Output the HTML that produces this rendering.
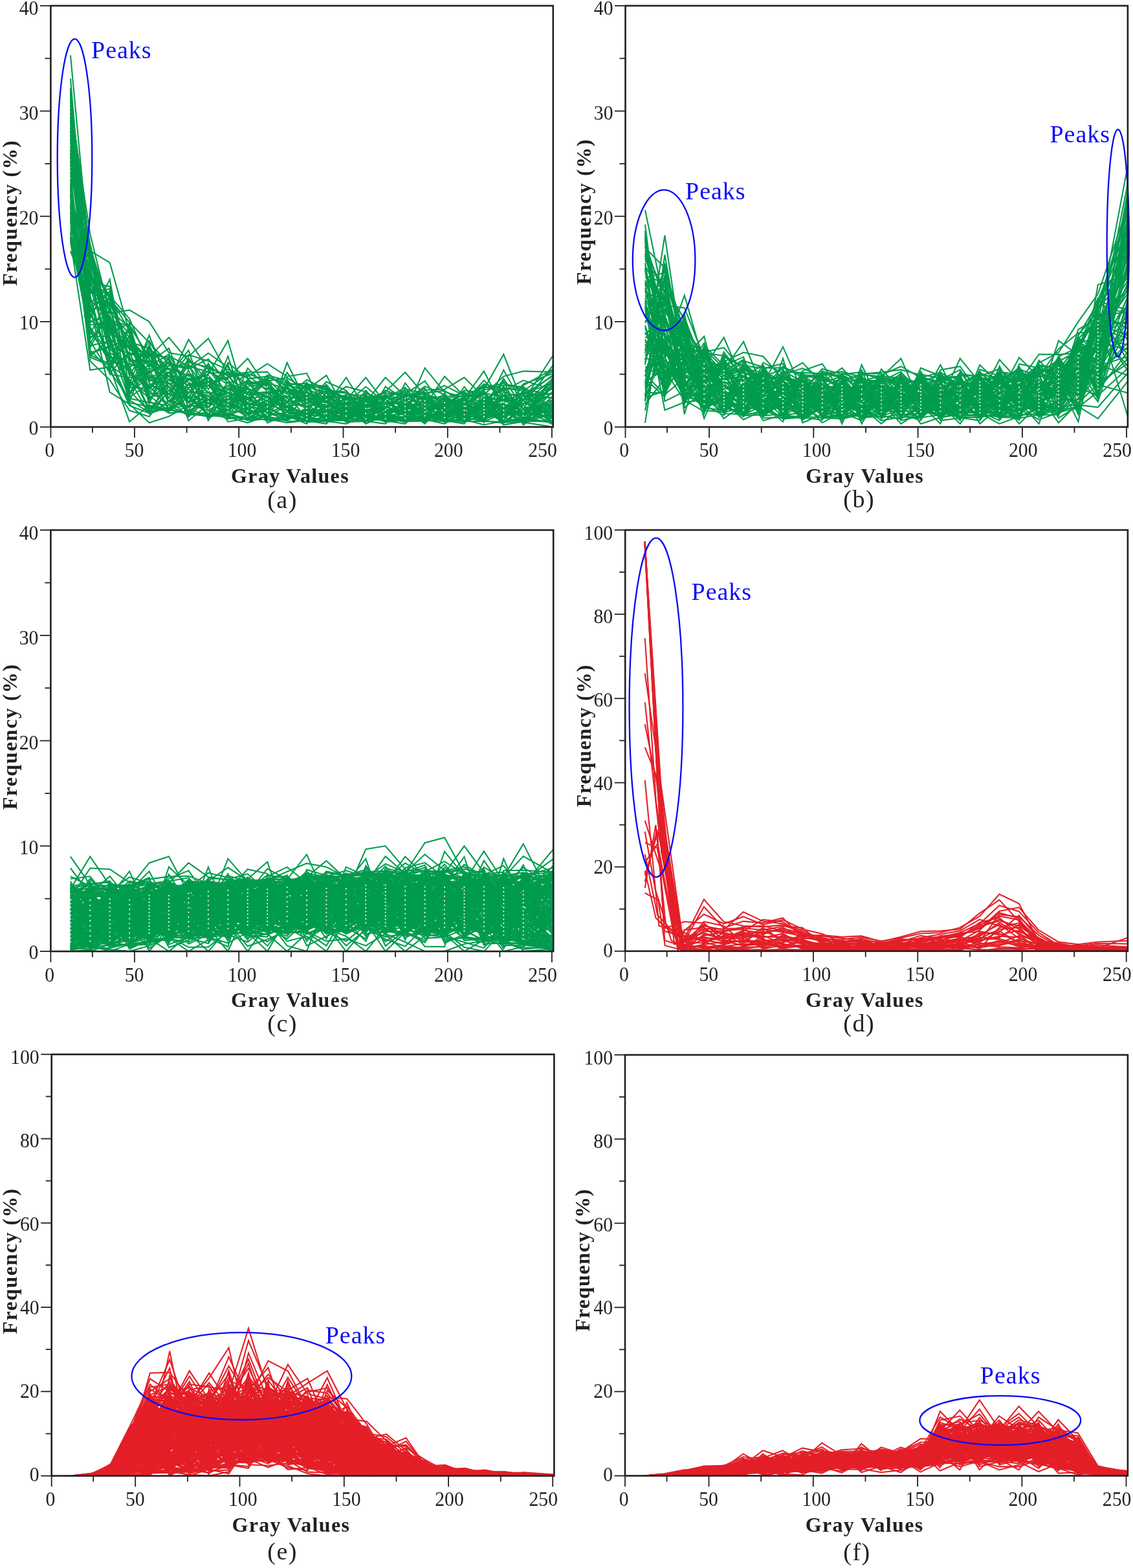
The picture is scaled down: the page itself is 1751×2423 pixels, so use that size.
<!DOCTYPE html><html><head><meta charset="utf-8"><title>Gray value histograms</title><style>
html,body{margin:0;padding:0;background:#fff;overflow:hidden;width:1751px;height:2423px;}svg{display:block;}
.tk{font-family:'Liberation Serif', 'Times New Roman', serif;font-size:31px;fill:#231f20;}
.ttl{font-family:'Liberation Serif', 'Times New Roman', serif;font-size:32px;font-weight:bold;fill:#231f20;}
.lab{font-family:'Liberation Serif', 'Times New Roman', serif;font-size:38px;fill:#231f20;}
.pk{font-family:'Liberation Serif', 'Times New Roman', serif;font-size:38px;fill:#0a0af5;}
</style></head><body>
<svg width="1751" height="2423" viewBox="0 0 1751 2423">
<rect width="1751" height="2423" fill="#fff"/>
<defs>
<clipPath id="clipa"><rect x="78.4" y="8.9" width="776.4" height="650.9"/></clipPath>
<clipPath id="clipb"><rect x="966.5" y="8.9" width="776.4" height="650.9"/></clipPath>
<clipPath id="clipc"><rect x="78.4" y="819.1" width="776.8" height="651"/></clipPath>
<clipPath id="clipd"><rect x="966.2" y="819" width="776.7" height="650.8"/></clipPath>
<clipPath id="clipe"><rect x="79.7" y="1629.3" width="776.7" height="651.3"/></clipPath>
<clipPath id="clipf"><rect x="966" y="1630.1" width="776.9" height="650.4"/></clipPath>
</defs>
<g clip-path="url(#clipa)" fill="none" stroke="#009c4e" stroke-width="2.1" stroke-linejoin="miter" stroke-miterlimit="4">
<polyline points="108.9,185.6 139.3,523.4 169.7,489.6 200.1,620.5 230.6,542.7 261,611.3 291.4,555.6 321.9,589 352.3,601.5 382.7,588.5 413.2,596.5 443.6,626.7 474,625.2 504.4,628.2 534.9,609.5 565.3,611.3 595.7,631.3 626.2,611.3 656.6,616.6 687,643.5 717.5,624.3 747.9,635.8 778.3,571.7 808.7,625.8 854.8,564.2"/>
<polyline points="108.9,315.9 139.3,530.5 169.7,479.6 200.1,506 230.6,602.6 261,558.5 291.4,624 321.9,622 352.3,550.6 382.7,641.6 413.2,621.6 443.6,617.3 474,607.6 504.4,620.5 534.9,648.4 565.3,628.3 595.7,614.3 626.2,618.8 656.6,599.8 687,649 717.5,618.7 747.9,593.5 778.3,601.2 808.7,599.8 854.8,644.7"/>
<polyline points="108.9,151.7 139.3,387.6 169.7,405.9 200.1,513.5 230.6,617.6 261,577.7 291.4,620.9 321.9,576.5 352.3,575.8 382.7,636.7 413.2,602.7 443.6,641.7 474,647.7 504.4,607.7 534.9,612.3 565.3,633.3 595.7,637.7 626.2,635.7 656.6,637.2 687,650.6 717.5,619.6 747.9,641.4 778.3,588.7 808.7,650.4 854.8,590.6"/>
<polyline points="108.9,277 139.3,527 169.7,576.4 200.1,543.4 230.6,619.8 261,638.3 291.4,635 321.9,617.5 352.3,628.2 382.7,620.9 413.2,587 443.6,635.2 474,599.5 504.4,632.1 534.9,649.1 565.3,632.3 595.7,644.1 626.2,645.9 656.6,646.7 687,617.6 717.5,636.5 747.9,634 778.3,649.4 808.7,610.1 854.8,580.9"/>
<polyline points="108.9,254.1 139.3,450.1 169.7,469.6 200.1,530.9 230.6,576.9 261,554.6 291.4,630.3 321.9,596.1 352.3,622.8 382.7,639.1 413.2,634.7 443.6,575.6 474,618.4 504.4,612.8 534.9,650.9 565.3,620.3 595.7,635.5 626.2,637.2 656.6,651.2 687,635.7 717.5,643.5 747.9,621 778.3,598.2 808.7,639.4 854.8,619.5"/>
<polyline points="108.9,365.8 139.3,505.6 169.7,549.6 200.1,588.4 230.6,615.5 261,593.1 291.4,589.9 321.9,619 352.3,644.4 382.7,653.3 413.2,642.2 443.6,637.4 474,650.3 504.4,654.9 534.9,624.3 565.3,640.5 595.7,649.8 626.2,647.4 656.6,649 687,651.2 717.5,647.4 747.9,616.1 778.3,602.7 808.7,656.5 854.8,627.1"/>
<polyline points="108.9,248.4 139.3,494.9 169.7,512.1 200.1,538.4 230.6,566.2 261,547.4 291.4,601.8 321.9,616 352.3,629.6 382.7,591.6 413.2,590.2 443.6,621.8 474,648.7 504.4,610.3 534.9,632.3 565.3,635.5 595.7,627.3 626.2,610.2 656.6,613.4 687,614.7 717.5,625.2 747.9,610.1 778.3,581.6 808.7,573.6 854.8,574.7"/>
<polyline points="108.9,344.4 139.3,434 169.7,542.1 200.1,528.4 230.6,538.4 261,570 291.4,579.9 321.9,594.3 352.3,582.6 382.7,577.4 413.2,588.6 443.6,583.9 474,602.2 504.4,580.1 534.9,636.3 565.3,621.3 595.7,583.3 626.2,612.3 656.6,609.1 687,595.9 717.5,611.3 747.9,597.7 778.3,604.2 808.7,587.8 854.8,602.1"/>
<polyline points="108.9,362.3 139.3,430.8 169.7,547.1 200.1,590.9 230.6,609.1 261,606.6 291.4,577.9 321.9,606.8 352.3,610 382.7,607.3 413.2,605.9 443.6,603.8 474,627.8 504.4,619.2 534.9,639.8 565.3,637 595.7,618.3 626.2,640.4 656.6,645.9 687,642.7 717.5,616.8 747.9,636.8 778.3,651.4 808.7,649.4 854.8,621.4"/>
<polyline points="108.9,214.2 139.3,498.4 169.7,487.1 200.1,575.9 230.6,596.2 261,630.2 291.4,627.2 321.9,626.5 352.3,620.1 382.7,635.5 413.2,636.8 443.6,644.9 474,639.7 504.4,634 534.9,622.3 565.3,644.8 595.7,646.3 626.2,650.6 656.6,640.4 687,648.2 717.5,635.7 747.9,647.9 778.3,637.4 808.7,635.4 854.8,653.6"/>
<polyline points="108.9,388 139.3,462.9 169.7,494.6 200.1,503.8 230.6,551.2 261,521.5 291.4,557.9 321.9,569.4 352.3,579.2 382.7,575.2 413.2,574.7 443.6,606.8 474,606.2 504.4,616.7 534.9,597.5 565.3,605.4 595.7,634.8 626.2,627.3 656.6,620.9 687,628.6 717.5,613.1 747.9,611.3 778.3,652.5 808.7,628.3 854.8,636.6"/>
<polyline points="108.9,141.1 139.3,421.2 169.7,482.1 200.1,516 230.6,568.4 261,585.4 291.4,606.8 321.9,583.6 352.3,626.8 382.7,612.1 413.2,579.8 443.6,588.3 474,626.6 504.4,594.2 534.9,633.3 565.3,634.8 595.7,632.3 626.2,642 656.6,614.5 687,618.6 717.5,605.4 747.9,627.1 778.3,648.4 808.7,621 854.8,635.3"/>
<polyline points="108.9,370.5 139.3,392.3 169.7,522.1 200.1,555.9 230.6,559.8 261,538.2 291.4,616.2 321.9,638.5 352.3,617.4 382.7,586.9 413.2,601.2 443.6,605.3 474,603.5 504.4,640.5 534.9,625.3 565.3,622.3 595.7,613.3 626.2,630.5 656.6,633.3 687,615.7 717.5,629.8 747.9,640.5 778.3,625.1 808.7,646.4 854.8,629.8"/>
<polyline points="108.9,231.3 139.3,440.4 169.7,472.1 200.1,610.9 230.6,535.6 261,617.6 291.4,644 321.9,614.5 352.3,606.6 382.7,644 413.2,616.9 443.6,627.7 474,642.7 504.4,641.4 534.9,631.3 565.3,648.4 595.7,645.5 626.2,623 656.6,639.6 687,619.6 717.5,651.2 747.9,651.1 778.3,651.9 808.7,647.4 854.8,640.7"/>
<polyline points="108.9,330.1 139.3,424.4 169.7,509.6 200.1,595.9 230.6,562 261,579.7 291.4,541.4 321.9,631 352.3,591.2 382.7,634.3 413.2,647.9 443.6,590.3 474,615.7 504.4,618 534.9,640.5 565.3,626.3 595.7,639.8 626.2,624.1 656.6,650.3 687,612.7 717.5,645.1 747.9,630.3 778.3,631.4 808.7,616.1 854.8,598.3"/>
<polyline points="108.9,135.9 139.3,456.5 169.7,569.6 200.1,501.9 230.6,553.4 261,620.7 291.4,583.9 321.9,599.7 352.3,574.1 382.7,593.2 413.2,593.3 443.6,623.3 474,595.3 504.4,601.3 534.9,616.3 565.3,614.3 595.7,611.3 626.2,606 656.6,634.1 687,607.9 717.5,642.7 747.9,645.1 778.3,622.1 808.7,612.5 854.8,648.8"/>
<polyline points="108.9,301.6 139.3,551.9 169.7,564.6 200.1,585.9 230.6,639.5 261,628.6 291.4,603.6 321.9,632.5 352.3,624.1 382.7,645.2 413.2,641.1 443.6,638.5 474,590.9 504.4,649.8 534.9,646.3 565.3,647.7 595.7,629.3 626.2,636.5 656.6,610.2 687,616.6 717.5,620.5 747.9,653.1 778.3,605.7 808.7,614.9 854.8,579"/>
<polyline points="108.9,376.8 139.3,411.5 169.7,578.6 200.1,583.4 230.6,574.8 261,560.4 291.4,591.9 321.9,645.7 352.3,633.6 382.7,601.1 413.2,612.2 443.6,636.3 474,644.7 504.4,631.2 534.9,642.7 565.3,603.3 595.7,636.3 626.2,633.3 656.6,654.9 687,622.6 717.5,645.9 747.9,650.3 778.3,608.6 808.7,629.4 854.8,588.7"/>
<polyline points="108.9,225.6 139.3,473.5 169.7,606.1 200.1,624.6 230.6,653.3 261,643.5 291.4,625.6 321.9,634 352.3,635 382.7,637.9 413.2,633.6 443.6,609.8 474,646.7 504.4,650.9 534.9,654.9 565.3,642 595.7,651.2 626.2,649.8 656.6,648.2 687,654.9 717.5,637.2 747.9,637.7 778.3,644.4 808.7,605.2 854.8,632.5"/>
<polyline points="108.9,174.2 139.3,509.1 169.7,559.6 200.1,626.7 230.6,638.4 261,587.4 291.4,605.2 321.9,611.5 352.3,643.9 382.7,648.3 413.2,643.2 443.6,650.7 474,650.6 504.4,643.3 534.9,642 565.3,613.3 595.7,650.9 626.2,646.7 656.6,636.5 687,646.7 717.5,638 747.9,628.3 778.3,614.6 808.7,648.4 854.8,652.9"/>
<polyline points="108.9,358.7 139.3,502 169.7,499.6 200.1,613.4 230.6,594.1 261,609.7 291.4,561.9 321.9,635.5 352.3,647.3 382.7,642.8 413.2,649.8 443.6,648.9 474,629.8 504.4,650.3 534.9,649.8 565.3,636.3 595.7,649.1 626.2,638 656.6,647.4 687,645.9 717.5,627 747.9,605.2 778.3,652.2 808.7,644.4 854.8,654"/>
<polyline points="108.9,259.8 139.3,405.1 169.7,517.1 200.1,523.4 230.6,555.5 261,619.2 291.4,628.8 321.9,610 352.3,598.1 382.7,627 413.2,613.7 443.6,632 474,643.7 504.4,650.6 534.9,644.1 565.3,639.8 595.7,652.3 626.2,649 656.6,642 687,640.4 717.5,621.5 747.9,647 778.3,635.4 808.7,653.9 854.8,611.8"/>
<polyline points="108.9,340.8 139.3,459.7 169.7,574.1 200.1,615.9 230.6,621.9 261,627 291.4,641.3 321.9,637 352.3,636.3 382.7,608.9 413.2,645.4 443.6,625.6 474,640.7 504.4,644.2 534.9,650.3 565.3,646.3 595.7,630.3 626.2,616.6 656.6,638.8 687,625.6 717.5,642 747.9,646 778.3,628.1 808.7,652.8 854.8,639.3"/>
<polyline points="108.9,323 139.3,395.5 169.7,544.6 200.1,565.9 230.6,632.6 261,598.7 291.4,611.5 321.9,620.5 352.3,596.3 382.7,624.6 413.2,626.1 443.6,599.3 474,611.7 504.4,605.1 534.9,607.4 565.3,617.3 595.7,634.1 626.2,628.4 656.6,626.2 687,633.3 717.5,634.9 747.9,604 778.3,641.4 808.7,602.8 854.8,654.4"/>
<polyline points="108.9,121.3 139.3,477 169.7,449.9 200.1,553.4 230.6,587.6 261,591.2 291.4,622.5 321.9,603.3 352.3,643.1 382.7,628.2 413.2,632.5 443.6,586.1 474,632.8 504.4,646 534.9,629.3 565.3,627.3 595.7,621.3 626.2,639.6 656.6,629.5 687,644.3 717.5,634.1 747.9,622.2 778.3,629.4 808.7,641.4 854.8,594.4"/>
<polyline points="108.9,308.7 139.3,385.4 169.7,497.1 200.1,550.9 230.6,613.3 261,608.2 291.4,563.9 321.9,608.5 352.3,625.5 382.7,590.1 413.2,628.3 443.6,645.9 474,638.7 504.4,636.8 534.9,620.3 565.3,629.3 595.7,609.5 626.2,634.9 656.6,652.3 687,611.7 717.5,633.3 747.9,629.3 778.3,647.4 808.7,619.8 854.8,549.1"/>
<polyline points="108.9,371.8 139.3,571.9 169.7,567.1 200.1,651.7 230.6,626.2 261,636 291.4,613.1 321.9,641.5 352.3,644.9 382.7,597.9 413.2,653.3 443.6,640.6 474,651.2 504.4,648.8 534.9,638.4 565.3,650.3 595.7,637 626.2,651.2 656.6,650.6 687,647.4 717.5,652.3 747.9,619.8 778.3,645.4 808.7,652.5 854.8,659.8"/>
<polyline points="108.9,351.6 139.3,414.7 169.7,532.1 200.1,593.4 230.6,518 261,597 291.4,631.9 321.9,642.8 352.3,641.8 382.7,569.1 413.2,598 443.6,628.8 474,652.3 504.4,651.2 534.9,630.3 565.3,651.2 595.7,647 626.2,634.1 656.6,642.7 687,634.9 717.5,638.8 747.9,633.1 778.3,596.7 808.7,645.4 854.8,596.4"/>
<polyline points="108.9,305.2 139.3,418 169.7,504.6 200.1,608.4 230.6,572.7 261,616 291.4,633.5 321.9,587.2 352.3,645.4 382.7,616.8 413.2,610.6 443.6,633.1 474,645.7 504.4,627 534.9,583.3 565.3,631.3 595.7,617.3 626.2,641.2 656.6,634.9 687,613.7 717.5,607.4 747.9,638.6 778.3,640.4 808.7,637.4 854.8,606"/>
<polyline points="108.9,348 139.3,401.9 169.7,459.6 200.1,511 230.6,604.8 261,623.9 291.4,599.8 321.9,581.9 352.3,618.7 382.7,605.8 413.2,591.8 443.6,600.8 474,623.9 504.4,647.9 534.9,644.8 565.3,652.3 595.7,615.3 626.2,603.6 656.6,619.8 687,610.7 717.5,650.3 747.9,642.3 778.3,623.6 808.7,636.4 854.8,623.1"/>
<polyline points="108.9,191.3 139.3,398.7 169.7,529.6 200.1,618.4 230.6,637.3 261,622.3 291.4,573.9 321.9,623.5 352.3,616 382.7,596.4 413.2,594.9 443.6,647 474,635.7 504.4,624.4 534.9,635.5 565.3,638.4 595.7,647.7 626.2,650.9 656.6,632.5 687,639.6 717.5,641.2 747.9,632.1 778.3,652.8 808.7,651.9 854.8,604.1"/>
<polyline points="108.9,271.3 139.3,389.8 169.7,507.1 200.1,535.9 230.6,589.8 261,568.1 291.4,650 321.9,625 352.3,611.8 382.7,622.2 413.2,627.2 443.6,649.5 474,631.8 504.4,595.6 534.9,637.7 565.3,643.4 595.7,644.8 626.2,652.3 656.6,622 687,652.3 717.5,649 747.9,623.4 778.3,646.4 808.7,618.6 854.8,654.8"/>
<polyline points="108.9,197 139.3,541.3 169.7,571.9 200.1,518.5 230.6,611.2 261,635.4 291.4,593.9 321.9,592.6 352.3,639.1 382.7,647.5 413.2,648.3 443.6,642.7 474,654.9 504.4,603.8 534.9,605.4 565.3,644.1 595.7,641.3 626.2,648.2 656.6,643.5 687,650.3 717.5,639.6 747.9,649.8 778.3,653.9 808.7,632.4 854.8,638"/>
<polyline points="108.9,282.7 139.3,550.3 169.7,524.6 200.1,603.4 230.6,636.2 261,605 291.4,638.2 321.9,643.8 352.3,630.9 382.7,625.8 413.2,644.3 443.6,649.2 474,636.7 504.4,642.3 534.9,611.3 565.3,639.1 595.7,650.3 626.2,654.9 656.6,628.4 687,645.1 717.5,631.7 747.9,643.3 778.3,607.1 808.7,643.4 854.8,586.7"/>
<polyline points="108.9,219.9 139.3,377 169.7,502.1 200.1,548.4 230.6,547 261,583.5 291.4,548.2 321.9,558.1 352.3,571.1 382.7,583.8 413.2,631.5 443.6,620.3 474,593.8 504.4,597.1 534.9,647 565.3,615.3 595.7,607.4 626.2,609.1 656.6,588.7 687,631.6 717.5,626.1 747.9,601.6 778.3,547.5 808.7,624.6 854.8,600.2"/>
<polyline points="108.9,319.4 139.3,537.7 169.7,477.1 200.1,570.9 230.6,634.7 261,633.3 291.4,639.1 321.9,605.1 352.3,651.7 382.7,646.4 413.2,640 443.6,624.5 474,617.1 504.4,634.9 534.9,651.2 565.3,650.9 595.7,654.9 626.2,625.2 656.6,612.3 687,634.1 717.5,630.7 747.9,617.4 778.3,626.6 808.7,634.4 854.8,647.5"/>
<polyline points="108.9,294.5 139.3,469.9 169.7,557.1 200.1,568.4 230.6,540.5 261,556.5 291.4,587.9 321.9,580.1 352.3,613.3 382.7,647.1 413.2,624 443.6,611.3 474,621.2 504.4,625.7 534.9,621.3 565.3,649.8 595.7,643.4 626.2,619.8 656.6,596.9 687,609.7 717.5,649.8 747.9,634.9 778.3,639.4 808.7,633.4 854.8,617.6"/>
<polyline points="108.9,168.5 139.3,383.2 169.7,474.6 200.1,580.9 230.6,526.4 261,581.6 291.4,614.6 321.9,564.7 352.3,586.1 382.7,633.1 413.2,646.5 443.6,560.5 474,622.5 504.4,590.1 534.9,603.3 565.3,637.7 595.7,626.3 626.2,642.7 656.6,624.1 687,624.6 717.5,609.5 747.9,599.8 778.3,592.2 808.7,601.6 854.8,609.8"/>
<polyline points="108.9,326.6 139.3,544.8 169.7,537.1 200.1,545.9 230.6,549.1 261,552.3 291.4,619.3 321.9,628 352.3,603.2 382.7,599.5 413.2,615.3 443.6,629.9 474,610.3 504.4,652.3 534.9,628.3 565.3,654.9 595.7,640.5 626.2,645.1 656.6,635.7 687,650.9 717.5,646.7 747.9,618.6 778.3,636.4 808.7,593.5 854.8,576.9"/>
<polyline points="108.9,265.5 139.3,548.7 169.7,562.1 200.1,508.5 230.6,591.9 261,612.9 291.4,553.1 321.9,601.5 352.3,564 382.7,630.6 413.2,647.1 443.6,648.1 474,633.7 504.4,609 534.9,634.8 565.3,642.7 595.7,628.3 626.2,601.1 656.6,608 687,603.7 717.5,623.3 747.9,648.8 778.3,611.6 808.7,608.9 854.8,646.1"/>
<polyline points="108.9,369.1 139.3,437.2 169.7,442.4 200.1,558.4 230.6,557.7 261,571.9 291.4,559.9 321.9,567.6 352.3,580.9 382.7,610.5 413.2,607.5 443.6,631 474,637.7 504.4,630.3 534.9,623.3 565.3,597.5 595.7,622.3 626.2,620.9 656.6,645.1 687,637.2 717.5,632.5 747.9,624.6 778.3,617.6 808.7,623.4 854.8,584.8"/>
<polyline points="108.9,333.7 139.3,453.3 169.7,446.2 200.1,560.9 230.6,579.1 261,595.1 291.4,597.9 321.9,572.9 352.3,594.6 382.7,604.2 413.2,620 443.6,639.5 474,634.7 504.4,600 534.9,619.3 565.3,641.3 595.7,633.3 626.2,629.5 656.6,625.2 687,649.8 717.5,654.9 747.9,614.9 778.3,616.1 808.7,627.1 854.8,651.5"/>
<polyline points="108.9,157.1 139.3,512.7 169.7,554.6 200.1,622.6 230.6,628.3 261,631.7 291.4,639.9 321.9,613 352.3,621.4 382.7,615.2 413.2,637.9 443.6,648.6 474,604.9 504.4,637.7 534.9,645.5 565.3,634.1 595.7,624.3 626.2,622 656.6,644.3 687,638.8 717.5,650.6 747.9,644.2 778.3,632.4 808.7,652.2 854.8,628.5"/>
<polyline points="108.9,312.3 139.3,446.9 169.7,464.6 200.1,533.4 230.6,585.5 261,566.2 291.4,640.6 321.9,642.3 352.3,589.5 382.7,619.7 413.2,622.9 443.6,602.3 474,608.9 504.4,639.6 534.9,614.3 565.3,645.5 595.7,650.6 626.2,591.9 656.6,631.6 687,620.6 717.5,628.9 747.9,651.5 778.3,638.4 808.7,642.4 854.8,625.8"/>
<polyline points="108.9,242.7 139.3,466.3 169.7,453.7 200.1,578.4 230.6,598.3 261,564.2 291.4,569.9 321.9,554.8 352.3,592.9 382.7,579.6 413.2,604.3 443.6,614.3 474,586.8 504.4,602.5 534.9,650.6 565.3,612.3 595.7,616.3 626.2,598.7 656.6,638 687,626.6 717.5,603.3 747.9,607.6 778.3,613.1 808.7,631.4 854.8,656.3"/>
<polyline points="108.9,287.3 139.3,558.1 169.7,587.1 200.1,634.3 230.6,643.8 261,603.5 291.4,617.8 321.9,585.4 352.3,637.7 382.7,649.8 413.2,647.5 443.6,653.3 474,649.7 504.4,635.8 534.9,637 565.3,647 595.7,648.4 626.2,643.5 656.6,650.9 687,636.5 717.5,640.4 747.9,625.8 778.3,656.5 808.7,651.4 854.8,650.2"/>
<polyline points="108.9,85.4 139.3,408.3 169.7,462.1 200.1,498 230.6,529.5 261,562.3 291.4,567.9 321.9,545.7 352.3,567.5 382.7,602.6 413.2,639 443.6,594.8 474,592.4 504.4,611.5 534.9,639.1 565.3,625.3 595.7,620.3 626.2,608 656.6,615.5 687,623.6 717.5,622.4 747.9,587.8 778.3,619.1 808.7,622.2 854.8,642"/>
<polyline points="108.9,367.8 139.3,519.8 169.7,519.6 200.1,605.9 230.6,583.4 261,614.5 291.4,585.9 321.9,578.3 352.3,526.4 382.7,631.9 413.2,618.4 443.6,618.8 474,630.8 504.4,614.1 534.9,613.3 565.3,616.3 595.7,625.3 626.2,613.4 656.6,605.7 687,641.2 717.5,648.2 747.9,656.5 778.3,650.4 808.7,611.3 854.8,633.9"/>
<polyline points="108.9,298 139.3,547 169.7,534.6 200.1,525.9 230.6,581.2 261,600.3 291.4,636.6 321.9,643.3 352.3,632.3 382.7,594.8 413.2,585.3 443.6,615.8 474,628.8 504.4,647 534.9,641.3 565.3,609.5 595.7,642.7 626.2,644.3 656.6,617.7 687,632.5 717.5,615.9 747.9,573.6 778.3,633.4 808.7,640.4 854.8,582.9"/>
<polyline points="108.9,162.8 139.3,362 169.7,484.6 200.1,479.2 230.6,497.1 261,545 291.4,550.7 321.9,523.1 352.3,577.5 382.7,581.8 413.2,562.2 443.6,581.7 474,576.8 504.4,638.6 534.9,627.3 565.3,607.4 595.7,619.3 626.2,626.2 656.6,602.7 687,601.7 717.5,583.3 747.9,613.7 778.3,620.6 808.7,606.4 854.8,615.6"/>
<polyline points="108.9,355.1 139.3,427.6 169.7,492.1 200.1,520.9 230.6,624 261,549.9 291.4,565.9 321.9,574.7 352.3,587.8 382.7,618.3 413.2,583.5 443.6,591.8 474,596.7 504.4,598.6 534.9,615.3 565.3,619.3 595.7,612.3 626.2,615.5 656.6,623 687,630.6 717.5,628 747.9,595.6 778.3,610.1 808.7,638.4 854.8,643.4"/>
<polyline points="108.9,237 139.3,484.2 169.7,552.1 200.1,573.4 230.6,630.5 261,634.2 291.4,571.9 321.9,650 352.3,599.8 382.7,640.4 413.2,625 443.6,634.2 474,641.7 504.4,633.1 534.9,652.3 565.3,650.6 595.7,638.4 626.2,650.3 656.6,649.8 687,638 717.5,644.3 747.9,612.5 778.3,630.4 808.7,607.6 854.8,592.5"/>
<polyline points="108.9,208.5 139.3,516.3 169.7,457.1 200.1,492.5 230.6,564.1 261,589.3 291.4,524.7 321.9,571.2 352.3,608.3 382.7,613.6 413.2,635.8 443.6,593.3 474,614.4 504.4,623.1 534.9,643.4 565.3,623.3 595.7,639.1 626.2,631.6 656.6,618.8 687,627.6 717.5,650.9 747.9,606.4 778.3,643.4 808.7,617.4 854.8,613.7"/>
<polyline points="108.9,179.9 139.3,480.6 169.7,467.1 200.1,540.9 230.6,544.8 261,625.4 291.4,581.9 321.9,629.5 352.3,560.4 382.7,585.4 413.2,581.6 443.6,596.3 474,600.8 504.4,615.4 534.9,647.7 565.3,630.3 595.7,603.3 626.2,614.5 656.6,627.3 687,581.7 717.5,612.2 747.9,608.9 778.3,634.4 808.7,595.6 854.8,570.3"/>
<polyline points="108.9,337.3 139.3,534.1 169.7,527.1 200.1,598.4 230.6,600.5 261,573.9 291.4,609.9 321.9,640 352.3,640.4 382.7,647.9 413.2,629.3 443.6,612.8 474,598.1 504.4,606.4 534.9,634.1 565.3,618.3 595.7,605.4 626.2,575.2 656.6,611.3 687,642 717.5,597.5 747.9,639.6 778.3,642.4 808.7,613.7 854.8,607.9"/>
<polyline points="108.9,146.4 139.3,491.3 169.7,431.8 200.1,600.9 230.6,532.6 261,601.9 291.4,575.9 321.9,597.9 352.3,604.9 382.7,629.4 413.2,609 443.6,597.8 474,619.8 504.4,629.3 534.9,617.3 565.3,624.3 595.7,642 626.2,638.8 656.6,568.7 687,605.8 717.5,614 747.9,602.8 778.3,595.2 808.7,597.7 854.8,631.2"/>
<polyline points="108.9,290.9 139.3,443.7 169.7,539.6 200.1,563.4 230.6,570.5 261,634.8 291.4,608.3 321.9,561.4 352.3,614.6 382.7,623.4 413.2,630.4 443.6,643.8 474,650.9 504.4,645.1 534.9,618.3 565.3,583.3 595.7,623.3 626.2,632.5 656.6,630.5 687,629.6 717.5,615 747.9,631.2 778.3,585.1 808.7,630.4 854.8,624.4"/>
<polyline points="108.9,202.7 139.3,487.7 169.7,514.6 200.1,499.9 230.6,606.9 261,575.8 291.4,595.9 321.9,590.8 352.3,584.3 382.7,554 413.2,599.6 443.6,608.3 474,613 504.4,621.8 534.9,626.3 565.3,649.1 595.7,597.5 626.2,617.7 656.6,641.2 687,621.6 717.5,617.8 747.9,650.7 778.3,599.7 808.7,604 854.8,572.5"/>
</g>
<g clip-path="url(#clipb)" fill="none" stroke="#009c4e" stroke-width="2.1" stroke-linejoin="miter" stroke-miterlimit="4">
<polyline points="997,398.6 1027.4,483.2 1057.8,514.2 1088.2,592.8 1118.7,575.4 1149.1,571.7 1179.5,584.5 1210,582.3 1240.4,593.6 1270.8,621.9 1301.2,622.1 1331.7,625.8 1362.1,634.2 1392.5,626.8 1423,581.8 1453.4,617.5 1483.8,636.9 1514.3,563.8 1544.7,594 1575.1,585 1605.6,590.1 1636,598.6 1666.4,582.3 1696.8,549.9 1742.9,347.3"/>
<polyline points="997,545.7 1027.4,432.3 1057.8,526 1088.2,604 1118.7,621.1 1149.1,648.4 1179.5,634 1210,572.6 1240.4,590.5 1270.8,645.7 1301.2,647.3 1331.7,640.7 1362.1,638.8 1392.5,608.6 1423,623 1453.4,638.8 1483.8,632.3 1514.3,587.4 1544.7,584.7 1575.1,635.6 1605.6,597.2 1636,573.2 1666.4,635.4 1696.8,465.8 1742.9,478.9"/>
<polyline points="997,468.1 1027.4,566.5 1057.8,592.8 1088.2,633.4 1118.7,612.8 1149.1,595.2 1179.5,615.5 1210,644.1 1240.4,577 1270.8,632.7 1301.2,576.9 1331.7,586.9 1362.1,589 1392.5,574.3 1423,622.1 1453.4,592.1 1483.8,618.4 1514.3,596.6 1544.7,628 1575.1,643 1605.6,608.8 1636,602.3 1666.4,608.6 1696.8,518.2 1742.9,453.7"/>
<polyline points="997,653.3 1027.4,460.6 1057.8,622.5 1088.2,580.3 1118.7,555.5 1149.1,637.5 1179.5,617.5 1210,619.3 1240.4,643.9 1270.8,645.2 1301.2,626.8 1331.7,584.9 1362.1,604.5 1392.5,627.7 1423,631.4 1453.4,583.9 1483.8,595.2 1514.3,629.7 1544.7,572.4 1575.1,626.3 1605.6,634.8 1636,563.8 1666.4,631.6 1696.8,487.3 1742.9,482.5"/>
<polyline points="997,437.2 1027.4,597.4 1057.8,500.5 1088.2,632.6 1118.7,579.3 1149.1,573 1179.5,631.9 1210,624.2 1240.4,634.6 1270.8,613.1 1301.2,636 1331.7,614.7 1362.1,584.9 1392.5,588 1423,591.1 1453.4,577.9 1483.8,601.4 1514.3,654.9 1544.7,629 1575.1,579.6 1605.6,633.7 1636,619.6 1666.4,552.1 1696.8,503.8 1742.9,572.8"/>
<polyline points="997,487.4 1027.4,417.5 1057.8,512.3 1088.2,605.3 1118.7,558.7 1149.1,544.5 1179.5,550.8 1210,586.7 1240.4,636.6 1270.8,597.7 1301.2,584.9 1331.7,620.3 1362.1,579.3 1392.5,566.2 1423,583.9 1453.4,575.1 1483.8,596.2 1514.3,597.7 1544.7,603.3 1575.1,566.7 1605.6,620.7 1636,571.9 1666.4,531.7 1696.8,489.4 1742.9,450.1"/>
<polyline points="997,406.3 1027.4,587.1 1057.8,510.3 1088.2,546.9 1118.7,581.9 1149.1,614.7 1179.5,643.5 1210,621.3 1240.4,574.9 1270.8,643.9 1301.2,645 1331.7,604.5 1362.1,615.6 1392.5,580.3 1423,617.5 1453.4,599.3 1483.8,586.9 1514.3,611.1 1544.7,621.8 1575.1,618.1 1605.6,596 1636,608.5 1666.4,521.9 1696.8,543.3 1742.9,396.8"/>
<polyline points="997,625 1027.4,584.6 1057.8,508.4 1088.2,620.6 1118.7,596 1149.1,609.3 1179.5,607.2 1210,635.9 1240.4,582.2 1270.8,603.9 1301.2,646.1 1331.7,624.9 1362.1,598.3 1392.5,642.5 1423,632.3 1453.4,627.7 1483.8,628.6 1514.3,579.3 1544.7,642.4 1575.1,583.9 1605.6,636.9 1636,599.8 1666.4,564 1696.8,554.4 1742.9,355.6"/>
<polyline points="997,429.5 1027.4,421.2 1057.8,601.6 1088.2,591.4 1118.7,561.3 1149.1,612.6 1179.5,595.8 1210,591 1240.4,592.5 1270.8,593.6 1301.2,633.2 1331.7,597.2 1362.1,645 1392.5,575.8 1423,604.5 1453.4,600.3 1483.8,591.1 1514.3,646.1 1544.7,610.5 1575.1,619.1 1605.6,638 1636,549.5 1666.4,605.5 1696.8,501.7 1742.9,518.5"/>
<polyline points="997,483.6 1027.4,480.4 1057.8,506.4 1088.2,549.7 1118.7,587 1149.1,580.4 1179.5,618.5 1210,596.4 1240.4,639.5 1270.8,601.8 1301.2,624 1331.7,637.9 1362.1,570.3 1392.5,602.4 1423,600.3 1453.4,601.4 1483.8,643.4 1514.3,574 1544.7,609.4 1575.1,552.4 1605.6,583 1636,574.5 1666.4,540.2 1696.8,485.2 1742.9,507.7"/>
<polyline points="997,394.7 1027.4,491.7 1057.8,563 1088.2,544.2 1118.7,537.2 1149.1,574.2 1179.5,592.4 1210,637.9 1240.4,599.7 1270.8,575.3 1301.2,606.5 1331.7,606.5 1362.1,579.9 1392.5,611.7 1423,628.6 1453.4,578.9 1483.8,644.5 1514.3,619 1544.7,573.6 1575.1,587.2 1605.6,575.9 1636,587.9 1666.4,575.9 1696.8,483.2 1742.9,326.7"/>
<polyline points="997,563.8 1027.4,363.6 1057.8,570 1088.2,597 1118.7,631.7 1149.1,569.3 1179.5,582.2 1210,570.4 1240.4,625.8 1270.8,576.3 1301.2,583.9 1331.7,624 1362.1,613.7 1392.5,616.6 1423,578.2 1453.4,584.9 1483.8,592.1 1514.3,594.6 1544.7,600.2 1575.1,620.2 1605.6,642.9 1636,624.5 1666.4,543.6 1696.8,528.5 1742.9,540.2"/>
<polyline points="997,549.3 1027.4,514.4 1057.8,582.3 1088.2,590 1118.7,614 1149.1,635.3 1179.5,610.3 1210,587.7 1240.4,616 1270.8,641.5 1301.2,635.1 1331.7,644 1362.1,639.7 1392.5,601.4 1423,607.5 1453.4,636.9 1483.8,645.5 1514.3,649.8 1544.7,606.3 1575.1,592.6 1605.6,565.3 1636,629.5 1666.4,560.6 1696.8,596.4 1742.9,308.3"/>
<polyline points="997,346.8 1027.4,592.3 1057.8,561.2 1088.2,608.1 1118.7,636.4 1149.1,559.5 1179.5,590.2 1210,623.2 1240.4,619 1270.8,583.3 1301.2,601.4 1331.7,611.7 1362.1,591.1 1392.5,607.5 1423,608.6 1453.4,628.6 1483.8,626.8 1514.3,612.1 1544.7,619.7 1575.1,628.4 1605.6,605.5 1636,552.6 1666.4,611.7 1696.8,547.7 1742.9,460.9"/>
<polyline points="997,599.8 1027.4,508.7 1057.8,527.9 1088.2,542.8 1118.7,630.5 1149.1,638.5 1179.5,597 1210,601.8 1240.4,613.1 1270.8,614.1 1301.2,614.7 1331.7,629.5 1362.1,654.9 1392.5,628.6 1423,585.9 1453.4,589 1483.8,634.2 1514.3,638.5 1544.7,654.9 1575.1,643.6 1605.6,629.4 1636,638.4 1666.4,599.3 1696.8,611.1 1742.9,569.2"/>
<polyline points="997,578.2 1027.4,609.7 1057.8,584.1 1088.2,572 1118.7,597.3 1149.1,601.4 1179.5,650 1210,640.8 1240.4,638.5 1270.8,609 1301.2,644.5 1331.7,636.9 1362.1,636.9 1392.5,593.1 1423,599.3 1453.4,616.6 1483.8,640.7 1514.3,608 1544.7,631.1 1575.1,649.1 1605.6,579.5 1636,635.7 1666.4,590 1696.8,495.5 1742.9,417.4"/>
<polyline points="997,491.3 1027.4,435.1 1057.8,555.3 1088.2,609.5 1118.7,551.7 1149.1,565.5 1179.5,568.6 1210,568.2 1240.4,579.1 1270.8,581.2 1301.2,600.3 1331.7,598.3 1362.1,583.9 1392.5,621.2 1423,606.5 1453.4,605.5 1483.8,620.3 1514.3,604.9 1544.7,633.1 1575.1,593.7 1605.6,588.9 1636,594.6 1666.4,565.7 1696.8,616.4 1742.9,301.6"/>
<polyline points="997,581.8 1027.4,454.9 1057.8,594.6 1088.2,587.3 1118.7,625.8 1149.1,581.6 1179.5,564.1 1210,616.4 1240.4,609 1270.8,639.5 1301.2,637.9 1331.7,649.8 1362.1,609.6 1392.5,641.6 1423,605.5 1453.4,582.8 1483.8,581.8 1514.3,644 1544.7,595 1575.1,609.9 1605.6,631.5 1636,620.8 1666.4,530 1696.8,563.2 1742.9,580.2"/>
<polyline points="997,379.3 1027.4,569.1 1057.8,529.9 1088.2,551.1 1118.7,594.7 1149.1,621.2 1179.5,577.7 1210,627.1 1240.4,617 1270.8,622.9 1301.2,581.1 1331.7,618.4 1362.1,616.6 1392.5,589 1423,639.7 1453.4,621.2 1483.8,649.8 1514.3,583.3 1544.7,616.6 1575.1,602.3 1605.6,560.8 1636,544.8 1666.4,497.1 1696.8,454.4 1742.9,318.5"/>
<polyline points="997,361.6 1027.4,543.4 1057.8,596.3 1088.2,548.3 1118.7,599.7 1149.1,607.2 1179.5,572 1210,609.4 1240.4,601.8 1270.8,619.9 1301.2,588 1331.7,589 1362.1,580.5 1392.5,584.9 1423,616.6 1453.4,604.5 1483.8,580.3 1514.3,581.2 1544.7,570 1575.1,603.4 1605.6,627.2 1636,642.4 1666.4,562.3 1696.8,532.6 1742.9,446.2"/>
<polyline points="997,516.9 1027.4,486.1 1057.8,580.5 1088.2,529.9 1118.7,617.5 1149.1,605 1179.5,637.1 1210,622.2 1240.4,622.9 1270.8,626.8 1301.2,609.6 1331.7,602.4 1362.1,629.5 1392.5,582.8 1423,647.3 1453.4,619.3 1483.8,554 1514.3,591.5 1544.7,588.8 1575.1,569.1 1605.6,602 1636,578.6 1666.4,570.8 1696.8,589.8 1742.9,315.1"/>
<polyline points="997,616.5 1027.4,527.9 1057.8,566.5 1088.2,537.8 1118.7,632.9 1149.1,596.4 1179.5,612.4 1210,606.1 1240.4,586.3 1270.8,611.1 1301.2,643.4 1331.7,583.9 1362.1,597.2 1392.5,636 1423,578.9 1453.4,647.3 1483.8,614.7 1514.3,586.3 1544.7,590.9 1575.1,617.1 1605.6,573.5 1636,570.5 1666.4,640.8 1696.8,538.9 1742.9,493.3"/>
<polyline points="997,364.4 1027.4,548.5 1057.8,549.4 1088.2,573.4 1118.7,574.1 1149.1,555.5 1179.5,611.3 1210,584.5 1240.4,596.6 1270.8,633.6 1301.2,589 1331.7,628.6 1362.1,599.3 1392.5,577.3 1423,643.4 1453.4,579.8 1483.8,593.1 1514.3,576.6 1544.7,587.8 1575.1,604.5 1605.6,617.5 1636,610.9 1666.4,538.5 1696.8,460.6 1742.9,525.8"/>
<polyline points="997,375.4 1027.4,466.3 1057.8,557.3 1088.2,574.8 1118.7,637.4 1149.1,628.8 1179.5,620.6 1210,600.7 1240.4,594.6 1270.8,638.5 1301.2,628.6 1331.7,643.4 1362.1,623 1392.5,596.2 1423,584.9 1453.4,635.1 1483.8,585.9 1514.3,610 1544.7,604.3 1575.1,572.8 1605.6,600.8 1636,614.6 1666.4,577.6 1696.8,534.7 1742.9,392.6"/>
<polyline points="997,414 1027.4,620 1057.8,605.1 1088.2,629 1118.7,600.9 1149.1,586.6 1179.5,581.1 1210,628.1 1240.4,629.7 1270.8,600.8 1301.2,597.2 1331.7,617.5 1362.1,593.1 1392.5,578.8 1423,640.7 1453.4,629.5 1483.8,578.8 1514.3,645.5 1544.7,601.2 1575.1,575.3 1605.6,593.7 1636,590.6 1666.4,651.7 1696.8,509.9 1742.9,376.2"/>
<polyline points="997,372.6 1027.4,540.8 1057.8,456.4 1088.2,562.2 1118.7,585.7 1149.1,575.4 1179.5,625.8 1210,647.3 1240.4,644.8 1270.8,605.9 1301.2,611.7 1331.7,595.2 1362.1,625.8 1392.5,635.1 1423,634.2 1453.4,624 1483.8,641.6 1514.3,640.5 1544.7,579.6 1575.1,590.4 1605.6,547.5 1636,547.9 1666.4,545.3 1696.8,516.1 1742.9,283.4"/>
<polyline points="997,534.9 1027.4,553.7 1057.8,491 1088.2,569.2 1118.7,618.7 1149.1,579.1 1179.5,606 1210,604 1240.4,580.2 1270.8,599.7 1301.2,634.2 1331.7,576.9 1362.1,577.5 1392.5,603.4 1423,612.7 1453.4,585.9 1483.8,604.5 1514.3,580.2 1544.7,632.1 1575.1,644.2 1605.6,630.4 1636,627 1666.4,528.3 1696.8,545.5 1742.9,305"/>
<polyline points="997,513.3 1027.4,574.3 1057.8,551.4 1088.2,519.9 1118.7,635.3 1149.1,591.5 1179.5,645.7 1210,645.1 1240.4,645.2 1270.8,648.9 1301.2,595.2 1331.7,607.5 1362.1,631.4 1392.5,624 1423,609.6 1453.4,622.1 1483.8,629.5 1514.3,602.8 1544.7,613.6 1575.1,633.6 1605.6,618.5 1636,639.9 1666.4,616.3 1696.8,440.1 1742.9,425.6"/>
<polyline points="997,596.2 1027.4,488.9 1057.8,564.8 1088.2,576.1 1118.7,635.9 1149.1,561.6 1179.5,613.4 1210,599.6 1240.4,589.4 1270.8,637.6 1301.2,591.1 1331.7,636 1362.1,578.7 1392.5,645.5 1423,595.2 1453.4,606.5 1483.8,598.3 1514.3,614.1 1544.7,555.7 1575.1,589.3 1605.6,578.3 1636,562.5 1666.4,586.9 1696.8,530.5 1742.9,471.7"/>
<polyline points="997,607 1027.4,606.9 1057.8,484.1 1088.2,639.5 1118.7,547.8 1149.1,584.1 1179.5,603.8 1210,581.2 1240.4,600.8 1270.8,628.8 1301.2,632.3 1331.7,592.1 1362.1,635.1 1392.5,629.5 1423,576.9 1453.4,646.1 1483.8,610.6 1514.3,627.8 1544.7,617.7 1575.1,605.6 1605.6,606.6 1636,554.2 1666.4,614.7 1696.8,572.1 1742.9,504.1"/>
<polyline points="997,460.4 1027.4,530.5 1057.8,585.8 1088.2,626.2 1118.7,641.7 1149.1,590.3 1179.5,641.6 1210,617.3 1240.4,648.9 1270.8,629.7 1301.2,602.4 1331.7,646.1 1362.1,608.6 1392.5,599.3 1423,620.3 1453.4,631.4 1483.8,615.6 1514.3,633.6 1544.7,639.3 1575.1,580.7 1605.6,643.5 1636,630.7 1666.4,558.9 1696.8,603.1 1742.9,543.8"/>
<polyline points="997,538.5 1027.4,545.9 1057.8,575.3 1088.2,577.5 1118.7,557.4 1149.1,582.8 1179.5,629.9 1210,620.3 1240.4,641.5 1270.8,630.7 1301.2,625.8 1331.7,647.3 1362.1,637.9 1392.5,623 1423,589 1453.4,643.4 1483.8,630.5 1514.3,619.9 1544.7,637.2 1575.1,642.4 1605.6,586.6 1636,646 1666.4,627.1 1696.8,522.3 1742.9,533"/>
<polyline points="997,356.4 1027.4,582 1057.8,547.5 1088.2,627.6 1118.7,583.2 1149.1,557.5 1179.5,567.5 1210,613.4 1240.4,631.7 1270.8,586.3 1301.2,627.7 1331.7,571.7 1362.1,643.4 1392.5,632.3 1423,630.5 1453.4,603.4 1483.8,616.6 1514.3,626.8 1544.7,646.1 1575.1,591.5 1605.6,607.7 1636,557.1 1666.4,591.6 1696.8,524.4 1742.9,489.7"/>
<polyline points="997,502.5 1027.4,608.3 1057.8,553.4 1088.2,619.2 1118.7,616.3 1149.1,641.9 1179.5,641.1 1210,614.4 1240.4,640.5 1270.8,616 1301.2,616.6 1331.7,613.7 1362.1,606.5 1392.5,595.2 1423,601.4 1453.4,602.4 1483.8,637.9 1514.3,637.6 1544.7,583.7 1575.1,629.4 1605.6,592.5 1636,607.2 1666.4,509.2 1696.8,491.4 1742.9,643.5"/>
<polyline points="997,585.4 1027.4,613.1 1057.8,516.2 1088.2,615.1 1118.7,637.9 1149.1,577.9 1179.5,642.4 1210,639.8 1240.4,646.8 1270.8,627.8 1301.2,642.5 1331.7,616.6 1362.1,602.4 1392.5,600.3 1423,624 1453.4,626.8 1483.8,644 1514.3,578.4 1544.7,630 1575.1,586.1 1605.6,580.6 1636,582.6 1666.4,597.7 1696.8,567.6 1742.9,496.9"/>
<polyline points="997,417.9 1027.4,505.9 1057.8,573.5 1088.2,570.6 1118.7,570.3 1149.1,610.4 1179.5,633 1210,630.1 1240.4,591.5 1270.8,612.1 1301.2,629.5 1331.7,603.4 1362.1,640.7 1392.5,592.1 1423,627.7 1453.4,576.9 1483.8,624.9 1514.3,615.1 1544.7,614.6 1575.1,608.8 1605.6,572.3 1636,601.1 1666.4,547 1696.8,612.8 1742.9,464.5"/>
<polyline points="997,367.1 1027.4,600 1057.8,488.7 1088.2,588.7 1118.7,553.6 1149.1,608.3 1179.5,576.6 1210,636.9 1240.4,623.9 1270.8,594.6 1301.2,621.2 1331.7,578.9 1362.1,581.8 1392.5,630.5 1423,614.7 1453.4,594.2 1483.8,619.3 1514.3,631.7 1544.7,574.9 1575.1,578.5 1605.6,584.2 1636,609.7 1666.4,574.2 1696.8,499.6 1742.9,256.2"/>
<polyline points="997,433.3 1027.4,520.1 1057.8,610.3 1088.2,610.9 1118.7,629.4 1149.1,625.6 1179.5,560.1 1210,576.9 1240.4,598.7 1270.8,620.9 1301.2,578.9 1331.7,608.6 1362.1,626.8 1392.5,610.6 1423,610.6 1453.4,591.1 1483.8,642.5 1514.3,642.5 1544.7,565.7 1575.1,623.3 1605.6,587.7 1636,615.9 1666.4,617.8 1696.8,556.6 1742.9,380.3"/>
<polyline points="997,610.6 1027.4,477.6 1057.8,535.7 1088.2,565 1118.7,624.6 1149.1,644 1179.5,609.3 1210,618.3 1240.4,637.6 1270.8,591.5 1301.2,581.8 1331.7,590 1362.1,611.7 1392.5,598.3 1423,615.6 1453.4,620.3 1483.8,582.8 1514.3,639.5 1544.7,644.5 1575.1,646.2 1605.6,640.9 1636,559.8 1666.4,593.1 1696.8,578.7 1742.9,529.4"/>
<polyline points="997,425.6 1027.4,437.9 1057.8,608.6 1088.2,594.2 1118.7,562.6 1149.1,600.1 1179.5,622.7 1210,580.2 1240.4,595.6 1270.8,596.6 1301.2,617.5 1331.7,631.4 1362.1,586.9 1392.5,620.3 1423,597.2 1453.4,609.6 1483.8,612.7 1514.3,589.4 1544.7,578.5 1575.1,634.6 1605.6,603.1 1636,551 1666.4,536.8 1696.8,607.5 1742.9,384.4"/>
<polyline points="997,402.5 1027.4,443.6 1057.8,493.4 1088.2,612.3 1118.7,603.3 1149.1,631 1179.5,630.9 1210,626.1 1240.4,644.4 1270.8,618 1301.2,580.4 1331.7,654.9 1362.1,601.4 1392.5,640.7 1423,638.8 1453.4,593.1 1483.8,647.3 1514.3,605.9 1544.7,612.5 1575.1,636.6 1605.6,611 1636,653.3 1666.4,622.5 1696.8,594.2 1742.9,607.2"/>
<polyline points="997,527.7 1027.4,558.8 1057.8,589.3 1088.2,631.2 1118.7,544 1149.1,585.3 1179.5,578.8 1210,610.4 1240.4,614.1 1270.8,610 1301.2,620.3 1331.7,580.8 1362.1,647.3 1392.5,594.2 1423,636.9 1453.4,581.8 1483.8,584.9 1514.3,625.8 1544.7,605.3 1575.1,637.7 1605.6,622.9 1636,632 1666.4,550.4 1696.8,587.6 1742.9,511.3"/>
<polyline points="997,506.1 1027.4,579.4 1057.8,531.8 1088.2,595.6 1118.7,605.7 1149.1,626.6 1179.5,621.6 1210,598.5 1240.4,581.2 1270.8,584.3 1301.2,590 1331.7,577.9 1362.1,575.3 1392.5,571.4 1423,579.6 1453.4,632.3 1483.8,627.7 1514.3,598.7 1544.7,589.9 1575.1,570.4 1605.6,581.8 1636,539.2 1666.4,514.5 1696.8,512 1742.9,565.5"/>
<polyline points="997,410.2 1027.4,469.1 1057.8,522.1 1088.2,563.6 1118.7,584.4 1149.1,570.5 1179.5,575.4 1210,605 1240.4,620.9 1270.8,587.4 1301.2,594.2 1331.7,609.6 1362.1,596.2 1392.5,644 1423,646.1 1453.4,588 1483.8,602.4 1514.3,630.7 1544.7,622.8 1575.1,576.4 1605.6,635.8 1636,622.1 1666.4,524.9 1696.8,614.6 1742.9,343.2"/>
<polyline points="997,495.1 1027.4,511.6 1057.8,504.4 1088.2,634.1 1118.7,636.9 1149.1,594 1179.5,573.2 1210,589.9 1240.4,632.7 1270.8,588.4 1301.2,612.7 1331.7,621.2 1362.1,622.1 1392.5,654.9 1423,635.1 1453.4,595.2 1483.8,621.2 1514.3,643.4 1544.7,577.3 1575.1,600.2 1605.6,567.6 1636,636.9 1666.4,630.5 1696.8,541.1 1742.9,421.5"/>
<polyline points="997,542.1 1027.4,428.6 1057.8,606.8 1088.2,567.8 1118.7,521.5 1149.1,592.7 1179.5,587.9 1210,592.1 1240.4,635.6 1270.8,590.5 1301.2,568.7 1331.7,601.4 1362.1,624 1392.5,636.9 1423,568.7 1453.4,580.8 1483.8,597.2 1514.3,577.5 1544.7,585.7 1575.1,625.3 1605.6,556.8 1636,589.3 1666.4,600.8 1696.8,507.9 1742.9,522.2"/>
<polyline points="997,520.5 1027.4,535.6 1057.8,598.1 1088.2,559.5 1118.7,627 1149.1,622.3 1179.5,586.8 1210,632 1240.4,610 1270.8,589.4 1301.2,613.7 1331.7,633.2 1362.1,645.5 1392.5,639.7 1423,649.8 1453.4,596.2 1483.8,613.7 1514.3,606.9 1544.7,611.5 1575.1,611.9 1605.6,623.9 1636,604.8 1666.4,629.4 1696.8,605.3 1742.9,468.1"/>
<polyline points="997,556.6 1027.4,446.4 1057.8,630.1 1088.2,602.6 1118.7,646.8 1149.1,624.5 1179.5,583.4 1210,635 1240.4,602.8 1270.8,608 1301.2,641.6 1331.7,579.8 1362.1,644.5 1392.5,614.7 1423,636 1453.4,641.6 1483.8,635.1 1514.3,571 1544.7,580.6 1575.1,630.5 1605.6,591.3 1636,603.5 1666.4,520.4 1696.8,580.9 1742.9,363.8"/>
<polyline points="997,452.7 1027.4,463.4 1057.8,545.5 1088.2,566.4 1118.7,602.1 1149.1,627.7 1179.5,569.7 1210,561.7 1240.4,619.9 1270.8,579.2 1301.2,579.6 1331.7,593.1 1362.1,585.9 1392.5,597.2 1423,592.1 1453.4,637.9 1483.8,609.6 1514.3,634.6 1544.7,586.8 1575.1,571.6 1605.6,609.9 1636,612.2 1666.4,535.1 1696.8,583.1 1742.9,409.1"/>
<polyline points="997,441.1 1027.4,449.3 1057.8,537.7 1088.2,606.7 1118.7,589.6 1149.1,602.6 1179.5,628.8 1210,608.3 1240.4,627.8 1270.8,602.8 1301.2,618.4 1331.7,588 1362.1,605.5 1392.5,606.5 1423,645 1453.4,571.7 1483.8,566.2 1514.3,609 1544.7,593 1575.1,588.3 1605.6,563.1 1636,597.3 1666.4,518.9 1696.8,467.5 1742.9,388.5"/>
<polyline points="997,448.8 1027.4,551.1 1057.8,617.3 1088.2,560.9 1118.7,563.8 1149.1,620.2 1179.5,589 1210,638.9 1240.4,621.9 1270.8,653.3 1301.2,636.9 1331.7,627.7 1362.1,649.8 1392.5,644.5 1423,574.4 1453.4,624.9 1483.8,654.9 1514.3,613.1 1544.7,624.9 1575.1,613 1605.6,616.4 1636,634.4 1666.4,628.2 1696.8,646.8 1742.9,589.2"/>
<polyline points="997,444.9 1027.4,517.2 1057.8,613.8 1088.2,553.9 1118.7,622.2 1149.1,613.7 1179.5,627.8 1210,579.1 1240.4,569.1 1270.8,582.2 1301.2,654.9 1331.7,591.1 1362.1,628.6 1392.5,612.7 1423,654.9 1453.4,645 1483.8,622.1 1514.3,628.8 1544.7,576.1 1575.1,627.4 1605.6,612 1636,596 1666.4,624 1696.8,574.3 1742.9,536.6"/>
<polyline points="997,618.4 1027.4,533.1 1057.8,603.3 1088.2,584.5 1118.7,610.4 1149.1,640.8 1179.5,636.1 1210,588.8 1240.4,633.6 1270.8,617 1301.2,593.1 1331.7,615.6 1362.1,581.1 1392.5,643.4 1423,581.1 1453.4,610.6 1483.8,611.7 1514.3,647.3 1544.7,615.6 1575.1,654.9 1605.6,625 1636,633.2 1666.4,580.8 1696.8,620.7 1742.9,475.3"/>
<polyline points="997,479.7 1027.4,538.2 1057.8,618.4 1088.2,635.9 1118.7,588.3 1149.1,616.9 1179.5,616.5 1210,607.2 1240.4,612.1 1270.8,643.4 1301.2,603.4 1331.7,605.5 1362.1,624.9 1392.5,619.3 1423,580.4 1453.4,630.5 1483.8,645 1514.3,645 1544.7,626.9 1575.1,639.7 1605.6,614.2 1636,623.3 1666.4,583.8 1696.8,585.4 1742.9,413.2"/>
<polyline points="997,421.8 1027.4,474.8 1057.8,539.7 1088.2,624.8 1118.7,560 1149.1,633.1 1179.5,623.7 1210,629.1 1240.4,606.9 1270.8,624.8 1301.2,599.3 1331.7,645.5 1362.1,630.5 1392.5,633.2 1423,596.2 1453.4,649.8 1483.8,646.1 1514.3,622.9 1544.7,643.4 1575.1,641.8 1605.6,639.1 1636,617.1 1666.4,619.4 1696.8,497.6 1742.9,547.4"/>
<polyline points="997,464.2 1027.4,589.7 1057.8,502.5 1088.2,556.7 1118.7,609.2 1149.1,597.7 1179.5,639.1 1210,554 1240.4,653.3 1270.8,640.5 1301.2,592.1 1331.7,612.7 1362.1,582.8 1392.5,554 1423,624.9 1453.4,654.9 1483.8,574.3 1514.3,616 1544.7,635.2 1575.1,601.2 1605.6,585.4 1636,561.1 1666.4,572.5 1696.8,592 1742.9,561.8"/>
<polyline points="997,383.1 1027.4,413.8 1057.8,640.3 1088.2,534.2 1118.7,565.1 1149.1,551.6 1179.5,642 1210,593.1 1240.4,603.9 1270.8,570 1301.2,578.2 1331.7,575.1 1362.1,588 1392.5,590 1423,602.4 1453.4,642.5 1483.8,625.8 1514.3,617 1544.7,640.3 1575.1,598 1605.6,626.1 1636,586.6 1666.4,526.6 1696.8,526.4 1742.9,339.1"/>
<polyline points="997,552.9 1027.4,564 1057.8,591.1 1088.2,581.7 1118.7,592.2 1149.1,587.8 1179.5,638.1 1210,602.9 1240.4,642.5 1270.8,604.9 1301.2,624.9 1331.7,634.2 1362.1,612.7 1392.5,638.8 1423,644 1453.4,613.7 1483.8,575.8 1514.3,593.6 1544.7,618.7 1575.1,638.7 1605.6,594.8 1636,613.4 1666.4,567.4 1696.8,598.6 1742.9,554.6"/>
<polyline points="997,560.2 1027.4,457.8 1057.8,587.6 1088.2,540.3 1118.7,608 1149.1,606.1 1179.5,570.9 1210,611.5 1240.4,578.1 1270.8,642.5 1301.2,585.9 1331.7,622.1 1362.1,621.2 1392.5,634.2 1423,588 1453.4,611.7 1483.8,599.3 1514.3,584.3 1544.7,607.4 1575.1,615 1605.6,599.6 1636,579.9 1666.4,613.2 1696.8,464 1742.9,351.4"/>
<polyline points="997,390.9 1027.4,522.8 1057.8,524 1088.2,601.2 1118.7,590.9 1149.1,636.4 1179.5,566.3 1210,641.8 1240.4,615.1 1270.8,595.6 1301.2,631.4 1331.7,585.9 1362.1,641.6 1392.5,617.5 1423,641.6 1453.4,615.6 1483.8,606.5 1514.3,600.8 1544.7,647.3 1575.1,562.4 1605.6,568.8 1636,585.2 1666.4,632.7 1696.8,474.9 1742.9,429.7"/>
<polyline points="997,589 1027.4,571.7 1057.8,619.4 1088.2,599.8 1118.7,606.8 1149.1,639.5 1179.5,591.3 1210,643.6 1240.4,643.4 1270.8,631.7 1301.2,630.5 1331.7,594.2 1362.1,642.5 1392.5,647.3 1423,625.8 1453.4,607.5 1483.8,605.5 1514.3,624.8 1544.7,620.8 1575.1,640.8 1605.6,615.3 1636,566.5 1666.4,596.2 1696.8,477 1742.9,400.9"/>
<polyline points="997,620.4 1027.4,393.7 1057.8,568.3 1088.2,578.9 1118.7,628.2 1149.1,639 1179.5,574.3 1210,595.3 1240.4,618 1270.8,573.4 1301.2,582.8 1331.7,599.3 1362.1,619.3 1392.5,625.8 1423,582.8 1453.4,590 1483.8,594.2 1514.3,623.9 1544.7,598.1 1575.1,632.5 1605.6,570 1636,583.9 1666.4,555.5 1696.8,609.3 1742.9,311.7"/>
<polyline points="997,369.8 1027.4,503.1 1057.8,599.8 1088.2,545.6 1118.7,549.7 1149.1,566.8 1179.5,602.6 1210,583.4 1240.4,588.4 1270.8,625.8 1301.2,586.9 1331.7,638.8 1362.1,594.2 1392.5,613.7 1423,626.8 1453.4,644 1483.8,577.3 1514.3,582.2 1544.7,596 1575.1,595.8 1605.6,619.6 1636,526.4 1666.4,548.7 1696.8,569.9 1742.9,335"/>
<polyline points="997,531.3 1027.4,602.6 1057.8,520.1 1088.2,630.4 1118.7,634.1 1149.1,619.1 1179.5,604.9 1210,612.5 1240.4,628.8 1270.8,646.8 1301.2,640.7 1331.7,600.3 1362.1,590 1392.5,586.9 1423,618.4 1453.4,618.4 1483.8,600.3 1514.3,585.3 1544.7,638.3 1575.1,622.2 1605.6,577.1 1636,555.8 1666.4,585.4 1696.8,471.1 1742.9,359.7"/>
<polyline points="997,524.1 1027.4,594.9 1057.8,571.8 1088.2,555.3 1118.7,567.7 1149.1,598.9 1179.5,599.2 1210,642.7 1240.4,624.8 1270.8,615.1 1301.2,610.6 1331.7,644.5 1362.1,595.2 1392.5,624.9 1423,611.7 1453.4,636 1483.8,617.5 1514.3,621.9 1544.7,582.7 1575.1,624.3 1605.6,621.8 1636,606 1666.4,610.1 1696.8,565.4 1742.9,551"/>
<polyline points="997,603.4 1027.4,556.2 1057.8,578.8 1088.2,539.1 1118.7,569 1149.1,618 1179.5,635 1210,643.2 1240.4,645.7 1270.8,619 1301.2,623 1331.7,635.1 1362.1,600.3 1392.5,631.4 1423,645.5 1453.4,640.7 1483.8,607.5 1514.3,601.8 1544.7,636.2 1575.1,594.8 1605.6,598.4 1636,618.4 1666.4,533.4 1696.8,558.8 1742.9,514.9"/>
<polyline points="997,612.7 1027.4,406.7 1057.8,559.2 1088.2,631.9 1118.7,611.6 1149.1,603.9 1179.5,640.2 1210,625.2 1240.4,630.7 1270.8,635.6 1301.2,638.8 1331.7,610.6 1362.1,610.6 1392.5,646.1 1423,586.9 1453.4,633.2 1483.8,583.9 1514.3,632.7 1544.7,645.5 1575.1,574.1 1605.6,613.1 1636,581.2 1666.4,588.5 1696.8,536.7 1742.9,438"/>
<polyline points="997,574.6 1027.4,494.6 1057.8,577 1088.2,623.4 1118.7,623.4 1149.1,563.6 1179.5,594.7 1210,642.3 1240.4,584.3 1270.8,644.8 1301.2,598.3 1331.7,623 1362.1,632.3 1392.5,637.9 1423,603.4 1453.4,612.7 1483.8,588 1514.3,644.5 1544.7,641.4 1575.1,644.8 1605.6,571.2 1636,575.9 1666.4,553.8 1696.8,600.9 1742.9,330.8"/>
<polyline points="997,498.9 1027.4,440.8 1057.8,620.5 1088.2,558.1 1118.7,598.6 1149.1,611.5 1179.5,608.2 1210,578 1240.4,560.5 1270.8,592.5 1301.2,619.3 1331.7,581.8 1362.1,646.1 1392.5,605.5 1423,644.5 1453.4,608.6 1483.8,636 1514.3,635.6 1544.7,608.4 1575.1,596.9 1605.6,642.2 1636,593.3 1666.4,603.9 1696.8,472.9 1742.9,322.6"/>
<polyline points="997,472 1027.4,605.5 1057.8,533.8 1088.2,616.5 1118.7,593.5 1149.1,615.8 1179.5,640.7 1210,585.6 1240.4,597.7 1270.8,578.2 1301.2,649.8 1331.7,563.8 1362.1,627.7 1392.5,622.1 1423,621.2 1453.4,645.5 1483.8,639.7 1514.3,599.7 1544.7,597.1 1575.1,610.9 1605.6,604.3 1636,639.2 1666.4,607 1696.8,552.1 1742.9,295.2"/>
<polyline points="997,634.4 1027.4,497.4 1057.8,543.6 1088.2,646.8 1118.7,576.7 1149.1,623.4 1179.5,593.6 1210,536.1 1240.4,604.9 1270.8,644.4 1301.2,639.7 1331.7,596.2 1362.1,633.2 1392.5,585.9 1423,637.9 1453.4,625.8 1483.8,603.4 1514.3,603.9 1544.7,581.6 1575.1,606.7 1605.6,641.5 1636,640.6 1666.4,557.2 1696.8,514.1 1742.9,442.1"/>
<polyline points="997,387 1027.4,452.1 1057.8,541.6 1088.2,541.5 1118.7,578 1149.1,568 1179.5,598.1 1210,574.8 1240.4,575.9 1270.8,577.2 1301.2,574.4 1331.7,582.8 1362.1,614.7 1392.5,615.6 1423,619.3 1453.4,563.8 1483.8,623 1514.3,575.7 1544.7,599.1 1575.1,599.1 1605.6,564.2 1636,569.2 1666.4,602.4 1696.8,561 1742.9,405"/>
<polyline points="997,592.6 1027.4,424.9 1057.8,518.1 1088.2,583.1 1118.7,572.9 1149.1,634.2 1179.5,580 1210,631 1240.4,585.3 1270.8,636.6 1301.2,645.5 1331.7,639.7 1362.1,620.3 1392.5,591.1 1423,613.7 1453.4,639.7 1483.8,631.4 1514.3,620.9 1544.7,645 1575.1,621.2 1605.6,654.9 1636,577.2 1666.4,620.9 1696.8,520.2 1742.9,367.9"/>
<polyline points="997,571 1027.4,576.8 1057.8,498.2 1088.2,598.4 1118.7,615.1 1149.1,629.9 1179.5,600.4 1210,633 1240.4,572.8 1270.8,562.2 1301.2,607.5 1331.7,630.5 1362.1,636 1392.5,604.5 1423,629.5 1453.4,644.5 1483.8,638.8 1514.3,590.5 1544.7,634.2 1575.1,577.5 1605.6,632.6 1636,565.2 1666.4,579.2 1696.8,576.5 1742.9,457.3"/>
<polyline points="997,456.5 1027.4,500.2 1057.8,625.1 1088.2,536.6 1118.7,604.5 1149.1,640.4 1179.5,626.8 1210,651.7 1240.4,587.4 1270.8,606.9 1301.2,608.6 1331.7,645 1362.1,644 1392.5,618.4 1423,598.3 1453.4,614.7 1483.8,633.2 1514.3,588.4 1544.7,644 1575.1,631.5 1605.6,648.4 1636,637.7 1666.4,523.4 1696.8,493.5 1742.9,500.5"/>
<polyline points="997,509.7 1027.4,525.3 1057.8,615.6 1088.2,585.9 1118.7,639.2 1149.1,639.9 1179.5,614.4 1210,634 1240.4,626.8 1270.8,623.9 1301.2,605.5 1331.7,632.3 1362.1,617.5 1392.5,649.8 1423,642.5 1453.4,597.2 1483.8,608.6 1514.3,592.5 1544.7,625.9 1575.1,616 1605.6,566.5 1636,567.8 1666.4,569.1 1696.8,479.1 1742.9,558.2"/>
<polyline points="997,614.6 1027.4,604.1 1057.8,495.8 1088.2,613.7 1118.7,580.6 1149.1,589 1179.5,619.6 1210,615.4 1240.4,608 1270.8,585.3 1301.2,644 1331.7,642.5 1362.1,607.5 1392.5,645 1423,590 1453.4,598.3 1483.8,589 1514.3,636.6 1544.7,649.8 1575.1,607.7 1605.6,640.2 1636,625.8 1666.4,517.4 1696.8,481.1 1742.9,372"/>
<polyline points="997,324.6 1027.4,471.9 1057.8,475.7 1088.2,552.5 1118.7,571.6 1149.1,528 1179.5,601.5 1210,566 1240.4,583.3 1270.8,580.2 1301.2,604.5 1331.7,619.3 1362.1,603.4 1392.5,581.8 1423,594.2 1453.4,623 1483.8,590 1514.3,595.6 1544.7,591.9 1575.1,581.8 1605.6,574.7 1636,558.5 1666.4,541.9 1696.8,469.3 1742.9,486.1"/>
<polyline points="997,567.4 1027.4,561.4 1057.8,612.1 1088.2,622 1118.7,619.9 1149.1,632 1179.5,624.7 1210,594.2 1240.4,605.9 1270.8,634.6 1301.2,615.6 1331.7,626.8 1362.1,592.1 1392.5,583.9 1423,593.1 1453.4,586.9 1483.8,571.4 1514.3,618 1544.7,602.2 1575.1,614 1605.6,628.3 1636,591.9 1666.4,594.7 1696.8,505.8 1742.9,433.8"/>
<polyline points="997,475.8 1027.4,633.8 1057.8,621.5 1088.2,617.9 1118.7,566.4 1149.1,576.7 1179.5,585.6 1210,597.5 1240.4,611.1 1270.8,598.7 1301.2,596.2 1331.7,641.6 1362.1,618.4 1392.5,609.6 1423,633.2 1453.4,634.2 1483.8,624 1514.3,641.5 1544.7,623.9 1575.1,582.9 1605.6,645.1 1636,628.2 1666.4,625.6 1696.8,629.3 1742.9,576.5"/>
</g>
<g clip-path="url(#clipc)" fill="none" stroke="#009c4e" stroke-width="2.1" stroke-linejoin="miter" stroke-miterlimit="4">
<polyline points="108.9,1408.3 139.3,1377.5 169.7,1371.1 200.1,1395.1 230.6,1369.6 261,1392.7 291.4,1365.8 321.9,1381.4 352.3,1392.7 382.7,1363 413.2,1373.9 443.6,1409.4 474,1381.4 504.4,1363.7 534.9,1351.3 565.3,1372.9 595.7,1344.7 626.2,1351.1 656.6,1428 687,1348.8 717.5,1429.8 747.9,1442.7 778.3,1386.3 808.7,1370.8 855.2,1396.3"/>
<polyline points="108.9,1390.9 139.3,1411 169.7,1421.5 200.1,1401.5 230.6,1431 261,1339.7 291.4,1368.2 321.9,1364.7 352.3,1423.3 382.7,1421.4 413.2,1398.3 443.6,1361.6 474,1385 504.4,1400.6 534.9,1387.7 565.3,1416.5 595.7,1369 626.2,1430.9 656.6,1392.7 687,1371.7 717.5,1385.5 747.9,1374.1 778.3,1456.4 808.7,1464.4 855.2,1465.3"/>
<polyline points="108.9,1427.4 139.3,1462.7 169.7,1398 200.1,1444.7 230.6,1447.1 261,1419.7 291.4,1383.7 321.9,1372.7 352.3,1434.2 382.7,1373.2 413.2,1379.9 443.6,1380 474,1390.9 504.4,1372 534.9,1419 565.3,1431.3 595.7,1406.7 626.2,1409.3 656.6,1355.4 687,1379.5 717.5,1380 747.9,1407.5 778.3,1390 808.7,1445.8 855.2,1452.7"/>
<polyline points="108.9,1463.3 139.3,1458.1 169.7,1419.5 200.1,1463.7 230.6,1454.6 261,1451.7 291.4,1407.8 321.9,1423.3 352.3,1425.6 382.7,1462.2 413.2,1451.5 443.6,1438.5 474,1432.8 504.4,1428 534.9,1461.4 565.3,1436.9 595.7,1410.7 626.2,1414.9 656.6,1375.9 687,1434.4 717.5,1379.3 747.9,1402.6 778.3,1449 808.7,1414.6 855.2,1431.6"/>
<polyline points="108.9,1420.2 139.3,1370.3 169.7,1452.3 200.1,1408.6 230.6,1392.5 261,1375.4 291.4,1363.2 321.9,1419.3 352.3,1384.3 382.7,1423.6 413.2,1385.8 443.6,1414.9 474,1408.3 504.4,1422 534.9,1382.3 565.3,1347.4 595.7,1345.9 626.2,1412.8 656.6,1364.7 687,1365.2 717.5,1412.8 747.9,1405.9 778.3,1365.2 808.7,1374 855.2,1354.2"/>
<polyline points="108.9,1367.7 139.3,1391.6 169.7,1395.4 200.1,1386.7 230.6,1414.8 261,1373.5 291.4,1422.6 321.9,1366.5 352.3,1383.1 382.7,1360.3 413.2,1364.4 443.6,1379.4 474,1355.2 504.4,1330.1 534.9,1358.5 565.3,1384.8 595.7,1367.8 626.2,1347.2 656.6,1359.7 687,1426.2 717.5,1439.8 747.9,1415.7 778.3,1364.6 808.7,1364.9 855.2,1387.5"/>
<polyline points="108.9,1428.1 139.3,1429.6 169.7,1459.3 200.1,1429.9 230.6,1446.5 261,1433.4 291.4,1434.6 321.9,1417 352.3,1378.4 382.7,1361.1 413.2,1425.2 443.6,1375.3 474,1364.7 504.4,1436.9 534.9,1437.7 565.3,1401.7 595.7,1394.7 626.2,1402.4 656.6,1431.6 687,1429.9 717.5,1423.6 747.9,1441.1 778.3,1403.8 808.7,1430.6 855.2,1427"/>
<polyline points="108.9,1417.3 139.3,1433.1 169.7,1412.8 200.1,1428.6 230.6,1449.6 261,1431.7 291.4,1436.3 321.9,1417.6 352.3,1403.4 382.7,1385.1 413.2,1419.8 443.6,1393.1 474,1359.9 504.4,1369 534.9,1371 565.3,1400.4 595.7,1374 626.2,1367.8 656.6,1402.1 687,1404.6 717.5,1438.2 747.9,1452.8 778.3,1363.4 808.7,1377.8 855.2,1356.6"/>
<polyline points="108.9,1466.4 139.3,1456 169.7,1453.6 200.1,1436.4 230.6,1450.7 261,1416.8 291.4,1416.9 321.9,1410.7 352.3,1364.7 382.7,1393.4 413.2,1380.5 443.6,1364.6 474,1379.6 504.4,1376.8 534.9,1414.7 565.3,1378.9 595.7,1437.7 626.2,1441.4 656.6,1424.4 687,1441.1 717.5,1405.1 747.9,1440.3 778.3,1375.2 808.7,1425.3 855.2,1352.7"/>
<polyline points="108.9,1440.3 139.3,1409.7 169.7,1401.2 200.1,1409.9 230.6,1411.1 261,1413.4 291.4,1392.4 321.9,1371.5 352.3,1414.2 382.7,1448.9 413.2,1442.9 443.6,1470.1 474,1442.4 504.4,1430.4 534.9,1470.1 565.3,1433.9 595.7,1451.5 626.2,1462.2 656.6,1432.3 687,1446.8 717.5,1455.9 747.9,1464.9 778.3,1430.7 808.7,1454.8 855.2,1468"/>
<polyline points="108.9,1341.5 139.3,1381.6 169.7,1382.5 200.1,1367.2 230.6,1378.3 261,1372.3 291.4,1375 321.9,1397.6 352.3,1430.2 382.7,1385.7 413.2,1394.8 443.6,1384.8 474,1430.5 504.4,1423.8 534.9,1375.1 565.3,1387.8 595.7,1373.4 626.2,1413.5 656.6,1412.8 687,1375.3 717.5,1391.7 747.9,1350.3 778.3,1395.6 808.7,1437.8 855.2,1398.6"/>
<polyline points="108.9,1375 139.3,1425.4 169.7,1440.2 200.1,1418.3 230.6,1442.8 261,1426.5 291.4,1434 321.9,1363.5 352.3,1401.6 382.7,1369 413.2,1369.8 443.6,1357.8 474,1362.3 504.4,1378.6 534.9,1402.9 565.3,1438.5 595.7,1382.1 626.2,1369 656.6,1376.5 687,1438.1 717.5,1420.5 747.9,1363 778.3,1429 808.7,1405.6 855.2,1424.3"/>
<polyline points="108.9,1452.6 139.3,1470.1 169.7,1459.1 200.1,1460.6 230.6,1459.5 261,1432.8 291.4,1432.9 321.9,1385.8 352.3,1444.2 382.7,1455.8 413.2,1429 443.6,1364 474,1373.6 504.4,1410.7 534.9,1440.1 565.3,1433.3 595.7,1442.2 626.2,1429.5 656.6,1390.1 687,1437.4 717.5,1437.4 747.9,1453.7 778.3,1435.9 808.7,1448.5 855.2,1466.2"/>
<polyline points="108.9,1454 139.3,1435.8 169.7,1451.6 200.1,1375.7 230.6,1408 261,1377.2 291.4,1364.1 321.9,1380.2 352.3,1435.9 382.7,1380.9 413.2,1430.7 443.6,1408.9 474,1405.4 504.4,1416.1 534.9,1433.9 565.3,1360.4 595.7,1381.4 626.2,1389.5 656.6,1370.9 687,1399.4 717.5,1414.4 747.9,1364.2 778.3,1390.7 808.7,1366.2 855.2,1397.1"/>
<polyline points="108.9,1434.6 139.3,1465.7 169.7,1444.2 200.1,1411.8 230.6,1396.2 261,1391.5 291.4,1428.9 321.9,1393.8 352.3,1400.4 382.7,1388.1 413.2,1388.8 443.6,1441.6 474,1400.3 504.4,1400 534.9,1397.3 565.3,1409.4 595.7,1410.1 626.2,1399.6 656.6,1344.7 687,1374.7 717.5,1439 747.9,1420.6 778.3,1434.2 808.7,1409.2 855.2,1451.8"/>
<polyline points="108.9,1466 139.3,1466.5 169.7,1436.9 200.1,1409.3 230.6,1450.2 261,1470.1 291.4,1446 321.9,1433.5 352.3,1398.6 382.7,1392.8 413.2,1385.2 443.6,1390.2 474,1367.7 504.4,1403.6 534.9,1432.7 565.3,1394.6 595.7,1408.7 626.2,1406.6 656.6,1348.5 687,1435.9 717.5,1435.1 747.9,1441.9 778.3,1431.6 808.7,1453.9 855.2,1470.1"/>
<polyline points="108.9,1385.4 139.3,1373.5 169.7,1393.5 200.1,1398.3 230.6,1411.7 261,1437.9 291.4,1408.3 321.9,1429 352.3,1361.2 382.7,1420.3 413.2,1382.9 443.6,1417 474,1397.4 504.4,1405.4 534.9,1378.7 565.3,1401 595.7,1370.9 626.2,1350.1 656.6,1417.9 687,1361.6 717.5,1408.2 747.9,1381 778.3,1454.7 808.7,1360.4 855.2,1466.3"/>
<polyline points="108.9,1455.4 139.3,1409 169.7,1460.8 200.1,1371.9 230.6,1455 261,1450.7 291.4,1455.9 321.9,1439.2 352.3,1427.3 382.7,1394.6 413.2,1362 443.6,1436.2 474,1387.9 504.4,1373.2 534.9,1403.5 565.3,1446.8 595.7,1417.4 626.2,1420.5 656.6,1428.7 687,1421.8 717.5,1417.4 747.9,1380.3 778.3,1361.5 808.7,1444 855.2,1465.6"/>
<polyline points="108.9,1361.7 139.3,1423.3 169.7,1399.9 200.1,1376.4 230.6,1409.9 261,1388.4 291.4,1358.8 321.9,1384.5 352.3,1374.2 382.7,1409.4 413.2,1368 443.6,1378.8 474,1359.4 504.4,1382.7 534.9,1352.6 565.3,1348.5 595.7,1350.5 626.2,1370.9 656.6,1401.3 687,1371.1 717.5,1366.9 747.9,1369.8 778.3,1393.8 808.7,1361.7 855.2,1355.8"/>
<polyline points="108.9,1413.9 139.3,1401 169.7,1413.5 200.1,1414.4 230.6,1417.9 261,1428.2 291.4,1423.2 321.9,1414.1 352.3,1443.6 382.7,1383.9 413.2,1392.4 443.6,1384.2 474,1438.5 504.4,1413.7 534.9,1429.6 565.3,1412 595.7,1455.1 626.2,1434.4 656.6,1445.5 687,1443.6 717.5,1470.1 747.9,1452.4 778.3,1459.5 808.7,1415.5 855.2,1380.4"/>
<polyline points="108.9,1465.4 139.3,1406.3 169.7,1391.5 200.1,1453.1 230.6,1387.6 261,1367.9 291.4,1369.4 321.9,1380.8 352.3,1363.1 382.7,1372 413.2,1357.8 443.6,1353.6 474,1382.6 504.4,1395.8 534.9,1404.8 565.3,1402.9 595.7,1419.4 626.2,1351.7 656.6,1352.9 687,1387.8 717.5,1384.9 747.9,1374.8 778.3,1370.8 808.7,1349.1 855.2,1390.7"/>
<polyline points="108.9,1377.7 139.3,1411.7 169.7,1370.8 200.1,1402.2 230.6,1434.1 261,1384.7 291.4,1419.2 321.9,1375.8 352.3,1368.8 382.7,1415.4 413.2,1400.1 443.6,1366.3 474,1386.7 504.4,1361.9 534.9,1431.4 565.3,1402.3 595.7,1369.7 626.2,1388.3 656.6,1415.7 687,1418.8 717.5,1348.5 747.9,1405.1 778.3,1443.8 808.7,1459.7 855.2,1428.9"/>
<polyline points="108.9,1466.3 139.3,1441.4 169.7,1461.3 200.1,1458.8 230.6,1457.4 261,1448 291.4,1448.8 321.9,1420.4 352.3,1440.5 382.7,1392.2 413.2,1375.1 443.6,1433.4 474,1413.4 504.4,1417.3 534.9,1442.4 565.3,1424.9 595.7,1470.1 626.2,1440 656.6,1453.2 687,1403.9 717.5,1426.7 747.9,1435.4 778.3,1404.7 808.7,1404.7 855.2,1410.5"/>
<polyline points="108.9,1470.1 139.3,1468.1 169.7,1449.6 200.1,1443.5 230.6,1417.3 261,1433.9 291.4,1442 321.9,1470.1 352.3,1435.3 382.7,1394 413.2,1372.1 443.6,1352.2 474,1419.7 504.4,1411.9 534.9,1397.9 565.3,1428.1 595.7,1416.8 626.2,1432.3 656.6,1435.1 687,1422.5 717.5,1416.7 747.9,1438.6 778.3,1399.5 808.7,1388.8 855.2,1397.9"/>
<polyline points="108.9,1431.7 139.3,1451.1 169.7,1439.5 200.1,1398.9 230.6,1412.4 261,1362.2 291.4,1378.1 321.9,1376.5 352.3,1367.6 382.7,1402.8 413.2,1375.7 443.6,1422.5 474,1409.4 504.4,1414.9 534.9,1339.9 565.3,1353.9 595.7,1388.9 626.2,1365.9 656.6,1356 687,1372.9 717.5,1367.6 747.9,1410.8 778.3,1402.9 808.7,1355.2 855.2,1377.2"/>
<polyline points="108.9,1451.1 139.3,1462.9 169.7,1433.5 200.1,1446 230.6,1442.1 261,1440.8 291.4,1424.3 321.9,1449.3 352.3,1463 382.7,1364.8 413.2,1358.2 443.6,1390.7 474,1423.1 504.4,1425.6 534.9,1441.6 565.3,1421 595.7,1430.8 626.2,1405.2 656.6,1418.6 687,1369.9 717.5,1421.3 747.9,1447.6 778.3,1456.1 808.7,1466.9 855.2,1461.9"/>
<polyline points="108.9,1382.6 139.3,1438.6 169.7,1404.4 200.1,1367.8 230.6,1376.4 261,1382.8 291.4,1391.7 321.9,1387 352.3,1368.2 382.7,1418.7 413.2,1379.3 443.6,1426.3 474,1404.3 504.4,1413.1 534.9,1424 565.3,1454.4 595.7,1387.6 626.2,1417.7 656.6,1406.4 687,1415.1 717.5,1446 747.9,1396.1 778.3,1409 808.7,1431.5 855.2,1351.1"/>
<polyline points="108.9,1443.9 139.3,1372.2 169.7,1372.3 200.1,1416.4 230.6,1390 261,1357.9 291.4,1345.3 321.9,1388.3 352.3,1379 382.7,1367.8 413.2,1400.7 443.6,1357 474,1365.9 504.4,1360.7 534.9,1361.5 565.3,1370.5 595.7,1390.7 626.2,1375.9 656.6,1350.4 687,1347.3 717.5,1342.9 747.9,1349.2 778.3,1421.2 808.7,1408.3 855.2,1399.4"/>
<polyline points="108.9,1404.1 139.3,1455.3 169.7,1448.9 200.1,1438.9 230.6,1388.2 261,1395.2 291.4,1370.7 321.9,1395.1 352.3,1418.2 382.7,1370.8 413.2,1363.8 443.6,1377.7 474,1366.5 504.4,1362.5 534.9,1371.6 565.3,1407.5 595.7,1427.5 626.2,1370.3 656.6,1374 687,1388.4 717.5,1365.1 747.9,1377.9 778.3,1360.3 808.7,1417.2 855.2,1440.8"/>
<polyline points="108.9,1370.9 139.3,1452.5 169.7,1432.9 200.1,1420.9 230.6,1395.6 261,1459.4 291.4,1447.7 321.9,1392 352.3,1427.9 382.7,1470.1 413.2,1428 443.6,1398.5 474,1384.4 504.4,1366.7 534.9,1418.4 565.3,1434.6 595.7,1437 626.2,1377.7 656.6,1386.4 687,1436.6 717.5,1407.5 747.9,1450 778.3,1420.3 808.7,1384.3 855.2,1466.9"/>
<polyline points="108.9,1457.6 139.3,1464.8 169.7,1467.3 200.1,1470.1 230.6,1461.5 261,1446.4 291.4,1449.4 321.9,1458 352.3,1415.9 382.7,1406.1 413.2,1423 443.6,1429.6 474,1427.1 504.4,1440.1 534.9,1439.3 565.3,1425.5 595.7,1433.5 626.2,1415.6 656.6,1404.9 687,1408.4 717.5,1434.4 747.9,1425.5 778.3,1461.2 808.7,1460.3 855.2,1466.1"/>
<polyline points="108.9,1381.9 139.3,1389.6 169.7,1450.3 200.1,1400.2 230.6,1404.9 261,1420.2 291.4,1362.4 321.9,1378.3 352.3,1360.2 382.7,1377.3 413.2,1387.6 443.6,1400.1 474,1385.5 504.4,1383.3 534.9,1436.2 565.3,1415.8 595.7,1341.6 626.2,1349.3 656.6,1407.8 687,1441.7 717.5,1395.9 747.9,1384.7 778.3,1416.8 808.7,1369.5 855.2,1400.2"/>
<polyline points="108.9,1429.5 139.3,1444.9 169.7,1415.4 200.1,1402.8 230.6,1422.3 261,1430.5 291.4,1430.6 321.9,1425 352.3,1365.3 382.7,1395.8 413.2,1374.5 443.6,1401.2 474,1406 504.4,1442.4 534.9,1430.2 565.3,1395.9 595.7,1461.8 626.2,1437.8 656.6,1416.4 687,1383 717.5,1415.9 747.9,1394 778.3,1389.4 808.7,1401.2 855.2,1353.4"/>
<polyline points="108.9,1456.9 139.3,1388.3 169.7,1406.4 200.1,1413.8 230.6,1447.7 261,1385.3 291.4,1361.9 321.9,1438.1 352.3,1439.3 382.7,1435 413.2,1391.8 443.6,1437.7 474,1406.6 504.4,1450.6 534.9,1381.1 565.3,1356.3 595.7,1372.1 626.2,1396.8 656.6,1413.6 687,1425.5 717.5,1390.5 747.9,1355.5 778.3,1352.6 808.7,1438.7 855.2,1429.8"/>
<polyline points="108.9,1403.4 139.3,1426.8 169.7,1459.6 200.1,1370.7 230.6,1424.8 261,1394.6 291.4,1361.1 321.9,1365.9 352.3,1408.5 382.7,1382.1 413.2,1415.4 443.6,1371.1 474,1353.7 504.4,1398.2 534.9,1353.7 565.3,1367 595.7,1385.2 626.2,1356.6 656.6,1351 687,1361 717.5,1378.7 747.9,1427.2 778.3,1450.7 808.7,1450.3 855.2,1385.2"/>
<polyline points="108.9,1446.8 139.3,1463.3 169.7,1460.5 200.1,1444.1 230.6,1401.2 261,1435.1 291.4,1439.2 321.9,1430.7 352.3,1399.8 382.7,1438.5 413.2,1415.9 443.6,1397.3 474,1461.4 504.4,1446.8 534.9,1433.3 565.3,1450.6 595.7,1399.3 626.2,1444.2 656.6,1404.2 687,1365.8 717.5,1398.2 747.9,1428.8 778.3,1449.8 808.7,1452.1 855.2,1409.6"/>
<polyline points="108.9,1368.4 139.3,1387.6 169.7,1381.2 200.1,1375.1 230.6,1431.6 261,1369.2 291.4,1383.1 321.9,1390.1 352.3,1416.5 382.7,1412.7 413.2,1363.2 443.6,1377.1 474,1376 504.4,1411.3 534.9,1387.1 565.3,1389 595.7,1377.7 626.2,1364.1 656.6,1397 687,1353.9 717.5,1388.6 747.9,1387.2 778.3,1429.9 808.7,1389.5 855.2,1344"/>
<polyline points="108.9,1323.6 139.3,1367.1 169.7,1361.5 200.1,1405.4 230.6,1371.4 261,1371 291.4,1381.8 321.9,1405.6 352.3,1413.6 382.7,1402.3 413.2,1407.8 443.6,1391.9 474,1371.3 504.4,1421.4 534.9,1375.7 565.3,1353.3 595.7,1438.5 626.2,1444.9 656.6,1357.2 687,1378.9 717.5,1402.8 747.9,1421.4 778.3,1372.7 808.7,1353.2 855.2,1426.1"/>
<polyline points="108.9,1395.8 139.3,1424.7 169.7,1376.7 200.1,1440.9 230.6,1394.4 261,1389.6 291.4,1419.8 321.9,1339.9 352.3,1418.8 382.7,1428.5 413.2,1411 443.6,1385.4 474,1355.7 504.4,1356 534.9,1352.9 565.3,1369.9 595.7,1348.2 626.2,1368.4 656.6,1420 687,1382.5 717.5,1362.6 747.9,1315.5 778.3,1362.1 808.7,1388.2 855.2,1348.5"/>
<polyline points="108.9,1424.5 139.3,1419.2 169.7,1405.7 200.1,1442.2 230.6,1440.9 261,1425.4 291.4,1443.1 321.9,1439.8 352.3,1371.2 382.7,1362.3 413.2,1413.8 443.6,1369.3 474,1426.5 504.4,1433.3 534.9,1409.1 565.3,1432 595.7,1447.8 626.2,1442.8 656.6,1382.7 687,1420.3 717.5,1440.5 747.9,1392.8 778.3,1355.3 808.7,1373.3 855.2,1414.2"/>
<polyline points="108.9,1388.8 139.3,1361.7 169.7,1457 200.1,1438.3 230.6,1400.6 261,1407 291.4,1426 321.9,1448.7 352.3,1395 382.7,1436.1 413.2,1431.2 443.6,1407.8 474,1392.7 504.4,1436.2 534.9,1436.9 565.3,1412.6 595.7,1403.4 626.2,1439.3 656.6,1407.1 687,1440.4 717.5,1463.7 747.9,1470.1 778.3,1437.7 808.7,1459.5 855.2,1450.9"/>
<polyline points="108.9,1465.7 139.3,1456.7 169.7,1438.9 200.1,1437.6 230.6,1409.3 261,1429.4 291.4,1395.5 321.9,1433 352.3,1404.5 382.7,1427.9 413.2,1402.3 443.6,1413.2 474,1377.8 504.4,1352.6 534.9,1365.6 565.3,1375.3 595.7,1434.9 626.2,1394.1 656.6,1430.8 687,1444.2 717.5,1427.4 747.9,1399.3 778.3,1415.1 808.7,1470.1 855.2,1466.4"/>
<polyline points="108.9,1465.8 139.3,1444.2 169.7,1410.2 200.1,1388.6 230.6,1377.6 261,1418 291.4,1428.3 321.9,1426.7 352.3,1407.9 382.7,1417.6 413.2,1382.3 443.6,1419.2 474,1414 504.4,1398.8 534.9,1369.8 565.3,1382.5 595.7,1426.8 626.2,1430.2 656.6,1440.8 687,1413.6 717.5,1453.1 747.9,1451 778.3,1448.1 808.7,1443.1 855.2,1448.1"/>
<polyline points="108.9,1436 139.3,1384.2 169.7,1409 200.1,1466.5 230.6,1452 261,1438.5 291.4,1432.3 321.9,1434.7 352.3,1434.8 382.7,1424.1 413.2,1367.4 443.6,1434 474,1450.6 504.4,1432.7 534.9,1440.8 565.3,1398.4 595.7,1424.8 626.2,1426 656.6,1430.1 687,1400.2 717.5,1352.7 747.9,1362.4 778.3,1377 808.7,1403 855.2,1442.6"/>
<polyline points="108.9,1438.2 139.3,1435.1 169.7,1403.2 200.1,1434.4 230.6,1419.8 261,1436.8 291.4,1426.6 321.9,1407.9 352.3,1412.5 382.7,1371.4 413.2,1359.8 443.6,1402.9 474,1402.6 504.4,1367.2 534.9,1419.7 565.3,1418.4 595.7,1366.6 626.2,1379.6 656.6,1380.8 687,1442.3 717.5,1377.5 747.9,1379.1 778.3,1446.4 808.7,1428 855.2,1468.9"/>
<polyline points="108.9,1390.2 139.3,1431 169.7,1424.1 200.1,1457.5 230.6,1434.7 261,1444.2 291.4,1446.6 321.9,1443.3 352.3,1394.4 382.7,1367.2 413.2,1361.4 443.6,1381.8 474,1420.8 504.4,1419.1 534.9,1383.5 565.3,1391.4 595.7,1362.2 626.2,1408 656.6,1423.6 687,1398.7 717.5,1373.1 747.9,1391.5 778.3,1375.8 808.7,1433.3 855.2,1389.9"/>
<polyline points="108.9,1435.3 139.3,1451.8 169.7,1370.4 200.1,1368.1 230.6,1358.6 261,1354.5 291.4,1353.8 321.9,1365.3 352.3,1406.8 382.7,1406.7 413.2,1366.2 443.6,1394.3 474,1370.7 504.4,1354 534.9,1360.9 565.3,1383 595.7,1401.4 626.2,1352.3 656.6,1359.1 687,1358.6 717.5,1404.4 747.9,1386.6 778.3,1381.4 808.7,1382.4 855.2,1389.1"/>
<polyline points="108.9,1367.1 139.3,1386.9 169.7,1371.5 200.1,1418.9 230.6,1388.8 261,1416.2 291.4,1458.7 321.9,1443.9 352.3,1381.9 382.7,1413.2 413.2,1373.3 443.6,1397.9 474,1422.5 504.4,1441.6 534.9,1388.8 565.3,1393.9 595.7,1380.8 626.2,1416.3 656.6,1441.5 687,1414.3 717.5,1446.6 747.9,1417.3 778.3,1422 808.7,1356.6 855.2,1439.9"/>
<polyline points="108.9,1371.6 139.3,1367.7 169.7,1384.4 200.1,1403.5 230.6,1421 261,1395.9 291.4,1411.2 321.9,1430.1 352.3,1411.9 382.7,1379.1 413.2,1390.6 443.6,1359.1 474,1320.4 504.4,1389.3 534.9,1372.2 565.3,1430.7 595.7,1396 626.2,1366.6 656.6,1367.8 687,1403.1 717.5,1386.2 747.9,1370.4 778.3,1406.4 808.7,1395.9 855.2,1378.8"/>
<polyline points="108.9,1391.6 139.3,1407 169.7,1442.9 200.1,1451.2 230.6,1432.8 261,1418.5 291.4,1391.1 321.9,1421 352.3,1430.8 382.7,1376.1 413.2,1377.5 443.6,1375.9 474,1383.2 504.4,1388.1 534.9,1411.6 565.3,1399.7 595.7,1383.3 626.2,1428.8 656.6,1403.5 687,1357.4 717.5,1378.1 747.9,1401.8 778.3,1367.1 808.7,1419.9 855.2,1346.9"/>
<polyline points="108.9,1459.7 139.3,1457.4 169.7,1397.3 200.1,1412.5 230.6,1452.9 261,1449.1 291.4,1470.1 321.9,1452.1 352.3,1420.5 382.7,1418.1 413.2,1426.9 443.6,1426.9 474,1439.3 504.4,1454.4 534.9,1450.6 565.3,1461.4 595.7,1442.9 626.2,1455.8 656.6,1470.1 687,1470.1 717.5,1458.7 747.9,1454.2 778.3,1391.9 808.7,1459.2 855.2,1465.5"/>
<polyline points="108.9,1419.5 139.3,1375.5 169.7,1430.2 200.1,1433.8 230.6,1427.9 261,1421.9 291.4,1402.3 321.9,1382.7 352.3,1410.2 382.7,1424.7 413.2,1418.7 443.6,1396.1 474,1412.8 504.4,1361.3 534.9,1422.1 565.3,1364 595.7,1370.3 626.2,1408.7 656.6,1394.9 687,1374.1 717.5,1396.7 747.9,1385.9 778.3,1414.2 808.7,1355.9 855.2,1416"/>
<polyline points="108.9,1394.4 139.3,1374.2 169.7,1371.9 200.1,1388 230.6,1393.1 261,1405.8 291.4,1371.3 321.9,1377.1 352.3,1376.6 382.7,1442.8 413.2,1428.5 443.6,1410.5 474,1424.8 504.4,1440.8 534.9,1438.5 565.3,1359.8 595.7,1398 626.2,1410.7 656.6,1438 687,1354.5 717.5,1361.4 747.9,1433.7 778.3,1388.2 808.7,1412.8 855.2,1352.2"/>
<polyline points="108.9,1433.8 139.3,1453.9 169.7,1368.9 200.1,1445.4 230.6,1363.9 261,1399 291.4,1421.5 321.9,1408.4 352.3,1403.9 382.7,1355.4 413.2,1384 443.6,1383 474,1368.9 504.4,1391.1 534.9,1399.8 565.3,1347.9 595.7,1364.1 626.2,1384.5 656.6,1444.8 687,1447.4 717.5,1383.7 747.9,1377.2 778.3,1351.8 808.7,1354.5 855.2,1403.4"/>
<polyline points="108.9,1428.8 139.3,1417.8 169.7,1448.3 200.1,1384.8 230.6,1452.4 261,1398.3 291.4,1404.8 321.9,1406.1 352.3,1454.1 382.7,1391 413.2,1408.9 443.6,1394.9 474,1358.2 504.4,1372.6 534.9,1406.6 565.3,1373.5 595.7,1379.6 626.2,1382.1 656.6,1422.2 687,1394.2 717.5,1444.9 747.9,1423.9 778.3,1428.1 808.7,1376.6 855.2,1407.8"/>
<polyline points="108.9,1404.8 139.3,1408.4 169.7,1407.7 200.1,1397 230.6,1383.2 261,1427.1 291.4,1440.3 321.9,1415.8 352.3,1390.9 382.7,1384.5 413.2,1433.4 443.6,1450.6 474,1422 504.4,1386.9 534.9,1362 565.3,1396.5 595.7,1393.3 626.2,1352.9 656.6,1385.2 687,1377.1 717.5,1450.5 747.9,1449.1 778.3,1416 808.7,1378.5 855.2,1427.9"/>
<polyline points="108.9,1418.7 139.3,1393.6 169.7,1429.5 200.1,1407.3 230.6,1396.9 261,1381.6 291.4,1393.6 321.9,1362 352.3,1431.3 382.7,1407.2 413.2,1395.4 443.6,1366.9 474,1368.3 504.4,1359.5 534.9,1427.1 565.3,1381.9 595.7,1422.1 626.2,1419.8 656.6,1375.2 687,1384.2 717.5,1406.7 747.9,1379.7 778.3,1451.6 808.7,1456.5 855.2,1454.6"/>
<polyline points="108.9,1366.5 139.3,1388.9 169.7,1379.9 200.1,1369.4 230.6,1401.8 261,1449.6 291.4,1415.2 321.9,1418.1 352.3,1365.9 382.7,1391.6 413.2,1391.2 443.6,1425.8 474,1421.4 504.4,1382.1 534.9,1384.7 565.3,1384.2 595.7,1346.5 626.2,1363.4 656.6,1391.4 687,1410.6 717.5,1424.4 747.9,1446.8 778.3,1407.3 808.7,1367.5 855.2,1360.5"/>
<polyline points="108.9,1384 139.3,1433.8 169.7,1414.1 200.1,1422.8 230.6,1425.4 261,1443.6 291.4,1420.9 321.9,1401.3 352.3,1443 382.7,1439.3 413.2,1416.5 443.6,1386.6 474,1388.5 504.4,1353.3 534.9,1395.5 565.3,1380.1 595.7,1408.1 626.2,1421.2 656.6,1361 687,1397.9 717.5,1387.4 747.9,1422.3 778.3,1409.9 808.7,1386.9 855.2,1379.6"/>
<polyline points="108.9,1461.2 139.3,1453.2 169.7,1374.8 200.1,1411.2 230.6,1435.3 261,1390.3 291.4,1370 321.9,1374 352.3,1444.9 382.7,1430.7 413.2,1403.4 443.6,1416 474,1353.2 504.4,1395.2 534.9,1359.7 565.3,1415.2 595.7,1379 626.2,1345.2 656.6,1345.3 687,1430.7 717.5,1360.1 747.9,1430.4 778.3,1427.3 808.7,1413.7 855.2,1453.7"/>
<polyline points="108.9,1433.1 139.3,1463.8 169.7,1426.2 200.1,1399.6 230.6,1416.1 261,1427.7 291.4,1409.5 321.9,1437.5 352.3,1414.8 382.7,1420.8 413.2,1393.6 443.6,1371.7 474,1431.7 504.4,1406.5 534.9,1399.2 565.3,1420.4 595.7,1400.7 626.2,1355.4 656.6,1358.5 687,1380.1 717.5,1352.1 747.9,1368.6 778.3,1425.5 808.7,1391.4 855.2,1421.5"/>
<polyline points="108.9,1442.5 139.3,1410.4 169.7,1408.3 200.1,1385.4 230.6,1372.7 261,1410 291.4,1364.5 321.9,1373.4 352.3,1373 382.7,1403.4 413.2,1412.7 443.6,1399.6 474,1357.6 504.4,1355.7 534.9,1385.3 565.3,1365.8 595.7,1351.1 626.2,1354.8 656.6,1344 687,1351.1 717.5,1364.5 747.9,1395.2 778.3,1447.2 808.7,1436 855.2,1405"/>
<polyline points="108.9,1397.2 139.3,1437.2 169.7,1389 200.1,1417 230.6,1453.3 261,1422.5 291.4,1400.4 321.9,1403.8 352.3,1405.7 382.7,1440 413.2,1424.7 443.6,1432.3 474,1379 504.4,1401.2 534.9,1377.5 565.3,1350.6 595.7,1443.7 626.2,1395.5 656.6,1383.3 687,1421 717.5,1373.8 747.9,1397.7 778.3,1455 808.7,1436.9 855.2,1449.1"/>
<polyline points="108.9,1464.8 139.3,1443.5 169.7,1450.9 200.1,1440.2 230.6,1393.8 261,1448.6 291.4,1450 321.9,1448.1 352.3,1457.3 382.7,1440.7 413.2,1470.1 443.6,1418.7 474,1443.2 504.4,1434.6 534.9,1425.2 565.3,1422.3 595.7,1357.9 626.2,1425.3 656.6,1438.7 687,1445.5 717.5,1381.8 747.9,1412.4 778.3,1456.8 808.7,1458 855.2,1463.7"/>
<polyline points="108.9,1379.1 139.3,1428.2 169.7,1422.8 200.1,1419.6 230.6,1418.6 261,1400.8 291.4,1390.5 321.9,1368.4 352.3,1363.6 382.7,1363.6 413.2,1438.5 443.6,1406.7 474,1425.4 504.4,1408.3 534.9,1404.2 565.3,1340.9 595.7,1367.2 626.2,1372.8 656.6,1362.2 687,1384.8 717.5,1381.2 747.9,1448.5 778.3,1380.1 808.7,1366.9 855.2,1411.4"/>
<polyline points="108.9,1449.7 139.3,1450.4 169.7,1370 200.1,1381.5 230.6,1370.8 261,1456.8 291.4,1422 321.9,1383.3 352.3,1441.1 382.7,1432.3 413.2,1461.8 443.6,1425.2 474,1434 504.4,1428.6 534.9,1365 565.3,1327.1 595.7,1414.8 626.2,1403.8 656.6,1369.7 687,1395.7 717.5,1399.8 747.9,1390.9 778.3,1417.7 808.7,1447.6 855.2,1466"/>
<polyline points="108.9,1376.3 139.3,1427.5 169.7,1442.2 200.1,1383.5 230.6,1386.9 261,1411.7 291.4,1439.7 321.9,1374.6 352.3,1405.1 382.7,1389.8 413.2,1359.4 443.6,1376.5 474,1361.1 504.4,1408.9 534.9,1370.4 565.3,1419.1 595.7,1389.5 626.2,1374.6 656.6,1373.4 687,1376.5 717.5,1358.3 747.9,1414.1 778.3,1418.6 808.7,1396.6 855.2,1392.3"/>
<polyline points="108.9,1411.8 139.3,1447.7 169.7,1435.5 200.1,1413.1 230.6,1374.5 261,1412.8 291.4,1366.9 321.9,1391.4 352.3,1422.8 382.7,1444.9 413.2,1447.8 443.6,1387.8 474,1402 504.4,1403 534.9,1353.5 565.3,1369.4 595.7,1338.3 626.2,1382.7 656.6,1395.6 687,1389 717.5,1389.9 747.9,1403.4 778.3,1376.4 808.7,1435.1 855.2,1458.2"/>
<polyline points="108.9,1456.2 139.3,1382.9 169.7,1387.7 200.1,1361.7 230.6,1368.1 261,1366.8 291.4,1378.7 321.9,1369.6 352.3,1389.7 382.7,1381.5 413.2,1372.7 443.6,1357.5 474,1371.9 504.4,1414.3 534.9,1357.3 565.3,1390.2 595.7,1361 626.2,1390.1 656.6,1429.4 687,1378.3 717.5,1392.4 747.9,1378.5 778.3,1364 808.7,1383.7 855.2,1364.5"/>
<polyline points="108.9,1369.6 139.3,1397.6 169.7,1430.8 200.1,1450.6 230.6,1380.7 261,1366.2 291.4,1371.9 321.9,1348.8 352.3,1356.1 382.7,1368.4 413.2,1357.5 443.6,1359.3 474,1357.1 504.4,1356.5 534.9,1354.5 565.3,1366.4 595.7,1409.4 626.2,1362.8 656.6,1352.3 687,1411.3 717.5,1419.8 747.9,1361.7 778.3,1394.4 808.7,1411 855.2,1395.5"/>
<polyline points="108.9,1451.8 139.3,1415.7 169.7,1461.5 200.1,1447.3 230.6,1430.4 261,1442.5 291.4,1441.4 321.9,1447.5 352.3,1438.8 382.7,1444.2 413.2,1432.9 443.6,1443.2 474,1415.1 504.4,1443.2 534.9,1415.3 565.3,1421.7 595.7,1423.5 626.2,1401 656.6,1389.5 687,1457.3 717.5,1443.6 747.9,1389 778.3,1423.8 808.7,1429.7 855.2,1465.7"/>
<polyline points="108.9,1372.2 139.3,1445.6 169.7,1388.3 200.1,1368.8 230.6,1420.4 261,1368.6 291.4,1396.7 321.9,1398.2 352.3,1382.5 382.7,1437.8 413.2,1370.9 443.6,1410 474,1393.9 504.4,1353.7 534.9,1411 565.3,1397.8 595.7,1355.4 626.2,1443.5 656.6,1443.5 687,1392 717.5,1428.2 747.9,1353.8 778.3,1371.4 808.7,1395.3 855.2,1435.3"/>
<polyline points="108.9,1445.4 139.3,1439.3 169.7,1458.3 200.1,1453.8 230.6,1419.2 261,1441.4 291.4,1427.2 321.9,1399.4 352.3,1395.6 382.7,1396.4 413.2,1362.6 443.6,1405 474,1418 504.4,1363.1 534.9,1378.1 565.3,1372.3 595.7,1441.4 626.2,1423.2 656.6,1422.9 687,1367.6 717.5,1376.9 747.9,1411.6 778.3,1408.2 808.7,1440.5 855.2,1464.7"/>
<polyline points="108.9,1375.6 139.3,1437.9 169.7,1416.8 200.1,1439.6 230.6,1381.4 261,1439.6 291.4,1410.1 321.9,1377.7 352.3,1429.6 382.7,1412.1 413.2,1360.5 443.6,1347 474,1334.1 504.4,1339.7 534.9,1355.5 565.3,1346.9 595.7,1356.6 626.2,1347.5 656.6,1336.8 687,1396.4 717.5,1380.6 747.9,1382.2 778.3,1396.9 808.7,1394 855.2,1374.8"/>
<polyline points="108.9,1365.8 139.3,1403 169.7,1417.4 200.1,1370.4 230.6,1355.9 261,1444.8 291.4,1415.8 321.9,1379 352.3,1428.5 382.7,1380.3 413.2,1342.5 443.6,1358.8 474,1403.1 504.4,1394.6 534.9,1366.2 565.3,1368.8 595.7,1384.5 626.2,1411.4 656.6,1394.1 687,1412.1 717.5,1349.1 747.9,1389.7 778.3,1380.7 808.7,1458.6 855.2,1420.6"/>
<polyline points="108.9,1374.3 139.3,1395 169.7,1423.5 200.1,1380.2 230.6,1445.2 261,1363.9 291.4,1435.7 321.9,1390.7 352.3,1393.3 382.7,1386.9 413.2,1365 443.6,1374.1 474,1346.7 504.4,1370.8 534.9,1369.2 565.3,1365.2 595.7,1323.4 626.2,1349.7 656.6,1345.9 687,1349.6 717.5,1307.3 747.9,1348.7 778.3,1367.7 808.7,1340.7 855.2,1368.5"/>
<polyline points="108.9,1378.4 139.3,1384.9 169.7,1443.6 200.1,1456.2 230.6,1437.2 261,1425.9 291.4,1377.5 321.9,1370.9 352.3,1417.6 382.7,1382.7 413.2,1423.6 443.6,1373.5 474,1404.9 504.4,1360.1 534.9,1409.7 565.3,1392.6 595.7,1404.7 626.2,1442.1 656.6,1383.9 687,1364.6 717.5,1442.1 747.9,1361.1 778.3,1360.9 808.7,1422.6 855.2,1459.2"/>
<polyline points="108.9,1468.9 139.3,1459.5 169.7,1447.6 200.1,1421.5 230.6,1400 261,1445.3 291.4,1450.5 321.9,1414.7 352.3,1425.1 382.7,1433.4 413.2,1421.4 443.6,1428 474,1437.7 504.4,1424.4 534.9,1443.2 565.3,1428.7 595.7,1382.7 626.2,1387 656.6,1446.9 687,1423.2 717.5,1399 747.9,1423.1 778.3,1457.9 808.7,1457.2 855.2,1402.6"/>
<polyline points="108.9,1372.9 139.3,1380.9 169.7,1353.9 200.1,1391.9 230.6,1426.6 261,1419.1 291.4,1445.4 321.9,1409 352.3,1437.6 382.7,1432.9 413.2,1402.8 443.6,1383.6 474,1358.8 504.4,1355.4 534.9,1353.1 565.3,1350 595.7,1374.6 626.2,1407.3 656.6,1379.6 687,1340 717.5,1368.2 747.9,1382.8 778.3,1357.2 808.7,1402.1 855.2,1355"/>
<polyline points="108.9,1411.1 139.3,1378.9 169.7,1379.3 200.1,1441.5 230.6,1427.2 261,1441.9 291.4,1438.6 321.9,1411.8 352.3,1379.6 382.7,1388.6 413.2,1431.8 443.6,1411.6 474,1383.8 504.4,1407.7 534.9,1360.3 565.3,1379.5 595.7,1412.1 626.2,1436.4 656.6,1384.5 687,1389.6 717.5,1351.5 747.9,1367.3 778.3,1377.6 808.7,1365.6 855.2,1384.4"/>
<polyline points="108.9,1412.5 139.3,1403.7 169.7,1383.2 200.1,1406.7 230.6,1365.7 261,1361 291.4,1416.3 321.9,1406.7 352.3,1377.2 382.7,1398.8 413.2,1432.3 443.6,1440.1 474,1441.6 504.4,1380.9 534.9,1394.2 565.3,1375.9 595.7,1354.8 626.2,1380.8 656.6,1361.6 687,1366.4 717.5,1368.8 747.9,1373.5 778.3,1419.4 808.7,1444.9 855.2,1374"/>
<polyline points="108.9,1426.7 139.3,1392.9 169.7,1455.6 200.1,1435.1 230.6,1378.9 261,1397.1 291.4,1388 321.9,1413.6 352.3,1410.8 382.7,1375.5 413.2,1352.4 443.6,1356.8 474,1373 504.4,1407.1 534.9,1384.1 565.3,1426.2 595.7,1378.3 626.2,1341 656.6,1333.1 687,1355.7 717.5,1382.4 747.9,1387.8 778.3,1366.5 808.7,1375.3 855.2,1378"/>
<polyline points="108.9,1413.2 139.3,1374.9 169.7,1396.1 200.1,1430.6 230.6,1439 261,1363.3 291.4,1413.5 321.9,1400 352.3,1432.5 382.7,1417 413.2,1414.3 443.6,1382.4 474,1420.3 504.4,1388.7 534.9,1353.9 565.3,1352.7 595.7,1424.1 626.2,1418.4 656.6,1442.1 687,1419.5 717.5,1372.5 747.9,1413.2 778.3,1369 808.7,1352.5 855.2,1383.6"/>
<polyline points="108.9,1370.3 139.3,1390.3 169.7,1441.6 200.1,1423.5 230.6,1370.2 261,1394 291.4,1389.3 321.9,1426.1 352.3,1402.2 382.7,1405.6 413.2,1396.5 443.6,1406.1 474,1412.3 504.4,1433.9 534.9,1425.9 565.3,1351.6 595.7,1353.5 626.2,1417 656.6,1393.4 687,1350.3 717.5,1391.1 747.9,1458.6 778.3,1457.2 808.7,1362.4 855.2,1372.4"/>
<polyline points="108.9,1468 139.3,1462.4 169.7,1426.8 200.1,1456.5 230.6,1406.2 261,1464.1 291.4,1453.1 321.9,1422.1 352.3,1437 382.7,1405 413.2,1434.5 443.6,1446.8 474,1411.1 504.4,1429.8 534.9,1434.6 565.3,1417.1 595.7,1395.3 626.2,1403.1 656.6,1392 687,1391.4 717.5,1411.3 747.9,1449.6 778.3,1374.5 808.7,1377.2 855.2,1347.4"/>
<polyline points="108.9,1406.9 139.3,1382.2 169.7,1401.9 200.1,1389.3 230.6,1373.3 261,1364.5 291.4,1333.4 321.9,1355.2 352.3,1359.7 382.7,1360 413.2,1366.8 443.6,1368.1 474,1401.4 504.4,1365.5 534.9,1405.4 565.3,1422.9 595.7,1407.4 626.2,1369.7 656.6,1347.2 687,1331.1 717.5,1350.3 747.9,1345.9 778.3,1402.1 808.7,1372 855.2,1351.6"/>
<polyline points="108.9,1448.2 139.3,1448.3 169.7,1428.2 200.1,1422.2 230.6,1403.7 261,1428.8 291.4,1405.4 321.9,1363.9 352.3,1397.4 382.7,1376.7 413.2,1405 443.6,1365.7 474,1380.8 504.4,1406 534.9,1366.8 565.3,1355.7 595.7,1376.5 626.2,1350.8 656.6,1340.5 687,1390.8 717.5,1413.6 747.9,1408.3 778.3,1440.3 808.7,1458.3 855.2,1393.1"/>
<polyline points="108.9,1386.8 139.3,1395.6 169.7,1418.1 200.1,1393.1 230.6,1397.5 261,1421.4 291.4,1362.8 321.9,1363.2 352.3,1369.4 382.7,1366 413.2,1403.9 443.6,1424.7 474,1418.5 504.4,1417.9 534.9,1398.6 565.3,1408.1 595.7,1394 626.2,1438.5 656.6,1439.4 687,1375.9 717.5,1383.1 747.9,1460.8 778.3,1442 808.7,1379.1 855.2,1425.2"/>
<polyline points="108.9,1399.3 139.3,1358 169.7,1390.3 200.1,1395.7 230.6,1410.5 261,1351.2 291.4,1398.6 321.9,1413 352.3,1396.8 382.7,1365.4 413.2,1401.8 443.6,1418.1 474,1343.9 504.4,1353 534.9,1364.4 565.3,1441.6 595.7,1402.7 626.2,1423.9 656.6,1390.7 687,1406.1 717.5,1415.1 747.9,1372.3 778.3,1356 808.7,1323.1 855.2,1349.5"/>
<polyline points="108.9,1380.5 139.3,1366.5 169.7,1437.5 200.1,1448.6 230.6,1429.1 261,1411.1 291.4,1379.3 321.9,1361.3 352.3,1340.6 382.7,1360.5 413.2,1414.9 443.6,1378.2 474,1382 504.4,1377.4 534.9,1426.5 565.3,1395.2 595.7,1396.7 626.2,1393.4 656.6,1421.5 687,1372.3 717.5,1357 747.9,1444.4 778.3,1378.3 808.7,1361.1 855.2,1327.1"/>
<polyline points="108.9,1439.6 139.3,1442.1 169.7,1407 200.1,1454.4 230.6,1398.7 261,1376 291.4,1430 321.9,1434.1 352.3,1470.1 382.7,1401.7 413.2,1426.3 443.6,1442.4 474,1436.9 504.4,1374.4 534.9,1396.7 565.3,1378.3 595.7,1412.7 626.2,1386.4 656.6,1368.4 687,1451 717.5,1449.4 747.9,1359.3 778.3,1391.3 808.7,1381.1 855.2,1385.9"/>
<polyline points="108.9,1446.1 139.3,1464 169.7,1465.1 200.1,1457.2 230.6,1444.6 261,1440.2 291.4,1425.5 321.9,1431.2 352.3,1446.8 382.7,1426.3 413.2,1422.5 443.6,1454.4 474,1446.8 504.4,1470.1 534.9,1420.9 565.3,1410.7 595.7,1428.2 626.2,1421.9 656.6,1449.9 687,1448.1 717.5,1435.9 747.9,1437 778.3,1384.5 808.7,1427.1 855.2,1401.8"/>
<polyline points="108.9,1387.5 139.3,1404.3 169.7,1446.2 200.1,1373.1 230.6,1365.3 261,1409.4 291.4,1386.2 321.9,1361.6 352.3,1366.5 382.7,1378.5 413.2,1356.7 443.6,1391.3 474,1414.6 504.4,1379.8 534.9,1393 565.3,1358 595.7,1420.1 626.2,1358.5 656.6,1349.8 687,1353.3 717.5,1363.8 747.9,1434.5 778.3,1388.8 808.7,1423.5 855.2,1362.9"/>
<polyline points="108.9,1400 139.3,1405 169.7,1414.8 200.1,1377.7 230.6,1398.1 261,1385.9 291.4,1437.4 321.9,1436.4 352.3,1442.3 382.7,1403.9 413.2,1365.6 443.6,1408.3 474,1387.3 504.4,1368.4 534.9,1390.6 565.3,1363.4 595.7,1375.9 626.2,1427.4 656.6,1366.6 687,1390.2 717.5,1363.2 747.9,1356.2 778.3,1353 808.7,1348.4 855.2,1358.2"/>
<polyline points="108.9,1436.7 139.3,1379.6 169.7,1428.8 200.1,1432.5 230.6,1465.3 261,1445.9 291.4,1443.7 321.9,1395.7 352.3,1376 382.7,1343.2 413.2,1350.1 443.6,1387.2 474,1394.5 504.4,1431.6 534.9,1389.4 565.3,1385.4 595.7,1436.2 626.2,1433 656.6,1388.3 687,1381.9 717.5,1422.1 747.9,1439.4 778.3,1345.3 808.7,1344.7 855.2,1347.9"/>
<polyline points="108.9,1466.9 139.3,1461.5 169.7,1438.2 200.1,1404.1 230.6,1435.9 261,1392.1 291.4,1442.6 321.9,1422.7 352.3,1445.5 382.7,1429 413.2,1406.7 443.6,1428.5 474,1393.3 504.4,1435.4 534.9,1446.8 565.3,1470.1 595.7,1432.8 626.2,1424.6 656.6,1462.6 687,1463 717.5,1347.9 747.9,1376.6 778.3,1405.5 808.7,1455.7 855.2,1444.5"/>
<polyline points="108.9,1416.6 139.3,1431.7 169.7,1396.7 200.1,1451.8 230.6,1423.5 261,1390.9 291.4,1444.9 321.9,1432.4 352.3,1421.6 382.7,1422.5 413.2,1417.6 443.6,1411 474,1403.7 504.4,1375.6 534.9,1393.6 565.3,1432.6 595.7,1418.8 626.2,1374 656.6,1427.2 687,1362.2 717.5,1405.9 747.9,1419.8 778.3,1466.1 808.7,1418.1 855.2,1404.2"/>
<polyline points="108.9,1420.9 139.3,1405.7 169.7,1420.1 200.1,1394.4 230.6,1406.8 261,1423.7 291.4,1440.9 321.9,1446.9 352.3,1446.2 382.7,1436.7 413.2,1444.4 443.6,1431.8 474,1415.7 504.4,1437.7 534.9,1407.3 565.3,1404.9 595.7,1440.7 626.2,1414.2 656.6,1387 687,1383.6 717.5,1409.8 747.9,1451.9 778.3,1454 808.7,1434.2 855.2,1465.8"/>
<polyline points="108.9,1447.5 139.3,1440 169.7,1410.9 200.1,1417.7 230.6,1403.1 261,1387.8 291.4,1427.7 321.9,1396.9 352.3,1413.1 382.7,1397 413.2,1397.1 443.6,1419.8 474,1389.7 504.4,1404.2 534.9,1417.8 565.3,1376.5 595.7,1357.2 626.2,1391.4 656.6,1434.4 687,1405.4 717.5,1431.3 747.9,1376 778.3,1424.6 808.7,1379.8 855.2,1337.8"/>
<polyline points="108.9,1381.2 139.3,1394.3 169.7,1400.6 200.1,1374.4 230.6,1415.5 261,1380.3 291.4,1431.2 321.9,1418.7 352.3,1390.3 382.7,1374.4 413.2,1439.2 443.6,1421.4 474,1396.3 504.4,1364.3 534.9,1400.4 565.3,1414.6 595.7,1347 626.2,1394.8 656.6,1387.6 687,1367 717.5,1324 747.9,1419 778.3,1387.6 808.7,1383 855.2,1370.9"/>
<polyline points="108.9,1462.6 139.3,1365.8 169.7,1369.6 200.1,1370.1 230.6,1361.3 261,1381 291.4,1385.5 321.9,1362.9 352.3,1375.4 382.7,1415.9 413.2,1399.5 443.6,1367.5 474,1367.1 504.4,1381.5 534.9,1368.6 565.3,1388.4 595.7,1349.3 626.2,1349 656.6,1365.3 687,1359.8 717.5,1384.3 747.9,1349.8 778.3,1370.2 808.7,1349.8 855.2,1366.1"/>
<polyline points="108.9,1465.9 139.3,1392.3 169.7,1460.3 200.1,1446.7 230.6,1448.3 261,1403.9 291.4,1399.8 321.9,1367.8 352.3,1415.4 382.7,1452.4 413.2,1383.4 443.6,1372.9 474,1374.2 504.4,1379.2 534.9,1401.7 565.3,1386 595.7,1439.9 626.2,1379 656.6,1369 687,1351.8 717.5,1357.6 747.9,1393.4 778.3,1454.3 808.7,1397.2 855.2,1363.7"/>
<polyline points="108.9,1450.4 139.3,1398.3 169.7,1394.1 200.1,1390.6 230.6,1383.8 261,1405.2 291.4,1438 321.9,1445.1 352.3,1360.7 382.7,1370.2 413.2,1381.7 443.6,1362.8 474,1362.9 504.4,1402.4 534.9,1401.1 565.3,1440.1 595.7,1364.7 626.2,1323.6 656.6,1353.5 687,1368.2 717.5,1425.9 747.9,1445.2 778.3,1453.3 808.7,1386.2 855.2,1417.9"/>
<polyline points="108.9,1431 139.3,1399.6 169.7,1434.2 200.1,1442.8 230.6,1422.9 261,1387.2 291.4,1414 321.9,1416.4 352.3,1399.2 382.7,1434.5 413.2,1376.9 443.6,1363.4 474,1395.1 504.4,1375 534.9,1372.8 565.3,1435.4 595.7,1391.4 626.2,1385.8 656.6,1371.5 687,1431.4 717.5,1386.8 747.9,1450.5 778.3,1411.6 808.7,1449.4 855.2,1416.9"/>
<polyline points="108.9,1423.1 139.3,1454.6 169.7,1460 200.1,1433.1 230.6,1451.2 261,1450.2 291.4,1429.5 321.9,1425.5 352.3,1438.2 382.7,1411 413.2,1420.9 443.6,1461.4 474,1470.1 504.4,1392.3 534.9,1391.2 565.3,1403.6 595.7,1402 626.2,1354.1 656.6,1400.6 687,1412.8 717.5,1429 747.9,1359.9 778.3,1398.6 808.7,1385.6 855.2,1446.3"/>
<polyline points="108.9,1441 139.3,1402.3 169.7,1412.2 200.1,1378.3 230.6,1369 261,1389 291.4,1414.6 321.9,1438.7 352.3,1385.5 382.7,1386.3 413.2,1435.6 443.6,1432.9 474,1428.2 504.4,1396.4 534.9,1422.8 565.3,1392 595.7,1414.1 626.2,1437.1 656.6,1411.4 687,1356.8 717.5,1354.5 747.9,1350.8 778.3,1463 808.7,1432.4 855.2,1418.8"/>
<polyline points="108.9,1379.8 139.3,1371.6 169.7,1385.7 200.1,1346.4 230.6,1413.6 261,1372.9 291.4,1393 321.9,1410.1 352.3,1361.7 382.7,1356.9 413.2,1369.2 443.6,1372.3 474,1360.5 504.4,1420.2 534.9,1392.4 565.3,1380.7 595.7,1361.6 626.2,1367.2 656.6,1363.4 687,1346.5 717.5,1356.4 747.9,1400.1 778.3,1353.7 808.7,1400.3 855.2,1382"/>
<polyline points="108.9,1402 139.3,1397 169.7,1386.4 200.1,1379 230.6,1426 261,1435.6 291.4,1389.9 321.9,1394.5 352.3,1364.1 382.7,1359.8 413.2,1389.4 443.6,1389.6 474,1440.1 504.4,1389.9 534.9,1376.3 565.3,1442.4 595.7,1363.4 626.2,1405.9 656.6,1367.2 687,1397.2 717.5,1432.8 747.9,1353.3 778.3,1379.5 808.7,1372.7 855.2,1370.1"/>
<polyline points="108.9,1422.3 139.3,1420.6 169.7,1374.1 200.1,1382.8 230.6,1382.6 261,1402.7 291.4,1372.5 321.9,1386.4 352.3,1353.2 382.7,1362.1 413.2,1358.6 443.6,1422 474,1407.1 504.4,1383.9 534.9,1354.3 565.3,1362.8 595.7,1356 626.2,1375.2 656.6,1377.7 687,1358 717.5,1355.8 747.9,1365.5 778.3,1378.9 808.7,1441.4 855.2,1408.7"/>
<polyline points="108.9,1460.5 139.3,1436.5 169.7,1463.9 200.1,1458.5 230.6,1443.4 261,1439.1 291.4,1404.1 321.9,1446.3 352.3,1441.7 382.7,1431.2 413.2,1360.9 443.6,1357.3 474,1372.4 504.4,1415.5 534.9,1363.8 565.3,1426.8 595.7,1421.5 626.2,1435.7 656.6,1372.8 687,1385.4 717.5,1445.4 747.9,1432.1 778.3,1401.2 808.7,1381.7 855.2,1433.5"/>
<polyline points="108.9,1453.3 139.3,1430.3 169.7,1422.1 200.1,1379.6 230.6,1382 261,1376.6 291.4,1406.6 321.9,1419.8 352.3,1371.8 382.7,1425.8 413.2,1427.4 443.6,1403.9 474,1411.7 504.4,1357.1 534.9,1407.9 565.3,1374.1 595.7,1406 626.2,1419.1 656.6,1442.8 687,1386.6 717.5,1436.7 747.9,1418.2 778.3,1436.8 808.7,1359.8 855.2,1401"/>
<polyline points="108.9,1393 139.3,1416.4 169.7,1378 200.1,1457.8 230.6,1449 261,1454.2 291.4,1384.9 321.9,1401.9 352.3,1386.1 382.7,1433.9 413.2,1436.2 443.6,1439.3 474,1440.8 504.4,1461.4 534.9,1410.4 565.3,1419.7 595.7,1434.2 626.2,1428.1 656.6,1382.1 687,1446.2 717.5,1425.1 747.9,1446 778.3,1435.1 808.7,1453 855.2,1465.4"/>
<polyline points="108.9,1466.1 139.3,1385.6 169.7,1378.6 200.1,1426 230.6,1432.2 261,1401.4 291.4,1361.5 321.9,1423.8 352.3,1411.4 382.7,1398.2 413.2,1401.2 443.6,1400.7 474,1354.7 504.4,1352.3 534.9,1356.1 565.3,1367.6 595.7,1365.3 626.2,1401.7 656.6,1399.9 687,1427 717.5,1450 747.9,1366.7 778.3,1362.7 808.7,1364.3 855.2,1412.3"/>
<polyline points="108.9,1410.4 139.3,1380.2 169.7,1366 200.1,1371.2 230.6,1333.4 261,1323.6 291.4,1380.6 321.9,1412.4 352.3,1380.7 382.7,1435.6 413.2,1405.6 443.6,1403.4 474,1354.2 504.4,1380.3 534.9,1374.6 565.3,1356.8 595.7,1334.9 626.2,1348.3 656.6,1320.3 687,1345 717.5,1339.4 747.9,1358 778.3,1353.3 808.7,1357.2 855.2,1350.6"/>
<polyline points="108.9,1365.2 139.3,1418.5 169.7,1383.8 200.1,1415.1 230.6,1390.7 261,1369.8 291.4,1376.9 321.9,1358.9 352.3,1436.5 382.7,1377.9 413.2,1404.5 443.6,1404.5 474,1378.4 504.4,1346.5 534.9,1352.4 565.3,1361.6 595.7,1387 626.2,1361.6 656.6,1357.9 687,1360.4 717.5,1369.4 747.9,1428 778.3,1365.9 808.7,1350.5 855.2,1349"/>
<polyline points="108.9,1383.3 139.3,1421.9 169.7,1445.6 200.1,1369.7 230.6,1385.7 261,1437.4 291.4,1368.8 321.9,1361 352.3,1383.7 382.7,1375 413.2,1381.1 443.6,1362.2 474,1352.2 504.4,1358.9 534.9,1354.1 565.3,1349 595.7,1359.1 626.2,1361 656.6,1349.1 687,1352.6 717.5,1395.1 747.9,1329.8 778.3,1373.3 808.7,1428.9 855.2,1388.3"/>
<polyline points="108.9,1454.7 139.3,1462 169.7,1456.3 200.1,1380.9 230.6,1429.7 261,1402.1 291.4,1424.9 321.9,1444.5 352.3,1362.2 382.7,1362.6 413.2,1371.5 443.6,1399 474,1356.6 504.4,1409.5 534.9,1352.7 565.3,1344 595.7,1372.8 626.2,1348.6 656.6,1302.5 687,1294.3 717.5,1349.7 747.9,1352.8 778.3,1400.3 808.7,1374.6 855.2,1438"/>
<polyline points="108.9,1425.9 139.3,1447 169.7,1399.3 200.1,1424.1 230.6,1439.7 261,1383.4 291.4,1387.4 321.9,1435.8 352.3,1447.4 382.7,1427.4 413.2,1395.9 443.6,1431.2 474,1433.4 504.4,1401.8 534.9,1424.6 565.3,1386.6 595.7,1415.4 626.2,1380.2 656.6,1412.1 687,1409.1 717.5,1374.4 747.9,1437.8 778.3,1369.6 808.7,1390.7 855.2,1373.2"/>
<polyline points="108.9,1402.7 139.3,1396.3 169.7,1385.1 200.1,1428 230.6,1395 261,1424.2 291.4,1418 321.9,1404.4 352.3,1429.1 382.7,1411.6 413.2,1437.7 443.6,1430.7 474,1352.7 504.4,1371.4 534.9,1373.4 565.3,1358.6 595.7,1371.5 626.2,1383.3 656.6,1397.7 687,1393.5 717.5,1433.6 747.9,1436.2 778.3,1393.1 808.7,1387.5 855.2,1465.9"/>
<polyline points="108.9,1384.7 139.3,1390.9 169.7,1436.2 200.1,1455.9 230.6,1405.5 261,1377.9 291.4,1423.7 321.9,1442.1 352.3,1409.6 382.7,1425.2 413.2,1412.1 443.6,1415.4 474,1423.7 504.4,1387.5 534.9,1396.1 565.3,1413.3 595.7,1380.2 626.2,1390.7 656.6,1399.2 687,1417.3 717.5,1419 747.9,1443.5 778.3,1422.9 808.7,1419 855.2,1405.9"/>
<polyline points="108.9,1437.4 139.3,1432.4 169.7,1420.8 200.1,1449.3 230.6,1413 261,1382.2 291.4,1401.7 321.9,1402.5 352.3,1374.8 382.7,1395.2 413.2,1437 443.6,1430.1 474,1410 504.4,1358.3 534.9,1379.9 565.3,1357.4 595.7,1416.1 626.2,1383.9 656.6,1372.1 687,1401.7 717.5,1362 747.9,1372.9 778.3,1457.5 808.7,1375.9 855.2,1382.8"/>
<polyline points="108.9,1415.9 139.3,1412.4 169.7,1416.1 200.1,1408 230.6,1441.5 261,1415.1 291.4,1448.3 321.9,1440.4 352.3,1372.4 382.7,1442.1 413.2,1397.7 443.6,1368.7 474,1424.3 504.4,1432.2 534.9,1380.5 565.3,1387.2 595.7,1432.2 626.2,1398.2 656.6,1444.2 687,1427.7 717.5,1388 747.9,1392.1 778.3,1441.1 808.7,1420.8 855.2,1457.3"/>
<polyline points="108.9,1395.1 139.3,1421.3 169.7,1457.6 200.1,1391.2 230.6,1377 261,1393.4 291.4,1411.8 321.9,1372.1 352.3,1433 382.7,1389.2 413.2,1417 443.6,1424.1 474,1391.5 504.4,1364.9 534.9,1356.7 565.3,1393.3 595.7,1351.7 626.2,1387.6 656.6,1379 687,1428.4 717.5,1393 747.9,1369.2 778.3,1452.4 808.7,1384.9 855.2,1419.7"/>
<polyline points="108.9,1421.6 139.3,1462.6 169.7,1455 200.1,1424.7 230.6,1455.4 261,1447.5 291.4,1463.7 321.9,1463.4 352.3,1439.9 382.7,1373.8 413.2,1413.2 443.6,1360.4 474,1429.4 504.4,1393.4 534.9,1435.4 565.3,1417.8 595.7,1400 626.2,1365.3 656.6,1408.5 687,1454.1 717.5,1448.3 747.9,1451.4 778.3,1383.8 808.7,1368.8 855.2,1443.6"/>
<polyline points="108.9,1407.6 139.3,1463.5 169.7,1405.1 200.1,1420.2 230.6,1444 261,1443.1 291.4,1373.8 321.9,1455 352.3,1426.2 382.7,1423 413.2,1435 443.6,1412.1 474,1416.3 504.4,1425 534.9,1432.1 565.3,1436.2 595.7,1413.4 626.2,1364.7 656.6,1433 687,1377.7 717.5,1447.1 747.9,1453.3 778.3,1438.5 808.7,1442.3 855.2,1366.9"/>
<polyline points="108.9,1459 139.3,1462.2 169.7,1375.4 200.1,1429.3 230.6,1437.8 261,1429.9 291.4,1381.2 321.9,1440.9 352.3,1448.1 382.7,1421.9 413.2,1430.1 443.6,1436.9 474,1392.1 504.4,1426.8 534.9,1412.8 565.3,1423.6 595.7,1430.2 626.2,1372.1 656.6,1410 687,1415.8 717.5,1444.3 747.9,1394.6 778.3,1439.4 808.7,1397.8 855.2,1436.2"/>
<polyline points="108.9,1467.4 139.3,1413.7 169.7,1440.9 200.1,1427.3 230.6,1451.6 261,1431.1 291.4,1397.9 321.9,1387.6 352.3,1423.9 382.7,1441.4 413.2,1443.7 443.6,1429.1 474,1417.4 504.4,1439.3 534.9,1454.4 565.3,1429.4 595.7,1435.5 626.2,1440.7 656.6,1456.5 687,1406.9 717.5,1401.3 747.9,1432.9 778.3,1442.9 808.7,1439.6 855.2,1460.1"/>
<polyline points="108.9,1438.9 139.3,1463.6 169.7,1390.9 200.1,1456.9 230.6,1440.3 261,1423.1 291.4,1420.3 321.9,1427.8 352.3,1367.1 382.7,1364.2 413.2,1442.2 443.6,1401.8 474,1416.8 504.4,1391.7 534.9,1382.9 565.3,1371.1 595.7,1383.9 626.2,1452.4 656.6,1378.3 687,1407.6 717.5,1400.5 747.9,1351.8 778.3,1337.6 808.7,1380.4 855.2,1376.4"/>
<polyline points="108.9,1358 139.3,1354.3 169.7,1392.2 200.1,1387.3 230.6,1408.6 261,1406.4 291.4,1366.3 321.9,1429.5 352.3,1362.6 382.7,1390.4 413.2,1357.1 443.6,1370.5 474,1349.6 504.4,1354.7 534.9,1363.2 565.3,1377.7 595.7,1386.4 626.2,1385.2 656.6,1362.8 687,1364 717.5,1359.5 747.9,1398.5 778.3,1355.6 808.7,1393.3 855.2,1367.7"/>
<polyline points="108.9,1423.8 139.3,1370.9 169.7,1431.5 200.1,1373.8 230.6,1428.5 261,1414.5 291.4,1376.2 321.9,1379.6 352.3,1380.2 382.7,1369.6 413.2,1387 443.6,1427.4 474,1428.8 504.4,1427.4 534.9,1402.3 565.3,1389.6 595.7,1428.8 626.2,1404.5 656.6,1347.8 687,1355.1 717.5,1347.3 747.9,1357.4 778.3,1433.3 808.7,1394.6 855.2,1365.3"/>
<polyline points="108.9,1430.3 139.3,1419.9 169.7,1461 200.1,1384.1 230.6,1366.7 261,1374.8 291.4,1367.6 321.9,1367.2 352.3,1451 382.7,1414.8 413.2,1394.2 443.6,1393.7 474,1363.5 504.4,1419.6 534.9,1388.2 565.3,1427.5 595.7,1397.3 626.2,1359.7 656.6,1414.3 687,1370.5 717.5,1393.6 747.9,1388.4 778.3,1395 808.7,1363 855.2,1441.7"/>
<polyline points="108.9,1354.3 139.3,1369.6 169.7,1369.2 200.1,1392.5 230.6,1373.9 261,1434.5 291.4,1375.6 321.9,1385.2 352.3,1384.9 382.7,1410.5 413.2,1354.6 443.6,1339.9 474,1364.1 504.4,1354.3 534.9,1345.3 565.3,1355.1 595.7,1348.8 626.2,1359.1 656.6,1409.2 687,1424.7 717.5,1402.1 747.9,1416.5 778.3,1426.4 808.7,1406.5 855.2,1434.4"/>
<polyline points="108.9,1432.4 139.3,1422.6 169.7,1411.5 200.1,1406 230.6,1368.5 261,1400.2 291.4,1418.6 321.9,1403.1 352.3,1373.6 382.7,1360.8 413.2,1376.3 443.6,1423.6 474,1380.2 504.4,1418.5 534.9,1385.9 565.3,1349.5 595.7,1390.1 626.2,1377.1 656.6,1365.9 687,1335.6 717.5,1370.7 747.9,1343 778.3,1413.4 808.7,1368.2 855.2,1312.2"/>
<polyline points="108.9,1397.9 139.3,1415.1 169.7,1368.5 200.1,1369.1 230.6,1391.9 261,1436.2 291.4,1412.3 321.9,1398.8 352.3,1419.3 382.7,1408.8 413.2,1390 443.6,1388.4 474,1398.6 504.4,1392.9 534.9,1413.5 565.3,1377.1 595.7,1360.3 626.2,1350.4 656.6,1437.3 687,1443 717.5,1353.9 747.9,1384.1 778.3,1392.5 808.7,1399.4 855.2,1413.3"/>
<polyline points="108.9,1406.2 139.3,1369 169.7,1377.4 200.1,1355.3 230.6,1364.8 261,1378.5 291.4,1401 321.9,1362.6 352.3,1370 382.7,1366.6 413.2,1378.7 443.6,1374.7 474,1370.1 504.4,1390.5 534.9,1350.2 565.3,1351.1 595.7,1349.9 626.2,1371.5 656.6,1364.1 687,1359.2 717.5,1442.8 747.9,1426.3 778.3,1326.9 808.7,1398.5 855.2,1391.5"/>
<polyline points="108.9,1398.6 139.3,1401.7 169.7,1402.5 200.1,1449.9 230.6,1389.4 261,1408.3 291.4,1435.2 321.9,1405 352.3,1326.9 382.7,1361.6 413.2,1359 443.6,1380.6 474,1390.3 504.4,1431 534.9,1416.6 565.3,1408.8 595.7,1420.8 626.2,1357.9 656.6,1402.8 687,1315.8 717.5,1353.3 747.9,1385.3 778.3,1354.5 808.7,1370.1 855.2,1375.6"/>
<polyline points="108.9,1415.2 139.3,1376.2 169.7,1458.8 200.1,1437 230.6,1384.5 261,1408.8 291.4,1436.9 321.9,1400.7 352.3,1407.4 382.7,1400 413.2,1386.4 443.6,1412.7 474,1419.1 504.4,1397 534.9,1412.2 565.3,1424.2 595.7,1398.7 626.2,1360.3 656.6,1396.3 687,1387.2 717.5,1375.6 747.9,1360.5 778.3,1383.2 808.7,1358.5 855.2,1359"/>
<polyline points="108.9,1369 139.3,1365.2 169.7,1363.8 200.1,1377 230.6,1346.5 261,1404.5 291.4,1388.6 321.9,1396.3 352.3,1426.8 382.7,1413.8 413.2,1388.2 443.6,1405.6 474,1410.6 504.4,1397.6 534.9,1428.3 565.3,1397.1 595.7,1388.3 626.2,1426.7 656.6,1385.8 687,1344.2 717.5,1365.7 747.9,1429.6 778.3,1410.8 808.7,1424.4 855.2,1461"/>
<polyline points="108.9,1466.2 139.3,1449 169.7,1452.9 200.1,1400.9 230.6,1433.5 261,1412.2 291.4,1396.1 321.9,1428.4 352.3,1424.5 382.7,1407.7 413.2,1425.8 443.6,1395.5 474,1399.7 504.4,1366.1 534.9,1368 565.3,1437.7 595.7,1404 626.2,1410 656.6,1419.3 687,1433.7 717.5,1350.9 747.9,1358.6 778.3,1396.2 808.7,1460 855.2,1456.4"/>
<polyline points="108.9,1461.9 139.3,1426.1 169.7,1434.9 200.1,1452.5 230.6,1424.1 261,1414 291.4,1447.1 321.9,1445.7 352.3,1433.6 382.7,1429.6 413.2,1407.2 443.6,1396.7 474,1407.7 504.4,1355 534.9,1376.9 565.3,1430 595.7,1392.6 626.2,1422.5 656.6,1354.8 687,1368.8 717.5,1358.9 747.9,1367.9 778.3,1373.9 808.7,1403.8 855.2,1423.4"/>
<polyline points="108.9,1465.5 139.3,1442.8 169.7,1462.7 200.1,1415.7 230.6,1414.2 261,1451.2 291.4,1374.4 321.9,1383.9 352.3,1409.1 382.7,1397.6 413.2,1368.6 443.6,1423.1 474,1432.2 504.4,1412.5 534.9,1386.5 565.3,1361 595.7,1425.5 626.2,1433.7 656.6,1380.2 687,1386 717.5,1370 747.9,1404.2 778.3,1455.4 808.7,1446.7 855.2,1393.9"/>
<polyline points="108.9,1389.5 139.3,1383.6 169.7,1373.5 200.1,1397.7 230.6,1470.1 261,1432.2 291.4,1365.3 321.9,1392.6 352.3,1393.8 382.7,1409.9 413.2,1441.4 443.6,1361 474,1400.9 504.4,1357.7 534.9,1367.4 565.3,1404.2 595.7,1429.5 626.2,1445.6 656.6,1440.1 687,1381.3 717.5,1422.8 747.9,1354.3 778.3,1444.6 808.7,1351.1 855.2,1369.3"/>
<polyline points="108.9,1444.6 139.3,1460.2 169.7,1403.8 200.1,1365.4 230.6,1438.4 261,1447 291.4,1433.4 321.9,1424.4 352.3,1387.9 382.7,1437.2 413.2,1421.9 443.6,1434.6 474,1430 504.4,1376.2 534.9,1394.8 565.3,1352.2 595.7,1352.9 626.2,1431.6 656.6,1374.6 687,1424 717.5,1389.3 747.9,1352.3 778.3,1352.2 808.7,1390.1 855.2,1432.5"/>
<polyline points="108.9,1409.7 139.3,1399 169.7,1432.2 200.1,1404.8 230.6,1404.3 261,1365 291.4,1410.6 321.9,1375.2 352.3,1386.7 382.7,1419.8 413.2,1418.1 443.6,1389 474,1396.9 504.4,1410.1 534.9,1421.5 565.3,1439.3 595.7,1405.4 626.2,1376.5 656.6,1433.7 687,1438.9 717.5,1432.1 747.9,1383.5 778.3,1386.9 808.7,1410.1 855.2,1450"/>
<polyline points="108.9,1443.2 139.3,1400.3 169.7,1394.8 200.1,1396.4 230.6,1379.5 261,1397.7 291.4,1397.3 321.9,1369 352.3,1422.2 382.7,1408.3 413.2,1398.9 443.6,1381.2 474,1375.4 504.4,1399.4 534.9,1408.5 565.3,1368.2 595.7,1359.7 626.2,1373.4 656.6,1370.3 687,1363.4 717.5,1371.3 747.9,1366.1 778.3,1349.7 808.7,1392 855.2,1467.4"/>
<polyline points="108.9,1400.7 139.3,1417.1 169.7,1381.9 200.1,1393.8 230.6,1399.3 261,1403.3 291.4,1363.6 321.9,1362.3 352.3,1370.6 382.7,1372.6 413.2,1429.6 443.6,1358.1 474,1365.3 504.4,1348.5 534.9,1353.3 565.3,1390.8 595.7,1362.8 626.2,1356 656.6,1405.7 687,1432.2 717.5,1376.2 747.9,1340 778.3,1357.8 808.7,1363.7 855.2,1350"/>
<polyline points="108.9,1373.6 139.3,1323.6 169.7,1368.1 200.1,1367.5 230.6,1367.1 261,1379.1 291.4,1402.9 321.9,1437 352.3,1388.5 382.7,1361.3 413.2,1360.1 443.6,1365.1 474,1398 504.4,1394 534.9,1379.3 565.3,1371.7 595.7,1347.6 626.2,1397.5 656.6,1415 687,1418 717.5,1410.5 747.9,1351.3 778.3,1347.5 808.7,1392.7 855.2,1455.5"/>
<polyline points="108.9,1401.3 139.3,1424 169.7,1398.6 200.1,1372.5 230.6,1366.2 261,1379.7 291.4,1417.5 321.9,1370.3 352.3,1391.5 382.7,1430.1 413.2,1419.2 443.6,1358.3 474,1369.5 504.4,1369.6 534.9,1349.1 565.3,1383.6 595.7,1411.4 626.2,1392 656.6,1346.6 687,1345.7 717.5,1346.1 747.9,1390.3 778.3,1397.7 808.7,1421.7 855.2,1406.8"/>
<polyline points="108.9,1405.5 139.3,1449.7 169.7,1376.1 200.1,1435.7 230.6,1436.6 261,1424.8 291.4,1408.9 321.9,1427.3 352.3,1377.8 382.7,1387.5 413.2,1406.1 443.6,1413.8 474,1434.6 504.4,1420.8 534.9,1427.7 565.3,1405.5 595.7,1365.9 626.2,1400.3 656.6,1425.8 687,1429.2 717.5,1355.2 747.9,1401 778.3,1385.1 808.7,1416.4 855.2,1357.4"/>
<polyline points="108.9,1418 139.3,1407.7 169.7,1424.8 200.1,1410.6 230.6,1375.1 261,1362.7 291.4,1444.3 321.9,1442.7 352.3,1396.2 382.7,1445.6 413.2,1434 443.6,1386 474,1454.4 504.4,1422.6 534.9,1420.3 565.3,1406.8 595.7,1426.1 626.2,1448.9 656.6,1435.9 687,1439.6 717.5,1375 747.9,1410 778.3,1358.4 808.7,1426.2 855.2,1439"/>
<polyline points="108.9,1441.8 139.3,1463.1 169.7,1446.9 200.1,1455.6 230.6,1372 261,1384.1 291.4,1394.2 321.9,1421.5 352.3,1431.9 382.7,1431.8 413.2,1440.7 443.6,1407.2 474,1395.7 504.4,1404.8 534.9,1423.4 565.3,1410 595.7,1368.4 626.2,1435 656.6,1426.5 687,1435.1 717.5,1394.4 747.9,1414.9 778.3,1368.3 808.7,1351.8 855.2,1362.1"/>
<polyline points="108.9,1464.1 139.3,1458.8 169.7,1444.9 200.1,1448 230.6,1407.4 261,1386.5 291.4,1373.1 321.9,1364.2 352.3,1381.3 382.7,1414.3 413.2,1420.3 443.6,1355.1 474,1426 504.4,1386.3 534.9,1357.9 565.3,1364.6 595.7,1352.3 626.2,1362.2 656.6,1398.5 687,1392.7 717.5,1448.8 747.9,1456.3 778.3,1445.5 808.7,1457.5 855.2,1447.2"/>
<polyline points="108.9,1393.7 139.3,1460.9 169.7,1470.1 200.1,1459.1 230.6,1454.1 261,1396.5 291.4,1403.5 321.9,1382.1 352.3,1359.2 382.7,1443.5 413.2,1455.1 443.6,1435.4 474,1435.4 504.4,1373.8 534.9,1429 565.3,1362.2 595.7,1431.5 626.2,1412.1 656.6,1360.3 687,1402.4 717.5,1366.3 747.9,1363.6 778.3,1372.1 808.7,1411.9 855.2,1386.7"/>
<polyline points="108.9,1386.1 139.3,1414.4 169.7,1418.8 200.1,1431.8 230.6,1367.6 261,1399.6 291.4,1364.9 321.9,1393.2 352.3,1350.4 382.7,1416.5 413.2,1411.6 443.6,1356.5 474,1399.1 504.4,1385.7 534.9,1354.9 565.3,1374.7 595.7,1354.1 626.2,1381.4 656.6,1410.7 687,1369.4 717.5,1335.9 747.9,1354.9 778.3,1382 808.7,1407.4 855.2,1371.7"/>
<polyline points="108.9,1396.5 139.3,1413 169.7,1380.6 200.1,1426.7 230.6,1421.7 261,1367.3 291.4,1382.4 321.9,1431.8 352.3,1417.1 382.7,1399.4 413.2,1409.9 443.6,1392.5 474,1377.2 504.4,1426.2 534.9,1362.6 565.3,1359.2 595.7,1392 626.2,1398.9 656.6,1436.6 687,1416.5 717.5,1418.2 747.9,1406.7 778.3,1455.7 808.7,1458.9 855.2,1462.8"/>
<polyline points="108.9,1465.6 139.3,1440.7 169.7,1425.5 200.1,1455.1 230.6,1445.9 261,1410.5 291.4,1399.2 321.9,1415.3 352.3,1387.3 382.7,1404.5 413.2,1410.5 443.6,1416.5 474,1436.2 504.4,1416.7 534.9,1415.9 565.3,1406.2 595.7,1418.1 626.2,1388.9 656.6,1381.4 687,1348 717.5,1412.1 747.9,1364.8 778.3,1382.6 808.7,1359.1 855.2,1359.7"/>
<polyline points="108.9,1465.3 139.3,1386.2 169.7,1427.5 200.1,1389.9 230.6,1391.3 261,1370.4 291.4,1386.8 321.9,1407.3 352.3,1421.1 382.7,1400.6 413.2,1393 443.6,1414.3 474,1386.1 504.4,1423.2 534.9,1374 565.3,1381.3 595.7,1377.1 626.2,1347.9 656.6,1425.1 687,1409.8 717.5,1371.9 747.9,1409.2 778.3,1356.5 808.7,1451.2 855.2,1430.7"/>
<polyline points="108.9,1458.3 139.3,1372.9 169.7,1372.8 200.1,1368.5 230.6,1386.3 261,1407.6 291.4,1412.9 321.9,1360.7 352.3,1402.8 382.7,1401.1 413.2,1384.6 443.6,1358.6 474,1376.6 504.4,1385.1 534.9,1430.8 565.3,1337.8 595.7,1375.2 626.2,1392.7 656.6,1377.1 687,1432.9 717.5,1409 747.9,1371.7 778.3,1354.9 808.7,1304.1 855.2,1394.7"/>
<polyline points="108.9,1449 139.3,1378.2 169.7,1459.8 200.1,1431.2 230.6,1385.1 261,1374.1 291.4,1406 321.9,1441.5 352.3,1398 382.7,1358.4 413.2,1331.8 443.6,1420.9 474,1431.1 504.4,1367.8 534.9,1391.8 565.3,1443.2 595.7,1439.2 626.2,1378.3 656.6,1356.6 687,1373.5 717.5,1360.7 747.9,1371 778.3,1432.5 808.7,1457.8 855.2,1445.4"/>
<polyline points="108.9,1377 139.3,1368.4 169.7,1392.8 200.1,1425.4 230.6,1380.1 261,1371.7 291.4,1384.3 321.9,1435.2 352.3,1389.1 382.7,1379.7 413.2,1370.3 443.6,1420.3 474,1427.7 504.4,1350.4 534.9,1406 565.3,1399.1 595.7,1358.5 626.2,1333.7 656.6,1351.7 687,1362.8 717.5,1403.6 747.9,1396.9 778.3,1359 808.7,1371.4 855.2,1361.3"/>
<polyline points="108.9,1409 139.3,1434.5 169.7,1409.6 200.1,1386 230.6,1375.8 261,1420.8 291.4,1380 321.9,1411.3 352.3,1392.1 382.7,1426.9 413.2,1439.9 443.6,1402.3 474,1389.1 504.4,1384.5 534.9,1390 565.3,1440.8 595.7,1385.8 626.2,1396.1 656.6,1420.8 687,1400.9 717.5,1441.3 747.9,1424.7 778.3,1385.7 808.7,1336.8 855.2,1437.1"/>
<polyline points="108.9,1414.5 139.3,1376.9 169.7,1387 200.1,1458.1 230.6,1416.7 261,1361.6 291.4,1356.3 321.9,1389.5 352.3,1406.2 382.7,1361.8 413.2,1408.3 443.6,1440.8 474,1408.8 504.4,1429.2 534.9,1414.1 565.3,1411.3 595.7,1422.8 626.2,1357.2 656.6,1417.2 687,1444.9 717.5,1430.5 747.9,1381.6 778.3,1412.5 808.7,1461.6 855.2,1415.1"/>
<polyline points="108.9,1425.2 139.3,1446.3 169.7,1454.3 200.1,1462.1 230.6,1453.7 261,1415.7 291.4,1407.2 321.9,1409.6 352.3,1401 382.7,1383.3 413.2,1424.1 443.6,1369.9 474,1374.8 504.4,1370.2 534.9,1417.2 565.3,1413.9 595.7,1444.4 626.2,1470.1 656.6,1446.2 687,1380.7 717.5,1447.7 747.9,1431.3 778.3,1470.1 808.7,1463 855.2,1422.4"/>
<polyline points="108.9,1392.3 139.3,1428.9 169.7,1389.6 200.1,1382.2 230.6,1402.4 261,1417.4 291.4,1431.7 321.9,1388.9 352.3,1419.9 382.7,1419.2 413.2,1409.4 443.6,1417.6 474,1356.1 504.4,1438.5 534.9,1381.7 565.3,1312.2 595.7,1307.3 626.2,1343.1 656.6,1388.9 687,1395 717.5,1397.5 747.9,1356.8 778.3,1359.6 808.7,1353.9 855.2,1340.9"/>
<polyline points="108.9,1388.1 139.3,1341.5 169.7,1343.2 200.1,1363.6 230.6,1364.3 261,1365.6 291.4,1394.8 321.9,1357.1 352.3,1358.7 382.7,1350.3 413.2,1378.1 443.6,1359.8 474,1361.7 504.4,1378 534.9,1359.1 565.3,1354.5 595.7,1345.3 626.2,1353.5 656.6,1354.1 687,1356.3 717.5,1346.7 747.9,1375.4 778.3,1354.1 808.7,1357.9 855.2,1381.2"/>
</g>
<g clip-path="url(#clipd)" fill="none" stroke="#e41f28" stroke-width="2.1" stroke-linejoin="miter" stroke-miterlimit="4">
<polyline points="996.7,841.1 1017.5,1236.3 1053.2,1467.2 1087.9,1437.3 1118.4,1442.8 1148.8,1459.8 1179.2,1457.4 1209.7,1463.8 1240.1,1462.6 1270.5,1466.5 1301,1467.4 1331.4,1466.4 1361.8,1468.5 1392.2,1469.8 1422.7,1467.2 1453.1,1468.9 1483.5,1464.5 1514,1441.2 1544.4,1442.7 1574.8,1455.4 1605.2,1468.1 1635.7,1469.4 1666.1,1468.7 1696.5,1468.9 1742.9,1469.6"/>
<polyline points="996.7,836.1 1019.7,1273.3 1053.4,1469.6 1087.9,1443.8 1118.4,1450.1 1148.8,1450.3 1179.2,1433.8 1209.7,1454.3 1240.1,1458.1 1270.5,1457.3 1301,1459.2 1331.4,1459 1361.8,1467 1392.2,1463.5 1422.7,1460 1453.1,1457.1 1483.5,1453.1 1514,1451.8 1544.4,1450.9 1574.8,1459.1 1605.2,1464.2 1635.7,1464.2 1666.1,1466.8 1696.5,1464.9 1742.9,1449"/>
<polyline points="996.7,840.3 1022.2,1315.7 1055.1,1463.8 1087.9,1430.8 1118.4,1436.9 1148.8,1409.3 1179.2,1423.6 1209.7,1427.5 1240.1,1438.1 1270.5,1451.7 1301,1451.6 1331.4,1448.5 1361.8,1454.2 1392.2,1449.4 1422.7,1442.5 1453.1,1441.2 1483.5,1433.4 1514,1416 1544.4,1381.9 1574.8,1396.3 1605.2,1454.5 1635.7,1462.4 1666.1,1463 1696.5,1463.9 1742.9,1465.6"/>
<polyline points="996.7,839.6 1022.8,1297.9 1056.6,1454.8 1087.9,1448.1 1118.4,1454.1 1148.8,1461.1 1179.2,1458.8 1209.7,1453 1240.1,1453.5 1270.5,1462 1301,1461.3 1331.4,1456.7 1361.8,1461.7 1392.2,1455.9 1422.7,1464.6 1453.1,1465.7 1483.5,1461.4 1514,1445.1 1544.4,1428.4 1574.8,1449.8 1605.2,1460 1635.7,1468.5 1666.1,1468.3 1696.5,1467.6 1742.9,1469.1"/>
<polyline points="996.7,836.5 1023.7,1318 1046.9,1463.3 1057.5,1452.2 1087.9,1441.6 1118.4,1451.6 1148.8,1437.3 1179.2,1442.2 1209.7,1435.1 1240.1,1441.6 1270.5,1449 1301,1455.6 1331.4,1450.7 1361.8,1457.8 1392.2,1452.9 1422.7,1451.7 1453.1,1455.2 1483.5,1456.2 1514,1449 1544.4,1448.9 1574.8,1428.5 1605.2,1449 1635.7,1464.6 1666.1,1465.2 1696.5,1468.1 1742.9,1466.2"/>
<polyline points="996.7,842.9 1019.9,1256.7 1054.5,1457 1087.9,1428.6 1118.4,1444.3 1148.8,1443.8 1179.2,1447.3 1209.7,1448.4 1240.1,1452.4 1270.5,1460 1301,1463.9 1331.4,1462 1361.8,1460.2 1392.2,1454.4 1422.7,1449.9 1453.1,1452.2 1483.5,1462.4 1514,1464.5 1544.4,1459.2 1574.8,1451.7 1605.2,1469.8 1635.7,1469.8 1666.1,1468.5 1696.5,1468.7 1742.9,1467.4"/>
<polyline points="996.7,839.8 1022.1,1223.9 1047.6,1469.4 1057.5,1437.3 1087.9,1432.9 1118.4,1456.6 1148.8,1440.5 1179.2,1451.8 1209.7,1459.8 1240.1,1463.8 1270.5,1468.5 1301,1467.8 1331.4,1463.5 1361.8,1460.7 1392.2,1461.2 1422.7,1458.2 1453.1,1464.2 1483.5,1458.3 1514,1453.2 1544.4,1446.8 1574.8,1448 1605.2,1465.4 1635.7,1465.9 1666.1,1468.1 1696.5,1467 1742.9,1469.4"/>
<polyline points="996.7,843.4 1023.7,1281.5 1047.8,1467.7 1057.5,1455.7 1087.9,1457.1 1118.4,1445.7 1148.8,1442.1 1179.2,1440.6 1209.7,1437 1240.1,1448.1 1270.5,1454.5 1301,1454.9 1331.4,1455.9 1361.8,1465.7 1392.2,1465.4 1422.7,1455.4 1453.1,1449.3 1483.5,1447.7 1514,1429.5 1544.4,1415.6 1574.8,1421.5 1605.2,1452.7 1635.7,1459 1666.1,1463.6 1696.5,1465.9 1742.9,1464.6"/>
<polyline points="996.7,843.5 1023.6,1287.2 1055.2,1454.5 1087.9,1435.1 1118.4,1435.5 1148.8,1434 1179.2,1437.2 1209.7,1431.3 1240.1,1433.4 1270.5,1459.1 1301,1453.5 1331.4,1455.2 1361.8,1459.7 1392.2,1463 1422.7,1463.3 1453.1,1458.1 1483.5,1452 1514,1456 1544.4,1438.6 1574.8,1457.2 1605.2,1461.8 1635.7,1466.5 1666.1,1469.8 1696.5,1469.6 1742.9,1468.5"/>
<polyline points="996.7,838 1024,1296.7 1048.6,1465.9 1057.5,1462.2 1087.9,1463.8 1118.4,1460.3 1148.8,1451.6 1179.2,1464.5 1209.7,1457.1 1240.1,1443.8 1270.5,1452.7 1301,1458.5 1331.4,1459.7 1361.8,1456.8 1392.2,1455.2 1422.7,1445.7 1453.1,1450.3 1483.5,1442.2 1514,1439.2 1544.4,1444.7 1574.8,1437.8 1605.2,1455.4 1635.7,1465 1666.1,1464.3 1696.5,1463 1742.9,1467.2"/>
<polyline points="996.7,837.7 1024.1,1302.5 1053,1465.2 1087.9,1445.9 1118.4,1439.9 1148.8,1432.4 1179.2,1430.5 1209.7,1438.9 1240.1,1442.7 1270.5,1455.4 1301,1465.4 1331.4,1463.9 1361.8,1465.2 1392.2,1464.9 1422.7,1468.5 1453.1,1468.1 1483.5,1468.7 1514,1457.4 1544.4,1461.2 1574.8,1453.5 1605.2,1459.1 1635.7,1462 1666.1,1460.5 1696.5,1463.3 1742.9,1463.9"/>
<polyline points="996.7,839.4 1020.1,1242.2 1048.7,1465.1 1057.5,1459 1087.9,1465.2 1118.4,1462.8 1148.8,1458.4 1179.2,1460.3 1209.7,1446.5 1240.1,1451.4 1270.5,1464.6 1301,1462.5 1331.4,1462.5 1361.8,1464.8 1392.2,1459.7 1422.7,1456.4 1453.1,1460.4 1483.5,1460.4 1514,1463.1 1544.4,1453 1574.8,1462.7 1605.2,1463 1635.7,1467.8 1666.1,1466.2 1696.5,1464.3 1742.9,1467.5"/>
<polyline points="996.7,838 1019.2,1229 1056.3,1469.6 1087.9,1458.4 1118.4,1441.3 1148.8,1447 1179.2,1465.9 1209.7,1461.1 1240.1,1455.8 1270.5,1460.7 1301,1462 1331.4,1461.2 1361.8,1459.2 1392.2,1464.4 1422.7,1460.7 1453.1,1453.2 1483.5,1445.5 1514,1431.4 1544.4,1423.3 1574.8,1430.8 1605.2,1451.7 1635.7,1461.1 1666.1,1462.6 1696.5,1462.6 1742.9,1466.5"/>
<polyline points="996.7,849.4 1022.5,1317.3 1048.3,1455.7 1057.5,1467.6 1087.9,1469.8 1118.4,1466.5 1148.8,1469.8 1179.2,1469.8 1209.7,1469.8 1240.1,1468.9 1270.5,1469.1 1301,1468.5 1331.4,1468.5 1361.8,1467.8 1392.2,1456.7 1422.7,1459.1 1453.1,1456.1 1483.5,1449.8 1514,1460.3 1544.4,1463.3 1574.8,1464.6 1605.2,1460.6 1635.7,1466.8 1666.1,1466.5 1696.5,1467.2 1742.9,1468.2"/>
<polyline points="996.7,839 1023.9,1263.4 1056.5,1461.6 1087.9,1462.5 1118.4,1465.3 1148.8,1466.5 1179.2,1461.7 1209.7,1455.7 1240.1,1447 1270.5,1447 1301,1449.6 1331.4,1454.4 1361.8,1463.1 1392.2,1462.5 1422.7,1465.2 1453.1,1464.9 1483.5,1463.5 1514,1468.5 1544.4,1466.8 1574.8,1465.9 1605.2,1466 1635.7,1467.4 1666.1,1467.4 1696.5,1467.4 1742.9,1468"/>
<polyline points="996.7,986.3 1014,1240 1047.4,1467 1057.5,1461.1 1087.9,1468.7 1118.4,1467.6 1148.8,1467.6 1179.2,1467.2 1209.7,1468.7 1240.1,1467.2 1270.5,1467.2 1301,1466.9 1331.4,1469.1 1361.8,1469.1 1392.2,1465.9 1422.7,1469.1 1453.1,1469.8 1483.5,1469.8 1514,1469.8 1544.4,1465 1574.8,1467.2 1605.2,1464.8 1635.7,1468.1 1666.1,1467.8 1696.5,1466.5 1742.9,1469"/>
<polyline points="996.7,1040.3 1020.8,1207.6 1054.2,1444.6 1087.9,1454.3 1118.4,1447.2 1148.8,1448.6 1179.2,1443.9 1209.7,1433.2 1240.1,1450.3 1270.5,1450.8 1301,1459.9 1331.4,1457.4 1361.8,1464.4 1392.2,1458.2 1422.7,1461.3 1453.1,1461.9 1483.5,1448.8 1514,1425.5 1544.4,1418.2 1574.8,1444.3 1605.2,1467.2 1635.7,1467.2 1666.1,1469.1 1696.5,1468.5 1742.9,1464.3"/>
<polyline points="996.7,1085.2 1018.5,1285.5 1054.2,1441.1 1087.9,1412.7 1118.4,1427.5 1148.8,1416.4 1179.2,1428.8 1209.7,1421.4 1240.1,1435.7 1270.5,1443.1 1301,1456.4 1331.4,1453.6 1361.8,1455.9 1392.2,1463.9 1422.7,1462 1453.1,1461.1 1483.5,1450.9 1514,1447 1544.4,1425.8 1574.8,1442.5 1605.2,1458.2 1635.7,1465.5 1666.1,1467 1696.5,1467.8 1742.9,1467.7"/>
<polyline points="996.7,1119 1019.3,1230.3 1052.6,1456.4 1087.9,1439.4 1118.4,1438.4 1148.8,1435.6 1179.2,1453.2 1209.7,1451.6 1240.1,1466.1 1270.5,1465.9 1301,1464.9 1331.4,1466.9 1361.8,1467.4 1392.2,1467.4 1422.7,1469.8 1453.1,1466.4 1483.5,1459.3 1514,1450.4 1544.4,1436 1574.8,1433.1 1605.2,1461.2 1635.7,1467 1666.1,1467.6 1696.5,1466.8 1742.9,1467.8"/>
<polyline points="996.7,1154.8 1013.8,1197.4 1042.1,1459.2 1057.5,1450.8 1087.9,1389.8 1118.4,1424.2 1148.8,1430.8 1179.2,1432.2 1209.7,1429.4 1240.1,1440.5 1270.5,1456.4 1301,1463.5 1331.4,1460.5 1361.8,1457.3 1392.2,1451.1 1422.7,1453.6 1453.1,1458.8 1483.5,1466.5 1514,1454.6 1544.4,1413.1 1574.8,1416.8 1605.2,1445.1 1635.7,1461.6 1666.1,1461.6 1696.5,1457.9 1742.9,1458.5"/>
<polyline points="996.7,1205.6 1018.5,1430.7 1035.3,1435.8 1057.5,1454.6 1087.9,1401.2 1118.4,1434 1148.8,1423.6 1179.2,1426.2 1209.7,1418.4 1240.1,1449.2 1270.5,1449.9 1301,1454.2 1331.4,1452.9 1361.8,1461.2 1392.2,1466.4 1422.7,1462.6 1453.1,1454.2 1483.5,1443.3 1514,1435.3 1544.4,1408 1574.8,1402.3 1605.2,1437.3 1635.7,1455.5 1666.1,1459.4 1696.5,1455.5 1742.9,1453.7"/>
<polyline points="996.7,1268.1 1020.7,1342.3 1027.2,1453.1 1057.5,1463.3 1087.9,1461.1 1118.4,1468.7 1148.8,1462.5 1179.2,1450.4 1209.7,1467.6 1240.1,1469.8 1270.5,1469.8 1301,1469.8 1331.4,1469.8 1361.8,1469.8 1392.2,1469.1 1422.7,1466.5 1453.1,1467.2 1483.5,1467.6 1514,1458.8 1544.4,1455 1574.8,1460.9 1605.2,1466.6 1635.7,1468.3 1666.1,1469.6 1696.5,1469.4 1742.9,1468.3"/>
<polyline points="996.7,1285 1012.6,1374.3 1037.5,1453.2 1057.5,1464.4 1087.9,1451.6 1118.4,1459.1 1148.8,1438.9 1179.2,1421 1209.7,1424.5 1240.1,1444.9 1270.5,1453.6 1301,1457.8 1331.4,1465.9 1361.8,1466.5 1392.2,1467.8 1422.7,1465.9 1453.1,1446.4 1483.5,1444.4 1514,1433.4 1544.4,1420.7 1574.8,1435.5 1605.2,1462.4 1635.7,1466.1 1666.1,1465.6 1696.5,1465.6 1742.9,1466.9"/>
<polyline points="996.7,1301.9 1015.7,1310.2 1039.6,1434.3 1057.5,1441.3 1087.9,1455.7 1118.4,1464.1 1148.8,1463.8 1179.2,1463.1 1209.7,1444.6 1240.1,1454.7 1270.5,1461.3 1301,1465.9 1331.4,1467.8 1361.8,1466.1 1392.2,1466.9 1422.7,1467.8 1453.1,1462.6 1483.5,1457.3 1514,1443.1 1544.4,1440.6 1574.8,1414.5 1605.2,1450.8 1635.7,1463.3 1666.1,1464.9 1696.5,1465.2 1742.9,1465.2"/>
<polyline points="996.7,1320.1 1016.2,1413.9 1036.6,1435.8 1057.5,1448.1 1087.9,1453 1118.4,1457.8 1148.8,1453 1179.2,1454.6 1209.7,1462.5 1240.1,1460.4 1270.5,1465.2 1301,1466.4 1331.4,1467.4 1361.8,1463.5 1392.2,1460.5 1422.7,1463.9 1453.1,1463.4 1483.5,1465.5 1514,1467.2 1544.4,1468.5 1574.8,1468.5 1605.2,1468.9 1635.7,1468.9 1666.1,1468.9 1696.5,1469.1 1742.9,1468.8"/>
<polyline points="996.7,1333.1 1016.4,1303.8 1046.1,1459.7 1057.5,1466.5 1087.9,1466.5 1118.4,1469.8 1148.8,1468.7 1179.2,1468.5 1209.7,1466.5 1240.1,1468.1 1270.5,1467.8 1301,1469.1 1331.4,1464.9 1361.8,1462.2 1392.2,1468.5 1422.7,1457.3 1453.1,1459.6 1483.5,1455.2 1514,1465.9 1544.4,1433.5 1574.8,1426.1 1605.2,1457.3 1635.7,1466.3 1666.1,1469.4 1696.5,1469.8 1742.9,1469.8"/>
<polyline points="996.7,1346.1 1013.7,1418.9 1039.2,1442.7 1057.5,1465.5 1087.9,1459.8 1118.4,1455.3 1148.8,1454.3 1179.2,1438.9 1209.7,1450.3 1240.1,1456.9 1270.5,1462.6 1301,1460.6 1331.4,1463 1361.8,1458.2 1392.2,1453.6 1422.7,1450.8 1453.1,1447.3 1483.5,1446.6 1514,1461.7 1544.4,1457.1 1574.8,1446.2 1605.2,1453.6 1635.7,1457.2 1666.1,1463.3 1696.5,1460.3 1742.9,1463.6"/>
<polyline points="996.7,1362.4 1015.4,1282 1027,1439.1 1057.5,1446.8 1087.9,1450.3 1118.4,1448.6 1148.8,1445.4 1179.2,1449 1209.7,1442.7 1240.1,1459.2 1270.5,1463.9 1301,1457.1 1331.4,1458.2 1361.8,1458.7 1392.2,1457.4 1422.7,1454.5 1453.1,1448.3 1483.5,1441.2 1514,1427.5 1544.4,1399.3 1574.8,1408.4 1605.2,1441.2 1635.7,1460.7 1666.1,1464.6 1696.5,1464.6 1742.9,1464.9"/>
<polyline points="996.7,1372.2 1013.4,1274.9 1029.4,1433.8 1057.5,1424.2 1087.9,1426.4 1118.4,1452.8 1148.8,1455.7 1179.2,1456 1209.7,1465.2 1240.1,1461.5 1270.5,1463.3 1301,1463 1331.4,1464.4 1361.8,1462.6 1392.2,1462 1422.7,1452.7 1453.1,1451.3 1483.5,1454.2 1514,1437.3 1544.4,1410.5 1574.8,1419.1 1605.2,1463.6 1635.7,1467.6 1666.1,1467.2 1696.5,1466.2 1742.9,1463.3"/>
<polyline points="996.7,1380 1017.1,1390.6 1027.8,1461.2 1057.5,1468.7 1087.9,1467.6 1118.4,1461.6 1148.8,1465.2 1179.2,1445.6 1209.7,1458.4 1240.1,1464.9 1270.5,1458.2 1301,1464.4 1331.4,1465.4 1361.8,1463.9 1392.2,1459 1422.7,1449 1453.1,1443.8 1483.5,1438.6 1514,1420.8 1544.4,1430.9 1574.8,1440.1 1605.2,1449.9 1635.7,1463.7 1666.1,1465.9 1696.5,1468.3 1742.9,1468.7"/>
<polyline points="996.7,1352.7 1016.8,1285 1053.7,1466.7 1087.9,1424.2 1118.4,1430.8 1148.8,1457.1 1179.2,1435.5 1209.7,1440.8 1240.1,1445.9 1270.5,1445.1 1301,1447.7 1331.4,1446.4 1361.8,1455 1392.2,1447.7 1422.7,1439.2 1453.1,1438.6 1483.5,1436 1514,1411.2 1544.4,1390.6 1574.8,1423.8 1605.2,1456.4 1635.7,1462.9 1666.1,1463.9 1696.5,1463.6 1742.9,1465.9"/>
</g>
<g clip-path="url(#clipe)" fill="none" stroke="#e41f28" stroke-width="2.1" stroke-linejoin="miter" stroke-miterlimit="4">
<polyline points="110.2,2280.6 140.6,2279.7 171,2268.2 201.4,2266 231.9,2246.2 262.3,2274.7 292.7,2189.6 323.2,2155.3 353.6,2201.4 384,2167.5 414.5,2168.5 444.9,2212.3 475.3,2252 505.7,2240.2 536.2,2250.4 566.6,2257.5 597,2258.1 627.5,2262.4 657.9,2279.2 688.3,2277.7 718.8,2277.2 749.2,2276.4 779.6,2280 810,2278.5 856.4,2280.3"/>
<polyline points="110.2,2280.6 140.6,2280.5 171,2271.5 201.4,2226.4 231.9,2215.1 262.3,2218.1 292.7,2256.7 323.2,2195.8 353.6,2183.6 384,2199.3 414.5,2160.7 444.9,2186.3 475.3,2235.4 505.7,2148.8 536.2,2175.7 566.6,2243.2 597,2265 627.5,2244.5 657.9,2259.8 688.3,2272.9 718.8,2275.7 749.2,2277.5 779.6,2277.9 810,2276.9 856.4,2279"/>
<polyline points="110.2,2280.6 140.6,2279.9 171,2268.3 201.4,2211.9 231.9,2157.7 262.3,2161.4 292.7,2192.4 323.2,2234.6 353.6,2193.6 384,2161.4 414.5,2191.4 444.9,2156 475.3,2223.4 505.7,2212.2 536.2,2268.7 566.6,2273.8 597,2271.6 627.5,2247.3 657.9,2258.2 688.3,2278.9 718.8,2279.6 749.2,2276.9 779.6,2276 810,2277.4 856.4,2280.4"/>
<polyline points="110.2,2280.6 140.6,2278.9 171,2265.9 201.4,2217.8 231.9,2265.8 262.3,2167.9 292.7,2179 323.2,2169.6 353.6,2096.8 384,2163.6 414.5,2168 444.9,2149.6 475.3,2160.6 505.7,2162.9 536.2,2198.1 566.6,2206.7 597,2253.4 627.5,2261.1 657.9,2269.1 688.3,2272.7 718.8,2275.8 749.2,2280.2 779.6,2277.4 810,2277 856.4,2279.9"/>
<polyline points="110.2,2280.6 140.6,2280.2 171,2275.6 201.4,2237.5 231.9,2214.5 262.3,2273.8 292.7,2270.8 323.2,2270.7 353.6,2254.5 384,2246.1 414.5,2244.5 444.9,2217 475.3,2245.7 505.7,2260.7 536.2,2264.9 566.6,2258.1 597,2271.2 627.5,2279.1 657.9,2279.1 688.3,2280.1 718.8,2280.3 749.2,2275.2 779.6,2278.9 810,2280.6 856.4,2280.6"/>
<polyline points="110.2,2280.6 140.6,2279.9 171,2278.9 201.4,2259.6 231.9,2178.9 262.3,2163.1 292.7,2215.9 323.2,2170.7 353.6,2203.7 384,2174.2 414.5,2175.8 444.9,2141.1 475.3,2180.1 505.7,2255.4 536.2,2257.1 566.6,2266.7 597,2266 627.5,2266.4 657.9,2266.7 688.3,2267.8 718.8,2278.1 749.2,2279 779.6,2278.1 810,2280 856.4,2280.5"/>
<polyline points="110.2,2280.6 140.6,2279.3 171,2279.1 201.4,2277 231.9,2278.2 262.3,2219.5 292.7,2169 323.2,2188 353.6,2226.5 384,2187 414.5,2212.3 444.9,2231.1 475.3,2194.1 505.7,2176.9 536.2,2215.5 566.6,2248.8 597,2233.5 627.5,2265.4 657.9,2278.9 688.3,2278.5 718.8,2275 749.2,2279.2 779.6,2277.9 810,2280.6 856.4,2280.5"/>
<polyline points="110.2,2280.6 140.6,2280.3 171,2279.9 201.4,2277.7 231.9,2235.5 262.3,2233.3 292.7,2250.7 323.2,2241 353.6,2262.9 384,2221.7 414.5,2132.8 444.9,2174.3 475.3,2177.2 505.7,2217 536.2,2266.3 566.6,2221.1 597,2244.5 627.5,2256.7 657.9,2275.3 688.3,2269.2 718.8,2280 749.2,2276.2 779.6,2275.8 810,2275.7 856.4,2280.4"/>
<polyline points="110.2,2280.6 140.6,2279.6 171,2272.6 201.4,2245.3 231.9,2274.6 262.3,2125.7 292.7,2205.2 323.2,2184.1 353.6,2259.8 384,2253.2 414.5,2230.8 444.9,2234.2 475.3,2194.6 505.7,2245.5 536.2,2214.1 566.6,2214 597,2253.6 627.5,2277.5 657.9,2279.5 688.3,2275.9 718.8,2276.1 749.2,2276.6 779.6,2279.5 810,2279.2 856.4,2280.4"/>
<polyline points="110.2,2280.6 140.6,2280.6 171,2278.4 201.4,2253.6 231.9,2231 262.3,2250.6 292.7,2262.7 323.2,2194.6 353.6,2205.9 384,2238 414.5,2220.2 444.9,2189.4 475.3,2250.3 505.7,2271.5 536.2,2253.7 566.6,2271.5 597,2264.4 627.5,2275.7 657.9,2277 688.3,2277.9 718.8,2278.1 749.2,2277.9 779.6,2278.4 810,2280.1 856.4,2279.8"/>
<polyline points="110.2,2280.6 140.6,2279.6 171,2273 201.4,2216.3 231.9,2160.5 262.3,2224.3 292.7,2221.2 323.2,2235.3 353.6,2265 384,2255.3 414.5,2202.8 444.9,2210.3 475.3,2249.7 505.7,2254.8 536.2,2242.1 566.6,2235.8 597,2265.8 627.5,2263.6 657.9,2271.7 688.3,2277.7 718.8,2279.3 749.2,2279.6 779.6,2278.6 810,2280 856.4,2280.6"/>
<polyline points="110.2,2280.6 140.6,2279.1 171,2269.3 201.4,2247.5 231.9,2221.6 262.3,2194.1 292.7,2196.3 323.2,2251.7 353.6,2162.4 384,2197.1 414.5,2213.4 444.9,2178 475.3,2236 505.7,2250.2 536.2,2220.4 566.6,2222.1 597,2237 627.5,2268.8 657.9,2276.9 688.3,2277.4 718.8,2274.7 749.2,2277.1 779.6,2279.6 810,2280.4 856.4,2280.6"/>
<polyline points="110.2,2280.6 140.6,2280.4 171,2277.2 201.4,2260.3 231.9,2239.9 262.3,2277 292.7,2270.1 323.2,2166.2 353.6,2175.2 384,2210.3 414.5,2186.2 444.9,2165 475.3,2237.1 505.7,2274.1 536.2,2275.6 566.6,2272.8 597,2261.5 627.5,2260.3 657.9,2278.6 688.3,2277.8 718.8,2277.1 749.2,2277.8 779.6,2280.2 810,2280.6 856.4,2280.6"/>
<polyline points="110.2,2280.6 140.6,2279.8 171,2277.4 201.4,2246.2 231.9,2256.3 262.3,2162 292.7,2180.2 323.2,2209.7 353.6,2214.6 384,2159.7 414.5,2192.4 444.9,2257.4 475.3,2240.6 505.7,2189.5 536.2,2275.1 566.6,2276.3 597,2230.8 627.5,2272.5 657.9,2279.5 688.3,2280.3 718.8,2280.3 749.2,2280.3 779.6,2277.5 810,2276.1 856.4,2280.2"/>
<polyline points="110.2,2280.6 140.6,2280.3 171,2278 201.4,2218.6 231.9,2185 262.3,2146.1 292.7,2171.2 323.2,2151.2 353.6,2210.4 384,2134.6 414.5,2182.5 444.9,2128.6 475.3,2176.2 505.7,2184.2 536.2,2233 566.6,2253 597,2272 627.5,2276.1 657.9,2277.4 688.3,2272 718.8,2274 749.2,2277 779.6,2277 810,2278.1 856.4,2279.5"/>
<polyline points="110.2,2280.6 140.6,2280.2 171,2279.1 201.4,2263.5 231.9,2192.8 262.3,2232.6 292.7,2200.8 323.2,2247.3 353.6,2217 384,2182.6 414.5,2203.9 444.9,2205.6 475.3,2179.1 505.7,2185.6 536.2,2239.7 566.6,2245.9 597,2264.3 627.5,2273.3 657.9,2268.3 688.3,2279.4 718.8,2278 749.2,2279.2 779.6,2279.5 810,2279.5 856.4,2280"/>
<polyline points="110.2,2280.6 140.6,2279.8 171,2264.6 201.4,2256.8 231.9,2227.9 262.3,2178.6 292.7,2157.3 323.2,2170.1 353.6,2189.2 384,2160.3 414.5,2211.2 444.9,2218.6 475.3,2215.4 505.7,2231.9 536.2,2179.9 566.6,2237.2 597,2256.8 627.5,2255.9 657.9,2274.5 688.3,2276.9 718.8,2279.2 749.2,2279.1 779.6,2278.4 810,2280.4 856.4,2280.1"/>
<polyline points="110.2,2280.6 140.6,2279.1 171,2265.7 201.4,2216.7 231.9,2210.1 262.3,2192.3 292.7,2248 323.2,2254.2 353.6,2175.8 384,2185.3 414.5,2166.4 444.9,2254.5 475.3,2175.7 505.7,2199.6 536.2,2243.1 566.6,2272.2 597,2263.9 627.5,2272.4 657.9,2267.7 688.3,2280.4 718.8,2278.6 749.2,2279.8 779.6,2277.7 810,2279.2 856.4,2280.2"/>
<polyline points="110.2,2280.6 140.6,2280.5 171,2279 201.4,2256.1 231.9,2219.7 262.3,2147.5 292.7,2153.8 323.2,2174.6 353.6,2233 384,2126.5 414.5,2170.6 444.9,2221.7 475.3,2188.8 505.7,2218.5 536.2,2212.3 566.6,2248.5 597,2251.3 627.5,2274.6 657.9,2279.2 688.3,2277.4 718.8,2276.8 749.2,2280.3 779.6,2279.6 810,2279.3 856.4,2279.3"/>
<polyline points="110.2,2280.6 140.6,2279.3 171,2275.1 201.4,2245.6 231.9,2196.7 262.3,2254 292.7,2254 323.2,2253 353.6,2243.8 384,2165.8 414.5,2172.1 444.9,2258.2 475.3,2263.1 505.7,2205 536.2,2215.9 566.6,2227.1 597,2274.5 627.5,2265 657.9,2276.6 688.3,2275.4 718.8,2279.7 749.2,2278.9 779.6,2276.8 810,2279.3 856.4,2280.6"/>
<polyline points="110.2,2280.6 140.6,2280.5 171,2273 201.4,2272.1 231.9,2276.5 262.3,2275.7 292.7,2214.6 323.2,2251.1 353.6,2221.2 384,2121.5 414.5,2233.9 444.9,2222.7 475.3,2190.2 505.7,2192.9 536.2,2185.4 566.6,2220.4 597,2268.1 627.5,2269.7 657.9,2277.4 688.3,2276.9 718.8,2280.3 749.2,2279.3 779.6,2279.6 810,2278.7 856.4,2280.6"/>
<polyline points="110.2,2280.6 140.6,2280.1 171,2264.1 201.4,2221.2 231.9,2193.4 262.3,2272.9 292.7,2208 323.2,2153.7 353.6,2177.5 384,2165.3 414.5,2173.2 444.9,2191 475.3,2270.4 505.7,2223.1 536.2,2222.6 566.6,2234.2 597,2244.3 627.5,2266 657.9,2274.2 688.3,2273.6 718.8,2274.8 749.2,2274.8 779.6,2278.5 810,2279.7 856.4,2280.1"/>
<polyline points="110.2,2280.6 140.6,2278.2 171,2271.8 201.4,2272.4 231.9,2260.1 262.3,2234 292.7,2218.6 323.2,2188.5 353.6,2213.4 384,2179.2 414.5,2217.6 444.9,2151.7 475.3,2158.3 505.7,2214.6 536.2,2208.3 566.6,2211.2 597,2233.1 627.5,2256.9 657.9,2266.5 688.3,2275.5 718.8,2279 749.2,2278.7 779.6,2278.6 810,2278.2 856.4,2279.9"/>
<polyline points="110.2,2280.6 140.6,2279.7 171,2273.1 201.4,2274.7 231.9,2242.4 262.3,2274.3 292.7,2278.8 323.2,2280.6 353.6,2274.4 384,2204.3 414.5,2210.2 444.9,2233.7 475.3,2214.8 505.7,2270.1 536.2,2269.2 566.6,2269.9 597,2278.3 627.5,2276.4 657.9,2280 688.3,2279.2 718.8,2280.4 749.2,2280.3 779.6,2280.3 810,2279 856.4,2280.4"/>
<polyline points="110.2,2280.6 140.6,2280.2 171,2264.7 201.4,2230.8 231.9,2171.1 262.3,2188.1 292.7,2150.3 323.2,2181.3 353.6,2253.3 384,2194.8 414.5,2155.7 444.9,2153.8 475.3,2174.8 505.7,2227.8 536.2,2261 566.6,2242.2 597,2276 627.5,2259.9 657.9,2266.9 688.3,2269.8 718.8,2276.6 749.2,2279.9 779.6,2279.3 810,2278 856.4,2280.4"/>
<polyline points="110.2,2280.6 140.6,2280.6 171,2279.2 201.4,2268.3 231.9,2225.4 262.3,2198.2 292.7,2245.3 323.2,2261.2 353.6,2250.9 384,2206.5 414.5,2197.6 444.9,2170.7 475.3,2261.2 505.7,2261.3 536.2,2274.5 566.6,2276.9 597,2249.2 627.5,2263.4 657.9,2269.4 688.3,2277.6 718.8,2280.4 749.2,2279.5 779.6,2277 810,2278.2 856.4,2280.6"/>
<polyline points="110.2,2280.6 140.6,2279.3 171,2276.6 201.4,2242 231.9,2184.4 262.3,2234.7 292.7,2263.4 323.2,2269.3 353.6,2245.5 384,2253.5 414.5,2236.6 444.9,2160.3 475.3,2144.7 505.7,2220.8 536.2,2271.1 566.6,2235.2 597,2246.1 627.5,2275 657.9,2277.2 688.3,2276.1 718.8,2279.2 749.2,2279.5 779.6,2276.8 810,2279.2 856.4,2280.5"/>
<polyline points="110.2,2280.6 140.6,2280.4 171,2273.6 201.4,2213.4 231.9,2244.3 262.3,2258.9 292.7,2175.7 323.2,2227.1 353.6,2166.3 384,2158.6 414.5,2154.6 444.9,2197.2 475.3,2217.7 505.7,2261.9 536.2,2201.2 566.6,2232.8 597,2238.6 627.5,2267.8 657.9,2273.6 688.3,2273 718.8,2272.6 749.2,2272.9 779.6,2276.4 810,2279.7 856.4,2280.5"/>
<polyline points="110.2,2280.6 140.6,2279.5 171,2277 201.4,2259.3 231.9,2260.8 262.3,2183.4 292.7,2211.9 323.2,2249.2 353.6,2139 384,2185.9 414.5,2177.9 444.9,2183.7 475.3,2226.2 505.7,2180.3 536.2,2226.6 566.6,2276.9 597,2278.5 627.5,2278.2 657.9,2278.4 688.3,2279.1 718.8,2280.6 749.2,2276.3 779.6,2278.5 810,2278.7 856.4,2280.5"/>
<polyline points="110.2,2280.6 140.6,2280.5 171,2265.1 201.4,2211.3 231.9,2263.3 262.3,2260.3 292.7,2173.5 323.2,2223.3 353.6,2163 384,2176.4 414.5,2158 444.9,2252.9 475.3,2210 505.7,2231.4 536.2,2264.4 566.6,2275 597,2275.7 627.5,2272.8 657.9,2275.1 688.3,2277.6 718.8,2278.3 749.2,2276.2 779.6,2280 810,2280.5 856.4,2280.6"/>
<polyline points="110.2,2280.6 140.6,2279.5 171,2264.8 201.4,2240.5 231.9,2197.3 262.3,2178 292.7,2134.8 323.2,2204.7 353.6,2170.8 384,2183.1 414.5,2248.2 444.9,2248.3 475.3,2221.7 505.7,2271.9 536.2,2241.7 566.6,2213.1 597,2239.3 627.5,2254.7 657.9,2269 688.3,2273.2 718.8,2278.6 749.2,2279.4 779.6,2279.8 810,2280.2 856.4,2279.6"/>
<polyline points="110.2,2280.6 140.6,2278.1 171,2271.2 201.4,2237.9 231.9,2240.5 262.3,2200 292.7,2202.5 323.2,2271.4 353.6,2185.8 384,2259.1 414.5,2238.2 444.9,2247.7 475.3,2265 505.7,2274.9 536.2,2275.5 566.6,2252.4 597,2264.6 627.5,2278.8 657.9,2279.6 688.3,2280 718.8,2280.2 749.2,2280.5 779.6,2279.9 810,2279.4 856.4,2280.3"/>
<polyline points="110.2,2280.6 140.6,2277.8 171,2273.8 201.4,2268.9 231.9,2241.2 262.3,2267.9 292.7,2211.4 323.2,2231.5 353.6,2212.8 384,2177 414.5,2208.6 444.9,2210.8 475.3,2184.9 505.7,2256 536.2,2245 566.6,2236.8 597,2257 627.5,2268.6 657.9,2272.7 688.3,2265.1 718.8,2277.9 749.2,2278.8 779.6,2278.2 810,2280.6 856.4,2279.5"/>
<polyline points="110.2,2280.6 140.6,2279.8 171,2269.7 201.4,2249.7 231.9,2274.9 262.3,2274.4 292.7,2226.6 323.2,2205.8 353.6,2242.6 384,2183.7 414.5,2247.7 444.9,2257.7 475.3,2266 505.7,2254.3 536.2,2265.3 566.6,2239.5 597,2268.5 627.5,2271.7 657.9,2272.5 688.3,2279.1 718.8,2278.2 749.2,2280.3 779.6,2280.2 810,2280.6 856.4,2280.6"/>
<polyline points="110.2,2280.6 140.6,2280.6 171,2271.7 201.4,2250.4 231.9,2229.8 262.3,2087.8 292.7,2240 323.2,2267.8 353.6,2137.5 384,2230.4 414.5,2209.7 444.9,2229.5 475.3,2191.7 505.7,2183.2 536.2,2207.4 566.6,2270.6 597,2247.7 627.5,2254.3 657.9,2269.2 688.3,2269.7 718.8,2276.4 749.2,2275.3 779.6,2278.9 810,2278 856.4,2280.1"/>
<polyline points="110.2,2280.6 140.6,2279.7 171,2275.3 201.4,2255.2 231.9,2253.8 262.3,2239.5 292.7,2212.5 323.2,2189.1 353.6,2244.9 384,2249.4 414.5,2252.4 444.9,2208.7 475.3,2212 505.7,2260.1 536.2,2222.2 566.6,2261.6 597,2272.2 627.5,2269.5 657.9,2275.6 688.3,2272.8 718.8,2279.2 749.2,2278.9 779.6,2276.6 810,2277.4 856.4,2280.3"/>
<polyline points="110.2,2280.6 140.6,2280.1 171,2276 201.4,2238.6 231.9,2195 262.3,2262.3 292.7,2227.3 323.2,2208.6 353.6,2222.9 384,2225.5 414.5,2259.1 444.9,2250.9 475.3,2192.2 505.7,2199.2 536.2,2275.4 566.6,2277.1 597,2277.2 627.5,2253.1 657.9,2271 688.3,2280.1 718.8,2280.3 749.2,2280.1 779.6,2277.9 810,2279.7 856.4,2280.4"/>
<polyline points="110.2,2280.6 140.6,2280.3 171,2279.4 201.4,2280.6 231.9,2275.4 262.3,2273.3 292.7,2271.8 323.2,2268.4 353.6,2261.8 384,2251.6 414.5,2254 444.9,2251.9 475.3,2269.2 505.7,2271.7 536.2,2270.2 566.6,2276.7 597,2278.2 627.5,2277.7 657.9,2279.4 688.3,2279.3 718.8,2280.1 749.2,2280 779.6,2279.9 810,2280.3 856.4,2280.6"/>
<polyline points="110.2,2280.6 140.6,2279 171,2272.2 201.4,2241.6 231.9,2181.1 262.3,2228.5 292.7,2207.5 323.2,2205.2 353.6,2149.6 384,2248.8 414.5,2229.2 444.9,2248.8 475.3,2183.9 505.7,2178.4 536.2,2189.7 566.6,2241.2 597,2268.7 627.5,2260.5 657.9,2276.7 688.3,2273.1 718.8,2274.1 749.2,2275.1 779.6,2277.7 810,2278.1 856.4,2280.3"/>
<polyline points="110.2,2280.6 140.6,2280.6 171,2270.9 201.4,2261.9 231.9,2220.3 262.3,2267.2 292.7,2273.2 323.2,2265 353.6,2247.3 384,2155 414.5,2128.9 444.9,2150.6 475.3,2182.5 505.7,2172 536.2,2259.5 566.6,2233.5 597,2254.9 627.5,2271.1 657.9,2279.7 688.3,2275.8 718.8,2280 749.2,2280.2 779.6,2277.2 810,2279.1 856.4,2280.6"/>
<polyline points="110.2,2280.6 140.6,2280.1 171,2268.5 201.4,2242.7 231.9,2276 262.3,2269.9 292.7,2204.1 323.2,2243.5 353.6,2200.3 384,2169.7 414.5,2231.8 444.9,2166.5 475.3,2159.8 505.7,2198.7 536.2,2254.2 566.6,2229.5 597,2265.6 627.5,2278.7 657.9,2278.4 688.3,2279.8 718.8,2278.7 749.2,2278.6 779.6,2278.7 810,2280.3 856.4,2280.5"/>
<polyline points="110.2,2280.6 140.6,2279.4 171,2268.4 201.4,2229.4 231.9,2222.8 262.3,2212.6 292.7,2166.8 323.2,2246 353.6,2230.1 384,2234.7 414.5,2251.4 444.9,2221.2 475.3,2244 505.7,2204 536.2,2230.6 566.6,2224.4 597,2262.7 627.5,2268.4 657.9,2268.2 688.3,2274.6 718.8,2276.7 749.2,2280.2 779.6,2279.1 810,2278.7 856.4,2279.8"/>
<polyline points="110.2,2280.6 140.6,2280 171,2265.8 201.4,2239 231.9,2267.7 262.3,2211.3 292.7,2258 323.2,2196.3 353.6,2236 384,2255.5 414.5,2255.5 444.9,2229 475.3,2163 505.7,2190.9 536.2,2192.1 566.6,2196.6 597,2226.2 627.5,2250.2 657.9,2271.5 688.3,2278.9 718.8,2280.3 749.2,2279.3 779.6,2280.2 810,2279.3 856.4,2280.6"/>
<polyline points="110.2,2280.6 140.6,2278.8 171,2275 201.4,2261.6 231.9,2196.1 262.3,2193.5 292.7,2210.8 323.2,2167.9 353.6,2197.5 384,2191.5 414.5,2224.4 444.9,2166 475.3,2183.5 505.7,2239 536.2,2233.4 566.6,2259.4 597,2261.9 627.5,2268 657.9,2279 688.3,2280 718.8,2277 749.2,2279.7 779.6,2280.3 810,2280.2 856.4,2280.5"/>
<polyline points="110.2,2280.6 140.6,2280.4 171,2276.2 201.4,2270.5 231.9,2183.9 262.3,2270.6 292.7,2168.4 323.2,2229 353.6,2206.4 384,2132.6 414.5,2185.1 444.9,2185.3 475.3,2178.6 505.7,2252.5 536.2,2255.2 566.6,2245.2 597,2264.8 627.5,2266.2 657.9,2267.9 688.3,2276.1 718.8,2277.8 749.2,2277.7 779.6,2280.3 810,2278.1 856.4,2279.8"/>
<polyline points="110.2,2280.6 140.6,2280 171,2267 201.4,2232.3 231.9,2232.3 262.3,2274.6 292.7,2238 323.2,2184.6 353.6,2258 384,2198.7 414.5,2211.8 444.9,2247.2 475.3,2262.3 505.7,2242.5 536.2,2239.2 566.6,2240.2 597,2244 627.5,2272.2 657.9,2276.8 688.3,2277.8 718.8,2273.2 749.2,2278 779.6,2280.4 810,2280.2 856.4,2279.9"/>
<polyline points="110.2,2280.6 140.6,2279.5 171,2268.5 201.4,2252.3 231.9,2200 262.3,2169.7 292.7,2241.3 323.2,2270.3 353.6,2261 384,2168.1 414.5,2244 444.9,2253.5 475.3,2209.1 505.7,2219.6 536.2,2203.4 566.6,2251.4 597,2269.1 627.5,2275.4 657.9,2275.2 688.3,2270.4 718.8,2271.2 749.2,2274.3 779.6,2277.6 810,2279.4 856.4,2280.3"/>
<polyline points="110.2,2280.6 140.6,2280.6 171,2278.2 201.4,2239.4 231.9,2270.2 262.3,2249.2 292.7,2256 323.2,2254.9 353.6,2242 384,2238.5 414.5,2237.6 444.9,2235.8 475.3,2189.7 505.7,2224.9 536.2,2219 566.6,2241.8 597,2254.7 627.5,2269.3 657.9,2269.8 688.3,2273.7 718.8,2277.6 749.2,2276.5 779.6,2277.3 810,2278.3 856.4,2279.8"/>
<polyline points="110.2,2280.6 140.6,2279.9 171,2265.2 201.4,2251.3 231.9,2274.7 262.3,2154.6 292.7,2151.1 323.2,2199.7 353.6,2133.8 384,2144.8 414.5,2241.3 444.9,2137.3 475.3,2188.3 505.7,2191.9 536.2,2172.8 566.6,2213.6 597,2239.1 627.5,2249.1 657.9,2263.9 688.3,2267.2 718.8,2274.2 749.2,2277.2 779.6,2278.8 810,2275.4 856.4,2278.6"/>
<polyline points="110.2,2280.6 140.6,2280.3 171,2266.1 201.4,2210.3 231.9,2205.1 262.3,2182.2 292.7,2138.9 323.2,2143.5 353.6,2148.1 384,2230.9 414.5,2196.1 444.9,2222.2 475.3,2249.1 505.7,2233.1 536.2,2217.3 566.6,2253.3 597,2267.2 627.5,2255.5 657.9,2270.4 688.3,2278.9 718.8,2279.7 749.2,2280.3 779.6,2278.2 810,2279.6 856.4,2279.6"/>
<polyline points="110.2,2280.6 140.6,2279 171,2265.6 201.4,2257.7 231.9,2236.1 262.3,2272 292.7,2269.4 323.2,2253.6 353.6,2208.7 384,2130.5 414.5,2236.1 444.9,2133.6 475.3,2209.6 505.7,2253.7 536.2,2274.2 566.6,2236.5 597,2263.3 627.5,2280.6 657.9,2279.5 688.3,2280 718.8,2280.3 749.2,2280.1 779.6,2278.3 810,2279.3 856.4,2280.4"/>
<polyline points="110.2,2280.6 140.6,2278 171,2265.4 201.4,2210.1 231.9,2248.7 262.3,2177.4 292.7,2181.8 323.2,2161.8 353.6,2158.7 384,2157.5 414.5,2253.7 444.9,2216.5 475.3,2166.1 505.7,2204.5 536.2,2246.5 566.6,2215.3 597,2241.9 627.5,2253.5 657.9,2260.7 688.3,2273.9 718.8,2273.8 749.2,2277.6 779.6,2278 810,2279.5 856.4,2280.4"/>
<polyline points="110.2,2280.6 140.6,2279.6 171,2276.4 201.4,2265.1 231.9,2248.1 262.3,2273 292.7,2271.3 323.2,2275.8 353.6,2263.4 384,2266 414.5,2206.5 444.9,2231.6 475.3,2230.8 505.7,2196.7 536.2,2247 566.6,2274.4 597,2279.2 627.5,2267.4 657.9,2276.3 688.3,2271.5 718.8,2278.5 749.2,2279.4 779.6,2280.3 810,2279.9 856.4,2280"/>
<polyline points="110.2,2280.6 140.6,2279.7 171,2267.8 201.4,2219.7 231.9,2188.3 262.3,2174.4 292.7,2198 323.2,2191.3 353.6,2167.4 384,2247.2 414.5,2185.7 444.9,2154.9 475.3,2166.8 505.7,2200.6 536.2,2228.9 566.6,2277 597,2270.2 627.5,2252.7 657.9,2275.2 688.3,2279.4 718.8,2278.9 749.2,2279.3 779.6,2276.4 810,2279.8 856.4,2280"/>
<polyline points="110.2,2280.6 140.6,2280.6 171,2267.4 201.4,2245.9 231.9,2199.5 262.3,2164.9 292.7,2190.2 323.2,2190.2 353.6,2228.9 384,2197.6 414.5,2196.6 444.9,2225.9 475.3,2214.2 505.7,2183.7 536.2,2211.9 566.6,2239.2 597,2257.5 627.5,2264.2 657.9,2275 688.3,2280 718.8,2279.6 749.2,2277.1 779.6,2276.7 810,2278.1 856.4,2280.5"/>
<polyline points="110.2,2280.6 140.6,2280 171,2273.5 201.4,2231.2 231.9,2170.5 262.3,2101 292.7,2191.3 323.2,2220.7 353.6,2262.4 384,2223.9 414.5,2204.9 444.9,2206.6 475.3,2217.1 505.7,2267.8 536.2,2248.4 566.6,2271.2 597,2266.2 627.5,2261.8 657.9,2267.6 688.3,2276.5 718.8,2276.6 749.2,2276.5 779.6,2279.5 810,2278.6 856.4,2280.4"/>
<polyline points="110.2,2280.6 140.6,2279.4 171,2274 201.4,2238.3 231.9,2179.4 262.3,2185.2 292.7,2220.6 323.2,2272.5 353.6,2252.1 384,2216.3 414.5,2235.5 444.9,2244.6 475.3,2205.2 505.7,2257.8 536.2,2188.5 566.6,2224.1 597,2243.8 627.5,2264.8 657.9,2278.7 688.3,2272.2 718.8,2273.4 749.2,2277.2 779.6,2275.3 810,2278.8 856.4,2279.8"/>
<polyline points="110.2,2280.6 140.6,2278.8 171,2267.5 201.4,2212 231.9,2211.8 262.3,2176.8 292.7,2126.6 323.2,2173.5 353.6,2187.5 384,2166.9 414.5,2161.7 444.9,2238.4 475.3,2238.8 505.7,2224.3 536.2,2209.2 566.6,2246.2 597,2231.8 627.5,2258.5 657.9,2264.9 688.3,2279.5 718.8,2278.6 749.2,2279.3 779.6,2279 810,2280.2 856.4,2280.4"/>
<polyline points="110.2,2280.6 140.6,2278.3 171,2274.6 201.4,2221.5 231.9,2192.2 262.3,2172.1 292.7,2189.1 323.2,2164.5 353.6,2169.1 384,2107.2 414.5,2199.2 444.9,2223.8 475.3,2170.9 505.7,2170.8 536.2,2184.2 566.6,2217.9 597,2235.3 627.5,2252.9 657.9,2269.6 688.3,2275.2 718.8,2277.2 749.2,2278.1 779.6,2279.3 810,2280.4 856.4,2280.3"/>
<polyline points="110.2,2280.6 140.6,2278.4 171,2270.8 201.4,2236.4 231.9,2206.2 262.3,2195.3 292.7,2236.6 323.2,2180.7 353.6,2173 384,2195.9 414.5,2159.1 444.9,2203.5 475.3,2225.1 505.7,2264.2 536.2,2275.2 566.6,2238.2 597,2269.3 627.5,2278.9 657.9,2268.1 688.3,2280 718.8,2279.5 749.2,2279.6 779.6,2280 810,2280.1 856.4,2280.5"/>
<polyline points="110.2,2280.6 140.6,2279.1 171,2273.2 201.4,2210.9 231.9,2245.6 262.3,2277.7 292.7,2195.2 323.2,2186.8 353.6,2261.6 384,2257.9 414.5,2217 444.9,2237.8 475.3,2213.1 505.7,2197.7 536.2,2244.1 566.6,2226.8 597,2254.4 627.5,2273.7 657.9,2270.6 688.3,2270.6 718.8,2268.9 749.2,2276.7 779.6,2280.3 810,2280.6 856.4,2280.6"/>
<polyline points="110.2,2280.6 140.6,2279.5 171,2266.5 201.4,2259 231.9,2187.2 262.3,2227.1 292.7,2223.9 323.2,2269.7 353.6,2244.3 384,2226.1 414.5,2255.2 444.9,2267.9 475.3,2271.9 505.7,2222.5 536.2,2221.7 566.6,2251.7 597,2265.2 627.5,2269.9 657.9,2276.4 688.3,2275 718.8,2280.3 749.2,2280.4 779.6,2280 810,2280.4 856.4,2279.7"/>
<polyline points="110.2,2280.6 140.6,2280.5 171,2274.7 201.4,2218.9 231.9,2182.2 262.3,2189.9 292.7,2216.6 323.2,2230.9 353.6,2204.8 384,2249.9 414.5,2188.3 444.9,2190.5 475.3,2202.3 505.7,2186.6 536.2,2228 566.6,2268 597,2259.6 627.5,2278.8 657.9,2269.3 688.3,2275.1 718.8,2279.9 749.2,2279.8 779.6,2280.3 810,2280.4 856.4,2279.8"/>
<polyline points="110.2,2280.6 140.6,2280.4 171,2271.4 201.4,2255.8 231.9,2262.6 262.3,2236.8 292.7,2201.9 323.2,2200.2 353.6,2262.1 384,2255.8 414.5,2178.4 444.9,2230.6 475.3,2262.6 505.7,2262.5 536.2,2252.3 566.6,2280.6 597,2278.5 627.5,2277.2 657.9,2272.9 688.3,2278.5 718.8,2278.7 749.2,2280.5 779.6,2279.2 810,2280.6 856.4,2280"/>
<polyline points="110.2,2280.6 140.6,2280.1 171,2263.3 201.4,2254.5 231.9,2246.8 262.3,2249.9 292.7,2253.4 323.2,2250.4 353.6,2200.9 384,2175.3 414.5,2195 444.9,2211.3 475.3,2224.5 505.7,2216.6 536.2,2218.6 566.6,2276.4 597,2239.9 627.5,2274.8 657.9,2276.4 688.3,2276.9 718.8,2276.8 749.2,2277.5 779.6,2277.4 810,2277.3 856.4,2280"/>
<polyline points="110.2,2280.6 140.6,2278.4 171,2270.7 201.4,2227.1 231.9,2121.7 262.3,2120.7 292.7,2162.6 323.2,2171.8 353.6,2211.6 384,2209.2 414.5,2169.5 444.9,2220.1 475.3,2179.6 505.7,2265.4 536.2,2269.7 566.6,2266.1 597,2277.4 627.5,2270.4 657.9,2273.4 688.3,2275.5 718.8,2274.1 749.2,2275.8 779.6,2279.9 810,2277.3 856.4,2279.9"/>
<polyline points="110.2,2280.6 140.6,2280.6 171,2278.9 201.4,2266.4 231.9,2208.4 262.3,2173.3 292.7,2174 323.2,2239.1 353.6,2263.2 384,2256 414.5,2243.4 444.9,2270.8 475.3,2268 505.7,2259 536.2,2204.8 566.6,2241.5 597,2252.1 627.5,2270.8 657.9,2278.3 688.3,2279.7 718.8,2276.1 749.2,2280.1 779.6,2279 810,2280.6 856.4,2280.5"/>
<polyline points="110.2,2280.6 140.6,2280.5 171,2274.3 201.4,2217.5 231.9,2190.6 262.3,2214.6 292.7,2203.6 323.2,2229.6 353.6,2184.1 384,2214.1 414.5,2245 444.9,2180.6 475.3,2233.1 505.7,2234.9 536.2,2216.8 566.6,2264.5 597,2264.1 627.5,2277 657.9,2274.4 688.3,2279.7 718.8,2274.4 749.2,2278.6 779.6,2280.3 810,2280.6 856.4,2280.3"/>
<polyline points="110.2,2280.6 140.6,2280.6 171,2276.5 201.4,2265.4 231.9,2178.3 262.3,2220.9 292.7,2236 323.2,2201.3 353.6,2262.6 384,2254 414.5,2267.6 444.9,2255.6 475.3,2222.8 505.7,2187.6 536.2,2274.8 566.6,2271.9 597,2278.5 627.5,2279 657.9,2279.8 688.3,2280.1 718.8,2280.3 749.2,2280.3 779.6,2279.6 810,2279.5 856.4,2280.6"/>
<polyline points="110.2,2280.6 140.6,2279.9 171,2269 201.4,2227.5 231.9,2169.9 262.3,2190.5 292.7,2186.3 323.2,2221.4 353.6,2155.7 384,2159.1 414.5,2143.4 444.9,2162.4 475.3,2161.4 505.7,2234.3 536.2,2247.9 566.6,2269.6 597,2246.4 627.5,2265.6 657.9,2272.8 688.3,2274.6 718.8,2274.4 749.2,2278.5 779.6,2277.1 810,2279.6 856.4,2279.9"/>
<polyline points="110.2,2280.6 140.6,2279.9 171,2276 201.4,2244.6 231.9,2211.2 262.3,2204.8 292.7,2272.1 323.2,2146.4 353.6,2202 384,2211.9 414.5,2225 444.9,2168.6 475.3,2223.9 505.7,2256.6 536.2,2250.8 566.6,2276.6 597,2260.2 627.5,2279.5 657.9,2280.1 688.3,2280 718.8,2279.5 749.2,2274.9 779.6,2277.9 810,2279.7 856.4,2280.6"/>
<polyline points="110.2,2280.6 140.6,2280.4 171,2271.3 201.4,2274.3 231.9,2218.4 262.3,2168.5 292.7,2208.6 323.2,2215.1 353.6,2248.5 384,2203.7 414.5,2192.9 444.9,2171.7 475.3,2193.6 505.7,2257.2 536.2,2229.3 566.6,2276.5 597,2277 627.5,2275.6 657.9,2273.9 688.3,2273.5 718.8,2274.6 749.2,2275.9 779.6,2279.8 810,2279.4 856.4,2280.4"/>
<polyline points="110.2,2280.6 140.6,2279.3 171,2270.5 201.4,2225.6 231.9,2250 262.3,2156 292.7,2176.2 323.2,2179.6 353.6,2223.5 384,2214.7 414.5,2242.4 444.9,2212.9 475.3,2200.4 505.7,2185.1 536.2,2224.8 566.6,2226.5 597,2227.7 627.5,2255.7 657.9,2279.5 688.3,2280.2 718.8,2278.9 749.2,2277.4 779.6,2278.5 810,2277.1 856.4,2280.3"/>
<polyline points="110.2,2280.6 140.6,2280.5 171,2279.7 201.4,2273.8 231.9,2209.5 262.3,2238.8 292.7,2181.3 323.2,2239.7 353.6,2241.4 384,2181.4 414.5,2232.9 444.9,2219.1 475.3,2256 505.7,2276.8 536.2,2276 566.6,2278.9 597,2261.4 627.5,2254.9 657.9,2277.6 688.3,2275.4 718.8,2274.9 749.2,2278.9 779.6,2279.3 810,2277.7 856.4,2279.3"/>
<polyline points="110.2,2280.6 140.6,2278.9 171,2272.3 201.4,2213.7 231.9,2267.1 262.3,2265.8 292.7,2219.9 323.2,2213.8 353.6,2233.6 384,2215.7 414.5,2169 444.9,2184.2 475.3,2265.3 505.7,2271.2 536.2,2225.3 566.6,2227.8 597,2258.8 627.5,2272.3 657.9,2274 688.3,2274.3 718.8,2279.1 749.2,2277.9 779.6,2278.3 810,2279.4 856.4,2279.9"/>
<polyline points="110.2,2280.6 140.6,2280.4 171,2271 201.4,2209.9 231.9,2177.2 262.3,2222.9 292.7,2223.3 323.2,2222 353.6,2192.5 384,2188.1 414.5,2207 444.9,2171.2 475.3,2260.6 505.7,2166.3 536.2,2218.1 566.6,2257.8 597,2266.8 627.5,2269.8 657.9,2276 688.3,2271.2 718.8,2275.6 749.2,2278 779.6,2276.1 810,2277.9 856.4,2280"/>
<polyline points="110.2,2280.6 140.6,2278.7 171,2264.5 201.4,2227.9 231.9,2191.1 262.3,2160.8 292.7,2228.6 323.2,2267.5 353.6,2268.5 384,2243.4 414.5,2228.1 444.9,2191.5 475.3,2185.4 505.7,2189 536.2,2193.6 566.6,2222.8 597,2265.4 627.5,2253.3 657.9,2275 688.3,2277.3 718.8,2279 749.2,2277.7 779.6,2275.9 810,2278.8 856.4,2279.5"/>
<polyline points="110.2,2280.6 140.6,2277 171,2269.2 201.4,2268.6 231.9,2274.8 262.3,2209.5 292.7,2203 323.2,2262.5 353.6,2163.5 384,2171.4 414.5,2233.4 444.9,2227.4 475.3,2207.6 505.7,2259.5 536.2,2231.5 566.6,2230.1 597,2245.8 627.5,2239.3 657.9,2275.4 688.3,2279.6 718.8,2278.8 749.2,2279.6 779.6,2276.3 810,2278.3 856.4,2280.1"/>
<polyline points="110.2,2280.6 140.6,2280.6 171,2279.1 201.4,2263.8 231.9,2174.4 262.3,2198.8 292.7,2217.9 323.2,2223.9 353.6,2195.3 384,2257 414.5,2234.5 444.9,2216 475.3,2264.8 505.7,2258.4 536.2,2227.5 566.6,2231.8 597,2263.5 627.5,2276 657.9,2279 688.3,2280 718.8,2280.1 749.2,2279.8 779.6,2280.1 810,2280.6 856.4,2280.6"/>
<polyline points="110.2,2280.6 140.6,2280.5 171,2267.7 201.4,2233.8 231.9,2266.4 262.3,2203.6 292.7,2165.7 323.2,2204.1 353.6,2151.2 384,2052.6 414.5,2151.2 444.9,2178.5 475.3,2232.5 505.7,2195.3 536.2,2205.2 566.6,2216.6 597,2273.7 627.5,2257.3 657.9,2279.3 688.3,2274 718.8,2279.5 749.2,2279.4 779.6,2279.8 810,2280.6 856.4,2280.5"/>
<polyline points="110.2,2280.6 140.6,2280.2 171,2276.7 201.4,2235.3 231.9,2186.7 262.3,2186.9 292.7,2209.7 323.2,2274.5 353.6,2264.5 384,2252.1 414.5,2240.3 444.9,2201.4 475.3,2234.3 505.7,2210.3 536.2,2210.1 566.6,2261 597,2277.6 627.5,2259.3 657.9,2271.8 688.3,2277.9 718.8,2275.1 749.2,2280.2 779.6,2279.5 810,2280 856.4,2280.5"/>
<polyline points="110.2,2280.6 140.6,2278.8 171,2269.3 201.4,2246.5 231.9,2249.4 262.3,2226.4 292.7,2239.3 323.2,2270.5 353.6,2277.3 384,2231.5 414.5,2219.7 444.9,2209.7 475.3,2229.1 505.7,2235.5 536.2,2260.5 566.6,2268.3 597,2274.9 627.5,2264 657.9,2268.5 688.3,2277.2 718.8,2277.3 749.2,2274.9 779.6,2277 810,2277.5 856.4,2280"/>
<polyline points="110.2,2280.6 140.6,2280 171,2269.9 201.4,2267.3 231.9,2222.2 262.3,2263 292.7,2232.6 323.2,2236.5 353.6,2234.2 384,2229.3 414.5,2251.9 444.9,2177.5 475.3,2208.1 505.7,2250.7 536.2,2213.2 566.6,2249.2 597,2268.3 627.5,2277.4 657.9,2271.9 688.3,2278.3 718.8,2275 749.2,2276 779.6,2280.3 810,2278.9 856.4,2279.7"/>
<polyline points="110.2,2280.6 140.6,2279.5 171,2268.6 201.4,2247.2 231.9,2261.4 262.3,2263.7 292.7,2258.7 323.2,2242.2 353.6,2225.9 384,2236.4 414.5,2173.7 444.9,2202.5 475.3,2159.1 505.7,2182.2 536.2,2225.7 566.6,2264.2 597,2273.3 627.5,2278.7 657.9,2277.5 688.3,2278.2 718.8,2280.1 749.2,2280.3 779.6,2280 810,2280.6 856.4,2280.6"/>
<polyline points="110.2,2280.6 140.6,2280.3 171,2274.4 201.4,2267.6 231.9,2158.7 262.3,2184 292.7,2219.2 323.2,2197.4 353.6,2198.6 384,2186.5 414.5,2226.6 444.9,2187.4 475.3,2241.7 505.7,2238.4 536.2,2274.6 566.6,2242.8 597,2272.6 627.5,2264.4 657.9,2267.2 688.3,2276.7 718.8,2280.3 749.2,2280.4 779.6,2276.9 810,2279.3 856.4,2280.3"/>
<polyline points="110.2,2280.6 140.6,2278.9 171,2275.2 201.4,2210.5 231.9,2163.4 262.3,2164.3 292.7,2271.1 323.2,2266.2 353.6,2230.7 384,2220.1 414.5,2203.4 444.9,2199.3 475.3,2195.1 505.7,2182.7 536.2,2229.7 566.6,2237.8 597,2242.7 627.5,2227.3 657.9,2264.6 688.3,2279 718.8,2279.3 749.2,2279.4 779.6,2280 810,2280.1 856.4,2279.7"/>
<polyline points="110.2,2280.6 140.6,2280.6 171,2270.6 201.4,2262.2 231.9,2172.2 262.3,2218.8 292.7,2272.4 323.2,2222.6 353.6,2215.8 384,2227.7 414.5,2162.8 444.9,2226.4 475.3,2252.6 505.7,2227.2 536.2,2258.6 566.6,2252.7 597,2247.4 627.5,2270.5 657.9,2269.5 688.3,2278.3 718.8,2279.2 749.2,2280.1 779.6,2280.1 810,2279.5 856.4,2280.3"/>
<polyline points="110.2,2280.6 140.6,2279 171,2275.4 201.4,2269.6 231.9,2217.3 262.3,2255.4 292.7,2272.7 323.2,2263.7 353.6,2228.3 384,2256.5 414.5,2246.6 444.9,2255.1 475.3,2263.3 505.7,2266 536.2,2251.8 566.6,2246.9 597,2266.6 627.5,2256.1 657.9,2273 688.3,2274.2 718.8,2276.2 749.2,2279.7 779.6,2280.1 810,2280.6 856.4,2280.3"/>
<polyline points="110.2,2280.6 140.6,2280.6 171,2277.7 201.4,2249.4 231.9,2191.7 262.3,2143.3 292.7,2169.6 323.2,2217 353.6,2258.6 384,2245.6 414.5,2252.9 444.9,2230 475.3,2246.8 505.7,2178.9 536.2,2199.4 566.6,2243.9 597,2278.6 627.5,2252.3 657.9,2269.7 688.3,2270 718.8,2273 749.2,2279.7 779.6,2278 810,2277.6 856.4,2279.9"/>
<polyline points="110.2,2280.6 140.6,2280.6 171,2264.4 201.4,2253.3 231.9,2203.9 262.3,2215.3 292.7,2205.8 323.2,2209.1 353.6,2117.9 384,2213 414.5,2229.7 444.9,2186.8 475.3,2207.1 505.7,2228.4 536.2,2267.8 566.6,2223.4 597,2249.7 627.5,2274.7 657.9,2277.6 688.3,2276.8 718.8,2273.6 749.2,2278.8 779.6,2278.4 810,2279.1 856.4,2280.5"/>
<polyline points="110.2,2280.6 140.6,2278.5 171,2265 201.4,2246.9 231.9,2239.3 262.3,2207.8 292.7,2210.3 323.2,2175.7 353.6,2243.2 384,2156.9 414.5,2206 444.9,2169.1 475.3,2228 505.7,2214.1 536.2,2214.6 566.6,2276.6 597,2260.7 627.5,2274.2 657.9,2280.4 688.3,2279.9 718.8,2274.8 749.2,2278 779.6,2279.3 810,2278.6 856.4,2280.6"/>
<polyline points="110.2,2280.6 140.6,2280.2 171,2277.8 201.4,2255.5 231.9,2195.6 262.3,2220.2 292.7,2171.8 323.2,2175.1 353.6,2186.4 384,2242.9 414.5,2160.2 444.9,2196.2 475.3,2196.5 505.7,2241.9 536.2,2244.6 566.6,2239.8 597,2259.1 627.5,2251.9 657.9,2267.3 688.3,2270.1 718.8,2274.4 749.2,2276.7 779.6,2280.1 810,2278.4 856.4,2280.6"/>
<polyline points="110.2,2280.6 140.6,2280.5 171,2277.6 201.4,2267 231.9,2243.7 262.3,2266.5 292.7,2271.9 323.2,2211.9 353.6,2171.9 384,2241.3 414.5,2218.6 444.9,2242 475.3,2230.2 505.7,2244.9 536.2,2274.7 566.6,2249.8 597,2260.9 627.5,2258.7 657.9,2276.1 688.3,2278.3 718.8,2278.7 749.2,2280.4 779.6,2279.4 810,2280.6 856.4,2280.2"/>
<polyline points="110.2,2280.6 140.6,2277.6 171,2270 201.4,2248.1 231.9,2232.9 262.3,2273.5 292.7,2187.4 323.2,2242.9 353.6,2247.9 384,2211.4 414.5,2216.5 444.9,2236.3 475.3,2254.9 505.7,2247.8 536.2,2219.5 566.6,2261.9 597,2263.7 627.5,2261.3 657.9,2263.7 688.3,2278.7 718.8,2279.8 749.2,2279.2 779.6,2279.2 810,2279.6 856.4,2280.2"/>
<polyline points="110.2,2280.6 140.6,2279 171,2273.7 201.4,2213 231.9,2251.3 262.3,2236.1 292.7,2185.7 323.2,2208 353.6,2195.9 384,2136.7 414.5,2149 444.9,2148.5 475.3,2130.1 505.7,2202.1 536.2,2247.5 566.6,2256.8 597,2276.8 627.5,2269.6 657.9,2279.4 688.3,2277.6 718.8,2274.9 749.2,2279.1 779.6,2279.4 810,2277 856.4,2280.1"/>
<polyline points="110.2,2280.6 140.6,2278.6 171,2278 201.4,2236.8 231.9,2217.9 262.3,2245.7 292.7,2243.3 323.2,2259.3 353.6,2146.6 384,2237.5 414.5,2165.9 444.9,2183.2 475.3,2242.3 505.7,2213.7 536.2,2268.2 566.6,2228.1 597,2278.6 627.5,2262.6 657.9,2267.1 688.3,2272 718.8,2277.8 749.2,2279.6 779.6,2278.8 810,2278.9 856.4,2280.5"/>
<polyline points="110.2,2280.6 140.6,2279.7 171,2266.6 201.4,2265.7 231.9,2203.4 262.3,2170.9 292.7,2154.7 323.2,2216.3 353.6,2214 384,2254.5 414.5,2246.1 444.9,2239.9 475.3,2210.5 505.7,2177.9 536.2,2200.7 566.6,2244.2 597,2246.6 627.5,2271.9 657.9,2278.7 688.3,2271.8 718.8,2278.9 749.2,2279.2 779.6,2277.5 810,2277.5 856.4,2279.8"/>
<polyline points="110.2,2280.6 140.6,2279.2 171,2266.9 201.4,2250.1 231.9,2252.5 262.3,2272.7 292.7,2275.3 323.2,2256.8 353.6,2183 384,2192 414.5,2161.2 444.9,2172.8 475.3,2151 505.7,2144.8 536.2,2194.1 566.6,2276 597,2275.1 627.5,2245 657.9,2270.7 688.3,2278.2 718.8,2277 749.2,2279.5 779.6,2280.3 810,2279.5 856.4,2280.4"/>
<polyline points="110.2,2280.6 140.6,2280.3 171,2274.9 201.4,2241.2 231.9,2226 262.3,2258.2 292.7,2274.5 323.2,2268 353.6,2231.9 384,2219.5 414.5,2193.5 444.9,2255.8 475.3,2264.5 505.7,2205.9 536.2,2272.1 566.6,2278.5 597,2272.9 627.5,2279.2 657.9,2279.6 688.3,2278.4 718.8,2279.1 749.2,2278.7 779.6,2280.3 810,2280.6 856.4,2280.5"/>
<polyline points="110.2,2280.6 140.6,2280.6 171,2276.8 201.4,2262.8 231.9,2234.2 262.3,2180.4 292.7,2209.1 323.2,2178.5 353.6,2186.9 384,2245 414.5,2197.1 444.9,2203 475.3,2171.4 505.7,2206.9 536.2,2199.9 566.6,2219.4 597,2254.2 627.5,2278.9 657.9,2275.5 688.3,2277.5 718.8,2275.2 749.2,2276.1 779.6,2279.7 810,2279 856.4,2280.5"/>
<polyline points="110.2,2280.6 140.6,2279.2 171,2269.1 201.4,2234.6 231.9,2257 262.3,2222.2 292.7,2191.9 323.2,2180.2 353.6,2165.7 384,2251 414.5,2261.9 444.9,2236.8 475.3,2173.3 505.7,2164 536.2,2189.1 566.6,2250.1 597,2261.2 627.5,2263.2 657.9,2274.1 688.3,2271.6 718.8,2278.4 749.2,2279 779.6,2279.8 810,2277.9 856.4,2280.5"/>
<polyline points="110.2,2280.6 140.6,2280 171,2266.4 201.4,2229.7 231.9,2243.1 262.3,2179.2 292.7,2196.9 323.2,2166.8 353.6,2194.2 384,2223.3 414.5,2188.8 444.9,2201.9 475.3,2186.8 505.7,2190 536.2,2236.8 566.6,2215.7 597,2232.7 627.5,2235.3 657.9,2264 688.3,2272.3 718.8,2272.9 749.2,2278.3 779.6,2280.5 810,2278 856.4,2279.2"/>
<polyline points="110.2,2280.6 140.6,2278.3 171,2272.7 201.4,2218.2 231.9,2207.3 262.3,2153.2 292.7,2260.1 323.2,2198 353.6,2188.6 384,2148.9 414.5,2113.3 444.9,2206.1 475.3,2255.4 505.7,2159.5 536.2,2161.4 566.6,2200.6 597,2251.6 627.5,2263 657.9,2268.8 688.3,2272.4 718.8,2274.3 749.2,2271.5 779.6,2277.2 810,2276.3 856.4,2280.1"/>
<polyline points="110.2,2280.6 140.6,2278.7 171,2271.8 201.4,2244.9 231.9,2228.5 262.3,2273.4 292.7,2244 323.2,2172.9 353.6,2157.2 384,2182 414.5,2205.4 444.9,2172.3 475.3,2165.3 505.7,2244.3 536.2,2242.6 566.6,2247.5 597,2258.6 627.5,2267.6 657.9,2270 688.3,2278.8 718.8,2278.6 749.2,2274.7 779.6,2276.1 810,2279.8 856.4,2280.3"/>
<polyline points="110.2,2280.6 140.6,2280.1 171,2274.8 201.4,2243.1 231.9,2216.8 262.3,2216.7 292.7,2206.4 323.2,2196.9 353.6,2178.6 384,2161.9 414.5,2102.8 444.9,2118.6 475.3,2175.2 505.7,2156.7 536.2,2203 566.6,2221.8 597,2267.5 627.5,2275.3 657.9,2266.6 688.3,2275.2 718.8,2278.8 749.2,2277.1 779.6,2278.6 810,2277.7 856.4,2279.4"/>
<polyline points="110.2,2280.6 140.6,2280.4 171,2272.5 201.4,2269.2 231.9,2198.9 262.3,2264.4 292.7,2155.5 323.2,2167.3 353.6,2189.7 384,2216.8 414.5,2218.1 444.9,2256.4 475.3,2262.8 505.7,2268.4 536.2,2279.4 566.6,2278.1 597,2273.9 627.5,2274.3 657.9,2275.6 688.3,2278.8 718.8,2280.2 749.2,2280 779.6,2278.1 810,2280.6 856.4,2280.6"/>
<polyline points="110.2,2280.6 140.6,2279.4 171,2268.1 201.4,2222.3 231.9,2245 262.3,2148.9 292.7,2145.1 323.2,2159.4 353.6,2218.8 384,2192.6 414.5,2226 444.9,2199.8 475.3,2168.4 505.7,2160.6 536.2,2192.7 566.6,2233.1 597,2243.5 627.5,2271.6 657.9,2274.3 688.3,2280.5 718.8,2280.3 749.2,2276.8 779.6,2280.4 810,2279.8 856.4,2279.7"/>
<polyline points="110.2,2280.6 140.6,2278.7 171,2275.8 201.4,2263.2 231.9,2275.5 262.3,2240.2 292.7,2201.3 323.2,2171.2 353.6,2184.7 384,2164.2 414.5,2167.4 444.9,2168.1 475.3,2219.9 505.7,2233.7 536.2,2256.2 566.6,2259.7 597,2245.3 627.5,2272.9 657.9,2266 688.3,2270.9 718.8,2272 749.2,2273.5 779.6,2277.2 810,2278.8 856.4,2280"/>
<polyline points="110.2,2280.6 140.6,2279.2 171,2273.4 201.4,2208.2 231.9,2165.3 262.3,2157.4 292.7,2222.6 323.2,2206.9 353.6,2140.5 384,2170.3 414.5,2172.7 444.9,2108.7 475.3,2153.7 505.7,2161.8 536.2,2195.8 566.6,2219.8 597,2242.2 627.5,2274.4 657.9,2274.8 688.3,2274.9 718.8,2279.6 749.2,2279.1 779.6,2276.2 810,2277.2 856.4,2279.8"/>
<polyline points="110.2,2280.6 140.6,2279.4 171,2263.9 201.4,2224.5 231.9,2219 262.3,2140.4 292.7,2172.9 323.2,2246.7 353.6,2168 384,2174.8 414.5,2165.4 444.9,2207.7 475.3,2229.7 505.7,2230.2 536.2,2275 566.6,2276.2 597,2278.2 627.5,2275.2 657.9,2272.3 688.3,2276.2 718.8,2275.2 749.2,2273.8 779.6,2274.6 810,2277.5 856.4,2279.8"/>
<polyline points="110.2,2280.6 140.6,2279.2 171,2275.9 201.4,2251 231.9,2224.1 262.3,2225 292.7,2261.4 323.2,2268.6 353.6,2211 384,2233.1 414.5,2215.5 444.9,2243.6 475.3,2201.3 505.7,2271.4 536.2,2211.5 566.6,2238.8 597,2250.5 627.5,2243.3 657.9,2271.1 688.3,2277.1 718.8,2278.3 749.2,2278.8 779.6,2279.4 810,2277.5 856.4,2280.5"/>
<polyline points="110.2,2280.6 140.6,2278.7 171,2266 201.4,2212.3 231.9,2130.5 262.3,2150.3 292.7,2172.3 323.2,2136.9 353.6,2174.7 384,2198.2 414.5,2146.8 444.9,2176.4 475.3,2232 505.7,2246.6 536.2,2190.3 566.6,2225.1 597,2234 627.5,2257.1 657.9,2274.9 688.3,2274.7 718.8,2277.9 749.2,2275.2 779.6,2278.8 810,2279.4 856.4,2280.6"/>
<polyline points="110.2,2280.6 140.6,2279.1 171,2275.8 201.4,2256.4 231.9,2181.6 262.3,2188.7 292.7,2197.4 323.2,2207.5 353.6,2232.5 384,2201 414.5,2231.3 444.9,2159.2 475.3,2221.1 505.7,2243.1 536.2,2194.5 566.6,2228.8 597,2243 627.5,2262.8 657.9,2280.6 688.3,2279.2 718.8,2279.7 749.2,2280 779.6,2279 810,2278.3 856.4,2279.4"/>
<polyline points="110.2,2280.6 140.6,2279 171,2264.5 201.4,2224.9 231.9,2186.1 262.3,2201.8 292.7,2217.2 323.2,2186.3 353.6,2172.4 384,2193.7 414.5,2187.7 444.9,2195.7 475.3,2239.4 505.7,2223.7 536.2,2277.1 566.6,2279.8 597,2236.6 627.5,2232.7 657.9,2264.4 688.3,2278.6 718.8,2278.1 749.2,2278.3 779.6,2279.9 810,2278.8 856.4,2280.3"/>
<polyline points="110.2,2280.6 140.6,2280.1 171,2271.6 201.4,2236 231.9,2172.7 262.3,2135.6 292.7,2170.1 323.2,2193 353.6,2128.5 384,2196.5 414.5,2237.1 444.9,2198.3 475.3,2228.5 505.7,2272.7 536.2,2228.4 566.6,2273.1 597,2250.3 627.5,2270.2 657.9,2278.1 688.3,2275.8 718.8,2274.3 749.2,2278.1 779.6,2278.9 810,2278.7 856.4,2279.6"/>
<polyline points="110.2,2280.6 140.6,2280.6 171,2278.5 201.4,2271.5 231.9,2247.5 262.3,2194.7 292.7,2232 323.2,2252.3 353.6,2221.7 384,2189.8 414.5,2239.7 444.9,2167.1 475.3,2204.2 505.7,2267.2 536.2,2249.9 566.6,2270.9 597,2278.2 627.5,2278.9 657.9,2275.5 688.3,2277.3 718.8,2277.3 749.2,2278.9 779.6,2280.3 810,2280.6 856.4,2280.1"/>
<polyline points="110.2,2280.6 140.6,2279.7 171,2278.7 201.4,2273.5 231.9,2212.3 262.3,2179.8 292.7,2246.7 323.2,2149.2 353.6,2142.1 384,2175.9 414.5,2201.8 444.9,2263.3 475.3,2258.3 505.7,2270.8 536.2,2280.6 566.6,2276.8 597,2278 627.5,2271.2 657.9,2266.4 688.3,2276.3 718.8,2278.8 749.2,2277.3 779.6,2279 810,2279 856.4,2280.3"/>
<polyline points="110.2,2280.6 140.6,2279.5 171,2273.3 201.4,2258 231.9,2253.2 262.3,2208.9 292.7,2159.1 323.2,2238.4 353.6,2216.4 384,2201.5 414.5,2223.4 444.9,2258 475.3,2231.4 505.7,2232.5 536.2,2262.4 566.6,2244.9 597,2255.2 627.5,2276.7 657.9,2279.3 688.3,2280.1 718.8,2280.3 749.2,2280.2 779.6,2279.3 810,2278.6 856.4,2279.9"/>
<polyline points="110.2,2280.6 140.6,2280 171,2267.2 201.4,2214.9 231.9,2231.7 262.3,2235.4 292.7,2190.7 323.2,2211.4 353.6,2161.3 384,2219 414.5,2222.9 444.9,2181.6 475.3,2170.4 505.7,2197.2 536.2,2234.9 566.6,2238.5 597,2240.9 627.5,2258.3 657.9,2267.5 688.3,2275.7 718.8,2280.3 749.2,2279.7 779.6,2276.6 810,2277.5 856.4,2279.7"/>
<polyline points="110.2,2280.6 140.6,2280 171,2267.3 201.4,2248.5 231.9,2236.7 262.3,2227.8 292.7,2221.9 323.2,2214.4 353.6,2234.8 384,2169.2 414.5,2194 444.9,2174.9 475.3,2201.8 505.7,2243.7 536.2,2196.3 566.6,2209.7 597,2262.5 627.5,2253.9 657.9,2270.9 688.3,2279.4 718.8,2273.1 749.2,2275.6 779.6,2277.1 810,2278.5 856.4,2279.4"/>
<polyline points="110.2,2280.6 140.6,2280.5 171,2278.7 201.4,2260.6 231.9,2168.1 262.3,2199.4 292.7,2234 323.2,2258 353.6,2209.3 384,2090.7 414.5,2164.3 444.9,2240.4 475.3,2265.5 505.7,2272.2 536.2,2274 566.6,2232.5 597,2240.4 627.5,2272.7 657.9,2270.8 688.3,2274.1 718.8,2279.3 749.2,2279.3 779.6,2279.6 810,2279.5 856.4,2279.9"/>
<polyline points="110.2,2280.6 140.6,2280.3 171,2265.5 201.4,2252 231.9,2176.1 262.3,2273.2 292.7,2237.3 323.2,2268.8 353.6,2264.2 384,2255 414.5,2201.3 444.9,2200.4 475.3,2233.7 505.7,2226.7 536.2,2240.7 566.6,2236.2 597,2250 627.5,2273.5 657.9,2279.4 688.3,2274.5 718.8,2280.2 749.2,2275.5 779.6,2278.8 810,2279 856.4,2279.7"/>
<polyline points="110.2,2280.6 140.6,2280.6 171,2276.9 201.4,2230.1 231.9,2237.4 262.3,2197 292.7,2179.6 323.2,2232.8 353.6,2182.5 384,2247.8 414.5,2184.1 444.9,2200.9 475.3,2204.7 505.7,2229 536.2,2238.3 566.6,2254.9 597,2273.5 627.5,2252.1 657.9,2270.2 688.3,2272.5 718.8,2273.5 749.2,2279.8 779.6,2280.2 810,2279.2 856.4,2280.3"/>
<polyline points="110.2,2280.6 140.6,2280 171,2276.4 201.4,2209.4 231.9,2155.8 262.3,2141.9 292.7,2158.2 323.2,2192.4 353.6,2165.2 384,2209.8 414.5,2162.2 444.9,2176.9 475.3,2169.2 505.7,2168.6 536.2,2200.3 566.6,2218.8 597,2237.4 627.5,2270.9 657.9,2271.3 688.3,2276 718.8,2279.9 749.2,2273.3 779.6,2276.8 810,2277.2 856.4,2280.1"/>
<polyline points="110.2,2280.6 140.6,2280.6 171,2275 201.4,2268 231.9,2251.9 262.3,2231.2 292.7,2166.2 323.2,2227.7 353.6,2252.7 384,2252.6 414.5,2214.9 444.9,2245.6 475.3,2190.7 505.7,2241.3 536.2,2262 566.6,2234.5 597,2272.8 627.5,2276.6 657.9,2268 688.3,2278 718.8,2276.4 749.2,2279.4 779.6,2279.5 810,2277.1 856.4,2280"/>
<polyline points="110.2,2280.6 140.6,2278.6 171,2274.2 201.4,2234.2 231.9,2182.8 262.3,2225.7 292.7,2199.7 323.2,2179 353.6,2227.1 384,2253.7 414.5,2242.9 444.9,2241 475.3,2191.2 505.7,2196.3 536.2,2206.1 566.6,2228.5 597,2256 627.5,2264.6 657.9,2263.5 688.3,2277 718.8,2275.5 749.2,2275.8 779.6,2277.6 810,2279.9 856.4,2280.2"/>
<polyline points="110.2,2280.6 140.6,2280 171,2277.1 201.4,2257.1 231.9,2257.6 262.3,2243.7 292.7,2271.6 323.2,2269.9 353.6,2260.4 384,2256.8 414.5,2257.8 444.9,2257.2 475.3,2254.3 505.7,2271 536.2,2235.9 566.6,2257.1 597,2273.1 627.5,2275.8 657.9,2276.5 688.3,2277.2 718.8,2278.3 749.2,2275.7 779.6,2277.1 810,2276.8 856.4,2279.8"/>
<polyline points="110.2,2280.6 140.6,2280.2 171,2275.2 201.4,2249.1 231.9,2180.5 262.3,2176.2 292.7,2118.4 323.2,2163.4 353.6,2238.4 384,2168.6 414.5,2198.2 444.9,2197.8 475.3,2181 505.7,2193.4 536.2,2267.3 566.6,2231.1 597,2246.9 627.5,2272.1 657.9,2276.2 688.3,2278.2 718.8,2274.6 749.2,2275.9 779.6,2280.2 810,2280.6 856.4,2279.6"/>
<polyline points="110.2,2280.6 140.6,2278.9 171,2266.9 201.4,2216 231.9,2189.5 262.3,2165.5 292.7,2148.1 323.2,2140.7 353.6,2190.3 384,2140.7 414.5,2191.9 444.9,2192.6 475.3,2242.8 505.7,2203.5 536.2,2187.2 566.6,2208.2 597,2253.1 627.5,2237.3 657.9,2256.5 688.3,2272.6 718.8,2279 749.2,2279.9 779.6,2277.7 810,2276.9 856.4,2279.4"/>
<polyline points="110.2,2280.6 140.6,2279.6 171,2276.8 201.4,2274.2 231.9,2272.1 262.3,2170.3 292.7,2182.4 323.2,2182.9 353.6,2249.1 384,2173.6 414.5,2254.2 444.9,2184.8 475.3,2177.7 505.7,2207.4 536.2,2271.6 566.6,2276.1 597,2267.3 627.5,2277.3 657.9,2278.2 688.3,2280.6 718.8,2280.4 749.2,2280.3 779.6,2279.1 810,2280.5 856.4,2280.5"/>
<polyline points="110.2,2280.6 140.6,2280.2 171,2278.8 201.4,2229 231.9,2200.6 262.3,2241.6 292.7,2164.5 323.2,2237.2 353.6,2169.6 384,2162.5 414.5,2123.7 444.9,2163.4 475.3,2176.7 505.7,2239.6 536.2,2243.6 566.6,2277.8 597,2279.6 627.5,2270.6 657.9,2274.6 688.3,2278.4 718.8,2278.3 749.2,2278.1 779.6,2279.8 810,2276.7 856.4,2278.8"/>
<polyline points="110.2,2280.6 140.6,2279.5 171,2266.8 201.4,2226 231.9,2193.9 262.3,2175.6 292.7,2252.7 323.2,2278.2 353.6,2173.5 384,2202.1 414.5,2252.2 444.9,2256.1 475.3,2206.2 505.7,2215.1 536.2,2195.4 566.6,2217 597,2251.8 627.5,2269 657.9,2272.1 688.3,2278 718.8,2277.5 749.2,2276.5 779.6,2275 810,2279.2 856.4,2279.9"/>
<polyline points="110.2,2280.6 140.6,2280.1 171,2276.6 201.4,2271.8 231.9,2268.3 262.3,2204.2 292.7,2235.3 323.2,2191.9 353.6,2222.3 384,2170.8 414.5,2187.2 444.9,2196.7 475.3,2234.8 505.7,2263.1 536.2,2255.7 566.6,2233.8 597,2270.4 627.5,2273.4 657.9,2274.8 688.3,2278.8 718.8,2279.1 749.2,2277 779.6,2279.7 810,2278.1 856.4,2280.1"/>
<polyline points="110.2,2280.6 140.6,2277.7 171,2264.4 201.4,2209.6 231.9,2258.9 262.3,2229.2 292.7,2246 323.2,2210.3 353.6,2218.2 384,2235.3 414.5,2195.6 444.9,2164.5 475.3,2202.8 505.7,2229.6 536.2,2224.4 566.6,2250.4 597,2238.8 627.5,2277.1 657.9,2273.3 688.3,2272.3 718.8,2275.8 749.2,2275.7 779.6,2274.1 810,2279.6 856.4,2280.1"/>
<polyline points="110.2,2280.6 140.6,2280.1 171,2272.1 201.4,2228.6 231.9,2169 262.3,2213.3 292.7,2177.4 323.2,2244.8 353.6,2215.2 384,2232 414.5,2232.4 444.9,2220.7 475.3,2253.1 505.7,2225.5 536.2,2223.1 566.6,2261.3 597,2259.9 627.5,2259.7 657.9,2277.7 688.3,2280.1 718.8,2280.2 749.2,2277 779.6,2277.7 810,2280.5 856.4,2280.5"/>
<polyline points="110.2,2280.6 140.6,2280.6 171,2274.6 201.4,2224.1 231.9,2238.6 262.3,2271.3 292.7,2272.9 323.2,2194.1 353.6,2227.7 384,2254.7 414.5,2145.6 444.9,2163.9 475.3,2186.4 505.7,2129 536.2,2199 566.6,2204.7 597,2256.2 627.5,2273.6 657.9,2277.2 688.3,2280 718.8,2280.5 749.2,2280.3 779.6,2278.7 810,2278.2 856.4,2280.6"/>
<polyline points="110.2,2280.6 140.6,2278.9 171,2268.9 201.4,2270.2 231.9,2275.7 262.3,2265.1 292.7,2242.7 323.2,2240.3 353.6,2219.4 384,2163 414.5,2186.7 444.9,2208.2 475.3,2256.6 505.7,2236.1 536.2,2259.1 566.6,2260.7 597,2274.7 627.5,2256.3 657.9,2263.1 688.3,2271.8 718.8,2275.4 749.2,2275.5 779.6,2277.5 810,2277.7 856.4,2280"/>
<polyline points="110.2,2280.6 140.6,2277.4 171,2263.7 201.4,2228.2 231.9,2275.2 262.3,2197.6 292.7,2156.4 323.2,2177.4 353.6,2160.7 384,2142.8 414.5,2209.1 444.9,2179.6 475.3,2172.3 505.7,2179.3 536.2,2251.3 566.6,2269.3 597,2261.7 627.5,2276.3 657.9,2265.5 688.3,2277.9 718.8,2278.2 749.2,2280.3 779.6,2277.4 810,2279.6 856.4,2280.3"/>
<polyline points="110.2,2280.6 140.6,2280.4 171,2275.5 201.4,2260 231.9,2280.6 262.3,2186.3 292.7,2176.8 323.2,2247.9 353.6,2209.8 384,2220.6 414.5,2152.4 444.9,2226.9 475.3,2198.4 505.7,2211.2 536.2,2211 566.6,2249.5 597,2271.4 627.5,2273.8 657.9,2273.1 688.3,2277 718.8,2275.5 749.2,2277.6 779.6,2279.8 810,2276.4 856.4,2280.3"/>
<polyline points="110.2,2280.6 140.6,2276.7 171,2269.8 201.4,2220.4 231.9,2220.9 262.3,2237.5 292.7,2224.6 323.2,2193.5 353.6,2198.1 384,2199.8 414.5,2223.9 444.9,2179 475.3,2148.2 505.7,2152.8 536.2,2191.5 566.6,2220.8 597,2224.2 627.5,2251.5 657.9,2267.8 688.3,2273.7 718.8,2269.8 749.2,2278.8 779.6,2279.6 810,2279.5 856.4,2280.1"/>
<polyline points="110.2,2280.6 140.6,2279.9 171,2270.1 201.4,2212.6 231.9,2161.5 262.3,2167.3 292.7,2142 323.2,2202.5 353.6,2220.6 384,2206 414.5,2249.3 444.9,2255.3 475.3,2236.5 505.7,2206.4 536.2,2219.9 566.6,2255.5 597,2280.6 627.5,2274.1 657.9,2276.8 688.3,2276.8 718.8,2277.7 749.2,2280.3 779.6,2280.4 810,2277.9 856.4,2280.2"/>
<polyline points="110.2,2280.6 140.6,2279.3 171,2280.6 201.4,2279.2 231.9,2279.4 262.3,2252 292.7,2273.7 323.2,2266.9 353.6,2179.1 384,2200.4 414.5,2248.7 444.9,2188.9 475.3,2227.4 505.7,2201.6 536.2,2253.3 566.6,2265.1 597,2269.7 627.5,2277.9 657.9,2273.2 688.3,2279.5 718.8,2278.2 749.2,2277.3 779.6,2278.1 810,2280.5 856.4,2280.6"/>
<polyline points="110.2,2280.6 140.6,2280.1 171,2273.2 201.4,2231.6 231.9,2205.6 262.3,2151.8 292.7,2165.1 323.2,2154.5 353.6,2194.7 384,2158 414.5,2194.5 444.9,2246.2 475.3,2203.8 505.7,2191.4 536.2,2193.2 566.6,2221.4 597,2278.1 627.5,2270.3 657.9,2275.8 688.3,2271.5 718.8,2278.1 749.2,2277.7 779.6,2279.1 810,2279.9 856.4,2280.6"/>
<polyline points="110.2,2280.6 140.6,2279.2 171,2268 201.4,2232 231.9,2274 262.3,2203 292.7,2204.7 323.2,2185.2 353.6,2180.8 384,2178.1 414.5,2183.1 444.9,2254 475.3,2219.4 505.7,2139.6 536.2,2202.1 566.6,2237.5 597,2236.1 627.5,2272.6 657.9,2272.4 688.3,2269.5 718.8,2272.7 749.2,2274.6 779.6,2276.2 810,2277.9 856.4,2280"/>
<polyline points="110.2,2280.6 140.6,2280.6 171,2277.8 201.4,2233.1 231.9,2185.5 262.3,2189.3 292.7,2193 323.2,2268.2 353.6,2264 384,2218.5 414.5,2202.3 444.9,2198.8 475.3,2225.7 505.7,2187.1 536.2,2274.4 566.6,2258.4 597,2275.5 627.5,2273.1 657.9,2278 688.3,2279.9 718.8,2278.7 749.2,2280.3 779.6,2279.2 810,2280.5 856.4,2279.7"/>
<polyline points="110.2,2280.6 140.6,2280.1 171,2264.6 201.4,2220.8 231.9,2176.6 262.3,2144.7 292.7,2177.9 323.2,2160.2 353.6,2196.4 384,2235.8 414.5,2247.1 444.9,2213.4 475.3,2238.3 505.7,2266.6 536.2,2223.9 566.6,2230.5 597,2232.2 627.5,2278.7 657.9,2277.1 688.3,2275.9 718.8,2275.4 749.2,2279.2 779.6,2279.9 810,2278 856.4,2279.5"/>
<polyline points="110.2,2280.6 140.6,2280.6 171,2271.1 201.4,2266.7 231.9,2209 262.3,2259.6 292.7,2255.4 323.2,2182.4 353.6,2193.1 384,2205.4 414.5,2184.6 444.9,2193.1 475.3,2246.3 505.7,2215.6 536.2,2213.7 566.6,2262.6 597,2270.6 627.5,2265.8 657.9,2273.5 688.3,2272.4 718.8,2273.9 749.2,2277.5 779.6,2277 810,2280.6 856.4,2279.8"/>
<polyline points="110.2,2280.6 140.6,2278.7 171,2268.7 201.4,2243.8 231.9,2171.6 262.3,2191.7 292.7,2194.1 323.2,2245.4 353.6,2225.3 384,2256.3 414.5,2147.9 444.9,2175.4 475.3,2226.8 505.7,2222 536.2,2209.7 566.6,2234.8 597,2240.6 627.5,2246.2 657.9,2270.3 688.3,2276.7 718.8,2279.8 749.2,2279.9 779.6,2278.9 810,2278.9 856.4,2280.3"/>
<polyline points="110.2,2280.6 140.6,2280.2 171,2272.8 201.4,2254.2 231.9,2156.8 262.3,2243 292.7,2250 323.2,2220.1 353.6,2164.1 384,2100.1 414.5,2179.9 444.9,2182.2 475.3,2196 505.7,2270.3 536.2,2263.9 566.6,2263.5 597,2248.7 627.5,2247.9 657.9,2270.5 688.3,2277.5 718.8,2274.5 749.2,2276.2 779.6,2276.9 810,2278.6 856.4,2279.5"/>
<polyline points="110.2,2280.6 140.6,2280.4 171,2272.7 201.4,2273.2 231.9,2227.3 262.3,2280.6 292.7,2260.7 323.2,2256.1 353.6,2246.1 384,2188.7 414.5,2235 444.9,2256.9 475.3,2274.6 505.7,2275.8 536.2,2275.7 566.6,2258.7 597,2255.7 627.5,2266.6 657.9,2277.9 688.3,2279.9 718.8,2279.4 749.2,2280.3 779.6,2279.8 810,2280.6 856.4,2280.6"/>
<polyline points="110.2,2280.6 140.6,2280.5 171,2278.7 201.4,2264.1 231.9,2272.8 262.3,2273.9 292.7,2267.4 323.2,2259.9 353.6,2267.2 384,2222.3 414.5,2200.2 444.9,2219.6 475.3,2264 505.7,2270.7 536.2,2260 566.6,2276.3 597,2274.3 627.5,2278 657.9,2277.9 688.3,2276.2 718.8,2274.5 749.2,2279.3 779.6,2279.7 810,2279.8 856.4,2280.6"/>
<polyline points="110.2,2280.6 140.6,2280.2 171,2274.8 201.4,2252.6 231.9,2270.9 262.3,2273.7 292.7,2185.2 323.2,2190.7 353.6,2264.8 384,2172 414.5,2153.5 444.9,2173.8 475.3,2205.7 505.7,2240.8 536.2,2252.8 566.6,2247.9 597,2280.1 627.5,2270 657.9,2276.3 688.3,2279.2 718.8,2280.3 749.2,2280.3 779.6,2279.2 810,2279.3 856.4,2279.8"/>
<polyline points="110.2,2280.6 140.6,2280.3 171,2269.6 201.4,2234.9 231.9,2263.9 262.3,2205.4 292.7,2234.6 323.2,2198.6 353.6,2166.9 384,2128.5 414.5,2208.1 444.9,2193.6 475.3,2185.9 505.7,2210.8 536.2,2238.8 566.6,2277.4 597,2277.8 627.5,2275.5 657.9,2278.6 688.3,2277.2 718.8,2278.5 749.2,2275.8 779.6,2276.7 810,2279.4 856.4,2280.6"/>
<polyline points="110.2,2280.6 140.6,2280.2 171,2271.9 201.4,2273.7 231.9,2277.1 262.3,2211.9 292.7,2254.7 323.2,2257.4 353.6,2255.6 384,2189.3 414.5,2245.6 444.9,2165.5 475.3,2218.8 505.7,2273.3 536.2,2237.8 566.6,2262.9 597,2278.8 627.5,2276.5 657.9,2277.7 688.3,2277.3 718.8,2272.8 749.2,2278.8 779.6,2280.1 810,2279.1 856.4,2280.3"/>
<polyline points="110.2,2280.6 140.6,2279.2 171,2262.4 201.4,2202.4 231.9,2139.3 262.3,2166.1 292.7,2167.9 323.2,2129.3 353.6,2082.6 384,2215.2 414.5,2227.1 444.9,2228.5 475.3,2180.6 505.7,2175.4 536.2,2197.6 566.6,2255.2 597,2239.6 627.5,2257.7 657.9,2265.7 688.3,2275.6 718.8,2277.7 749.2,2279.5 779.6,2279.9 810,2278.4 856.4,2279.7"/>
<polyline points="110.2,2280.6 140.6,2280.3 171,2274.1 201.4,2217.1 231.9,2201.2 262.3,2206 292.7,2164 323.2,2224.5 353.6,2207 384,2204.9 414.5,2164.8 444.9,2188.4 475.3,2174.3 505.7,2179.8 536.2,2183.6 566.6,2212.7 597,2238.3 627.5,2279.9 657.9,2271.4 688.3,2273.3 718.8,2278 749.2,2276.7 779.6,2279.4 810,2278.5 856.4,2279.4"/>
<polyline points="110.2,2280.6 140.6,2280.4 171,2280.2 201.4,2253.9 231.9,2238 262.3,2253.4 292.7,2277 323.2,2269 353.6,2263.7 384,2268.9 414.5,2220.7 444.9,2211.8 475.3,2200.9 505.7,2219 536.2,2240.2 566.6,2259.1 597,2269.5 627.5,2262.2 657.9,2275.9 688.3,2275.7 718.8,2273.7 749.2,2277.4 779.6,2277.3 810,2277.6 856.4,2280.5"/>
<polyline points="110.2,2280.6 140.6,2280.5 171,2272.4 201.4,2272.9 231.9,2241.8 262.3,2246.4 292.7,2225.3 323.2,2156.1 353.6,2170.2 384,2232.6 414.5,2260.3 444.9,2251.4 475.3,2251.4 505.7,2253.1 536.2,2198.5 566.6,2229.8 597,2250.8 627.5,2261.5 657.9,2276.7 688.3,2274.2 718.8,2270.8 749.2,2276.8 779.6,2279.3 810,2279.6 856.4,2280.2"/>
<polyline points="110.2,2280.6 140.6,2280.3 171,2264.9 201.4,2273 231.9,2164.3 262.3,2171.5 292.7,2170.7 323.2,2121.7 353.6,2168.5 384,2229.9 414.5,2255 444.9,2252.4 475.3,2240 505.7,2220.2 536.2,2196.7 566.6,2268.7 597,2257.8 627.5,2255.1 657.9,2270.1 688.3,2271.3 718.8,2275.6 749.2,2276.9 779.6,2275.5 810,2276.8 856.4,2280.2"/>
<polyline points="110.2,2280.6 140.6,2279.8 171,2270.2 201.4,2248.8 231.9,2224.7 262.3,2173.8 292.7,2240.7 323.2,2199.1 353.6,2178 384,2172.5 414.5,2221.8 444.9,2217.5 475.3,2260 505.7,2237.8 536.2,2167.1 566.6,2240.5 597,2258.3 627.5,2271.8 657.9,2261.9 688.3,2277.5 718.8,2278.5 749.2,2278.6 779.6,2280.4 810,2280 856.4,2280.3"/>
<polyline points="110.2,2280.6 140.6,2280.3 171,2267.9 201.4,2258.7 231.9,2198.4 262.3,2257.5 292.7,2272.2 323.2,2265.6 353.6,2265.9 384,2234.2 414.5,2255.7 444.9,2218.1 475.3,2259.4 505.7,2218 536.2,2258.1 566.6,2266.4 597,2243.2 627.5,2262 657.9,2272 688.3,2275.1 718.8,2279.9 749.2,2280 779.6,2280.3 810,2279.8 856.4,2280.6"/>
<polyline points="110.2,2280.6 140.6,2278.5 171,2263.6 201.4,2204.2 231.9,2173.8 262.3,2231.9 292.7,2184.6 323.2,2249.8 353.6,2190.8 384,2228.8 414.5,2190.9 444.9,2214.9 475.3,2195.5 505.7,2195.8 536.2,2230.2 566.6,2270.3 597,2260.4 627.5,2260.1 657.9,2277.5 688.3,2274.8 718.8,2278.4 749.2,2280.4 779.6,2279.9 810,2278.8 856.4,2280.5"/>
<polyline points="110.2,2280.6 140.6,2278.5 171,2274.5 201.4,2219.3 231.9,2213.4 262.3,2248.5 292.7,2264.1 323.2,2181.8 353.6,2161.8 384,2207.1 414.5,2199.7 444.9,2190 475.3,2250.9 505.7,2174.2 536.2,2190.9 566.6,2217.5 597,2256.5 627.5,2279.7 657.9,2278.1 688.3,2274.4 718.8,2279.5 749.2,2280.3 779.6,2279.4 810,2280.2 856.4,2279.8"/>
<polyline points="110.2,2280.6 140.6,2280 171,2277.5 201.4,2270.8 231.9,2277.6 262.3,2247.1 292.7,2268.8 323.2,2248.6 353.6,2257.4 384,2226.6 414.5,2163.8 444.9,2241.5 475.3,2192.6 505.7,2249 536.2,2274.3 566.6,2272.5 597,2279.4 627.5,2280.2 657.9,2279.6 688.3,2280.1 718.8,2280.3 749.2,2280.4 779.6,2278.7 810,2280.6 856.4,2280.5"/>
<polyline points="110.2,2280.6 140.6,2278.9 171,2277.4 201.4,2223.4 231.9,2180 262.3,2217.4 292.7,2160.8 323.2,2234 353.6,2143.6 384,2190.4 414.5,2176.8 444.9,2185.8 475.3,2169.9 505.7,2165.2 536.2,2236.3 566.6,2243.5 597,2271 627.5,2270.7 657.9,2277 688.3,2273.9 718.8,2277.1 749.2,2277.8 779.6,2279.1 810,2280.6 856.4,2280.4"/>
<polyline points="110.2,2280.6 140.6,2280.5 171,2274.2 201.4,2226.7 231.9,2265.2 262.3,2181 292.7,2266.7 323.2,2235.9 353.6,2255.1 384,2240.2 414.5,2228.7 444.9,2249.8 475.3,2257.7 505.7,2268.9 536.2,2261.5 566.6,2255.9 597,2270.8 627.5,2278.6 657.9,2279.9 688.3,2279.3 718.8,2279.4 749.2,2277.4 779.6,2280.2 810,2280.6 856.4,2279.6"/>
<polyline points="110.2,2280.6 140.6,2279.1 171,2267.7 201.4,2242.4 231.9,2250.6 262.3,2245.1 292.7,2265.4 323.2,2176.8 353.6,2197 384,2261.6 414.5,2190.3 444.9,2243 475.3,2197 505.7,2230.8 536.2,2234.4 566.6,2251.1 597,2267.9 627.5,2271.5 657.9,2276.2 688.3,2279.8 718.8,2278.2 749.2,2279.1 779.6,2277.8 810,2278.3 856.4,2279.9"/>
<polyline points="110.2,2280.6 140.6,2279 171,2264.7 201.4,2208.9 231.9,2173.3 262.3,2114.2 292.7,2262.1 323.2,2176.2 353.6,2239.6 384,2212.5 414.5,2221.3 444.9,2192 475.3,2244.6 505.7,2251.9 536.2,2273.1 566.6,2227.5 597,2252.3 627.5,2269.2 657.9,2278 688.3,2270.7 718.8,2274.8 749.2,2277.3 779.6,2275.6 810,2277.8 856.4,2280.4"/>
<polyline points="110.2,2280.6 140.6,2279.3 171,2277 201.4,2240.1 231.9,2202.8 262.3,2256.8 292.7,2266.1 323.2,2152.8 353.6,2253.9 384,2179.8 414.5,2241.9 444.9,2214.4 475.3,2247.4 505.7,2205.4 536.2,2217.7 566.6,2253.6 597,2259.4 627.5,2248.5 657.9,2274.9 688.3,2278.5 718.8,2280 749.2,2276.4 779.6,2280.3 810,2280.2 856.4,2280.4"/>
<polyline points="110.2,2280.6 140.6,2280 171,2275.4 201.4,2258.4 231.9,2177.7 262.3,2213.9 292.7,2257.4 323.2,2169 353.6,2110.9 384,2160.8 414.5,2180.5 444.9,2152.8 475.3,2199.4 505.7,2209.8 536.2,2237.3 566.6,2230.8 597,2271.8 627.5,2279.1 657.9,2267 688.3,2278.1 718.8,2275.3 749.2,2278.5 779.6,2277.2 810,2277.8 856.4,2280"/>
<polyline points="110.2,2280.6 140.6,2279.9 171,2278.2 201.4,2271.2 231.9,2259.5 262.3,2196.5 292.7,2152.9 323.2,2165.7 353.6,2123.2 384,2228.2 414.5,2174.2 444.9,2249.3 475.3,2222.2 505.7,2194.8 536.2,2223.5 566.6,2219.1 597,2247.1 627.5,2276.2 657.9,2268.4 688.3,2273.2 718.8,2275.9 749.2,2276 779.6,2277.3 810,2277.7 856.4,2279.2"/>
<polyline points="110.2,2280.6 140.6,2278.2 171,2277.3 201.4,2251.7 231.9,2207.9 262.3,2181.6 292.7,2161.7 323.2,2189.6 353.6,2154.2 384,2190.9 414.5,2250.8 444.9,2204 475.3,2215.9 505.7,2173.1 536.2,2210.6 566.6,2231.5 597,2276.6 627.5,2278.1 657.9,2278.9 688.3,2279.1 718.8,2279.4 749.2,2277.8 779.6,2279.7 810,2277.4 856.4,2280.4"/>
<polyline points="110.2,2280.6 140.6,2280.4 171,2278.3 201.4,2223 231.9,2190 262.3,2195.9 292.7,2248.7 323.2,2185.7 353.6,2256.2 384,2194.3 414.5,2163.3 444.9,2144.8 475.3,2211.5 505.7,2211.7 536.2,2231.1 566.6,2232.1 597,2267 627.5,2277.6 657.9,2278.8 688.3,2275.3 718.8,2277.7 749.2,2279.9 779.6,2279.5 810,2279.8 856.4,2279.9"/>
<polyline points="110.2,2280.6 140.6,2280.3 171,2279 201.4,2275.1 231.9,2264.5 262.3,2160.2 292.7,2152 323.2,2161 353.6,2199.2 384,2248.3 414.5,2198.7 444.9,2173.3 475.3,2163.7 505.7,2201.1 536.2,2207.9 566.6,2256.5 597,2276.4 627.5,2278.3 657.9,2279.4 688.3,2279.5 718.8,2278.8 749.2,2278.9 779.6,2279 810,2279 856.4,2279.9"/>
<polyline points="110.2,2280.6 140.6,2280.4 171,2275.6 201.4,2274 231.9,2216.2 262.3,2210.1 292.7,2184.1 323.2,2174 353.6,2185.3 384,2173.1 414.5,2219.2 444.9,2233.2 475.3,2213.6 505.7,2194.3 536.2,2215 566.6,2242.5 597,2244.8 627.5,2267 657.9,2279.6 688.3,2278.1 718.8,2278.4 749.2,2278.7 779.6,2279 810,2278.3 856.4,2280.5"/>
<polyline points="110.2,2280.6 140.6,2279.1 171,2266.3 201.4,2220.1 231.9,2201.7 262.3,2182.8 292.7,2200.2 323.2,2162.6 353.6,2174.1 384,2217.4 414.5,2189.8 444.9,2224.8 475.3,2198.9 505.7,2208.3 536.2,2232.5 566.6,2225.5 597,2241.7 627.5,2274.5 657.9,2278.3 688.3,2273.5 718.8,2276.9 749.2,2279.7 779.6,2279.2 810,2280.1 856.4,2280.2"/>
<polyline points="110.2,2280.6 140.6,2278.8 171,2267.6 201.4,2276.3 231.9,2206.7 262.3,2252.7 292.7,2195.8 323.2,2212.5 353.6,2207.6 384,2224.4 414.5,2227.6 444.9,2242.5 475.3,2208.6 505.7,2248.4 536.2,2248.9 566.6,2260.3 597,2266.4 627.5,2268.2 657.9,2277.1 688.3,2278 718.8,2276.7 749.2,2280.1 779.6,2280.3 810,2280 856.4,2280.6"/>
<polyline points="110.2,2280.6 140.6,2279.6 171,2273.6 201.4,2211.5 231.9,2234.8 262.3,2158.8 292.7,2182.9 323.2,2177.9 353.6,2235.4 384,2222.8 414.5,2210.7 444.9,2209.2 475.3,2212.5 505.7,2213.2 536.2,2205.7 566.6,2275.7 597,2278.4 627.5,2258.9 657.9,2278.5 688.3,2274.8 718.8,2274.7 749.2,2280 779.6,2279.1 810,2280.4 856.4,2280.4"/>
<polyline points="110.2,2280.6 140.6,2280.6 171,2277.6 201.4,2252.9 231.9,2269 262.3,2175 292.7,2215.2 323.2,2158.6 353.6,2179.7 384,2071.7 414.5,2144.5 444.9,2170.2 475.3,2197.5 505.7,2188 536.2,2194.9 566.6,2225.8 597,2252.9 627.5,2251.7 657.9,2264.7 688.3,2270.3 718.8,2276.3 749.2,2274.5 779.6,2278.3 810,2278.9 856.4,2280.6"/>
<polyline points="110.2,2280.6 140.6,2278.3 171,2266.2 201.4,2214.1 231.9,2188.9 262.3,2166.7 292.7,2252 323.2,2215.7 353.6,2229.5 384,2207.6 414.5,2216 444.9,2182.7 475.3,2211 505.7,2181.3 536.2,2186 566.6,2226.1 597,2234.4 627.5,2222 657.9,2265.9 688.3,2276.4 718.8,2276.5 749.2,2272.2 779.6,2276.7 810,2277.4 856.4,2280"/>
<polyline points="110.2,2280.6 140.6,2279.4 171,2269.5 201.4,2210.7 231.9,2167.1 262.3,2269.3 292.7,2271 323.2,2269.5 353.6,2251.5 384,2241.8 414.5,2183.6 444.9,2187.9 475.3,2263.6 505.7,2217.5 536.2,2245.5 566.6,2240.8 597,2241.4 627.5,2254.1 657.9,2276.5 688.3,2274.5 718.8,2279.9 749.2,2278.4 779.6,2279.7 810,2280.6 856.4,2279.7"/>
<polyline points="110.2,2280.6 140.6,2280.6 171,2278.4 201.4,2274.4 231.9,2274.2 262.3,2229.8 292.7,2229.9 323.2,2164 353.6,2188 384,2178.7 414.5,2177.3 444.9,2246.7 475.3,2182 505.7,2246 536.2,2246 566.6,2252 597,2278.4 627.5,2275.1 657.9,2266.8 688.3,2273.8 718.8,2278.5 749.2,2275.5 779.6,2278.2 810,2280.3 856.4,2280.3"/>
<polyline points="110.2,2280.6 140.6,2279.7 171,2271 201.4,2262.5 231.9,2254.4 262.3,2240.9 292.7,2227.9 323.2,2183.5 353.6,2220 384,2221.2 414.5,2171.1 444.9,2235.2 475.3,2248 505.7,2208.8 536.2,2184.8 566.6,2212.3 597,2249.5 627.5,2243.9 657.9,2265.3 688.3,2273.6 718.8,2275.1 749.2,2279.8 779.6,2277.6 810,2279.7 856.4,2280.2"/>
<polyline points="110.2,2280.6 140.6,2280.1 171,2274.4 201.4,2206.9 231.9,2197.8 262.3,2185.7 292.7,2233.3 323.2,2237.8 353.6,2217.6 384,2195.4 414.5,2253.4 444.9,2254.8 475.3,2265.8 505.7,2198.2 536.2,2227.1 566.6,2267.1 597,2262.1 627.5,2257.9 657.9,2271.6 688.3,2271.7 718.8,2274.2 749.2,2274.6 779.6,2277.1 810,2278.4 856.4,2280.1"/>
<polyline points="110.2,2280.6 140.6,2280.6 171,2278.8 201.4,2264.8 231.9,2233.6 262.3,2184.6 292.7,2174.6 323.2,2201.9 353.6,2224.1 384,2263.2 414.5,2264.7 444.9,2260.7 475.3,2264.3 505.7,2263.7 536.2,2201.6 566.6,2263.9 597,2262.3 627.5,2250.8 657.9,2263.3 688.3,2269.4 718.8,2276.2 749.2,2274.4 779.6,2276.9 810,2280 856.4,2279.5"/>
<polyline points="110.2,2280.6 140.6,2279.2 171,2270.4 201.4,2240.9 231.9,2214 262.3,2242.3 292.7,2259.4 323.2,2232.1 353.6,2208.1 384,2180.9 414.5,2170.1 444.9,2194.6 475.3,2258.9 505.7,2216.1 536.2,2203.9 566.6,2223.1 597,2248.4 627.5,2265.2 657.9,2265.1 688.3,2271 718.8,2276.5 749.2,2274.3 779.6,2279.7 810,2278.6 856.4,2279.8"/>
<polyline points="110.2,2280.6 140.6,2278.9 171,2275.7 201.4,2239.8 231.9,2194.5 262.3,2187.5 292.7,2167.3 323.2,2260.6 353.6,2176.3 384,2187.6 414.5,2214.4 444.9,2194.1 475.3,2156.4 505.7,2212.7 536.2,2241.2 566.6,2265.8 597,2248.2 627.5,2279 657.9,2278.8 688.3,2280 718.8,2279.8 749.2,2280 779.6,2278.2 810,2279.9 856.4,2279.7"/>
<polyline points="110.2,2280.6 140.6,2280 171,2266 201.4,2215.2 231.9,2271.5 262.3,2191.1 292.7,2225.9 323.2,2228.3 353.6,2204.2 384,2246.7 414.5,2240.8 444.9,2147.4 475.3,2178.1 505.7,2202.5 536.2,2273.6 566.6,2245.5 597,2278 627.5,2278.8 657.9,2275.8 688.3,2274.9 718.8,2276.9 749.2,2275.6 779.6,2277.6 810,2279.6 856.4,2280.4"/>
<polyline points="110.2,2280.6 140.6,2279.8 171,2276.2 201.4,2209.7 231.9,2143.6 262.3,2139 292.7,2159.9 323.2,2218.2 353.6,2160.2 384,2114.4 414.5,2174.7 444.9,2157 475.3,2137.4 505.7,2118.4 536.2,2177.8 566.6,2214.9 597,2220.2 627.5,2245.6 657.9,2267.4 688.3,2272.6 718.8,2277.5 749.2,2276.6 779.6,2277.8 810,2277 856.4,2279.7"/>
<polyline points="110.2,2280.6 140.6,2279.8 171,2266.7 201.4,2225.3 231.9,2175 262.3,2192.9 292.7,2238.6 323.2,2195.2 353.6,2240.2 384,2208.7 414.5,2239.2 444.9,2207.1 475.3,2164.5 505.7,2184.7 536.2,2235.4 566.6,2275.4 597,2275.3 627.5,2259.1 657.9,2277.8 688.3,2277 718.8,2276.3 749.2,2275 779.6,2277.4 810,2277.8 856.4,2280.4"/>
<polyline points="110.2,2280.6 140.6,2280.1 171,2277.9 201.4,2254.8 231.9,2255.7 262.3,2261.7 292.7,2213.9 323.2,2210.8 353.6,2212.2 384,2202.6 414.5,2204.4 444.9,2158.1 475.3,2173.8 505.7,2236.6 536.2,2257.6 566.6,2229.1 597,2249 627.5,2263.8 657.9,2263 688.3,2272.1 718.8,2276 749.2,2279 779.6,2280.4 810,2279.7 856.4,2280.3"/>
<polyline points="110.2,2280.6 140.6,2279.4 171,2264.2 201.4,2223.8 231.9,2159.6 262.3,2201.2 292.7,2230.6 323.2,2165.1 353.6,2145.1 384,2225 414.5,2225.5 444.9,2232.6 475.3,2187.8 505.7,2192.4 536.2,2272.6 566.6,2220.1 597,2240.1 627.5,2246.8 657.9,2262.5 688.3,2274 718.8,2278.9 749.2,2278.4 779.6,2278 810,2278.5 856.4,2280.4"/>
<polyline points="110.2,2280.6 140.6,2279.6 171,2264.3 201.4,2211.1 231.9,2162.4 262.3,2202.4 292.7,2247.3 323.2,2187.4 353.6,2202.5 384,2227.1 414.5,2200.8 444.9,2167.6 475.3,2193.1 505.7,2180.8 536.2,2182.1 566.6,2214.4 597,2229.2 627.5,2259.5 657.9,2275.9 688.3,2266.5 718.8,2272.3 749.2,2276.3 779.6,2277.3 810,2276.5 856.4,2279.1"/>
<polyline points="110.2,2280.6 140.6,2278.2 171,2272.9 201.4,2211.7 231.9,2150.2 262.3,2130.6 292.7,2175.1 323.2,2172.3 353.6,2203.1 384,2210.9 414.5,2179.4 444.9,2161.3 475.3,2187.3 505.7,2169.7 536.2,2206.5 566.6,2263.2 597,2242.5 627.5,2269.4 657.9,2268.9 688.3,2273 718.8,2276.9 749.2,2276.4 779.6,2280.3 810,2277.6 856.4,2279.6"/>
<polyline points="110.2,2280.6 140.6,2280 171,2276.3 201.4,2250.7 231.9,2274.4 262.3,2244.4 292.7,2231.3 323.2,2244.1 353.6,2259.2 384,2260.4 414.5,2254.7 444.9,2213.9 475.3,2245.1 505.7,2272 536.2,2262.9 566.6,2235.5 597,2245.1 627.5,2256.5 657.9,2279.4 688.3,2278.7 718.8,2277.4 749.2,2279 779.6,2278.4 810,2279.9 856.4,2280.4"/>
<polyline points="110.2,2280.6 140.6,2280.6 171,2278.8 201.4,2214.5 231.9,2153.5 262.3,2238.1 292.7,2178.5 323.2,2218.8 353.6,2152.7 384,2164.7 414.5,2156.9 444.9,2175.9 475.3,2199.9 505.7,2247.2 536.2,2226.2 566.6,2264.8 597,2241.2 627.5,2260.9 657.9,2266.2 688.3,2271.9 718.8,2278 749.2,2275.7 779.6,2279.1 810,2280.1 856.4,2280.5"/>
<polyline points="110.2,2280.6 140.6,2278.6 171,2270.2 201.4,2261.2 231.9,2226.6 262.3,2208.3 292.7,2199.1 323.2,2264.4 353.6,2237.2 384,2177.5 414.5,2254.5 444.9,2244.1 475.3,2248.6 505.7,2237.2 536.2,2232 566.6,2246.5 597,2262.9 627.5,2266.8 657.9,2275.1 688.3,2273.3 718.8,2275.7 749.2,2276 779.6,2277.8 810,2280.2 856.4,2280.6"/>
<polyline points="110.2,2280.6 140.6,2280.1 171,2272 201.4,2233.4 231.9,2275.6 262.3,2275.1 292.7,2272.6 323.2,2206.4 353.6,2237.8 384,2240.7 414.5,2140.7 444.9,2238.9 475.3,2183 505.7,2269.5 536.2,2256.6 566.6,2244.5 597,2247.9 627.5,2252.5 657.9,2275.3 688.3,2272.7 718.8,2273.3 749.2,2276.8 779.6,2279.2 810,2277.2 856.4,2280.4"/>
<polyline points="110.2,2280.6 140.6,2280 171,2262.8 201.4,2206 231.9,2166.2 262.3,2279.2 292.7,2268.1 323.2,2225.2 353.6,2181.9 384,2250.5 414.5,2252.7 444.9,2232.1 475.3,2189.3 505.7,2176.4 536.2,2204.3 566.6,2254.3 597,2235.7 627.5,2249.6 657.9,2264.2 688.3,2272.1 718.8,2276 749.2,2278.2 779.6,2277.8 810,2279.9 856.4,2280.2"/>
<polyline points="110.2,2280.6 140.6,2280.2 171,2278.6 201.4,2221.9 231.9,2212.9 262.3,2162.5 292.7,2276.1 323.2,2258.7 353.6,2171.3 384,2208.1 414.5,2181 444.9,2224.3 475.3,2220.5 505.7,2272.4 536.2,2263.4 566.6,2277.1 597,2276.2 627.5,2276.9 657.9,2276.1 688.3,2276.7 718.8,2275.3 749.2,2278.7 779.6,2278.5 810,2280.4 856.4,2280"/>
<polyline points="110.2,2280.6 140.6,2280.6 171,2268.8 201.4,2230.5 231.9,2258.2 262.3,2172.7 292.7,2249.4 323.2,2219.5 353.6,2191.4 384,2236.9 414.5,2181.5 444.9,2180.1 475.3,2261.7 505.7,2264.8 536.2,2277.6 566.6,2267.7 597,2278.3 627.5,2271.4 657.9,2276.6 688.3,2276.6 718.8,2279.4 749.2,2279 779.6,2279.4 810,2279.1 856.4,2280.6"/>
<polyline points="110.2,2280.6 140.6,2279.6 171,2276.1 201.4,2269.9 231.9,2255.1 262.3,2274 292.7,2186.8 323.2,2233.4 353.6,2176.9 384,2193.2 414.5,2207.5 444.9,2223.3 475.3,2198 505.7,2270.5 536.2,2233.9 566.6,2248.2 597,2275.8 627.5,2279.4 657.9,2274.7 688.3,2280.2 718.8,2280 749.2,2278.2 779.6,2278 810,2277.8 856.4,2280.6"/>
<polyline points="110.2,2280.6 140.6,2280.6 171,2273.9 201.4,2257.4 231.9,2275.1 262.3,2261 292.7,2163.4 323.2,2217.6 353.6,2191.9 384,2180.3 414.5,2166.9 444.9,2169.7 475.3,2171.9 505.7,2221.4 536.2,2212.8 566.6,2253.9 597,2234.8 627.5,2258.1 657.9,2273.7 688.3,2279.6 718.8,2280.3 749.2,2279 779.6,2276.9 810,2280 856.4,2280.2"/>
<polyline points="110.2,2280.6 140.6,2280.6 171,2273.8 201.4,2260.9 231.9,2223.5 262.3,2230.5 292.7,2206.9 323.2,2226.4 353.6,2231.3 384,2244 414.5,2238.7 444.9,2258.5 475.3,2257.2 505.7,2226.1 536.2,2254.7 566.6,2274.1 597,2252.6 627.5,2268.9 657.9,2272.2 688.3,2274.3 718.8,2279 749.2,2279.1 779.6,2280.5 810,2280.6 856.4,2280.6"/>
<polyline points="110.2,2280.6 140.6,2278.8 171,2265.3 201.4,2222.7 231.9,2202.3 262.3,2210.7 292.7,2188 323.2,2156.9 353.6,2199.8 384,2184.8 414.5,2249.8 444.9,2181.1 475.3,2243.4 505.7,2200.1 536.2,2186.6 566.6,2216.2 597,2251 627.5,2278.4 657.9,2276 688.3,2277.1 718.8,2279.6 749.2,2278.7 779.6,2278.3 810,2280.3 856.4,2280.4"/>
<polyline points="110.2,2280.6 140.6,2278.7 171,2267.1 201.4,2244.2 231.9,2230.4 262.3,2256.1 292.7,2198.6 323.2,2225.8 353.6,2224.7 384,2166.4 414.5,2182 444.9,2234.7 475.3,2206.7 505.7,2188.5 536.2,2270.7 566.6,2256.2 597,2257.3 627.5,2251.3 657.9,2266.3 688.3,2268.8 718.8,2275.7 749.2,2278.4 779.6,2279.6 810,2280.3 856.4,2280.5"/>
<polyline points="110.2,2280.6 140.6,2280.2 171,2274 201.4,2272.8 231.9,2183.3 262.3,2216 292.7,2188.5 323.2,2261.8 353.6,2239 384,2153 414.5,2150.1 444.9,2245.1 475.3,2184.4 505.7,2190.5 536.2,2276.5 566.6,2269 597,2255.5 627.5,2242.7 657.9,2265.8 688.3,2268.3 718.8,2280.1 749.2,2279.9 779.6,2280.1 810,2277.3 856.4,2279.7"/>
<polyline points="110.2,2280.6 140.6,2280.6 171,2278.1 201.4,2273.9 231.9,2269.6 262.3,2268.6 292.7,2280.6 323.2,2270.1 353.6,2246.7 384,2254.2 414.5,2253.2 444.9,2264.9 475.3,2277.3 505.7,2280.6 536.2,2249.4 566.6,2274.7 597,2263.1 627.5,2271.3 657.9,2275.4 688.3,2280.1 718.8,2280.4 749.2,2280.6 779.6,2279.4 810,2280.1 856.4,2280.6"/>
<polyline points="110.2,2280.6 140.6,2278.1 171,2265.2 201.4,2215.6 231.9,2204.5 262.3,2206.6 292.7,2229.3 323.2,2152 353.6,2164.6 384,2146.9 414.5,2230.2 444.9,2225.4 475.3,2181.5 505.7,2186.1 536.2,2197.2 566.6,2224.8 597,2274.1 627.5,2254.5 657.9,2275.7 688.3,2273.4 718.8,2275.3 749.2,2275.4 779.6,2276 810,2277.9 856.4,2280.2"/>
<polyline points="110.2,2280.6 140.6,2280.4 171,2270.3 201.4,2232.7 231.9,2273.4 262.3,2251.3 292.7,2193.5 323.2,2263.1 353.6,2236.6 384,2239.6 414.5,2250.3 444.9,2204.5 475.3,2266.8 505.7,2278.7 536.2,2278.2 566.6,2273.5 597,2278.1 627.5,2260.7 657.9,2265.6 688.3,2263.7 718.8,2275.9 749.2,2278.3 779.6,2280.2 810,2280.3 856.4,2280.2"/>
<polyline points="110.2,2280.6 140.6,2280.2 171,2278.9 201.4,2274.6 231.9,2262 262.3,2254.7 292.7,2183.5 323.2,2168.4 353.6,2180.2 384,2244.5 414.5,2212.8 444.9,2195.2 475.3,2218.2 505.7,2251.3 536.2,2265.8 566.6,2262.3 597,2272.4 627.5,2274 657.9,2277.3 688.3,2279.6 718.8,2280.4 749.2,2280.3 779.6,2280.3 810,2279.9 856.4,2280.4"/>
<polyline points="110.2,2280.6 140.6,2279 171,2273.4 201.4,2247.8 231.9,2175.5 262.3,2221.5 292.7,2194.6 323.2,2213.2 353.6,2205.3 384,2150.9 414.5,2171.6 444.9,2237.3 475.3,2167.6 505.7,2207.9 536.2,2207 566.6,2265.5 597,2253.9 627.5,2253.7 657.9,2261.3 688.3,2271.7 718.8,2277.4 749.2,2274.1 779.6,2276.3 810,2278.2 856.4,2280.4"/>
<polyline points="110.2,2280.6 140.6,2280.6 171,2279 201.4,2275.7 231.9,2274.5 262.3,2247.8 292.7,2244.7 323.2,2200.8 353.6,2261.3 384,2213.6 414.5,2176.3 444.9,2205.1 475.3,2216.5 505.7,2249.6 536.2,2274.9 566.6,2267.4 597,2267.7 627.5,2267.2 657.9,2277.8 688.3,2278.6 718.8,2271.6 749.2,2279.5 779.6,2280 810,2280.6 856.4,2280.4"/>
<polyline points="110.2,2280.6 140.6,2279.3 171,2277.2 201.4,2264.4 231.9,2274.3 262.3,2276.3 292.7,2264.7 323.2,2241.6 353.6,2249.7 384,2217.9 414.5,2189.3 444.9,2215.5 475.3,2203.3 505.7,2203 536.2,2216.4 566.6,2260 597,2270 627.5,2279.1 657.9,2278.5 688.3,2278.6 718.8,2276.5 749.2,2276.1 779.6,2279.1 810,2280.5 856.4,2280.4"/>
<polyline points="110.2,2280.6 140.6,2280.6 171,2279.5 201.4,2207.6 231.9,2187.8 262.3,2169.1 292.7,2251.4 323.2,2273.5 353.6,2271.4 384,2242.3 414.5,2222.3 444.9,2259.4 475.3,2263.8 505.7,2272.5 536.2,2208.8 566.6,2254.6 597,2268.9 627.5,2279 657.9,2279.3 688.3,2279.8 718.8,2279.8 749.2,2279.6 779.6,2280.6 810,2278.4 856.4,2280.6"/>
<polyline points="110.2,2280.6 140.6,2278.8 171,2264.8 201.4,2235.7 231.9,2215.7 262.3,2274.2 292.7,2271.5 323.2,2255.5 353.6,2269.8 384,2239.1 414.5,2256.6 444.9,2256.6 475.3,2241.1 505.7,2177.4 536.2,2187.8 566.6,2218.3 597,2279 627.5,2278.5 657.9,2269.9 688.3,2276.4 718.8,2280.5 749.2,2279.5 779.6,2279.5 810,2280.3 856.4,2280.1"/>
<polyline points="110.2,2280.6 140.6,2280.5 171,2264.3 201.4,2237.2 231.9,2210.6 262.3,2207.2 292.7,2273 323.2,2157.7 353.6,2181.4 384,2233.7 414.5,2136.8 444.9,2250.3 475.3,2162.2 505.7,2181.8 536.2,2221.3 566.6,2223.8 597,2216.1 627.5,2241.4 657.9,2272.6 688.3,2272.9 718.8,2279.3 749.2,2276.1 779.6,2276.5 810,2276.9 856.4,2279.6"/>
<polyline points="110.2,2280.6 140.6,2280.3 171,2264.9 201.4,2243.5 231.9,2146.9 262.3,2163.7 292.7,2180.7 323.2,2203 353.6,2240.8 384,2138.7 414.5,2178.9 444.9,2228 475.3,2172.8 505.7,2167.4 536.2,2202.5 566.6,2222.4 597,2237.9 627.5,2257.5 657.9,2268.6 688.3,2277.8 718.8,2276.1 749.2,2275.4 779.6,2278.6 810,2279.8 856.4,2280.3"/>
<polyline points="110.2,2280.6 140.6,2280.2 171,2278.6 201.4,2273.4 231.9,2275 262.3,2223.6 292.7,2242 323.2,2203.6 353.6,2256.8 384,2184.2 414.5,2175.3 444.9,2262 475.3,2253.7 505.7,2209.3 536.2,2266.8 566.6,2250.8 597,2245.6 627.5,2255.3 657.9,2279.1 688.3,2276.5 718.8,2277.6 749.2,2278.7 779.6,2279.2 810,2277.7 856.4,2279.7"/>
<polyline points="110.2,2280.6 140.6,2278.8 171,2269.4 201.4,2273.3 231.9,2229.2 262.3,2200.6 292.7,2213.2 323.2,2230.2 353.6,2250.3 384,2203.2 414.5,2213.9 444.9,2239.4 475.3,2237.7 505.7,2193.8 536.2,2220.8 566.6,2247.2 597,2269.9 627.5,2273.2 657.9,2277.3 688.3,2279 718.8,2277.3 749.2,2279.8 779.6,2276.5 810,2277.6 856.4,2280.5"/>
</g>
<g clip-path="url(#clipf)" fill="none" stroke="#e41f28" stroke-width="2.1" stroke-linejoin="miter" stroke-miterlimit="4">
<polyline points="996.5,2280.5 1026.9,2278.9 1057.3,2277.6 1087.7,2279.3 1118.2,2275.6 1148.6,2269 1179,2270.8 1209.5,2268.9 1239.9,2270.2 1270.3,2252.1 1300.8,2253 1331.2,2251 1361.6,2260.4 1392,2266.5 1422.5,2262.4 1452.9,2239.9 1483.3,2237.6 1513.8,2212.8 1544.2,2230.3 1574.6,2243.9 1605.1,2245.5 1635.5,2249.8 1665.9,2242.4 1696.3,2272.1 1742.9,2279.9"/>
<polyline points="996.5,2280.5 1026.9,2280.2 1057.3,2279.9 1087.7,2278 1118.2,2274.3 1148.6,2275.2 1179,2260.7 1209.5,2267.7 1239.9,2272.6 1270.3,2264.9 1300.8,2258.1 1331.2,2260.6 1361.6,2262.3 1392,2258.5 1422.5,2258.2 1452.9,2181 1483.3,2211.9 1513.8,2232.4 1544.2,2227.1 1574.6,2237.1 1605.1,2237.1 1635.5,2255.5 1665.9,2229.8 1696.3,2270.4 1742.9,2279.5"/>
<polyline points="996.5,2280.5 1026.9,2280 1057.3,2279.1 1087.7,2277.4 1118.2,2277.8 1148.6,2276.9 1179,2271.5 1209.5,2267.1 1239.9,2265.4 1270.3,2264.7 1300.8,2264 1331.2,2268.4 1361.6,2265.9 1392,2252.5 1422.5,2257.1 1452.9,2232.7 1483.3,2221.3 1513.8,2252.8 1544.2,2255.5 1574.6,2247.6 1605.1,2235.5 1635.5,2228.1 1665.9,2261.2 1696.3,2276.1 1742.9,2278.8"/>
<polyline points="996.5,2280.5 1026.9,2280.5 1057.3,2277.8 1087.7,2276 1118.2,2267.7 1148.6,2268.6 1179,2270.1 1209.5,2271.3 1239.9,2267.5 1270.3,2257.5 1300.8,2252.3 1331.2,2264.4 1361.6,2253.8 1392,2257.8 1422.5,2241.1 1452.9,2234.8 1483.3,2223.5 1513.8,2231.9 1544.2,2247.6 1574.6,2238.7 1605.1,2236.6 1635.5,2224 1665.9,2247.1 1696.3,2276.6 1742.9,2276.1"/>
<polyline points="996.5,2280.5 1026.9,2279.7 1057.3,2274.5 1087.7,2274.7 1118.2,2269.9 1148.6,2274.6 1179,2274 1209.5,2264 1239.9,2264.6 1270.3,2248.3 1300.8,2258.6 1331.2,2256.8 1361.6,2244.2 1392,2242.7 1422.5,2246.8 1452.9,2236.8 1483.3,2222.2 1513.8,2239.7 1544.2,2251.3 1574.6,2250.7 1605.1,2246 1635.5,2221.2 1665.9,2254 1696.3,2266.9 1742.9,2273.7"/>
<polyline points="996.5,2280.5 1026.9,2280.5 1057.3,2276.4 1087.7,2275.7 1118.2,2274.8 1148.6,2272.2 1179,2274.2 1209.5,2261.2 1239.9,2252.5 1270.3,2257.3 1300.8,2253.8 1331.2,2245.4 1361.6,2253.3 1392,2261.4 1422.5,2265.9 1452.9,2259.5 1483.3,2239.7 1513.8,2244.5 1544.2,2234 1574.6,2207.9 1605.1,2234.5 1635.5,2252.4 1665.9,2270.2 1696.3,2267.5 1742.9,2278.7"/>
<polyline points="996.5,2280.5 1026.9,2280.4 1057.3,2279.7 1087.7,2272.3 1118.2,2271.1 1148.6,2277.3 1179,2268.2 1209.5,2262.5 1239.9,2253.5 1270.3,2247 1300.8,2264.4 1331.2,2257.9 1361.6,2247.8 1392,2246 1422.5,2243.4 1452.9,2212.9 1483.3,2246 1513.8,2237.1 1544.2,2249.7 1574.6,2225.3 1605.1,2266.1 1635.5,2255 1665.9,2230.9 1696.3,2273.7 1742.9,2278"/>
<polyline points="996.5,2280.5 1026.9,2279 1057.3,2278.4 1087.7,2279 1118.2,2275.3 1148.6,2269.5 1179,2267.9 1209.5,2259 1239.9,2257.7 1270.3,2266.6 1300.8,2260.7 1331.2,2260.2 1361.6,2259.1 1392,2258.3 1422.5,2244.1 1452.9,2272.7 1483.3,2259.6 1513.8,2228 1544.2,2246 1574.6,2236.1 1605.1,2203.7 1635.5,2215.7 1665.9,2238.7 1696.3,2268.4 1742.9,2279"/>
<polyline points="996.5,2280.5 1026.9,2280.5 1057.3,2279.4 1087.7,2277.8 1118.2,2279 1148.6,2280.5 1179,2280.5 1209.5,2274.7 1239.9,2268.8 1270.3,2261.1 1300.8,2268.1 1331.2,2262.7 1361.6,2267.6 1392,2265 1422.5,2241.4 1452.9,2232.2 1483.3,2229.8 1513.8,2219.5 1544.2,2205.4 1574.6,2224.4 1605.1,2242.3 1635.5,2231.3 1665.9,2248.7 1696.3,2271.6 1742.9,2278.8"/>
<polyline points="996.5,2280.5 1026.9,2279.8 1057.3,2274.6 1087.7,2269.9 1118.2,2270.7 1148.6,2263.1 1179,2268.1 1209.5,2269.1 1239.9,2264.1 1270.3,2265.1 1300.8,2259.6 1331.2,2260.4 1361.6,2254.2 1392,2240.8 1422.5,2252.2 1452.9,2255.2 1483.3,2223.1 1513.8,2214.2 1544.2,2220.4 1574.6,2259.6 1605.1,2244.4 1635.5,2217.1 1665.9,2257.2 1696.3,2275.1 1742.9,2276.7"/>
<polyline points="996.5,2280.5 1026.9,2280.5 1057.3,2277.1 1087.7,2270.6 1118.2,2265.2 1148.6,2251.3 1179,2255.3 1209.5,2264.2 1239.9,2252.7 1270.3,2249 1300.8,2246.3 1331.2,2247.3 1361.6,2239.4 1392,2245.8 1422.5,2241.8 1452.9,2213.8 1483.3,2193.1 1513.8,2209.7 1544.2,2209.7 1574.6,2201.2 1605.1,2206.6 1635.5,2216.2 1665.9,2218.8 1696.3,2269.8 1742.9,2276.3"/>
<polyline points="996.5,2280.5 1026.9,2279.7 1057.3,2278.8 1087.7,2269.7 1118.2,2266.8 1148.6,2274.4 1179,2246.5 1209.5,2268.1 1239.9,2262 1270.3,2263 1300.8,2247.9 1331.2,2250.6 1361.6,2244.5 1392,2244.9 1422.5,2245.8 1452.9,2218.4 1483.3,2228.4 1513.8,2246.6 1544.2,2256 1574.6,2249.7 1605.1,2219.2 1635.5,2241.9 1665.9,2252.4 1696.3,2271.9 1742.9,2277.9"/>
<polyline points="996.5,2280.5 1026.9,2279.2 1057.3,2279.8 1087.7,2268.7 1118.2,2265.9 1148.6,2261.1 1179,2267.6 1209.5,2265.8 1239.9,2252.4 1270.3,2252.9 1300.8,2267.8 1331.2,2267.6 1361.6,2266.2 1392,2255.8 1422.5,2233.6 1452.9,2247.6 1483.3,2252.8 1513.8,2235.5 1544.2,2240.3 1574.6,2222.6 1605.1,2219.6 1635.5,2226.8 1665.9,2260.8 1696.3,2274.8 1742.9,2279.7"/>
<polyline points="996.5,2280.5 1026.9,2279.9 1057.3,2273.6 1087.7,2273.1 1118.2,2273.9 1148.6,2271.4 1179,2277.5 1209.5,2265.2 1239.9,2253.6 1270.3,2249.6 1300.8,2259 1331.2,2258.5 1361.6,2242.3 1392,2244.6 1422.5,2236.4 1452.9,2238.4 1483.3,2226.6 1513.8,2226.6 1544.2,2206 1574.6,2241.8 1605.1,2245 1635.5,2229 1665.9,2248.2 1696.3,2272.8 1742.9,2279.9"/>
<polyline points="996.5,2280.5 1026.9,2280.3 1057.3,2275 1087.7,2272.9 1118.2,2278.1 1148.6,2265.3 1179,2260.3 1209.5,2263.8 1239.9,2267.7 1270.3,2268.2 1300.8,2268.3 1331.2,2231.1 1361.6,2256.4 1392,2254.5 1422.5,2251.9 1452.9,2211.1 1483.3,2242.9 1513.8,2234.5 1544.2,2223.1 1574.6,2215.9 1605.1,2258.1 1635.5,2260.8 1665.9,2250.3 1696.3,2274 1742.9,2278.4"/>
<polyline points="996.5,2280.5 1026.9,2280.5 1057.3,2279.9 1087.7,2280.5 1118.2,2278.9 1148.6,2276.6 1179,2273.2 1209.5,2267.3 1239.9,2259.3 1270.3,2270 1300.8,2252.9 1331.2,2252.1 1361.6,2261.6 1392,2266.2 1422.5,2249.7 1452.9,2250.1 1483.3,2254.9 1513.8,2248.1 1544.2,2237.6 1574.6,2246 1605.1,2243.4 1635.5,2235.9 1665.9,2239.3 1696.3,2276.4 1742.9,2278.2"/>
<polyline points="996.5,2280.5 1026.9,2279.9 1057.3,2274.1 1087.7,2276.4 1118.2,2268.2 1148.6,2271.9 1179,2275.9 1209.5,2255.5 1239.9,2252.2 1270.3,2258.4 1300.8,2266.7 1331.2,2263.3 1361.6,2265 1392,2258.7 1422.5,2260.8 1452.9,2249.1 1483.3,2216.4 1513.8,2243.4 1544.2,2246.6 1574.6,2245.5 1605.1,2256.5 1635.5,2266.2 1665.9,2239.8 1696.3,2269.9 1742.9,2276.4"/>
<polyline points="996.5,2280.5 1026.9,2280 1057.3,2276.9 1087.7,2269.3 1118.2,2273 1148.6,2268.4 1179,2259.4 1209.5,2265.4 1239.9,2255.8 1270.3,2249.8 1300.8,2247.6 1331.2,2245.9 1361.6,2241.1 1392,2244.3 1422.5,2242.8 1452.9,2220.7 1483.3,2199.3 1513.8,2194.8 1544.2,2208.8 1574.6,2190.1 1605.1,2220.6 1635.5,2222.6 1665.9,2261.6 1696.3,2275.8 1742.9,2279"/>
<polyline points="996.5,2280.5 1026.9,2278.9 1057.3,2275.4 1087.7,2278.5 1118.2,2277.7 1148.6,2264.6 1179,2267 1209.5,2266.5 1239.9,2270.8 1270.3,2261.3 1300.8,2263.2 1331.2,2265.4 1361.6,2257.7 1392,2252.6 1422.5,2251.6 1452.9,2215.7 1483.3,2225.3 1513.8,2252.3 1544.2,2231.3 1574.6,2217.3 1605.1,2227.6 1635.5,2254.5 1665.9,2269.4 1696.3,2277.3 1742.9,2279.8"/>
<polyline points="996.5,2280.5 1026.9,2279.6 1057.3,2274 1087.7,2268.5 1118.2,2266.7 1148.6,2277.4 1179,2275.7 1209.5,2273 1239.9,2268.5 1270.3,2268.9 1300.8,2273.2 1331.2,2263.1 1361.6,2253.1 1392,2257.6 1422.5,2260.3 1452.9,2215.2 1483.3,2247.1 1513.8,2236.6 1544.2,2245 1574.6,2257.8 1605.1,2241.3 1635.5,2209.2 1665.9,2224.3 1696.3,2268.1 1742.9,2274.7"/>
<polyline points="996.5,2280.5 1026.9,2280.2 1057.3,2279.3 1087.7,2279.7 1118.2,2277.4 1148.6,2267.7 1179,2275.2 1209.5,2273.8 1239.9,2269.4 1270.3,2254.5 1300.8,2257.9 1331.2,2251.2 1361.6,2272.1 1392,2249.2 1422.5,2254 1452.9,2216.6 1483.3,2231.3 1513.8,2212.4 1544.2,2263.5 1574.6,2256 1605.1,2220.1 1635.5,2218 1665.9,2222.9 1696.3,2267.9 1742.9,2276.2"/>
<polyline points="996.5,2280.5 1026.9,2278.3 1057.3,2278.3 1087.7,2268.9 1118.2,2271.4 1148.6,2267.5 1179,2266.4 1209.5,2253.9 1239.9,2258.1 1270.3,2258.2 1300.8,2265.5 1331.2,2267.3 1361.6,2261.4 1392,2261.6 1422.5,2249.1 1452.9,2216.1 1483.3,2232.4 1513.8,2242.9 1544.2,2197.7 1574.6,2217.7 1605.1,2227.2 1635.5,2231.8 1665.9,2263.9 1696.3,2267.6 1742.9,2274.9"/>
<polyline points="996.5,2280.5 1026.9,2280.3 1057.3,2280.3 1087.7,2279.3 1118.2,2273.2 1148.6,2273.6 1179,2268.7 1209.5,2264.8 1239.9,2263.9 1270.3,2253.2 1300.8,2250.7 1331.2,2262.5 1361.6,2261.2 1392,2256.5 1422.5,2250.6 1452.9,2221.6 1483.3,2256.9 1513.8,2258.2 1544.2,2220.9 1574.6,2235.5 1605.1,2261.7 1635.5,2270.3 1665.9,2270.6 1696.3,2274.3 1742.9,2279.5"/>
<polyline points="996.5,2280.5 1026.9,2279.4 1057.3,2276.2 1087.7,2278.2 1118.2,2272.7 1148.6,2271.5 1179,2276.1 1209.5,2258.6 1239.9,2263.1 1270.3,2265.5 1300.8,2252.5 1331.2,2257.3 1361.6,2251.6 1392,2252.1 1422.5,2235.3 1452.9,2249.6 1483.3,2220 1513.8,2228.4 1544.2,2232.4 1574.6,2218.2 1605.1,2217.7 1635.5,2258.2 1665.9,2275.1 1696.3,2276.8 1742.9,2279.7"/>
<polyline points="996.5,2280.5 1026.9,2279.5 1057.3,2275.5 1087.7,2275.7 1118.2,2273.8 1148.6,2264 1179,2258.3 1209.5,2269.9 1239.9,2257.3 1270.3,2252.3 1300.8,2247.1 1331.2,2253.8 1361.6,2259.8 1392,2263.9 1422.5,2245.1 1452.9,2207.6 1483.3,2215.1 1513.8,2228.9 1544.2,2204 1574.6,2234.5 1605.1,2216.3 1635.5,2219.9 1665.9,2264.3 1696.3,2268.9 1742.9,2279.3"/>
<polyline points="996.5,2280.5 1026.9,2279.6 1057.3,2273.8 1087.7,2271.9 1118.2,2268.6 1148.6,2259.3 1179,2269.6 1209.5,2251.6 1239.9,2247.7 1270.3,2236.1 1300.8,2256.5 1331.2,2255.4 1361.6,2246.5 1392,2257.2 1422.5,2247.4 1452.9,2229.9 1483.3,2207.3 1513.8,2211.5 1544.2,2241.8 1574.6,2256.9 1605.1,2261.3 1635.5,2244.5 1665.9,2265.9 1696.3,2272 1742.9,2274.6"/>
<polyline points="996.5,2280.5 1026.9,2279.5 1057.3,2276.9 1087.7,2279.3 1118.2,2278.2 1148.6,2264.2 1179,2258.5 1209.5,2250.7 1239.9,2264.3 1270.3,2267.8 1300.8,2250.1 1331.2,2254.9 1361.6,2264.2 1392,2255.2 1422.5,2274.6 1452.9,2260.4 1483.3,2257.8 1513.8,2221.3 1544.2,2209.3 1574.6,2248.7 1605.1,2233.4 1635.5,2242.4 1665.9,2265.1 1696.3,2275.5 1742.9,2280.1"/>
<polyline points="996.5,2280.5 1026.9,2278.7 1057.3,2275.8 1087.7,2278.8 1118.2,2273.5 1148.6,2273.4 1179,2264.7 1209.5,2270.1 1239.9,2272.4 1270.3,2264.5 1300.8,2249.9 1331.2,2247.5 1361.6,2263.3 1392,2251.1 1422.5,2264 1452.9,2248.6 1483.3,2240.8 1513.8,2230.3 1544.2,2225.3 1574.6,2229.8 1605.1,2224.8 1635.5,2264.4 1665.9,2274.8 1696.3,2276.9 1742.9,2280.3"/>
<polyline points="996.5,2280.5 1026.9,2280.2 1057.3,2274.9 1087.7,2277.1 1118.2,2271.3 1148.6,2277.5 1179,2273.4 1209.5,2268.3 1239.9,2261.8 1270.3,2253.6 1300.8,2271.7 1331.2,2259.4 1361.6,2267.9 1392,2260.5 1422.5,2262.1 1452.9,2256.8 1483.3,2248.7 1513.8,2225.3 1544.2,2216.8 1574.6,2222.2 1605.1,2243.9 1635.5,2266.5 1665.9,2253.4 1696.3,2271.8 1742.9,2279.6"/>
<polyline points="996.5,2280.5 1026.9,2280 1057.3,2279.9 1087.7,2272.2 1118.2,2276.9 1148.6,2275.6 1179,2267.2 1209.5,2264.6 1239.9,2263.5 1270.3,2254.9 1300.8,2244 1331.2,2246.5 1361.6,2246.7 1392,2264.3 1422.5,2261.6 1452.9,2229.4 1483.3,2259.1 1513.8,2250.2 1544.2,2247.1 1574.6,2224.9 1605.1,2228.1 1635.5,2238.7 1665.9,2257.6 1696.3,2278.5 1742.9,2276.5"/>
<polyline points="996.5,2280.5 1026.9,2278.9 1057.3,2273.9 1087.7,2269.2 1118.2,2269.4 1148.6,2265.7 1179,2265.6 1209.5,2255.7 1239.9,2254.7 1270.3,2249.9 1300.8,2240.2 1331.2,2238.7 1361.6,2245.2 1392,2249.7 1422.5,2257.4 1452.9,2211.5 1483.3,2179 1513.8,2213.7 1544.2,2211.9 1574.6,2198.8 1605.1,2207.6 1635.5,2225.4 1665.9,2243.5 1696.3,2268.2 1742.9,2275.7"/>
<polyline points="996.5,2280.5 1026.9,2279.7 1057.3,2275.1 1087.7,2268.2 1118.2,2274.1 1148.6,2271.7 1179,2266 1209.5,2272.6 1239.9,2268.3 1270.3,2259.4 1300.8,2264.8 1331.2,2262.1 1361.6,2262.1 1392,2253.3 1422.5,2252.9 1452.9,2208.6 1483.3,2256.4 1513.8,2226.2 1544.2,2215.1 1574.6,2219.1 1605.1,2214.4 1635.5,2256.6 1665.9,2231.9 1696.3,2277.4 1742.9,2277.8"/>
<polyline points="996.5,2280.5 1026.9,2280.2 1057.3,2278.5 1087.7,2278 1118.2,2271 1148.6,2261.8 1179,2254.2 1209.5,2256.6 1239.9,2259.2 1270.3,2269.3 1300.8,2260.4 1331.2,2255.2 1361.6,2248.9 1392,2249.9 1422.5,2248.5 1452.9,2234.3 1483.3,2255.5 1513.8,2249.7 1544.2,2219.5 1574.6,2233.4 1605.1,2214.9 1635.5,2253.4 1665.9,2267.1 1696.3,2270.3 1742.9,2277.2"/>
<polyline points="996.5,2280.5 1026.9,2280.4 1057.3,2273.3 1087.7,2273.3 1118.2,2268.5 1148.6,2246.7 1179,2263.6 1209.5,2256.1 1239.9,2266 1270.3,2257.7 1300.8,2265.9 1331.2,2261 1361.6,2258.7 1392,2246.3 1422.5,2252.4 1452.9,2242.5 1483.3,2243.9 1513.8,2210.6 1544.2,2210.2 1574.6,2211.5 1605.1,2221.5 1635.5,2219.4 1665.9,2269.8 1696.3,2277.6 1742.9,2278.5"/>
<polyline points="996.5,2280.5 1026.9,2280.5 1057.3,2278.3 1087.7,2276.5 1118.2,2268.9 1148.6,2265.5 1179,2259.8 1209.5,2265 1239.9,2255.7 1270.3,2266.4 1300.8,2261.9 1331.2,2252.8 1361.6,2256 1392,2251.4 1422.5,2250.8 1452.9,2237.9 1483.3,2258.2 1513.8,2245.5 1544.2,2226.2 1574.6,2230.3 1605.1,2231.9 1635.5,2249.2 1665.9,2256.8 1696.3,2270 1742.9,2277.6"/>
<polyline points="996.5,2280.5 1026.9,2280.1 1057.3,2273.2 1087.7,2270.3 1118.2,2266 1148.6,2275.3 1179,2272.3 1209.5,2276.6 1239.9,2253.3 1270.3,2251.8 1300.8,2250.3 1331.2,2253.9 1361.6,2263.9 1392,2248.5 1422.5,2245.5 1452.9,2247.1 1483.3,2220.9 1513.8,2223.1 1544.2,2231.9 1574.6,2234 1605.1,2190 1635.5,2210 1665.9,2214.2 1696.3,2264.9 1742.9,2277.5"/>
<polyline points="996.5,2280.5 1026.9,2280.4 1057.3,2276.1 1087.7,2272.1 1118.2,2267.5 1148.6,2262 1179,2264.9 1209.5,2270.3 1239.9,2271.3 1270.3,2276.6 1300.8,2261.3 1331.2,2259.6 1361.6,2262.7 1392,2246.7 1422.5,2256.9 1452.9,2254.2 1483.3,2250.7 1513.8,2256.9 1544.2,2208.4 1574.6,2236.6 1605.1,2254.9 1635.5,2218.9 1665.9,2249.8 1696.3,2274.6 1742.9,2274.8"/>
<polyline points="996.5,2280.5 1026.9,2278.2 1057.3,2276.1 1087.7,2268 1118.2,2266.3 1148.6,2269.7 1179,2259 1209.5,2261.9 1239.9,2276.7 1270.3,2251.6 1300.8,2261.5 1331.2,2243.2 1361.6,2250.4 1392,2267.4 1422.5,2264.4 1452.9,2203.7 1483.3,2217.3 1513.8,2229.8 1544.2,2223.5 1574.6,2211.9 1605.1,2225.3 1635.5,2227.7 1665.9,2233 1696.3,2275.7 1742.9,2278"/>
<polyline points="996.5,2280.5 1026.9,2279.2 1057.3,2272.8 1087.7,2269.1 1118.2,2274.2 1148.6,2270.7 1179,2274.9 1209.5,2260.8 1239.9,2265.8 1270.3,2245 1300.8,2254 1331.2,2255.8 1361.6,2255.3 1392,2249.1 1422.5,2250 1452.9,2251.2 1483.3,2238.7 1513.8,2248.7 1544.2,2242.9 1574.6,2211 1605.1,2232.4 1635.5,2237.3 1665.9,2258.8 1696.3,2266.8 1742.9,2274.2"/>
<polyline points="996.5,2280.5 1026.9,2278.8 1057.3,2273.5 1087.7,2271.5 1118.2,2267.2 1148.6,2262.6 1179,2261.2 1209.5,2266.3 1239.9,2266.9 1270.3,2255.3 1300.8,2264.6 1331.2,2267.1 1361.6,2264.4 1392,2261.2 1422.5,2250.4 1452.9,2241.9 1483.3,2237.1 1513.8,2238.7 1544.2,2239.7 1574.6,2212.4 1605.1,2211.6 1635.5,2245 1665.9,2260.4 1696.3,2275.3 1742.9,2280"/>
<polyline points="996.5,2280.5 1026.9,2278.6 1057.3,2276.6 1087.7,2268.6 1118.2,2274.5 1148.6,2267.9 1179,2278.6 1209.5,2274.5 1239.9,2265.2 1270.3,2266.8 1300.8,2257.5 1331.2,2255.1 1361.6,2249.1 1392,2250.4 1422.5,2261.1 1452.9,2223 1483.3,2233.4 1513.8,2259.6 1544.2,2258.2 1574.6,2261.3 1605.1,2222.5 1635.5,2215.2 1665.9,2232.5 1696.3,2276 1742.9,2277"/>
<polyline points="996.5,2280.5 1026.9,2280.1 1057.3,2278.6 1087.7,2278.7 1118.2,2265.8 1148.6,2267 1179,2274.4 1209.5,2262.3 1239.9,2262.9 1270.3,2263.6 1300.8,2255.1 1331.2,2254.1 1361.6,2247.6 1392,2252.3 1422.5,2269 1452.9,2245.5 1483.3,2245 1513.8,2236.1 1544.2,2251.8 1574.6,2221.3 1605.1,2255.4 1635.5,2268.6 1665.9,2279.2 1696.3,2272.6 1742.9,2279.9"/>
<polyline points="996.5,2280.5 1026.9,2280 1057.3,2279.7 1087.7,2279.4 1118.2,2272.6 1148.6,2267.2 1179,2268.9 1209.5,2260.7 1239.9,2257.5 1270.3,2250.9 1300.8,2253.6 1331.2,2258.3 1361.6,2263.1 1392,2264.1 1422.5,2265 1452.9,2220.2 1483.3,2221.7 1513.8,2196.3 1544.2,2249.2 1574.6,2252.8 1605.1,2217.3 1635.5,2256.1 1665.9,2274.7 1696.3,2279.8 1742.9,2280.5"/>
<polyline points="996.5,2280.5 1026.9,2278.5 1057.3,2275.7 1087.7,2269.6 1118.2,2266.9 1148.6,2260.3 1179,2256.3 1209.5,2253 1239.9,2237.6 1270.3,2243.6 1300.8,2245 1331.2,2249.2 1361.6,2248.7 1392,2257.4 1422.5,2243 1452.9,2239.4 1483.3,2212.4 1513.8,2250.7 1544.2,2226.6 1574.6,2228.9 1605.1,2249.2 1635.5,2239.8 1665.9,2260 1696.3,2277.1 1742.9,2277.2"/>
<polyline points="996.5,2280.5 1026.9,2280.5 1057.3,2279.2 1087.7,2275.6 1118.2,2278.4 1148.6,2269.4 1179,2262.2 1209.5,2262.9 1239.9,2267.3 1270.3,2267.6 1300.8,2255.6 1331.2,2249.9 1361.6,2266.5 1392,2256.3 1422.5,2267.5 1452.9,2260 1483.3,2252.3 1513.8,2211 1544.2,2227.5 1574.6,2224 1605.1,2198.1 1635.5,2257.6 1665.9,2269 1696.3,2277.7 1742.9,2276.7"/>
<polyline points="996.5,2280.5 1026.9,2280.2 1057.3,2278.1 1087.7,2274.9 1118.2,2268 1148.6,2253.7 1179,2269.3 1209.5,2257.5 1239.9,2263.7 1270.3,2251.2 1300.8,2252.7 1331.2,2259.8 1361.6,2254.8 1392,2257 1422.5,2243.7 1452.9,2209.7 1483.3,2241.3 1513.8,2234 1544.2,2228.4 1574.6,2253.9 1605.1,2252.3 1635.5,2229.5 1665.9,2226.3 1696.3,2275 1742.9,2275.2"/>
<polyline points="996.5,2280.5 1026.9,2278.6 1057.3,2277.7 1087.7,2269.8 1118.2,2266.1 1148.6,2279.2 1179,2271.8 1209.5,2260.1 1239.9,2257.1 1270.3,2251 1300.8,2247.3 1331.2,2253.2 1361.6,2261.8 1392,2250.9 1422.5,2255 1452.9,2248.1 1483.3,2244.5 1513.8,2216.4 1544.2,2248.7 1574.6,2253.4 1605.1,2218.2 1635.5,2246.1 1665.9,2221.2 1696.3,2276.7 1742.9,2275.3"/>
<polyline points="996.5,2280.5 1026.9,2279.4 1057.3,2276 1087.7,2276.6 1118.2,2279 1148.6,2277.2 1179,2270.5 1209.5,2277.8 1239.9,2279.2 1270.3,2263.4 1300.8,2269.3 1331.2,2266.3 1361.6,2262.5 1392,2262.1 1422.5,2255.8 1452.9,2243 1483.3,2238.2 1513.8,2251.8 1544.2,2250.7 1574.6,2251.8 1605.1,2249.7 1635.5,2238.2 1665.9,2245.6 1696.3,2269.5 1742.9,2278.2"/>
<polyline points="996.5,2280.5 1026.9,2278.4 1057.3,2275.3 1087.7,2272.8 1118.2,2272.9 1148.6,2271.8 1179,2275.1 1209.5,2262.1 1239.9,2255.3 1270.3,2255.6 1300.8,2254.9 1331.2,2250.8 1361.6,2251.1 1392,2236.3 1422.5,2247.2 1452.9,2217.5 1483.3,2234.5 1513.8,2190.5 1544.2,2224.9 1574.6,2197.6 1605.1,2205.7 1635.5,2230.4 1665.9,2234.6 1696.3,2267.1 1742.9,2274.5"/>
<polyline points="996.5,2280.5 1026.9,2280.2 1057.3,2280 1087.7,2274.2 1118.2,2273.3 1148.6,2263.9 1179,2259.9 1209.5,2254.8 1239.9,2261.6 1270.3,2255.8 1300.8,2268.6 1331.2,2258.7 1361.6,2257.9 1392,2255.4 1422.5,2242.6 1452.9,2258.2 1483.3,2245.5 1513.8,2247.6 1544.2,2212.4 1574.6,2206 1605.1,2232.9 1635.5,2240.8 1665.9,2231.4 1696.3,2271.3 1742.9,2278.1"/>
<polyline points="996.5,2280.5 1026.9,2280.3 1057.3,2280 1087.7,2277.2 1118.2,2278.5 1148.6,2275.5 1179,2264 1209.5,2268.7 1239.9,2275.2 1270.3,2272.6 1300.8,2267.4 1331.2,2268.1 1361.6,2259.3 1392,2246.8 1422.5,2255.3 1452.9,2254.7 1483.3,2266.4 1513.8,2257.8 1544.2,2271.4 1574.6,2263.5 1605.1,2253.9 1635.5,2261.3 1665.9,2244 1696.3,2276.3 1742.9,2280"/>
<polyline points="996.5,2280.5 1026.9,2278.4 1057.3,2279 1087.7,2271.6 1118.2,2266.5 1148.6,2263.3 1179,2257.7 1209.5,2252.5 1239.9,2266.4 1270.3,2259.9 1300.8,2263.8 1331.2,2261.2 1361.6,2264.8 1392,2264.5 1422.5,2254.3 1452.9,2252.7 1483.3,2209.3 1513.8,2200.9 1544.2,2253.9 1574.6,2239.7 1605.1,2239.2 1635.5,2276.6 1665.9,2275.3 1696.3,2278.2 1742.9,2279.1"/>
<polyline points="996.5,2280.5 1026.9,2280.5 1057.3,2280.2 1087.7,2278.1 1118.2,2266.2 1148.6,2276.8 1179,2274.7 1209.5,2272.8 1239.9,2263.3 1270.3,2267 1300.8,2256.2 1331.2,2246.8 1361.6,2259.5 1392,2254.1 1422.5,2271.1 1452.9,2244.5 1483.3,2258.7 1513.8,2261.3 1544.2,2224.4 1574.6,2231.9 1605.1,2238.7 1635.5,2265.1 1665.9,2274.2 1696.3,2274.2 1742.9,2278.7"/>
<polyline points="996.5,2280.5 1026.9,2279.4 1057.3,2277.4 1087.7,2271.8 1118.2,2275.5 1148.6,2270.6 1179,2267.7 1209.5,2256.8 1239.9,2253.1 1270.3,2244.3 1300.8,2254.3 1331.2,2265.9 1361.6,2254.4 1392,2245.5 1422.5,2238.2 1452.9,2221.2 1483.3,2202.3 1513.8,2257.3 1544.2,2225.8 1574.6,2220.4 1605.1,2211.1 1635.5,2234.1 1665.9,2244.5 1696.3,2274.4 1742.9,2275.4"/>
<polyline points="996.5,2280.5 1026.9,2279.3 1057.3,2273.6 1087.7,2279.5 1118.2,2268.8 1148.6,2262.2 1179,2268.6 1209.5,2272 1239.9,2254.6 1270.3,2252.5 1300.8,2259.2 1331.2,2264.6 1361.6,2257.2 1392,2263.2 1422.5,2266.3 1452.9,2262.6 1483.3,2228 1513.8,2224.4 1544.2,2252.8 1574.6,2244.5 1605.1,2240.2 1635.5,2204.6 1665.9,2228.3 1696.3,2267.8 1742.9,2279.7"/>
<polyline points="996.5,2280.5 1026.9,2280.5 1057.3,2280.5 1087.7,2274.4 1118.2,2275.1 1148.6,2273.1 1179,2273.7 1209.5,2269.3 1239.9,2262.5 1270.3,2260.3 1300.8,2262.1 1331.2,2257 1361.6,2258.3 1392,2265.6 1422.5,2263.4 1452.9,2228.5 1483.3,2219.1 1513.8,2246 1544.2,2217.3 1574.6,2210.6 1605.1,2239.7 1635.5,2233.2 1665.9,2276.6 1696.3,2273 1742.9,2276"/>
<polyline points="996.5,2280.5 1026.9,2278.6 1057.3,2280.1 1087.7,2279.8 1118.2,2270.3 1148.6,2272.3 1179,2271 1209.5,2271.5 1239.9,2270.4 1270.3,2261.7 1300.8,2261.7 1331.2,2266.8 1361.6,2263.5 1392,2255.6 1422.5,2248.1 1452.9,2264.8 1483.3,2249.2 1513.8,2255.5 1544.2,2214.6 1574.6,2237.6 1605.1,2259.9 1635.5,2239.3 1665.9,2251.3 1696.3,2273.4 1742.9,2279.4"/>
<polyline points="996.5,2280.5 1026.9,2280.4 1057.3,2278.7 1087.7,2275.4 1118.2,2279.9 1148.6,2272.6 1179,2262.7 1209.5,2271.1 1239.9,2259.7 1270.3,2254.2 1300.8,2251.8 1331.2,2240.6 1361.6,2258.1 1392,2248.2 1422.5,2250.2 1452.9,2240.4 1483.3,2229.3 1513.8,2245 1544.2,2214.2 1574.6,2214.2 1605.1,2226.7 1635.5,2259.2 1665.9,2275.8 1696.3,2279 1742.9,2276.1"/>
<polyline points="996.5,2280.5 1026.9,2279.5 1057.3,2272 1087.7,2266.6 1118.2,2270.6 1148.6,2257.3 1179,2263.3 1209.5,2273.2 1239.9,2266.7 1270.3,2269.8 1300.8,2268.8 1331.2,2267.9 1361.6,2257.4 1392,2247.2 1422.5,2243.2 1452.9,2245 1483.3,2235.5 1513.8,2258.7 1544.2,2266.4 1574.6,2266.4 1605.1,2256 1635.5,2232.3 1665.9,2235.6 1696.3,2275.9 1742.9,2275.9"/>
<polyline points="996.5,2280.5 1026.9,2278.2 1057.3,2277.2 1087.7,2275.1 1118.2,2266.4 1148.6,2277.1 1179,2273.9 1209.5,2261.6 1239.9,2246.3 1270.3,2239.4 1300.8,2262.3 1331.2,2265.2 1361.6,2257 1392,2250.1 1422.5,2244.9 1452.9,2235.3 1483.3,2215.5 1513.8,2199.4 1544.2,2212.8 1574.6,2216.8 1605.1,2209.7 1635.5,2207.2 1665.9,2224.8 1696.3,2266.2 1742.9,2278.3"/>
<polyline points="996.5,2280.5 1026.9,2280.5 1057.3,2277.5 1087.7,2279.1 1118.2,2276.6 1148.6,2257.8 1179,2256.9 1209.5,2255 1239.9,2271.5 1270.3,2258 1300.8,2266.9 1331.2,2261.4 1361.6,2248.5 1392,2244 1422.5,2242.4 1452.9,2218 1483.3,2210.2 1513.8,2197.9 1544.2,2229.3 1574.6,2223.1 1605.1,2212.5 1635.5,2212.2 1665.9,2275 1696.3,2272.2 1742.9,2276.8"/>
<polyline points="996.5,2280.5 1026.9,2279.1 1057.3,2277.9 1087.7,2268.1 1118.2,2265.7 1148.6,2263.5 1179,2257.6 1209.5,2263.6 1239.9,2250.7 1270.3,2256.2 1300.8,2248.6 1331.2,2244.3 1361.6,2244.9 1392,2258.1 1422.5,2259.2 1452.9,2212.4 1483.3,2204.3 1513.8,2240.8 1544.2,2234.5 1574.6,2208.4 1605.1,2235 1635.5,2194 1665.9,2225.8 1696.3,2266.5 1742.9,2274.6"/>
<polyline points="996.5,2280.5 1026.9,2279.9 1057.3,2273.9 1087.7,2274.3 1118.2,2272.4 1148.6,2272.8 1179,2269.8 1209.5,2272.2 1239.9,2256.2 1270.3,2262.2 1300.8,2265.1 1331.2,2250.1 1361.6,2254 1392,2254.7 1422.5,2239.4 1452.9,2231.7 1483.3,2246.6 1513.8,2227.1 1544.2,2254.9 1574.6,2271.4 1605.1,2230.5 1635.5,2258.7 1665.9,2250.8 1696.3,2277.8 1742.9,2279.6"/>
<polyline points="996.5,2280.5 1026.9,2279.2 1057.3,2272.8 1087.7,2270.9 1118.2,2266 1148.6,2259.8 1179,2263.1 1209.5,2266.9 1239.9,2257.9 1270.3,2260.5 1300.8,2260.2 1331.2,2250.3 1361.6,2258.5 1392,2243.7 1422.5,2223.3 1452.9,2223.9 1483.3,2214.2 1513.8,2225.8 1544.2,2188.1 1574.6,2208.8 1605.1,2200.8 1635.5,2243.5 1665.9,2262 1696.3,2272.3 1742.9,2278.6"/>
<polyline points="996.5,2280.5 1026.9,2280.5 1057.3,2278.8 1087.7,2276.2 1118.2,2270.2 1148.6,2268.1 1179,2266.9 1209.5,2258.1 1239.9,2260.8 1270.3,2263.8 1300.8,2267.2 1331.2,2256 1361.6,2261 1392,2260.7 1422.5,2260 1452.9,2219.8 1483.3,2206.3 1513.8,2205.5 1544.2,2233.4 1574.6,2218.6 1605.1,2231.4 1635.5,2246.6 1665.9,2233.5 1696.3,2272.5 1742.9,2278.3"/>
<polyline points="996.5,2280.5 1026.9,2278.7 1057.3,2273.7 1087.7,2270 1118.2,2273.4 1148.6,2263.7 1179,2275.6 1209.5,2274.2 1239.9,2270.6 1270.3,2262.8 1300.8,2251.9 1331.2,2247.7 1361.6,2260.2 1392,2259.4 1422.5,2263.7 1452.9,2229 1483.3,2210.6 1513.8,2241.3 1544.2,2230.8 1574.6,2239.2 1605.1,2257.5 1635.5,2265.8 1665.9,2226.8 1696.3,2277.2 1742.9,2277.1"/>
<polyline points="996.5,2280.5 1026.9,2280.4 1057.3,2280 1087.7,2274.6 1118.2,2276.8 1148.6,2277 1179,2270.3 1209.5,2257.7 1239.9,2269 1270.3,2268.7 1300.8,2266.3 1331.2,2269.4 1361.6,2275.3 1392,2271.9 1422.5,2261.9 1452.9,2225.3 1483.3,2254.4 1513.8,2213.3 1544.2,2213.3 1574.6,2209.7 1605.1,2194.7 1635.5,2227.2 1665.9,2245 1696.3,2275.6 1742.9,2276.3"/>
<polyline points="996.5,2280.5 1026.9,2279.1 1057.3,2275.2 1087.7,2273 1118.2,2271.6 1148.6,2261.6 1179,2258.1 1209.5,2271.9 1239.9,2271.9 1270.3,2258.6 1300.8,2248.3 1331.2,2249.7 1361.6,2243.9 1392,2250.3 1422.5,2254.5 1452.9,2219.3 1483.3,2216.8 1513.8,2221.7 1544.2,2210.6 1574.6,2173.2 1605.1,2204.7 1635.5,2216.7 1665.9,2263.5 1696.3,2268.8 1742.9,2277.3"/>
<polyline points="996.5,2280.5 1026.9,2278.6 1057.3,2278.9 1087.7,2269.5 1118.2,2265.8 1148.6,2270.2 1179,2252.6 1209.5,2255.1 1239.9,2242.2 1270.3,2250.1 1300.8,2258.3 1331.2,2243.8 1361.6,2248.2 1392,2262.3 1422.5,2249.5 1452.9,2227.6 1483.3,2220.4 1513.8,2235 1544.2,2218.6 1574.6,2210.2 1605.1,2208.6 1635.5,2226.3 1665.9,2271 1696.3,2270.7 1742.9,2275"/>
<polyline points="996.5,2280.5 1026.9,2279.7 1057.3,2275.8 1087.7,2276.8 1118.2,2271.8 1148.6,2265 1179,2260.9 1209.5,2255.3 1239.9,2251.7 1270.3,2256.7 1300.8,2251.2 1331.2,2260.8 1361.6,2236.3 1392,2245.7 1422.5,2235.9 1452.9,2222.5 1483.3,2218.6 1513.8,2222.2 1544.2,2228 1574.6,2213.3 1605.1,2181 1635.5,2212.9 1665.9,2262.7 1696.3,2274.7 1742.9,2274.3"/>
<polyline points="996.5,2280.5 1026.9,2280.3 1057.3,2279.5 1087.7,2273.2 1118.2,2275.9 1148.6,2266.4 1179,2268.4 1209.5,2255.9 1239.9,2256 1270.3,2229.8 1300.8,2248.8 1331.2,2251.9 1361.6,2260.8 1392,2247.4 1422.5,2242.2 1452.9,2238.9 1483.3,2263.5 1513.8,2254.9 1544.2,2235.5 1574.6,2212.8 1605.1,2242.9 1635.5,2235 1665.9,2272.2 1696.3,2273.3 1742.9,2275.9"/>
<polyline points="996.5,2280.5 1026.9,2280.4 1057.3,2278.2 1087.7,2277.9 1118.2,2264.2 1148.6,2265.1 1179,2266.7 1209.5,2268.5 1239.9,2261 1270.3,2260.9 1300.8,2250.5 1331.2,2247.9 1361.6,2249.6 1392,2252 1422.5,2237 1452.9,2210.6 1483.3,2211.5 1513.8,2177.7 1544.2,2222.6 1574.6,2223.5 1605.1,2223.4 1635.5,2224.9 1665.9,2228.8 1696.3,2267.4 1742.9,2278.5"/>
<polyline points="996.5,2280.5 1026.9,2278.7 1057.3,2279.1 1087.7,2271.7 1118.2,2278 1148.6,2266.6 1179,2260.5 1209.5,2266.7 1239.9,2273.3 1270.3,2259.6 1300.8,2265.7 1331.2,2249.4 1361.6,2250.9 1392,2251.8 1422.5,2244.3 1452.9,2202.8 1483.3,2251.8 1513.8,2229.3 1544.2,2259.6 1574.6,2219.5 1605.1,2259.5 1635.5,2260.3 1665.9,2254.5 1696.3,2276.2 1742.9,2279.6"/>
<polyline points="996.5,2280.5 1026.9,2279 1057.3,2274.7 1087.7,2275 1118.2,2271.9 1148.6,2270.9 1179,2258.8 1209.5,2269.5 1239.9,2262.2 1270.3,2253.4 1300.8,2256 1331.2,2253.6 1361.6,2252.9 1392,2253.5 1422.5,2257.7 1452.9,2194.7 1483.3,2188.3 1513.8,2215.9 1544.2,2202.7 1574.6,2207.2 1605.1,2210.2 1635.5,2236.4 1665.9,2246.1 1696.3,2269.4 1742.9,2275.6"/>
<polyline points="996.5,2280.5 1026.9,2279.9 1057.3,2277.3 1087.7,2275.9 1118.2,2269.7 1148.6,2261.5 1179,2269.1 1209.5,2256.4 1239.9,2258.2 1270.3,2257.1 1300.8,2256.9 1331.2,2242.1 1361.6,2246.3 1392,2247.5 1422.5,2256.4 1452.9,2253.7 1483.3,2224 1513.8,2223.5 1544.2,2238.2 1574.6,2242.4 1605.1,2224.3 1635.5,2211.5 1665.9,2227.3 1696.3,2267 1742.9,2274.8"/>
<polyline points="996.5,2280.5 1026.9,2280.3 1057.3,2279.2 1087.7,2269 1118.2,2274.9 1148.6,2273.2 1179,2265.3 1209.5,2263.4 1239.9,2254.4 1270.3,2250.7 1300.8,2267.6 1331.2,2254.7 1361.6,2255.1 1392,2262.8 1422.5,2247.9 1452.9,2231.3 1483.3,2236.1 1513.8,2208.4 1544.2,2229.8 1574.6,2248.1 1605.1,2251.3 1635.5,2251.3 1665.9,2256.1 1696.3,2275.4 1742.9,2276.8"/>
<polyline points="996.5,2280.5 1026.9,2280.2 1057.3,2279.8 1087.7,2279.5 1118.2,2276.5 1148.6,2276.5 1179,2265.8 1209.5,2269.7 1239.9,2271.7 1270.3,2252.7 1300.8,2251 1331.2,2249 1361.6,2256.8 1392,2261 1422.5,2238.8 1452.9,2225.8 1483.3,2225.8 1513.8,2249.2 1544.2,2250.2 1574.6,2220.9 1605.1,2250.2 1635.5,2263.4 1665.9,2267.5 1696.3,2269.1 1742.9,2278.4"/>
<polyline points="996.5,2280.5 1026.9,2279.1 1057.3,2279.3 1087.7,2279.1 1118.2,2275.8 1148.6,2271 1179,2276.7 1209.5,2270.9 1239.9,2260.6 1270.3,2256.9 1300.8,2252.1 1331.2,2262.9 1361.6,2255.6 1392,2239.2 1422.5,2246 1452.9,2226.7 1483.3,2228.9 1513.8,2256.4 1544.2,2257.8 1574.6,2226.6 1605.1,2229.5 1635.5,2230.9 1665.9,2266.7 1696.3,2273.5 1742.9,2279.4"/>
<polyline points="996.5,2280.5 1026.9,2280 1057.3,2278.5 1087.7,2271.2 1118.2,2277.3 1148.6,2271.3 1179,2257.2 1209.5,2257.2 1239.9,2260.4 1270.3,2264.1 1300.8,2253.2 1331.2,2259.1 1361.6,2270.3 1392,2267.1 1422.5,2264.7 1452.9,2257.7 1483.3,2247.6 1513.8,2210.2 1544.2,2245.5 1574.6,2242.9 1605.1,2238.1 1635.5,2245.6 1665.9,2265.5 1696.3,2268.5 1742.9,2273.9"/>
<polyline points="996.5,2280.5 1026.9,2279 1057.3,2276.5 1087.7,2276.8 1118.2,2272.3 1148.6,2276.1 1179,2272.5 1209.5,2267.9 1239.9,2264.8 1270.3,2256.6 1300.8,2269.5 1331.2,2266.6 1361.6,2266.8 1392,2264.8 1422.5,2244.5 1452.9,2200.8 1483.3,2230.8 1513.8,2222.6 1544.2,2259.1 1574.6,2247.1 1605.1,2213.5 1635.5,2235.5 1665.9,2258 1696.3,2270.5 1742.9,2278.1"/>
<polyline points="996.5,2280.5 1026.9,2280 1057.3,2276.7 1087.7,2273.7 1118.2,2274.6 1148.6,2262.4 1179,2254.7 1209.5,2249.4 1239.9,2258.8 1270.3,2269.1 1300.8,2255.2 1331.2,2236.1 1361.6,2252 1392,2260.1 1422.5,2248.7 1452.9,2198.1 1483.3,2208.4 1513.8,2220 1544.2,2206.7 1574.6,2184.3 1605.1,2214 1635.5,2223.1 1665.9,2262.4 1696.3,2269.7 1742.9,2272.7"/>
<polyline points="996.5,2280.5 1026.9,2277.9 1057.3,2275.6 1087.7,2275.8 1118.2,2277.2 1148.6,2273.8 1179,2270.6 1209.5,2279.8 1239.9,2267.1 1270.3,2262 1300.8,2257.1 1331.2,2272.4 1361.6,2252.2 1392,2247.9 1422.5,2243.9 1452.9,2237.3 1483.3,2253.9 1513.8,2243.9 1544.2,2217.7 1574.6,2257.3 1605.1,2250.7 1635.5,2236.8 1665.9,2227.8 1696.3,2273.9 1742.9,2279.9"/>
<polyline points="996.5,2280.5 1026.9,2279.8 1057.3,2273.3 1087.7,2267.5 1118.2,2265.4 1148.6,2258.8 1179,2262 1209.5,2254.6 1239.9,2256.4 1270.3,2254.7 1300.8,2248.5 1331.2,2264.2 1361.6,2252.4 1392,2253 1422.5,2237.6 1452.9,2223.5 1483.3,2211 1513.8,2202.5 1544.2,2213.7 1574.6,2238.2 1605.1,2230 1635.5,2217.6 1665.9,2235.1 1696.3,2273.6 1742.9,2277.8"/>
<polyline points="996.5,2280.5 1026.9,2280.3 1057.3,2279 1087.7,2279.2 1118.2,2278.7 1148.6,2278 1179,2272 1209.5,2270.5 1239.9,2274.1 1270.3,2262.4 1300.8,2263.6 1331.2,2252.7 1361.6,2249.4 1392,2263.4 1422.5,2265.3 1452.9,2244 1483.3,2213.3 1513.8,2266.4 1544.2,2258.7 1574.6,2227.5 1605.1,2260.4 1635.5,2263.9 1665.9,2271.4 1696.3,2274.1 1742.9,2279.2"/>
<polyline points="996.5,2280.5 1026.9,2280.5 1057.3,2278 1087.7,2275.5 1118.2,2269.5 1148.6,2275.9 1179,2266.2 1209.5,2263.2 1239.9,2253.8 1270.3,2267.4 1300.8,2254.1 1331.2,2253.4 1361.6,2250.2 1392,2262.5 1422.5,2257.9 1452.9,2257.3 1483.3,2215.9 1513.8,2207.9 1544.2,2200.1 1574.6,2209.3 1605.1,2231 1635.5,2262.4 1665.9,2237.7 1696.3,2270.9 1742.9,2273.3"/>
<polyline points="996.5,2280.5 1026.9,2279.2 1057.3,2274.8 1087.7,2273.9 1118.2,2267.6 1148.6,2271.1 1179,2261.6 1209.5,2266.1 1239.9,2249.7 1270.3,2259 1300.8,2246.5 1331.2,2275.3 1361.6,2265.7 1392,2251.3 1422.5,2258.4 1452.9,2250.6 1483.3,2217.7 1513.8,2232.9 1544.2,2243.4 1574.6,2255.5 1605.1,2263.9 1635.5,2225.8 1665.9,2272.6 1696.3,2269.2 1742.9,2275.1"/>
<polyline points="996.5,2280.5 1026.9,2279.4 1057.3,2275.9 1087.7,2278.4 1118.2,2269.8 1148.6,2275.7 1179,2271.6 1209.5,2267.5 1239.9,2270 1270.3,2269.6 1300.8,2265.3 1331.2,2263.5 1361.6,2248.3 1392,2249.6 1422.5,2245.3 1452.9,2214.7 1483.3,2209.7 1513.8,2215.1 1544.2,2256.9 1574.6,2256.4 1605.1,2241.8 1635.5,2259.7 1665.9,2241.4 1696.3,2273.2 1742.9,2279.1"/>
<polyline points="996.5,2280.5 1026.9,2279.9 1057.3,2275.4 1087.7,2272.6 1118.2,2269 1148.6,2266.8 1179,2272.2 1209.5,2257.9 1239.9,2252 1270.3,2256.4 1300.8,2259.4 1331.2,2256.2 1361.6,2256.2 1392,2248.7 1422.5,2240.7 1452.9,2190 1483.3,2207.9 1513.8,2219.1 1544.2,2256.4 1574.6,2230.8 1605.1,2262.2 1635.5,2267.2 1665.9,2259.6 1696.3,2270.8 1742.9,2280"/>
<polyline points="996.5,2280.5 1026.9,2280.1 1057.3,2278.1 1087.7,2272.5 1118.2,2272.8 1148.6,2266.1 1179,2271.1 1209.5,2263 1239.9,2269.2 1270.3,2256 1300.8,2260.9 1331.2,2248.8 1361.6,2264.6 1392,2259.2 1422.5,2258.7 1452.9,2217 1483.3,2208.8 1513.8,2163.4 1544.2,2207.9 1574.6,2204.8 1605.1,2246.5 1635.5,2272.6 1665.9,2229.3 1696.3,2266.7 1742.9,2274.1"/>
<polyline points="996.5,2280.5 1026.9,2280.1 1057.3,2273 1087.7,2277 1118.2,2278.8 1148.6,2265.9 1179,2272.8 1209.5,2274.4 1239.9,2269.8 1270.3,2264.3 1300.8,2270.5 1331.2,2270.7 1361.6,2258.9 1392,2250.6 1422.5,2244.7 1452.9,2210.1 1483.3,2227.5 1513.8,2242.4 1544.2,2207.4 1574.6,2225.8 1605.1,2225.8 1635.5,2241.4 1665.9,2268.3 1696.3,2272.7 1742.9,2277.6"/>
<polyline points="996.5,2280.5 1026.9,2279.8 1057.3,2277.2 1087.7,2268.4 1118.2,2268.4 1148.6,2256.8 1179,2255.8 1209.5,2258.3 1239.9,2248.7 1270.3,2254.3 1300.8,2257.7 1331.2,2257.5 1361.6,2246.9 1392,2241.9 1422.5,2261.3 1452.9,2253.2 1483.3,2226.2 1513.8,2208.8 1544.2,2224 1574.6,2259.1 1605.1,2274 1635.5,2261.8 1665.9,2263.1 1696.3,2270.1 1742.9,2279"/>
<polyline points="996.5,2280.5 1026.9,2278.8 1057.3,2277.4 1087.7,2278.3 1118.2,2270.9 1148.6,2262.9 1179,2269.4 1209.5,2262.7 1239.9,2259 1270.3,2247.7 1300.8,2242.7 1331.2,2242.7 1361.6,2249.3 1392,2247.7 1422.5,2242 1452.9,2267.7 1483.3,2213.7 1513.8,2263.5 1544.2,2252.3 1574.6,2216.4 1605.1,2251.8 1635.5,2266.9 1665.9,2273.8 1696.3,2267.3 1742.9,2279.4"/>
<polyline points="996.5,2280.5 1026.9,2279.3 1057.3,2274.7 1087.7,2274.1 1118.2,2274 1148.6,2274.2 1179,2257.9 1209.5,2257.3 1239.9,2250.2 1270.3,2253.1 1300.8,2263.4 1331.2,2252.3 1361.6,2251.8 1392,2265.3 1422.5,2251.1 1452.9,2209.2 1483.3,2200.3 1513.8,2217.3 1544.2,2228.9 1574.6,2228.4 1605.1,2213 1635.5,2251.9 1665.9,2274.5 1696.3,2274.3 1742.9,2276.5"/>
<polyline points="996.5,2280.5 1026.9,2279.6 1057.3,2272.9 1087.7,2270.5 1118.2,2275.4 1148.6,2266.2 1179,2264.2 1209.5,2261 1239.9,2258.6 1270.3,2270.2 1300.8,2262.8 1331.2,2263.8 1361.6,2250.5 1392,2266.8 1422.5,2256.6 1452.9,2226.2 1483.3,2242.4 1513.8,2217.7 1544.2,2241.3 1574.6,2241.3 1605.1,2257 1635.5,2264.7 1665.9,2256.5 1696.3,2271.1 1742.9,2277.7"/>
<polyline points="996.5,2280.5 1026.9,2280.4 1057.3,2273.1 1087.7,2265.5 1118.2,2264.9 1148.6,2264.4 1179,2261.1 1209.5,2258.8 1239.9,2251.2 1270.3,2257.8 1300.8,2246 1331.2,2250.5 1361.6,2243.2 1392,2256.7 1422.5,2262.6 1452.9,2224.8 1483.3,2250.2 1513.8,2251.3 1544.2,2236.6 1574.6,2243.4 1605.1,2223.9 1635.5,2210.7 1665.9,2255.3 1696.3,2268 1742.9,2275.3"/>
<polyline points="996.5,2280.5 1026.9,2278.4 1057.3,2276.3 1087.7,2279.4 1118.2,2278.7 1148.6,2269.2 1179,2258.7 1209.5,2254.3 1239.9,2260.1 1270.3,2254 1300.8,2251.4 1331.2,2265.6 1361.6,2255 1392,2252.8 1422.5,2252.7 1452.9,2204.7 1483.3,2196.6 1513.8,2253.9 1544.2,2232.9 1574.6,2213.7 1605.1,2221 1635.5,2232.7 1665.9,2247.7 1696.3,2273.1 1742.9,2276.6"/>
<polyline points="996.5,2280.5 1026.9,2279.6 1057.3,2274.3 1087.7,2271 1118.2,2269.2 1148.6,2273.5 1179,2269.9 1209.5,2272.4 1239.9,2254 1270.3,2251.4 1300.8,2251.6 1331.2,2244.8 1361.6,2243.5 1392,2260.3 1422.5,2263.2 1452.9,2256.3 1483.3,2212.8 1513.8,2220.9 1544.2,2238.7 1574.6,2226.2 1605.1,2248.6 1635.5,2242.9 1665.9,2266.3 1696.3,2276.6 1742.9,2278.9"/>
<polyline points="996.5,2280.5 1026.9,2280.5 1057.3,2276.8 1087.7,2267.8 1118.2,2270.1 1148.6,2258.3 1179,2264.4 1209.5,2247.9 1239.9,2244.6 1270.3,2250.3 1300.8,2256.4 1331.2,2257.7 1361.6,2253.5 1392,2261.9 1422.5,2240.3 1452.9,2240.9 1483.3,2205.3 1513.8,2204 1544.2,2203.3 1574.6,2215.1 1605.1,2253.4 1635.5,2265.5 1665.9,2237.2 1696.3,2276.5 1742.9,2278.6"/>
<polyline points="996.5,2280.5 1026.9,2278.8 1057.3,2278 1087.7,2278.6 1118.2,2279.5 1148.6,2273.9 1179,2265.1 1209.5,2271.7 1239.9,2261.4 1270.3,2260.7 1300.8,2262.5 1331.2,2251.6 1361.6,2245.6 1392,2253.7 1422.5,2259 1452.9,2258.6 1483.3,2235 1513.8,2218.6 1544.2,2253.4 1574.6,2240.8 1605.1,2215.4 1635.5,2247.7 1665.9,2277.5 1696.3,2277.5 1742.9,2278.1"/>
<polyline points="996.5,2280.5 1026.9,2280.2 1057.3,2278.2 1087.7,2272.4 1118.2,2267.1 1148.6,2272.7 1179,2266.5 1209.5,2274 1239.9,2272.2 1270.3,2270.7 1300.8,2266.1 1331.2,2256.4 1361.6,2269 1392,2268.5 1422.5,2265.6 1452.9,2218.9 1483.3,2241.8 1513.8,2254.4 1544.2,2235 1574.6,2235 1605.1,2252.8 1635.5,2247.1 1665.9,2259.2 1696.3,2271 1742.9,2278.8"/>
<polyline points="996.5,2280.5 1026.9,2280.5 1057.3,2277.9 1087.7,2273.5 1118.2,2269.3 1148.6,2276 1179,2274.5 1209.5,2259.6 1239.9,2262.7 1270.3,2259.2 1300.8,2250.8 1331.2,2261.9 1361.6,2250 1392,2263 1422.5,2256.1 1452.9,2213.4 1483.3,2243.4 1513.8,2224.9 1544.2,2221.7 1574.6,2214.6 1605.1,2216.8 1635.5,2230 1665.9,2251.9 1696.3,2268.7 1742.9,2277.4"/>
<polyline points="996.5,2280.5 1026.9,2280.5 1057.3,2277.8 1087.7,2278.9 1118.2,2270.5 1148.6,2264.8 1179,2241.5 1209.5,2251.2 1239.9,2261.2 1270.3,2265.9 1300.8,2256.7 1331.2,2254.5 1361.6,2251.5 1392,2246.2 1422.5,2240.5 1452.9,2255.8 1483.3,2251.3 1513.8,2256 1544.2,2242.4 1574.6,2202.4 1605.1,2229.1 1635.5,2214.4 1665.9,2238.2 1696.3,2265.7 1742.9,2274.4"/>
<polyline points="996.5,2280.5 1026.9,2279.9 1057.3,2273 1087.7,2270.2 1118.2,2277.1 1148.6,2274.3 1179,2263.4 1209.5,2253.4 1239.9,2255.1 1270.3,2262.6 1300.8,2249.7 1331.2,2249.5 1361.6,2252.6 1392,2250.8 1422.5,2247 1452.9,2201.8 1483.3,2201.3 1513.8,2185.2 1544.2,2221.3 1574.6,2246.6 1605.1,2226.2 1635.5,2233.6 1665.9,2264.7 1696.3,2269.3 1742.9,2280"/>
<polyline points="996.5,2280.5 1026.9,2280.5 1057.3,2279.6 1087.7,2279.4 1118.2,2276 1148.6,2270.4 1179,2275.4 1209.5,2257 1239.9,2256.9 1270.3,2265.7 1300.8,2275.9 1331.2,2258.9 1361.6,2267.3 1392,2253.8 1422.5,2246.6 1452.9,2230.8 1483.3,2214.6 1513.8,2239.2 1544.2,2244.5 1574.6,2240.3 1605.1,2258.6 1635.5,2237.8 1665.9,2225.3 1696.3,2274.5 1742.9,2275.5"/>
<polyline points="996.5,2280.5 1026.9,2280.3 1057.3,2274.4 1087.7,2273.8 1118.2,2272 1148.6,2275.1 1179,2271.3 1209.5,2261.8 1239.9,2268.1 1270.3,2268.5 1300.8,2255.8 1331.2,2247.2 1361.6,2247.4 1392,2248 1422.5,2260.5 1452.9,2230.3 1483.3,2232.9 1513.8,2211.9 1544.2,2202 1574.6,2232.9 1605.1,2259 1635.5,2244 1665.9,2268.6 1696.3,2277.9 1742.9,2278.3"/>
<polyline points="996.5,2280.5 1026.9,2277.2 1057.3,2271.4 1087.7,2276.1 1118.2,2275.2 1148.6,2272.1 1179,2259.2 1209.5,2259.4 1239.9,2252.9 1270.3,2255.1 1300.8,2259.8 1331.2,2248.1 1361.6,2252.7 1392,2243 1422.5,2228.7 1452.9,2228 1483.3,2249.7 1513.8,2233.4 1544.2,2243.9 1574.6,2203.6 1605.1,2237.6 1635.5,2248.2 1665.9,2241.9 1696.3,2273.2 1742.9,2278.6"/>
<polyline points="996.5,2280.5 1026.9,2277.7 1057.3,2272.4 1087.7,2268.3 1118.2,2265.6 1148.6,2262.8 1179,2262.9 1209.5,2259.9 1239.9,2265.6 1270.3,2263.2 1300.8,2260 1331.2,2254.3 1361.6,2263.7 1392,2259 1422.5,2259.5 1452.9,2205.7 1483.3,2240.3 1513.8,2238.2 1544.2,2211.5 1574.6,2231.3 1605.1,2247.1 1635.5,2220.3 1665.9,2255.7 1696.3,2274.9 1742.9,2278.4"/>
<polyline points="996.5,2280.5 1026.9,2280.3 1057.3,2278.6 1087.7,2280.1 1118.2,2280.5 1148.6,2269.9 1179,2263.8 1209.5,2265.9 1239.9,2254.2 1270.3,2266.1 1300.8,2266.5 1331.2,2256.6 1361.6,2265.2 1392,2263.6 1422.5,2253.2 1452.9,2233.8 1483.3,2253.4 1513.8,2218.2 1544.2,2216.4 1574.6,2258.7 1605.1,2260.8 1635.5,2254 1665.9,2271.8 1696.3,2277.4 1742.9,2276.9"/>
<polyline points="996.5,2280.5 1026.9,2278.9 1057.3,2277 1087.7,2274.5 1118.2,2268.1 1148.6,2274 1179,2249.2 1209.5,2260.5 1239.9,2254.9 1270.3,2246.3 1300.8,2249 1331.2,2255.6 1361.6,2256.6 1392,2265.9 1422.5,2251.4 1452.9,2206.6 1483.3,2227.1 1513.8,2240.3 1544.2,2236.1 1574.6,2227.1 1605.1,2233.9 1635.5,2220.8 1665.9,2240.8 1696.3,2267.7 1742.9,2275.1"/>
<polyline points="996.5,2280.5 1026.9,2279.1 1057.3,2279.9 1087.7,2270.4 1118.2,2278.6 1148.6,2273 1179,2260.1 1209.5,2252.1 1239.9,2248.2 1270.3,2255.4 1300.8,2257.3 1331.2,2260 1361.6,2255.8 1392,2256.1 1422.5,2240.9 1452.9,2246 1483.3,2271.4 1513.8,2220.4 1544.2,2194.4 1574.6,2232.4 1605.1,2222 1635.5,2257.1 1665.9,2242.9 1696.3,2275.4 1742.9,2280.2"/>
<polyline points="996.5,2280.5 1026.9,2279.8 1057.3,2277.7 1087.7,2271.3 1118.2,2277.9 1148.6,2268.3 1179,2253.1 1209.5,2241.5 1239.9,2259.9 1270.3,2245.6 1300.8,2249.2 1331.2,2248.4 1361.6,2260.6 1392,2259.6 1422.5,2253.7 1452.9,2214.3 1483.3,2219.5 1513.8,2230.8 1544.2,2261.3 1574.6,2252.3 1605.1,2248.1 1635.5,2262.9 1665.9,2274.4 1696.3,2271.5 1742.9,2279.3"/>
<polyline points="996.5,2280.5 1026.9,2280.5 1057.3,2272.6 1087.7,2271.1 1118.2,2276.2 1148.6,2270.1 1179,2259.6 1209.5,2259.2 1239.9,2265 1270.3,2250.5 1300.8,2258.8 1331.2,2251.7 1361.6,2260 1392,2247 1422.5,2259.8 1452.9,2224.4 1483.3,2203.3 1513.8,2227.5 1544.2,2220 1574.6,2228 1605.1,2210.7 1635.5,2228.6 1665.9,2254.9 1696.3,2268.6 1742.9,2275.7"/>
<polyline points="996.5,2280.5 1026.9,2278 1057.3,2278.9 1087.7,2274.8 1118.2,2267.8 1148.6,2267.3 1179,2267.4 1209.5,2261.4 1239.9,2271.1 1270.3,2268 1300.8,2255.4 1331.2,2261.7 1361.6,2250.7 1392,2246.5 1422.5,2255.6 1452.9,2227.1 1483.3,2236.6 1513.8,2237.6 1544.2,2222.2 1574.6,2245 1605.1,2240.8 1635.5,2250.3 1665.9,2273 1696.3,2277.7 1742.9,2274.1"/>
<polyline points="996.5,2280.5 1026.9,2280 1057.3,2279.9 1087.7,2277.7 1118.2,2276.4 1148.6,2255.4 1179,2251 1209.5,2260.3 1239.9,2255.5 1270.3,2249.4 1300.8,2245.7 1331.2,2251.4 1361.6,2253.7 1392,2243.4 1422.5,2246.2 1452.9,2243.5 1483.3,2234 1513.8,2209.3 1544.2,2219.1 1574.6,2254.9 1605.1,2222.9 1635.5,2222.2 1665.9,2234 1696.3,2272.9 1742.9,2275.5"/>
<polyline points="996.5,2280.5 1026.9,2279.9 1057.3,2275 1087.7,2267.1 1118.2,2272.2 1148.6,2274.8 1179,2273 1209.5,2275.6 1239.9,2272.8 1270.3,2271.5 1300.8,2253.4 1331.2,2262.3 1361.6,2246.1 1392,2245.3 1422.5,2231.6 1452.9,2236.3 1483.3,2231.9 1513.8,2231.3 1544.2,2215.5 1574.6,2194.3 1605.1,2202.8 1635.5,2221.7 1665.9,2267.9 1696.3,2269 1742.9,2277.4"/>
<polyline points="996.5,2280.5 1026.9,2279.5 1057.3,2277.6 1087.7,2277.6 1118.2,2278.9 1148.6,2274.7 1179,2265.5 1209.5,2273.6 1239.9,2259.5 1270.3,2252 1300.8,2264.2 1331.2,2266.1 1361.6,2267.1 1392,2254.9 1422.5,2262.9 1452.9,2260.9 1483.3,2261.3 1513.8,2259.1 1544.2,2257.3 1574.6,2251.3 1605.1,2218.7 1635.5,2223.5 1665.9,2273.4 1696.3,2273.8 1742.9,2277.9"/>
<polyline points="996.5,2280.5 1026.9,2280 1057.3,2280 1087.7,2276.9 1118.2,2278.6 1148.6,2274.9 1179,2262.5 1209.5,2264.4 1239.9,2260.3 1270.3,2253.8 1300.8,2254.5 1331.2,2247 1361.6,2247.2 1392,2248.9 1422.5,2246.4 1452.9,2241.4 1483.3,2224.9 1513.8,2253.4 1544.2,2240.8 1574.6,2249.2 1605.1,2269 1635.5,2240.3 1665.9,2236.1 1696.3,2271.2 1742.9,2277"/>
<polyline points="996.5,2280.5 1026.9,2278.3 1057.3,2276.5 1087.7,2277.5 1118.2,2277.5 1148.6,2272.5 1179,2273.5 1209.5,2265.6 1239.9,2256.8 1270.3,2265.3 1300.8,2263 1331.2,2265 1361.6,2247.1 1392,2251.6 1422.5,2239.9 1452.9,2222.1 1483.3,2248.1 1513.8,2214.6 1544.2,2204.7 1574.6,2215.5 1605.1,2201.8 1635.5,2252.9 1665.9,2258.4 1696.3,2277 1742.9,2279.2"/>
<polyline points="996.5,2280.5 1026.9,2279 1057.3,2274.3 1087.7,2273.6 1118.2,2274.7 1148.6,2278.5 1179,2272.7 1209.5,2270.7 1239.9,2269.6 1270.3,2274.1 1300.8,2261.1 1331.2,2258.1 1361.6,2254.6 1392,2254.3 1422.5,2253.5 1452.9,2212 1483.3,2230.3 1513.8,2207 1544.2,2215.9 1574.6,2200 1605.1,2247.6 1635.5,2218.5 1665.9,2230.4 1696.3,2272.4 1742.9,2275.8"/>
<polyline points="996.5,2280.5 1026.9,2279.3 1057.3,2279.5 1087.7,2270.8 1118.2,2271.5 1148.6,2261.3 1179,2261.4 1209.5,2273.4 1239.9,2266.2 1270.3,2261.5 1300.8,2254.7 1331.2,2248.6 1361.6,2245.9 1392,2249.4 1422.5,2241.6 1452.9,2252.2 1483.3,2224.4 1513.8,2216.8 1544.2,2237.1 1574.6,2254.4 1605.1,2209.2 1635.5,2234.6 1665.9,2249.2 1696.3,2270.2 1742.9,2279.9"/>
<polyline points="996.5,2280.5 1026.9,2280.1 1057.3,2274.2 1087.7,2275.3 1118.2,2273.6 1148.6,2270.5 1179,2261.8 1209.5,2256.2 1239.9,2256.6 1270.3,2267.2 1300.8,2249.4 1331.2,2252.5 1361.6,2251.3 1392,2259.9 1422.5,2248.9 1452.9,2251.7 1483.3,2239.2 1513.8,2215.5 1544.2,2211 1574.6,2229.3 1605.1,2228.6 1635.5,2250.8 1665.9,2246.6 1696.3,2267.2 1742.9,2274.3"/>
<polyline points="996.5,2280.5 1026.9,2278.5 1057.3,2278.7 1087.7,2277.3 1118.2,2279.2 1148.6,2276.4 1179,2257.4 1209.5,2245.7 1239.9,2249.2 1270.3,2241.7 1300.8,2246.8 1331.2,2248.3 1361.6,2249.8 1392,2248.4 1422.5,2249.3 1452.9,2233.3 1483.3,2222.6 1513.8,2271.4 1544.2,2239.2 1574.6,2221.7 1605.1,2215.8 1635.5,2224.5 1665.9,2236.7 1696.3,2268.3 1742.9,2274.9"/>
<polyline points="996.5,2280.5 1026.9,2278.7 1057.3,2273.4 1087.7,2275.2 1118.2,2276.1 1148.6,2260.8 1179,2262.3 1209.5,2274.9 1239.9,2273.1 1270.3,2270.5 1300.8,2249.6 1331.2,2264.8 1361.6,2248 1392,2253.2 1422.5,2248.3 1452.9,2259.1 1483.3,2256 1513.8,2247.1 1544.2,2248.1 1574.6,2250.2 1605.1,2254.4 1635.5,2248.7 1665.9,2274.1 1696.3,2275.2 1742.9,2278.9"/>
<polyline points="996.5,2280.5 1026.9,2280.1 1057.3,2277.5 1087.7,2276.3 1118.2,2267.3 1148.6,2268.8 1179,2253.6 1209.5,2259.7 1239.9,2258.4 1270.3,2260.1 1300.8,2248.1 1331.2,2253 1361.6,2262.9 1392,2270 1422.5,2247.6 1452.9,2235.8 1483.3,2218.2 1513.8,2224 1544.2,2218.2 1574.6,2220 1605.1,2212.1 1635.5,2213.7 1665.9,2240.3 1696.3,2271.4 1742.9,2279.2"/>
<polyline points="996.5,2280.5 1026.9,2280.1 1057.3,2279.6 1087.7,2276.7 1118.2,2276.7 1148.6,2276.3 1179,2264.5 1209.5,2258.4 1239.9,2267.9 1270.3,2258.8 1300.8,2269.1 1331.2,2264 1361.6,2265.4 1392,2275.3 1422.5,2254.8 1452.9,2246.6 1483.3,2257.3 1513.8,2241.8 1544.2,2254.4 1574.6,2258.2 1605.1,2236 1635.5,2200.9 1665.9,2252.9 1696.3,2270.6 1742.9,2279.8"/>
</g>
<g stroke="#fff" stroke-width="2.2" stroke-linecap="round" fill="none" opacity="0.9">
<line x1="261" y1="566" x2="261" y2="630.2" stroke-dasharray="0.1 5.4" stroke-dashoffset="4.0"/>
<line x1="291.4" y1="569.5" x2="291.4" y2="635.1" stroke-dasharray="0.1 6.8" stroke-dashoffset="0.2"/>
<line x1="321.9" y1="578.3" x2="321.9" y2="638.5" stroke-dasharray="0.1 5.4" stroke-dashoffset="7.4"/>
<line x1="352.3" y1="584.1" x2="352.3" y2="640.4" stroke-dasharray="0.1 5.2" stroke-dashoffset="1.0"/>
<line x1="382.7" y1="592.8" x2="382.7" y2="644" stroke-dasharray="0.1 7.8" stroke-dashoffset="5.0"/>
<line x1="413.2" y1="595.6" x2="413.2" y2="644.3" stroke-dasharray="0.1 6.1" stroke-dashoffset="4.1"/>
<line x1="443.6" y1="598.6" x2="443.6" y2="646" stroke-dasharray="0.1 7.0" stroke-dashoffset="2.2"/>
<line x1="474" y1="604.4" x2="474" y2="647.8" stroke-dasharray="0.1 5.4" stroke-dashoffset="6.3"/>
<line x1="504.4" y1="607.2" x2="504.4" y2="647.9" stroke-dasharray="0.1 7.0" stroke-dashoffset="4.1"/>
<line x1="534.9" y1="616.8" x2="534.9" y2="648.4" stroke-dasharray="0.1 7.5" stroke-dashoffset="4.4"/>
<line x1="565.3" y1="616.8" x2="565.3" y2="648.4" stroke-dasharray="0.1 7.9" stroke-dashoffset="1.6"/>
<line x1="595.7" y1="616.8" x2="595.7" y2="648.4" stroke-dasharray="0.1 6.7" stroke-dashoffset="3.9"/>
<line x1="626.2" y1="614.1" x2="626.2" y2="648.2" stroke-dasharray="0.1 6.1" stroke-dashoffset="4.7"/>
<line x1="656.6" y1="614.1" x2="656.6" y2="648.2" stroke-dasharray="0.1 5.7" stroke-dashoffset="6.4"/>
<line x1="687" y1="615.5" x2="687" y2="648.2" stroke-dasharray="0.1 7.6" stroke-dashoffset="1.0"/>
<line x1="717.5" y1="616.8" x2="717.5" y2="648.2" stroke-dasharray="0.1 6.4" stroke-dashoffset="2.2"/>
<line x1="747.9" y1="608.5" x2="747.9" y2="647.9" stroke-dasharray="0.1 5.2" stroke-dashoffset="7.2"/>
<line x1="778.3" y1="603.3" x2="778.3" y2="649.4" stroke-dasharray="0.1 6.3" stroke-dashoffset="1.2"/>
<line x1="808.7" y1="608.8" x2="808.7" y2="649.4" stroke-dasharray="0.1 7.0" stroke-dashoffset="1.6"/>
<line x1="1088.2" y1="555.8" x2="1088.2" y2="626.1" stroke-dasharray="0.1 7.7" stroke-dashoffset="1.7"/>
<line x1="1118.7" y1="569" x2="1118.7" y2="631.6" stroke-dasharray="0.1 5.1" stroke-dashoffset="1.6"/>
<line x1="1149.1" y1="576.4" x2="1149.1" y2="635.2" stroke-dasharray="0.1 6.0" stroke-dashoffset="3.8"/>
<line x1="1179.5" y1="582.2" x2="1179.5" y2="637" stroke-dasharray="0.1 7.7" stroke-dashoffset="5.6"/>
<line x1="1210" y1="586.6" x2="1210" y2="638.8" stroke-dasharray="0.1 6.0" stroke-dashoffset="0.1"/>
<line x1="1240.4" y1="589.6" x2="1240.4" y2="640.4" stroke-dasharray="0.1 5.5" stroke-dashoffset="8.0"/>
<line x1="1270.8" y1="589.6" x2="1270.8" y2="640.4" stroke-dasharray="0.1 6.4" stroke-dashoffset="5.5"/>
<line x1="1301.2" y1="591" x2="1301.2" y2="640.6" stroke-dasharray="0.1 5.2" stroke-dashoffset="0.3"/>
<line x1="1331.7" y1="591" x2="1331.7" y2="640.6" stroke-dasharray="0.1 7.5" stroke-dashoffset="4.7"/>
<line x1="1362.1" y1="591" x2="1362.1" y2="640.6" stroke-dasharray="0.1 5.9" stroke-dashoffset="2.5"/>
<line x1="1392.5" y1="591" x2="1392.5" y2="640.6" stroke-dasharray="0.1 5.3" stroke-dashoffset="1.4"/>
<line x1="1423" y1="591" x2="1423" y2="640.6" stroke-dasharray="0.1 5.1" stroke-dashoffset="6.7"/>
<line x1="1453.4" y1="591" x2="1453.4" y2="640.6" stroke-dasharray="0.1 6.4" stroke-dashoffset="1.0"/>
<line x1="1483.8" y1="591" x2="1483.8" y2="640.6" stroke-dasharray="0.1 7.2" stroke-dashoffset="1.6"/>
<line x1="1514.3" y1="589.6" x2="1514.3" y2="640.4" stroke-dasharray="0.1 5.2" stroke-dashoffset="4.8"/>
<line x1="1544.7" y1="588.2" x2="1544.7" y2="640.3" stroke-dasharray="0.1 7.7" stroke-dashoffset="0.2"/>
<line x1="1575.1" y1="585.2" x2="1575.1" y2="638.6" stroke-dasharray="0.1 7.4" stroke-dashoffset="1.5"/>
<line x1="1605.6" y1="579.4" x2="1605.6" y2="636.9" stroke-dasharray="0.1 5.3" stroke-dashoffset="0.1"/>
<line x1="1636" y1="567.9" x2="1636" y2="633.1" stroke-dasharray="0.1 5.9" stroke-dashoffset="5.8"/>
<line x1="1666.4" y1="540.1" x2="1666.4" y2="622.4" stroke-dasharray="0.1 6.5" stroke-dashoffset="6.8"/>
<line x1="1696.8" y1="492.9" x2="1696.8" y2="600.7" stroke-dasharray="0.1 5.7" stroke-dashoffset="2.5"/>
<line x1="108.9" y1="1386.4" x2="108.9" y2="1460.5" stroke-dasharray="0.1 5.8" stroke-dashoffset="7.8"/>
<line x1="139.3" y1="1385.9" x2="139.3" y2="1457.4" stroke-dasharray="0.1 7.8" stroke-dashoffset="2.7"/>
<line x1="169.7" y1="1385.4" x2="169.7" y2="1454.3" stroke-dasharray="0.1 6.3" stroke-dashoffset="2.5"/>
<line x1="200.1" y1="1383.5" x2="200.1" y2="1451.2" stroke-dasharray="0.1 7.2" stroke-dashoffset="0.3"/>
<line x1="230.6" y1="1381.4" x2="230.6" y2="1446.5" stroke-dasharray="0.1 5.2" stroke-dashoffset="3.2"/>
<line x1="261" y1="1379.3" x2="261" y2="1441.9" stroke-dasharray="0.1 5.7" stroke-dashoffset="6.8"/>
<line x1="291.4" y1="1377.7" x2="291.4" y2="1440.3" stroke-dasharray="0.1 7.2" stroke-dashoffset="4.4"/>
<line x1="321.9" y1="1376" x2="321.9" y2="1438.7" stroke-dasharray="0.1 7.0" stroke-dashoffset="5.5"/>
<line x1="352.3" y1="1375.8" x2="352.3" y2="1437.1" stroke-dasharray="0.1 7.3" stroke-dashoffset="7.4"/>
<line x1="382.7" y1="1373.9" x2="382.7" y2="1434" stroke-dasharray="0.1 5.4" stroke-dashoffset="5.0"/>
<line x1="413.2" y1="1372.3" x2="413.2" y2="1432.3" stroke-dasharray="0.1 5.4" stroke-dashoffset="3.5"/>
<line x1="443.6" y1="1370.7" x2="443.6" y2="1430.7" stroke-dasharray="0.1 7.4" stroke-dashoffset="7.2"/>
<line x1="474" y1="1369.3" x2="474" y2="1430.6" stroke-dasharray="0.1 7.3" stroke-dashoffset="0.3"/>
<line x1="504.4" y1="1367.9" x2="504.4" y2="1430.4" stroke-dasharray="0.1 6.1" stroke-dashoffset="1.3"/>
<line x1="534.9" y1="1366.5" x2="534.9" y2="1430.2" stroke-dasharray="0.1 8.0" stroke-dashoffset="1.2"/>
<line x1="565.3" y1="1365.1" x2="565.3" y2="1430.1" stroke-dasharray="0.1 5.7" stroke-dashoffset="2.9"/>
<line x1="595.7" y1="1364" x2="595.7" y2="1431.5" stroke-dasharray="0.1 5.2" stroke-dashoffset="7.0"/>
<line x1="626.2" y1="1364.2" x2="626.2" y2="1433" stroke-dasharray="0.1 6.9" stroke-dashoffset="1.3"/>
<line x1="656.6" y1="1364.5" x2="656.6" y2="1434.5" stroke-dasharray="0.1 6.5" stroke-dashoffset="0.6"/>
<line x1="687" y1="1366.1" x2="687" y2="1435.9" stroke-dasharray="0.1 6.8" stroke-dashoffset="1.9"/>
<line x1="717.5" y1="1366.6" x2="717.5" y2="1439" stroke-dasharray="0.1 5.1" stroke-dashoffset="0.9"/>
<line x1="747.9" y1="1368.7" x2="747.9" y2="1443.6" stroke-dasharray="0.1 6.7" stroke-dashoffset="5.1"/>
<line x1="778.3" y1="1370.8" x2="778.3" y2="1448.1" stroke-dasharray="0.1 6.0" stroke-dashoffset="5.1"/>
<line x1="808.7" y1="1371.3" x2="808.7" y2="1451.2" stroke-dasharray="0.1 6.1" stroke-dashoffset="1.0"/>
</g>
<ellipse cx="115.5" cy="244.4" rx="26.8" ry="184.2" fill="none" stroke="#0a0af5" stroke-width="2.3"/>
<ellipse cx="1026.1" cy="402" rx="48.3" ry="108.6" fill="none" stroke="#0a0af5" stroke-width="2.3"/>
<ellipse cx="1727.8" cy="375.8" rx="17.1" ry="175.8" fill="none" stroke="#0a0af5" stroke-width="2.3"/>
<ellipse cx="1014" cy="1093.3" rx="41.4" ry="262" fill="none" stroke="#0a0af5" stroke-width="2.3"/>
<ellipse cx="373.4" cy="2126.6" rx="170" ry="67.4" fill="none" stroke="#0a0af5" stroke-width="2.3"/>
<ellipse cx="1545.8" cy="2194.9" rx="124.4" ry="38.1" fill="none" stroke="#0a0af5" stroke-width="2.3"/>
<rect x="78.4" y="8.9" width="776.4" height="650.9" fill="none" stroke="#231f20" stroke-width="2.6"/>
<line x1="61.9" y1="659.8" x2="78.4" y2="659.8" stroke="#231f20" stroke-width="1.8"/>
<line x1="69.4" y1="578.4" x2="78.4" y2="578.4" stroke="#231f20" stroke-width="1.8"/>
<line x1="61.9" y1="497.1" x2="78.4" y2="497.1" stroke="#231f20" stroke-width="1.8"/>
<line x1="69.4" y1="415.7" x2="78.4" y2="415.7" stroke="#231f20" stroke-width="1.8"/>
<line x1="61.9" y1="334.3" x2="78.4" y2="334.3" stroke="#231f20" stroke-width="1.8"/>
<line x1="69.4" y1="253" x2="78.4" y2="253" stroke="#231f20" stroke-width="1.8"/>
<line x1="61.9" y1="171.6" x2="78.4" y2="171.6" stroke="#231f20" stroke-width="1.8"/>
<line x1="69.4" y1="90.3" x2="78.4" y2="90.3" stroke="#231f20" stroke-width="1.8"/>
<line x1="61.9" y1="8.9" x2="78.4" y2="8.9" stroke="#231f20" stroke-width="1.8"/>
<line x1="78.4" y1="659.8" x2="78.4" y2="676.6" stroke="#231f20" stroke-width="1.8"/>
<line x1="207.9" y1="659.8" x2="207.9" y2="676.6" stroke="#231f20" stroke-width="1.8"/>
<line x1="369.2" y1="659.8" x2="369.2" y2="676.6" stroke="#231f20" stroke-width="1.8"/>
<line x1="530.5" y1="659.8" x2="530.5" y2="676.6" stroke="#231f20" stroke-width="1.8"/>
<line x1="691.8" y1="659.8" x2="691.8" y2="676.6" stroke="#231f20" stroke-width="1.8"/>
<line x1="852.9" y1="659.8" x2="852.9" y2="676.6" stroke="#231f20" stroke-width="1.8"/>
<line x1="142.9" y1="659.8" x2="142.9" y2="668.8" stroke="#231f20" stroke-width="1.8"/>
<line x1="288.6" y1="659.8" x2="288.6" y2="668.8" stroke="#231f20" stroke-width="1.8"/>
<line x1="449.9" y1="659.8" x2="449.9" y2="668.8" stroke="#231f20" stroke-width="1.8"/>
<line x1="611.1" y1="659.8" x2="611.1" y2="668.8" stroke="#231f20" stroke-width="1.8"/>
<line x1="772.4" y1="659.8" x2="772.4" y2="668.8" stroke="#231f20" stroke-width="1.8"/>
<text transform="translate(59.4,671.5) scale(0.96,1)" text-anchor="end" class="tk">0</text>
<text transform="translate(59.4,509.4) scale(0.96,1)" text-anchor="end" class="tk">10</text>
<text transform="translate(59.4,347.4) scale(0.96,1)" text-anchor="end" class="tk">20</text>
<text transform="translate(59.4,185.3) scale(0.96,1)" text-anchor="end" class="tk">30</text>
<text transform="translate(59.4,23.3) scale(0.96,1)" text-anchor="end" class="tk">40</text>
<text transform="translate(76.6,706.2) scale(0.96,1)" text-anchor="middle" class="tk">0</text>
<text transform="translate(207.5,706.2) scale(0.96,1)" text-anchor="middle" class="tk">50</text>
<text transform="translate(374,706.2) scale(0.96,1)" text-anchor="middle" class="tk">100</text>
<text transform="translate(534,706.2) scale(0.96,1)" text-anchor="middle" class="tk">150</text>
<text transform="translate(693.2,706.2) scale(0.96,1)" text-anchor="middle" class="tk">200</text>
<text transform="translate(838.5,706.2) scale(0.96,1)" text-anchor="middle" class="tk">250</text>
<text transform="translate(25.7,441.8) rotate(-90)" class="ttl" letter-spacing="1.5">Frequency (%)</text>
<text x="357.1" y="745.8" class="ttl" letter-spacing="1.35">Gray Values</text>
<text x="413.2" y="784.6" class="lab" letter-spacing="1.5">(a)</text>
<rect x="966.5" y="8.9" width="776.4" height="650.9" fill="none" stroke="#231f20" stroke-width="2.6"/>
<line x1="950" y1="659.8" x2="966.5" y2="659.8" stroke="#231f20" stroke-width="1.8"/>
<line x1="957.5" y1="578.4" x2="966.5" y2="578.4" stroke="#231f20" stroke-width="1.8"/>
<line x1="950" y1="497.1" x2="966.5" y2="497.1" stroke="#231f20" stroke-width="1.8"/>
<line x1="957.5" y1="415.7" x2="966.5" y2="415.7" stroke="#231f20" stroke-width="1.8"/>
<line x1="950" y1="334.3" x2="966.5" y2="334.3" stroke="#231f20" stroke-width="1.8"/>
<line x1="957.5" y1="253" x2="966.5" y2="253" stroke="#231f20" stroke-width="1.8"/>
<line x1="950" y1="171.6" x2="966.5" y2="171.6" stroke="#231f20" stroke-width="1.8"/>
<line x1="957.5" y1="90.3" x2="966.5" y2="90.3" stroke="#231f20" stroke-width="1.8"/>
<line x1="950" y1="8.9" x2="966.5" y2="8.9" stroke="#231f20" stroke-width="1.8"/>
<line x1="966.5" y1="659.8" x2="966.5" y2="676.6" stroke="#231f20" stroke-width="1.8"/>
<line x1="1096" y1="659.8" x2="1096" y2="676.6" stroke="#231f20" stroke-width="1.8"/>
<line x1="1257.3" y1="659.8" x2="1257.3" y2="676.6" stroke="#231f20" stroke-width="1.8"/>
<line x1="1418.6" y1="659.8" x2="1418.6" y2="676.6" stroke="#231f20" stroke-width="1.8"/>
<line x1="1579.9" y1="659.8" x2="1579.9" y2="676.6" stroke="#231f20" stroke-width="1.8"/>
<line x1="1741" y1="659.8" x2="1741" y2="676.6" stroke="#231f20" stroke-width="1.8"/>
<line x1="1031" y1="659.8" x2="1031" y2="668.8" stroke="#231f20" stroke-width="1.8"/>
<line x1="1176.7" y1="659.8" x2="1176.7" y2="668.8" stroke="#231f20" stroke-width="1.8"/>
<line x1="1338" y1="659.8" x2="1338" y2="668.8" stroke="#231f20" stroke-width="1.8"/>
<line x1="1499.2" y1="659.8" x2="1499.2" y2="668.8" stroke="#231f20" stroke-width="1.8"/>
<line x1="1660.5" y1="659.8" x2="1660.5" y2="668.8" stroke="#231f20" stroke-width="1.8"/>
<text transform="translate(947.5,671.5) scale(0.96,1)" text-anchor="end" class="tk">0</text>
<text transform="translate(947.5,509.4) scale(0.96,1)" text-anchor="end" class="tk">10</text>
<text transform="translate(947.5,347.4) scale(0.96,1)" text-anchor="end" class="tk">20</text>
<text transform="translate(947.5,185.3) scale(0.96,1)" text-anchor="end" class="tk">30</text>
<text transform="translate(947.5,23.3) scale(0.96,1)" text-anchor="end" class="tk">40</text>
<text transform="translate(964.7,706.2) scale(0.96,1)" text-anchor="middle" class="tk">0</text>
<text transform="translate(1095.6,706.2) scale(0.96,1)" text-anchor="middle" class="tk">50</text>
<text transform="translate(1262.1,706.2) scale(0.96,1)" text-anchor="middle" class="tk">100</text>
<text transform="translate(1422.1,706.2) scale(0.96,1)" text-anchor="middle" class="tk">150</text>
<text transform="translate(1581.3,706.2) scale(0.96,1)" text-anchor="middle" class="tk">200</text>
<text transform="translate(1726.6,706.2) scale(0.96,1)" text-anchor="middle" class="tk">250</text>
<text transform="translate(913.1,440.1) rotate(-90)" class="ttl" letter-spacing="1.5">Frequency (%)</text>
<text x="1245.2" y="745.8" class="ttl" letter-spacing="1.35">Gray Values</text>
<text x="1303.3" y="784.1" class="lab" letter-spacing="1.5">(b)</text>
<rect x="78.4" y="819.1" width="776.8" height="651" fill="none" stroke="#231f20" stroke-width="2.6"/>
<line x1="61.9" y1="1470.1" x2="78.4" y2="1470.1" stroke="#231f20" stroke-width="1.8"/>
<line x1="69.4" y1="1388.7" x2="78.4" y2="1388.7" stroke="#231f20" stroke-width="1.8"/>
<line x1="61.9" y1="1307.3" x2="78.4" y2="1307.3" stroke="#231f20" stroke-width="1.8"/>
<line x1="69.4" y1="1226" x2="78.4" y2="1226" stroke="#231f20" stroke-width="1.8"/>
<line x1="61.9" y1="1144.6" x2="78.4" y2="1144.6" stroke="#231f20" stroke-width="1.8"/>
<line x1="69.4" y1="1063.2" x2="78.4" y2="1063.2" stroke="#231f20" stroke-width="1.8"/>
<line x1="61.9" y1="981.9" x2="78.4" y2="981.9" stroke="#231f20" stroke-width="1.8"/>
<line x1="69.4" y1="900.5" x2="78.4" y2="900.5" stroke="#231f20" stroke-width="1.8"/>
<line x1="61.9" y1="819.1" x2="78.4" y2="819.1" stroke="#231f20" stroke-width="1.8"/>
<line x1="78.4" y1="1470.1" x2="78.4" y2="1486.9" stroke="#231f20" stroke-width="1.8"/>
<line x1="207.9" y1="1470.1" x2="207.9" y2="1486.9" stroke="#231f20" stroke-width="1.8"/>
<line x1="369.2" y1="1470.1" x2="369.2" y2="1486.9" stroke="#231f20" stroke-width="1.8"/>
<line x1="530.5" y1="1470.1" x2="530.5" y2="1486.9" stroke="#231f20" stroke-width="1.8"/>
<line x1="691.8" y1="1470.1" x2="691.8" y2="1486.9" stroke="#231f20" stroke-width="1.8"/>
<line x1="852.9" y1="1470.1" x2="852.9" y2="1486.9" stroke="#231f20" stroke-width="1.8"/>
<line x1="142.9" y1="1470.1" x2="142.9" y2="1479.1" stroke="#231f20" stroke-width="1.8"/>
<line x1="288.6" y1="1470.1" x2="288.6" y2="1479.1" stroke="#231f20" stroke-width="1.8"/>
<line x1="449.9" y1="1470.1" x2="449.9" y2="1479.1" stroke="#231f20" stroke-width="1.8"/>
<line x1="611.1" y1="1470.1" x2="611.1" y2="1479.1" stroke="#231f20" stroke-width="1.8"/>
<line x1="772.4" y1="1470.1" x2="772.4" y2="1479.1" stroke="#231f20" stroke-width="1.8"/>
<text transform="translate(59.4,1481.8) scale(0.96,1)" text-anchor="end" class="tk">0</text>
<text transform="translate(59.4,1319.7) scale(0.96,1)" text-anchor="end" class="tk">10</text>
<text transform="translate(59.4,1157.6) scale(0.96,1)" text-anchor="end" class="tk">20</text>
<text transform="translate(59.4,995.6) scale(0.96,1)" text-anchor="end" class="tk">30</text>
<text transform="translate(59.4,833.5) scale(0.96,1)" text-anchor="end" class="tk">40</text>
<text transform="translate(76.6,1516.5) scale(0.96,1)" text-anchor="middle" class="tk">0</text>
<text transform="translate(207.5,1516.5) scale(0.96,1)" text-anchor="middle" class="tk">50</text>
<text transform="translate(374,1516.5) scale(0.96,1)" text-anchor="middle" class="tk">100</text>
<text transform="translate(534,1516.5) scale(0.96,1)" text-anchor="middle" class="tk">150</text>
<text transform="translate(693.2,1516.5) scale(0.96,1)" text-anchor="middle" class="tk">200</text>
<text transform="translate(838.5,1516.5) scale(0.96,1)" text-anchor="middle" class="tk">250</text>
<text transform="translate(25.7,1251.3) rotate(-90)" class="ttl" letter-spacing="1.5">Frequency (%)</text>
<text x="357.1" y="1556.1" class="ttl" letter-spacing="1.35">Gray Values</text>
<text x="413.3" y="1593.8" class="lab" letter-spacing="1.5">(c)</text>
<rect x="966.2" y="819" width="776.7" height="650.8" fill="none" stroke="#231f20" stroke-width="2.6"/>
<line x1="949.7" y1="1469.8" x2="966.2" y2="1469.8" stroke="#231f20" stroke-width="1.8"/>
<line x1="957.2" y1="1404.7" x2="966.2" y2="1404.7" stroke="#231f20" stroke-width="1.8"/>
<line x1="949.7" y1="1339.6" x2="966.2" y2="1339.6" stroke="#231f20" stroke-width="1.8"/>
<line x1="957.2" y1="1274.6" x2="966.2" y2="1274.6" stroke="#231f20" stroke-width="1.8"/>
<line x1="949.7" y1="1209.5" x2="966.2" y2="1209.5" stroke="#231f20" stroke-width="1.8"/>
<line x1="957.2" y1="1144.4" x2="966.2" y2="1144.4" stroke="#231f20" stroke-width="1.8"/>
<line x1="949.7" y1="1079.3" x2="966.2" y2="1079.3" stroke="#231f20" stroke-width="1.8"/>
<line x1="957.2" y1="1014.2" x2="966.2" y2="1014.2" stroke="#231f20" stroke-width="1.8"/>
<line x1="949.7" y1="949.2" x2="966.2" y2="949.2" stroke="#231f20" stroke-width="1.8"/>
<line x1="957.2" y1="884.1" x2="966.2" y2="884.1" stroke="#231f20" stroke-width="1.8"/>
<line x1="949.7" y1="819" x2="966.2" y2="819" stroke="#231f20" stroke-width="1.8"/>
<line x1="966.2" y1="1469.8" x2="966.2" y2="1486.6" stroke="#231f20" stroke-width="1.8"/>
<line x1="1095.7" y1="1469.8" x2="1095.7" y2="1486.6" stroke="#231f20" stroke-width="1.8"/>
<line x1="1257" y1="1469.8" x2="1257" y2="1486.6" stroke="#231f20" stroke-width="1.8"/>
<line x1="1418.3" y1="1469.8" x2="1418.3" y2="1486.6" stroke="#231f20" stroke-width="1.8"/>
<line x1="1579.6" y1="1469.8" x2="1579.6" y2="1486.6" stroke="#231f20" stroke-width="1.8"/>
<line x1="1740.7" y1="1469.8" x2="1740.7" y2="1486.6" stroke="#231f20" stroke-width="1.8"/>
<line x1="1030.7" y1="1469.8" x2="1030.7" y2="1478.8" stroke="#231f20" stroke-width="1.8"/>
<line x1="1176.4" y1="1469.8" x2="1176.4" y2="1478.8" stroke="#231f20" stroke-width="1.8"/>
<line x1="1337.7" y1="1469.8" x2="1337.7" y2="1478.8" stroke="#231f20" stroke-width="1.8"/>
<line x1="1499" y1="1469.8" x2="1499" y2="1478.8" stroke="#231f20" stroke-width="1.8"/>
<line x1="1660.2" y1="1469.8" x2="1660.2" y2="1478.8" stroke="#231f20" stroke-width="1.8"/>
<text transform="translate(947.2,1478.6) scale(0.96,1)" text-anchor="end" class="tk">0</text>
<text transform="translate(947.2,1349.6) scale(0.96,1)" text-anchor="end" class="tk">20</text>
<text transform="translate(947.2,1220.6) scale(0.96,1)" text-anchor="end" class="tk">40</text>
<text transform="translate(947.2,1091.5) scale(0.96,1)" text-anchor="end" class="tk">60</text>
<text transform="translate(947.2,962.5) scale(0.96,1)" text-anchor="end" class="tk">80</text>
<text transform="translate(947.2,833.5) scale(0.96,1)" text-anchor="end" class="tk">100</text>
<text transform="translate(964.4,1516.2) scale(0.96,1)" text-anchor="middle" class="tk">0</text>
<text transform="translate(1095.3,1516.2) scale(0.96,1)" text-anchor="middle" class="tk">50</text>
<text transform="translate(1261.8,1516.2) scale(0.96,1)" text-anchor="middle" class="tk">100</text>
<text transform="translate(1421.8,1516.2) scale(0.96,1)" text-anchor="middle" class="tk">150</text>
<text transform="translate(1581,1516.2) scale(0.96,1)" text-anchor="middle" class="tk">200</text>
<text transform="translate(1726.3,1516.2) scale(0.96,1)" text-anchor="middle" class="tk">250</text>
<text transform="translate(913.1,1247.2) rotate(-90)" class="ttl" letter-spacing="1.1">Frequency (%)</text>
<text x="1244.9" y="1555.8" class="ttl" letter-spacing="1.35">Gray Values</text>
<text x="1303.3" y="1593.7" class="lab" letter-spacing="1.5">(d)</text>
<rect x="79.7" y="1629.3" width="776.7" height="651.3" fill="none" stroke="#231f20" stroke-width="2.6"/>
<line x1="63.2" y1="2280.6" x2="79.7" y2="2280.6" stroke="#231f20" stroke-width="1.8"/>
<line x1="70.7" y1="2215.5" x2="79.7" y2="2215.5" stroke="#231f20" stroke-width="1.8"/>
<line x1="63.2" y1="2150.3" x2="79.7" y2="2150.3" stroke="#231f20" stroke-width="1.8"/>
<line x1="70.7" y1="2085.2" x2="79.7" y2="2085.2" stroke="#231f20" stroke-width="1.8"/>
<line x1="63.2" y1="2020.1" x2="79.7" y2="2020.1" stroke="#231f20" stroke-width="1.8"/>
<line x1="70.7" y1="1954.9" x2="79.7" y2="1954.9" stroke="#231f20" stroke-width="1.8"/>
<line x1="63.2" y1="1889.8" x2="79.7" y2="1889.8" stroke="#231f20" stroke-width="1.8"/>
<line x1="70.7" y1="1824.7" x2="79.7" y2="1824.7" stroke="#231f20" stroke-width="1.8"/>
<line x1="63.2" y1="1759.6" x2="79.7" y2="1759.6" stroke="#231f20" stroke-width="1.8"/>
<line x1="70.7" y1="1694.4" x2="79.7" y2="1694.4" stroke="#231f20" stroke-width="1.8"/>
<line x1="63.2" y1="1629.3" x2="79.7" y2="1629.3" stroke="#231f20" stroke-width="1.8"/>
<line x1="79.7" y1="2280.6" x2="79.7" y2="2297.4" stroke="#231f20" stroke-width="1.8"/>
<line x1="209.2" y1="2280.6" x2="209.2" y2="2297.4" stroke="#231f20" stroke-width="1.8"/>
<line x1="370.5" y1="2280.6" x2="370.5" y2="2297.4" stroke="#231f20" stroke-width="1.8"/>
<line x1="531.8" y1="2280.6" x2="531.8" y2="2297.4" stroke="#231f20" stroke-width="1.8"/>
<line x1="693.1" y1="2280.6" x2="693.1" y2="2297.4" stroke="#231f20" stroke-width="1.8"/>
<line x1="854.2" y1="2280.6" x2="854.2" y2="2297.4" stroke="#231f20" stroke-width="1.8"/>
<line x1="144.2" y1="2280.6" x2="144.2" y2="2289.6" stroke="#231f20" stroke-width="1.8"/>
<line x1="289.9" y1="2280.6" x2="289.9" y2="2289.6" stroke="#231f20" stroke-width="1.8"/>
<line x1="451.1" y1="2280.6" x2="451.1" y2="2289.6" stroke="#231f20" stroke-width="1.8"/>
<line x1="612.5" y1="2280.6" x2="612.5" y2="2289.6" stroke="#231f20" stroke-width="1.8"/>
<line x1="773.8" y1="2280.6" x2="773.8" y2="2289.6" stroke="#231f20" stroke-width="1.8"/>
<text transform="translate(60.7,2289.4) scale(0.96,1)" text-anchor="end" class="tk">0</text>
<text transform="translate(60.7,2160.3) scale(0.96,1)" text-anchor="end" class="tk">20</text>
<text transform="translate(60.7,2031.2) scale(0.96,1)" text-anchor="end" class="tk">40</text>
<text transform="translate(60.7,1902) scale(0.96,1)" text-anchor="end" class="tk">60</text>
<text transform="translate(60.7,1772.9) scale(0.96,1)" text-anchor="end" class="tk">80</text>
<text transform="translate(60.7,1643.8) scale(0.96,1)" text-anchor="end" class="tk">100</text>
<text transform="translate(77.9,2327) scale(0.96,1)" text-anchor="middle" class="tk">0</text>
<text transform="translate(208.8,2327) scale(0.96,1)" text-anchor="middle" class="tk">50</text>
<text transform="translate(375.3,2327) scale(0.96,1)" text-anchor="middle" class="tk">100</text>
<text transform="translate(535.3,2327) scale(0.96,1)" text-anchor="middle" class="tk">150</text>
<text transform="translate(694.5,2327) scale(0.96,1)" text-anchor="middle" class="tk">200</text>
<text transform="translate(839.8,2327) scale(0.96,1)" text-anchor="middle" class="tk">250</text>
<text transform="translate(25.7,2061.6) rotate(-90)" class="ttl" letter-spacing="1.5">Frequency (%)</text>
<text x="358.4" y="2366.6" class="ttl" letter-spacing="1.35">Gray Values</text>
<text x="413.3" y="2410.4" class="lab" letter-spacing="1.5">(e)</text>
<rect x="966" y="1630.1" width="776.9" height="650.4" fill="none" stroke="#231f20" stroke-width="2.6"/>
<line x1="949.5" y1="2280.5" x2="966" y2="2280.5" stroke="#231f20" stroke-width="1.8"/>
<line x1="957" y1="2215.5" x2="966" y2="2215.5" stroke="#231f20" stroke-width="1.8"/>
<line x1="949.5" y1="2150.4" x2="966" y2="2150.4" stroke="#231f20" stroke-width="1.8"/>
<line x1="957" y1="2085.4" x2="966" y2="2085.4" stroke="#231f20" stroke-width="1.8"/>
<line x1="949.5" y1="2020.3" x2="966" y2="2020.3" stroke="#231f20" stroke-width="1.8"/>
<line x1="957" y1="1955.3" x2="966" y2="1955.3" stroke="#231f20" stroke-width="1.8"/>
<line x1="949.5" y1="1890.3" x2="966" y2="1890.3" stroke="#231f20" stroke-width="1.8"/>
<line x1="957" y1="1825.2" x2="966" y2="1825.2" stroke="#231f20" stroke-width="1.8"/>
<line x1="949.5" y1="1760.2" x2="966" y2="1760.2" stroke="#231f20" stroke-width="1.8"/>
<line x1="957" y1="1695.1" x2="966" y2="1695.1" stroke="#231f20" stroke-width="1.8"/>
<line x1="949.5" y1="1630.1" x2="966" y2="1630.1" stroke="#231f20" stroke-width="1.8"/>
<line x1="966" y1="2280.5" x2="966" y2="2297.3" stroke="#231f20" stroke-width="1.8"/>
<line x1="1095.5" y1="2280.5" x2="1095.5" y2="2297.3" stroke="#231f20" stroke-width="1.8"/>
<line x1="1256.8" y1="2280.5" x2="1256.8" y2="2297.3" stroke="#231f20" stroke-width="1.8"/>
<line x1="1418.1" y1="2280.5" x2="1418.1" y2="2297.3" stroke="#231f20" stroke-width="1.8"/>
<line x1="1579.4" y1="2280.5" x2="1579.4" y2="2297.3" stroke="#231f20" stroke-width="1.8"/>
<line x1="1740.5" y1="2280.5" x2="1740.5" y2="2297.3" stroke="#231f20" stroke-width="1.8"/>
<line x1="1030.5" y1="2280.5" x2="1030.5" y2="2289.5" stroke="#231f20" stroke-width="1.8"/>
<line x1="1176.2" y1="2280.5" x2="1176.2" y2="2289.5" stroke="#231f20" stroke-width="1.8"/>
<line x1="1337.5" y1="2280.5" x2="1337.5" y2="2289.5" stroke="#231f20" stroke-width="1.8"/>
<line x1="1498.8" y1="2280.5" x2="1498.8" y2="2289.5" stroke="#231f20" stroke-width="1.8"/>
<line x1="1660" y1="2280.5" x2="1660" y2="2289.5" stroke="#231f20" stroke-width="1.8"/>
<text transform="translate(947,2289.3) scale(0.96,1)" text-anchor="end" class="tk">0</text>
<text transform="translate(947,2160.4) scale(0.96,1)" text-anchor="end" class="tk">20</text>
<text transform="translate(947,2031.4) scale(0.96,1)" text-anchor="end" class="tk">40</text>
<text transform="translate(947,1902.5) scale(0.96,1)" text-anchor="end" class="tk">60</text>
<text transform="translate(947,1773.5) scale(0.96,1)" text-anchor="end" class="tk">80</text>
<text transform="translate(947,1644.6) scale(0.96,1)" text-anchor="end" class="tk">100</text>
<text transform="translate(964.2,2326.9) scale(0.96,1)" text-anchor="middle" class="tk">0</text>
<text transform="translate(1095.1,2326.9) scale(0.96,1)" text-anchor="middle" class="tk">50</text>
<text transform="translate(1261.6,2326.9) scale(0.96,1)" text-anchor="middle" class="tk">100</text>
<text transform="translate(1421.6,2326.9) scale(0.96,1)" text-anchor="middle" class="tk">150</text>
<text transform="translate(1580.8,2326.9) scale(0.96,1)" text-anchor="middle" class="tk">200</text>
<text transform="translate(1726.1,2326.9) scale(0.96,1)" text-anchor="middle" class="tk">250</text>
<text transform="translate(910.8,2057.6) rotate(-90)" class="ttl" letter-spacing="1.1">Frequency (%)</text>
<text x="1244.7" y="2366.5" class="ttl" letter-spacing="1.35">Gray Values</text>
<text x="1303.3" y="2410.7" class="lab" letter-spacing="1.5">(f)</text>
<text x="141" y="90" class="pk" letter-spacing="1">Peaks</text>
<text x="1059" y="307.6" class="pk" letter-spacing="1">Peaks</text>
<text x="1622.4" y="219.7" class="pk" letter-spacing="1">Peaks</text>
<text x="1068.5" y="926.8" class="pk" letter-spacing="1">Peaks</text>
<text x="502.7" y="2076.2" class="pk" letter-spacing="1">Peaks</text>
<text x="1514.8" y="2137.6" class="pk" letter-spacing="1">Peaks</text>
</svg></body></html>
